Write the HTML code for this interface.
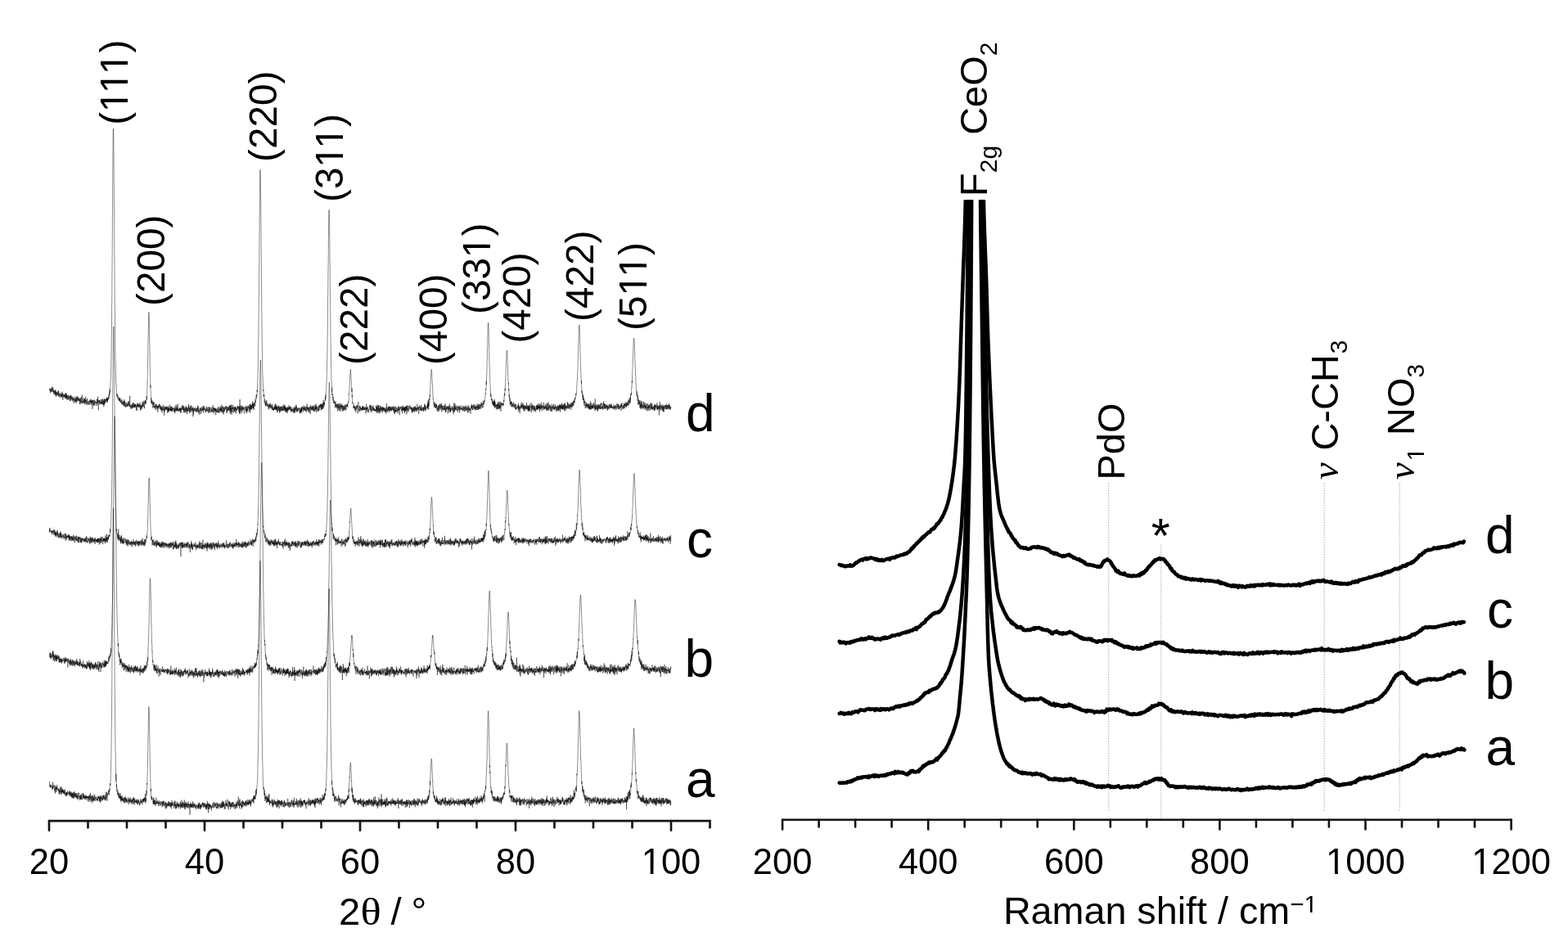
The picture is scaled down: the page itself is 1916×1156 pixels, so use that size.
<!DOCTYPE html>
<html><head><meta charset="utf-8"><title>XRD and Raman</title>
<style>html,body{margin:0;padding:0;background:#fff;overflow:hidden}svg{display:block}</style></head>
<body>
<svg width="1916" height="1156" viewBox="0 0 1916 1156">
<defs><clipPath id="rc"><rect x="1000" y="244.3" width="900" height="780"/></clipPath></defs>
<rect width="1916" height="1156" fill="#fff"/>
<g fill="none" stroke="#000" stroke-width="0.45" stroke-linejoin="round">
<path d="M60.3,476.6 L60.5,477.4 L60.6,476.1 L60.8,474.8 L60.9,475.9 L61.1,474.7 L61.3,477.2 L61.4,480.2 L61.6,476.1 L61.7,475.9 L61.9,478.5 L62.1,478.3 L62.2,477.8 L62.4,475.5 L62.5,477.6 L62.7,479.4 L62.9,474.7 L63.0,476.9 L63.2,473.6 L63.3,472.7 L63.5,473.9 L63.7,477.7 L63.8,475.4 L64.0,479.0 L64.1,479.1 L64.3,478.1 L64.5,472.8 L64.6,477.4 L64.8,478.6 L64.9,479.1 L65.1,475.4 L65.3,477.9 L65.4,476.8 L65.6,477.2 L65.7,481.6 L65.9,477.4 L66.1,479.2 L66.2,481.4 L66.4,478.1 L66.5,479.3 L66.7,479.9 L66.9,479.8 L67.0,476.9 L67.2,480.0 L67.3,483.0 L67.5,476.4 L67.7,482.0 L67.8,480.4 L68.0,478.7 L68.1,484.8 L68.3,482.1 L68.5,477.6 L68.6,480.6 L68.8,481.8 L68.9,480.1 L69.1,482.2 L69.3,480.6 L69.4,483.5 L69.6,484.1 L69.7,479.4 L69.9,481.4 L70.1,480.0 L70.2,481.4 L70.4,478.4 L70.5,479.9 L70.7,480.8 L70.9,483.4 L71.0,484.1 L71.2,478.4 L71.3,479.7 L71.5,483.1 L71.7,477.1 L71.8,480.7 L72.0,481.6 L72.1,484.8 L72.3,483.5 L72.5,481.3 L72.6,481.2 L72.8,481.6 L72.9,485.7 L73.1,481.3 L73.3,481.6 L73.4,483.2 L73.6,482.2 L73.7,482.1 L73.9,480.0 L74.1,482.6 L74.2,481.7 L74.4,485.4 L74.5,484.3 L74.7,482.8 L74.9,484.5 L75.0,482.2 L75.2,485.5 L75.3,483.1 L75.5,484.5 L75.7,480.3 L75.8,484.1 L76.0,479.5 L76.1,478.7 L76.3,482.8 L76.5,481.5 L76.6,484.0 L76.8,488.8 L76.9,481.8 L77.1,481.2 L77.3,484.3 L77.4,485.0 L77.6,483.5 L77.7,483.5 L77.9,485.7 L78.1,485.3 L78.2,481.8 L78.4,484.0 L78.5,484.4 L78.7,481.9 L78.9,485.0 L79.0,482.5 L79.2,486.7 L79.3,485.0 L79.5,484.8 L79.7,483.3 L79.8,484.4 L80.0,480.2 L80.1,482.2 L80.3,485.7 L80.5,480.0 L80.6,486.9 L80.8,481.0 L80.9,486.8 L81.1,483.2 L81.3,487.0 L81.4,485.5 L81.6,481.7 L81.7,488.2 L81.9,488.7 L82.1,485.3 L82.2,484.8 L82.4,485.1 L82.5,483.3 L82.7,488.1 L82.9,484.4 L83.0,485.6 L83.2,483.9 L83.3,484.3 L83.5,482.9 L83.7,488.8 L83.8,485.6 L84.0,488.2 L84.1,486.1 L84.3,484.5 L84.5,485.4 L84.6,484.9 L84.8,486.2 L84.9,485.4 L85.1,485.6 L85.3,483.2 L85.4,484.5 L85.6,490.2 L85.7,484.9 L85.9,484.1 L86.1,487.4 L86.2,489.9 L86.4,483.3 L86.5,486.2 L86.7,485.3 L86.9,482.8 L87.0,488.5 L87.2,486.8 L87.3,487.1 L87.5,485.3 L87.7,488.1 L87.8,485.8 L88.0,486.8 L88.1,484.6 L88.3,484.4 L88.5,490.3 L88.6,486.1 L88.8,488.0 L88.9,487.3 L89.1,486.4 L89.3,486.3 L89.4,489.0 L89.6,486.9 L89.7,487.3 L89.9,487.7 L90.1,492.6 L90.2,489.3 L90.4,488.7 L90.5,486.5 L90.7,484.7 L90.9,490.1 L91.0,490.2 L91.2,487.7 L91.3,489.3 L91.5,489.9 L91.7,490.0 L91.8,490.3 L92.0,487.1 L92.1,491.7 L92.3,485.4 L92.5,490.3 L92.6,489.5 L92.8,490.4 L92.9,492.8 L93.1,491.9 L93.3,485.9 L93.4,484.7 L93.6,490.5 L93.7,486.3 L93.9,488.6 L94.1,490.6 L94.2,485.0 L94.4,483.9 L94.5,489.4 L94.7,489.0 L94.9,488.3 L95.0,489.0 L95.2,487.0 L95.3,485.5 L95.5,488.7 L95.7,486.8 L95.8,485.3 L96.0,490.3 L96.1,489.0 L96.3,490.2 L96.5,487.0 L96.6,487.8 L96.8,487.0 L96.9,487.3 L97.1,489.8 L97.3,487.6 L97.4,490.3 L97.6,490.3 L97.7,494.2 L97.9,486.4 L98.1,493.3 L98.2,489.4 L98.4,489.6 L98.5,486.4 L98.7,488.7 L98.9,491.5 L99.0,489.6 L99.2,490.0 L99.3,489.2 L99.5,492.5 L99.7,489.9 L99.8,484.9 L100.0,488.4 L100.1,485.5 L100.3,482.5 L100.5,488.8 L100.6,493.1 L100.8,490.2 L100.9,487.4 L101.1,488.0 L101.3,492.8 L101.4,490.6 L101.6,490.3 L101.7,490.1 L101.9,490.4 L102.1,492.2 L102.2,491.6 L102.4,490.9 L102.5,486.1 L102.7,491.6 L102.9,488.9 L103.0,493.0 L103.2,487.6 L103.3,490.2 L103.5,490.5 L103.7,487.5 L103.8,494.5 L104.0,493.9 L104.1,489.5 L104.3,492.4 L104.5,492.2 L104.6,484.7 L104.8,491.3 L104.9,490.6 L105.1,490.9 L105.3,488.3 L105.4,490.1 L105.6,490.4 L105.7,493.5 L105.9,491.6 L106.1,490.8 L106.2,494.4 L106.4,489.6 L106.5,490.0 L106.7,486.7 L106.9,494.5 L107.0,493.2 L107.2,493.1 L107.3,492.5 L107.5,491.3 L107.7,491.5 L107.8,490.5 L108.0,490.6 L108.1,491.2 L108.3,494.6 L108.5,492.4 L108.6,491.0 L108.8,489.8 L108.9,489.7 L109.1,494.9 L109.3,492.4 L109.4,491.4 L109.6,490.4 L109.7,488.7 L109.9,491.1 L110.1,493.3 L110.2,490.4 L110.4,490.8 L110.5,490.8 L110.7,491.6 L110.9,487.7 L111.0,490.8 L111.2,489.4 L111.3,493.4 L111.5,488.2 L111.7,492.7 L111.8,494.9 L112.0,490.7 L112.1,490.1 L112.3,491.9 L112.5,491.5 L112.6,489.2 L112.8,492.5 L112.9,499.8 L113.1,490.9 L113.3,491.1 L113.4,489.1 L113.6,492.3 L113.7,488.7 L113.9,489.0 L114.1,494.5 L114.2,489.5 L114.4,494.1 L114.5,495.1 L114.7,492.2 L114.9,492.9 L115.0,496.1 L115.2,491.2 L115.3,490.3 L115.5,488.5 L115.7,491.8 L115.8,495.1 L116.0,493.9 L116.1,489.5 L116.3,489.7 L116.5,490.5 L116.6,492.4 L116.8,491.2 L116.9,492.2 L117.1,492.4 L117.3,491.0 L117.4,491.6 L117.6,492.2 L117.7,491.6 L117.9,492.9 L118.1,496.1 L118.2,493.1 L118.4,491.9 L118.5,487.9 L118.7,493.4 L118.9,487.3 L119.0,488.5 L119.2,493.8 L119.3,493.4 L119.5,491.4 L119.7,484.7 L119.8,490.9 L120.0,490.2 L120.1,493.3 L120.3,501.1 L120.5,492.3 L120.6,490.0 L120.8,489.1 L120.9,491.7 L121.1,491.4 L121.3,489.1 L121.4,492.1 L121.6,489.1 L121.7,494.3 L121.9,494.2 L122.1,494.3 L122.2,490.7 L122.4,493.0 L122.5,491.5 L122.7,490.9 L122.9,491.0 L123.0,488.8 L123.2,488.4 L123.3,493.5 L123.5,491.3 L123.7,492.2 L123.8,494.0 L124.0,487.7 L124.1,489.9 L124.3,492.0 L124.5,492.5 L124.6,490.7 L124.8,494.0 L124.9,492.1 L125.1,488.8 L125.3,489.4 L125.4,493.4 L125.6,492.5 L125.7,487.1 L125.9,494.5 L126.1,492.8 L126.2,494.5 L126.4,490.5 L126.5,490.6 L126.7,488.7 L126.9,497.1 L127.0,490.8 L127.2,494.8 L127.3,489.6 L127.5,491.4 L127.7,487.1 L127.8,490.1 L128.0,493.1 L128.1,487.9 L128.3,493.2 L128.5,491.5 L128.6,488.2 L128.8,489.4 L128.9,489.4 L129.1,490.2 L129.3,489.0 L129.4,488.3 L129.6,489.4 L129.7,487.6 L129.9,486.9 L130.1,489.6 L130.2,491.6 L130.4,485.9 L130.5,489.3 L130.7,487.6 L130.9,486.7 L131.0,490.7 L131.2,487.4 L131.3,491.8 L131.5,486.4 L131.7,488.8 L131.8,487.1 L132.0,485.7 L132.1,488.5 L132.3,486.4 L132.5,487.8 L132.6,486.0 L132.8,483.2 L132.9,485.0 L133.1,484.9 L133.3,486.5 L133.4,481.6 L133.6,483.0 L133.7,478.4 L133.9,483.0 L134.1,478.1 L134.2,475.4 L134.4,478.2 L134.5,479.4 L134.7,471.6 L134.9,470.4 L135.0,468.6 L135.2,464.5 L135.3,463.9 L135.5,456.2 L135.7,450.3 L135.8,445.9 L136.0,433.8 L136.1,425.8 L136.3,409.9 L136.5,394.6 L136.6,376.3 L136.8,365.6 L136.9,340.0 L137.1,318.5 L137.3,294.0 L137.4,269.5 L137.6,244.6 L137.7,222.7 L137.9,197.9 L138.1,179.2 L138.2,165.8 L138.4,157.5 L138.5,157.1 L138.7,162.1 L138.9,172.1 L139.0,188.0 L139.2,209.2 L139.3,235.5 L139.5,253.2 L139.7,282.7 L139.8,304.5 L140.0,331.8 L140.1,349.4 L140.3,371.0 L140.5,386.1 L140.6,403.1 L140.8,422.3 L140.9,432.7 L141.1,439.7 L141.3,445.3 L141.4,451.3 L141.6,460.3 L141.7,465.6 L141.9,469.2 L142.1,472.1 L142.2,472.1 L142.4,476.5 L142.5,478.2 L142.7,482.7 L142.9,485.2 L143.0,481.6 L143.2,481.0 L143.3,483.4 L143.5,482.8 L143.7,483.1 L143.8,485.3 L144.0,483.6 L144.1,487.8 L144.3,486.6 L144.5,487.9 L144.6,487.3 L144.8,485.0 L144.9,486.2 L145.1,488.1 L145.3,487.7 L145.4,489.8 L145.6,489.5 L145.7,486.6 L145.9,490.1 L146.1,487.1 L146.2,489.0 L146.4,489.9 L146.5,486.0 L146.7,491.1 L146.9,491.4 L147.0,490.9 L147.2,490.4 L147.3,490.7 L147.5,489.4 L147.7,491.2 L147.8,490.6 L148.0,492.2 L148.1,487.2 L148.3,492.8 L148.5,492.7 L148.6,492.1 L148.8,491.5 L148.9,493.9 L149.1,488.9 L149.3,493.9 L149.4,493.4 L149.6,493.6 L149.7,493.9 L149.9,491.6 L150.1,492.6 L150.2,494.7 L150.4,494.3 L150.5,493.9 L150.7,490.0 L150.9,494.7 L151.0,496.3 L151.2,495.9 L151.3,494.2 L151.5,490.1 L151.7,495.9 L151.8,493.5 L152.0,488.0 L152.1,494.8 L152.3,490.5 L152.5,491.0 L152.6,492.6 L152.8,497.0 L152.9,493.3 L153.1,494.8 L153.3,498.2 L153.4,497.9 L153.6,494.1 L153.7,493.8 L153.9,491.5 L154.1,492.8 L154.2,495.4 L154.4,495.4 L154.5,494.8 L154.7,496.8 L154.9,492.8 L155.0,494.5 L155.2,496.3 L155.3,496.0 L155.5,497.2 L155.7,495.6 L155.8,494.0 L156.0,495.6 L156.1,492.5 L156.3,491.1 L156.5,496.2 L156.6,494.7 L156.8,495.6 L156.9,491.0 L157.1,494.1 L157.3,493.6 L157.4,493.0 L157.6,489.8 L157.7,494.3 L157.9,497.1 L158.1,496.7 L158.2,493.7 L158.4,495.1 L158.5,496.9 L158.7,483.7 L158.9,494.9 L159.0,496.5 L159.2,496.8 L159.3,499.2 L159.5,497.9 L159.7,496.0 L159.8,496.0 L160.0,497.1 L160.1,494.1 L160.3,495.3 L160.5,497.5 L160.6,499.9 L160.8,495.0 L160.9,495.3 L161.1,495.9 L161.3,498.5 L161.4,495.4 L161.6,498.9 L161.7,493.3 L161.9,495.1 L162.1,494.7 L162.2,497.3 L162.4,498.0 L162.5,492.1 L162.7,493.5 L162.9,496.4 L163.0,494.1 L163.2,492.1 L163.3,498.0 L163.5,496.8 L163.7,496.8 L163.8,494.6 L164.0,498.0 L164.1,495.1 L164.3,498.2 L164.5,493.6 L164.6,493.8 L164.8,496.2 L164.9,494.1 L165.1,497.3 L165.3,496.4 L165.4,493.6 L165.6,495.9 L165.7,495.0 L165.9,497.9 L166.1,494.3 L166.2,494.8 L166.4,498.6 L166.5,501.0 L166.7,500.4 L166.9,496.1 L167.0,496.4 L167.2,502.2 L167.3,495.6 L167.5,493.6 L167.7,496.1 L167.8,496.9 L168.0,494.0 L168.1,492.1 L168.3,492.6 L168.5,497.4 L168.6,494.2 L168.8,495.6 L168.9,496.4 L169.1,497.3 L169.3,495.1 L169.4,497.1 L169.6,493.9 L169.7,495.1 L169.9,493.6 L170.1,498.5 L170.2,495.8 L170.4,494.2 L170.5,495.1 L170.7,495.4 L170.9,497.5 L171.0,492.2 L171.2,493.5 L171.3,495.0 L171.5,501.7 L171.7,498.1 L171.8,495.6 L172.0,497.5 L172.1,500.6 L172.3,495.3 L172.5,495.0 L172.6,498.6 L172.8,496.9 L172.9,497.3 L173.1,494.6 L173.3,500.2 L173.4,499.6 L173.6,497.0 L173.7,497.2 L173.9,491.0 L174.1,497.1 L174.2,495.1 L174.4,496.5 L174.5,497.1 L174.7,494.7 L174.9,491.5 L175.0,496.2 L175.2,493.6 L175.3,494.5 L175.5,493.8 L175.7,494.3 L175.8,489.7 L176.0,497.7 L176.1,495.4 L176.3,497.3 L176.5,499.2 L176.6,494.6 L176.8,490.2 L176.9,490.5 L177.1,491.3 L177.3,492.7 L177.4,493.9 L177.6,488.9 L177.7,494.0 L177.9,489.4 L178.1,493.2 L178.2,491.9 L178.4,490.9 L178.5,490.9 L178.7,489.0 L178.9,487.9 L179.0,484.2 L179.2,486.4 L179.3,488.7 L179.5,486.5 L179.7,481.8 L179.8,476.4 L180.0,467.1 L180.1,467.5 L180.3,457.3 L180.5,449.5 L180.6,440.5 L180.8,431.9 L180.9,421.3 L181.1,412.0 L181.3,401.5 L181.4,393.9 L181.6,389.1 L181.7,383.0 L181.9,381.4 L182.1,383.4 L182.2,388.0 L182.4,393.3 L182.5,402.6 L182.7,413.4 L182.9,422.6 L183.0,432.2 L183.2,444.3 L183.3,448.5 L183.5,457.9 L183.7,462.3 L183.8,473.7 L184.0,470.7 L184.1,477.6 L184.3,481.2 L184.5,486.5 L184.6,488.4 L184.8,491.9 L184.9,486.3 L185.1,492.6 L185.3,491.0 L185.4,490.8 L185.6,494.1 L185.7,491.2 L185.9,488.9 L186.1,493.2 L186.2,490.9 L186.4,491.9 L186.5,495.6 L186.7,496.3 L186.9,498.8 L187.0,494.9 L187.2,492.0 L187.3,493.9 L187.5,493.7 L187.7,490.9 L187.8,497.1 L188.0,494.7 L188.1,491.7 L188.3,498.0 L188.5,496.2 L188.6,497.4 L188.8,496.9 L188.9,498.2 L189.1,496.9 L189.3,499.7 L189.4,497.9 L189.6,497.9 L189.7,498.0 L189.9,493.8 L190.1,496.8 L190.2,496.7 L190.4,497.8 L190.5,494.2 L190.7,501.2 L190.9,497.7 L191.0,494.7 L191.2,493.6 L191.3,496.4 L191.5,497.4 L191.7,496.0 L191.8,497.9 L192.0,496.3 L192.1,499.1 L192.3,496.2 L192.5,497.8 L192.6,500.1 L192.8,503.8 L192.9,495.6 L193.1,496.9 L193.3,496.1 L193.4,499.9 L193.6,495.4 L193.7,497.0 L193.9,498.1 L194.1,495.9 L194.2,496.0 L194.4,497.1 L194.5,493.4 L194.7,495.0 L194.9,497.4 L195.0,498.7 L195.2,497.9 L195.3,494.3 L195.5,497.3 L195.7,500.3 L195.8,499.7 L196.0,498.3 L196.1,496.4 L196.3,500.0 L196.5,497.2 L196.6,495.9 L196.8,496.7 L196.9,501.9 L197.1,499.1 L197.3,501.3 L197.4,497.5 L197.6,500.8 L197.7,497.3 L197.9,498.3 L198.1,504.4 L198.2,500.5 L198.4,497.6 L198.5,498.6 L198.7,499.6 L198.9,501.6 L199.0,497.7 L199.2,494.8 L199.3,498.2 L199.5,498.9 L199.7,499.2 L199.8,501.9 L200.0,499.7 L200.1,500.8 L200.3,496.4 L200.5,501.0 L200.6,507.7 L200.8,500.8 L200.9,500.1 L201.1,499.4 L201.3,503.2 L201.4,496.9 L201.6,498.8 L201.7,500.2 L201.9,500.8 L202.1,498.1 L202.2,499.9 L202.4,498.0 L202.5,499.4 L202.7,498.9 L202.9,496.6 L203.0,499.2 L203.2,501.2 L203.3,497.0 L203.5,498.7 L203.7,500.8 L203.8,496.8 L204.0,499.7 L204.1,496.9 L204.3,501.9 L204.5,504.6 L204.6,504.0 L204.8,498.8 L204.9,501.1 L205.1,499.6 L205.3,499.6 L205.4,502.9 L205.6,496.4 L205.7,503.8 L205.9,499.3 L206.1,502.7 L206.2,499.9 L206.4,497.9 L206.5,500.1 L206.7,502.5 L206.9,499.6 L207.0,500.6 L207.2,498.3 L207.3,494.6 L207.5,501.6 L207.7,501.1 L207.8,499.9 L208.0,499.7 L208.1,501.9 L208.3,498.5 L208.5,497.9 L208.6,499.1 L208.8,502.3 L208.9,496.4 L209.1,502.3 L209.3,498.1 L209.4,497.1 L209.6,502.5 L209.7,499.4 L209.9,496.7 L210.1,498.8 L210.2,501.8 L210.4,502.4 L210.5,498.7 L210.7,500.6 L210.9,502.6 L211.0,498.2 L211.2,500.5 L211.3,499.6 L211.5,498.5 L211.7,498.6 L211.8,499.9 L212.0,499.8 L212.1,498.5 L212.3,498.8 L212.5,502.3 L212.6,500.3 L212.8,501.8 L212.9,502.6 L213.1,501.2 L213.3,505.0 L213.4,497.9 L213.6,501.7 L213.7,499.1 L213.9,504.1 L214.1,503.8 L214.2,495.4 L214.4,497.6 L214.5,501.4 L214.7,501.7 L214.9,501.6 L215.0,499.7 L215.2,501.0 L215.3,501.4 L215.5,499.7 L215.7,502.3 L215.8,494.7 L216.0,501.4 L216.1,497.6 L216.3,502.2 L216.5,499.4 L216.6,497.9 L216.8,500.8 L216.9,497.9 L217.1,497.9 L217.3,493.5 L217.4,500.0 L217.6,501.2 L217.7,502.4 L217.9,499.7 L218.1,502.5 L218.2,500.1 L218.4,499.8 L218.5,501.4 L218.7,502.5 L218.9,499.3 L219.0,499.5 L219.2,499.7 L219.3,500.3 L219.5,498.0 L219.7,502.5 L219.8,499.2 L220.0,501.2 L220.1,498.2 L220.3,501.0 L220.5,501.8 L220.6,499.2 L220.8,504.8 L220.9,501.0 L221.1,504.3 L221.3,502.4 L221.4,498.7 L221.6,499.3 L221.7,501.2 L221.9,500.4 L222.1,500.3 L222.2,499.6 L222.4,496.1 L222.5,499.7 L222.7,495.2 L222.9,501.1 L223.0,498.6 L223.2,498.6 L223.3,499.8 L223.5,500.9 L223.7,497.0 L223.8,496.3 L224.0,497.9 L224.1,495.6 L224.3,498.1 L224.5,504.0 L224.6,497.9 L224.8,501.8 L224.9,497.2 L225.1,501.0 L225.3,499.6 L225.4,500.2 L225.6,501.7 L225.7,504.4 L225.9,500.8 L226.1,500.7 L226.2,498.2 L226.4,501.7 L226.5,499.8 L226.7,502.3 L226.9,500.3 L227.0,504.4 L227.2,495.9 L227.3,499.8 L227.5,502.5 L227.7,499.6 L227.8,498.6 L228.0,499.8 L228.1,497.3 L228.3,500.7 L228.5,506.1 L228.6,503.1 L228.8,497.9 L228.9,498.5 L229.1,499.6 L229.3,502.8 L229.4,498.6 L229.6,498.9 L229.7,502.6 L229.9,502.5 L230.1,499.0 L230.2,498.0 L230.4,494.1 L230.5,498.9 L230.7,495.4 L230.9,502.3 L231.0,499.1 L231.2,501.7 L231.3,504.9 L231.5,503.3 L231.7,497.9 L231.8,502.6 L232.0,503.3 L232.1,498.9 L232.3,498.4 L232.5,500.4 L232.6,496.9 L232.8,504.0 L232.9,495.1 L233.1,498.1 L233.3,500.0 L233.4,500.1 L233.6,501.0 L233.7,501.3 L233.9,500.2 L234.1,503.3 L234.2,495.7 L234.4,500.7 L234.5,499.0 L234.7,501.2 L234.9,501.2 L235.0,498.6 L235.2,499.2 L235.3,502.5 L235.5,501.5 L235.7,499.1 L235.8,509.1 L236.0,506.0 L236.1,497.3 L236.3,501.4 L236.5,506.5 L236.6,502.5 L236.8,501.2 L236.9,500.2 L237.1,499.5 L237.3,500.2 L237.4,499.5 L237.6,502.5 L237.7,499.8 L237.9,499.7 L238.1,498.0 L238.2,500.6 L238.4,498.7 L238.5,500.3 L238.7,503.2 L238.9,501.6 L239.0,501.9 L239.2,501.6 L239.3,500.9 L239.5,500.5 L239.7,500.1 L239.8,502.5 L240.0,498.3 L240.1,503.9 L240.3,500.9 L240.5,499.1 L240.6,499.7 L240.8,499.2 L240.9,501.2 L241.1,499.2 L241.3,503.4 L241.4,499.0 L241.6,495.6 L241.7,499.1 L241.9,496.2 L242.1,500.7 L242.2,503.3 L242.4,502.3 L242.5,497.8 L242.7,499.1 L242.9,504.9 L243.0,501.6 L243.2,500.8 L243.3,503.3 L243.5,506.5 L243.7,503.8 L243.8,501.2 L244.0,501.7 L244.1,502.3 L244.3,499.4 L244.5,498.4 L244.6,501.0 L244.8,498.7 L244.9,500.7 L245.1,501.1 L245.3,506.2 L245.4,498.9 L245.6,500.6 L245.7,500.5 L245.9,501.9 L246.1,503.3 L246.2,499.7 L246.4,499.0 L246.5,497.1 L246.7,498.7 L246.9,502.1 L247.0,501.0 L247.2,498.5 L247.3,500.0 L247.5,500.9 L247.7,502.0 L247.8,499.5 L248.0,500.3 L248.1,496.7 L248.3,498.2 L248.5,504.6 L248.6,495.8 L248.8,500.1 L248.9,501.4 L249.1,500.0 L249.3,499.0 L249.4,500.7 L249.6,500.9 L249.7,500.7 L249.9,496.5 L250.1,500.5 L250.2,498.9 L250.4,499.6 L250.5,501.4 L250.7,502.3 L250.9,502.9 L251.0,499.7 L251.2,503.0 L251.3,503.6 L251.5,503.5 L251.7,504.1 L251.8,500.5 L252.0,500.5 L252.1,502.7 L252.3,497.7 L252.5,501.3 L252.6,499.6 L252.8,500.0 L252.9,496.8 L253.1,498.8 L253.3,500.8 L253.4,502.9 L253.6,503.1 L253.7,500.5 L253.9,500.4 L254.1,498.9 L254.2,501.8 L254.4,500.3 L254.5,502.2 L254.7,504.9 L254.9,500.7 L255.0,497.4 L255.2,498.8 L255.3,497.5 L255.5,498.1 L255.7,503.8 L255.8,501.3 L256.0,497.3 L256.1,502.3 L256.3,503.7 L256.5,500.0 L256.6,499.2 L256.8,500.0 L256.9,501.4 L257.1,502.3 L257.3,503.5 L257.4,503.6 L257.6,503.5 L257.7,503.9 L257.9,502.3 L258.1,497.3 L258.2,500.5 L258.4,501.5 L258.5,499.9 L258.7,502.9 L258.9,499.9 L259.0,498.6 L259.2,504.1 L259.3,502.3 L259.5,501.3 L259.7,502.9 L259.8,503.2 L260.0,501.5 L260.1,495.1 L260.3,499.2 L260.5,499.7 L260.6,498.5 L260.8,501.2 L260.9,503.5 L261.1,499.6 L261.3,498.1 L261.4,505.4 L261.6,499.7 L261.7,497.9 L261.9,501.2 L262.1,501.7 L262.2,499.1 L262.4,502.5 L262.5,499.6 L262.7,498.6 L262.9,501.4 L263.0,502.4 L263.2,499.2 L263.3,501.4 L263.5,500.4 L263.7,507.2 L263.8,499.0 L264.0,503.8 L264.1,500.5 L264.3,500.1 L264.5,502.3 L264.6,502.7 L264.8,503.5 L264.9,501.4 L265.1,499.2 L265.3,499.4 L265.4,501.8 L265.6,501.9 L265.7,503.8 L265.9,501.6 L266.1,503.0 L266.2,504.1 L266.4,501.0 L266.5,497.2 L266.7,497.9 L266.9,497.3 L267.0,504.2 L267.2,498.6 L267.3,503.4 L267.5,503.0 L267.7,504.5 L267.8,502.9 L268.0,500.3 L268.1,500.1 L268.3,500.7 L268.5,500.9 L268.6,499.3 L268.8,500.4 L268.9,504.2 L269.1,496.6 L269.3,501.1 L269.4,498.4 L269.6,500.9 L269.7,502.4 L269.9,500.4 L270.1,502.3 L270.2,496.8 L270.4,503.0 L270.5,499.1 L270.7,501.9 L270.9,500.9 L271.0,494.5 L271.2,498.7 L271.3,501.0 L271.5,504.0 L271.7,501.1 L271.8,501.0 L272.0,497.2 L272.1,503.7 L272.3,504.6 L272.5,500.5 L272.6,499.9 L272.8,496.7 L272.9,502.4 L273.1,506.6 L273.3,502.0 L273.4,503.3 L273.6,501.6 L273.7,498.1 L273.9,503.4 L274.1,497.5 L274.2,499.9 L274.4,501.0 L274.5,502.4 L274.7,501.3 L274.9,501.2 L275.0,498.6 L275.2,497.4 L275.3,500.5 L275.5,498.7 L275.7,497.3 L275.8,497.4 L276.0,499.2 L276.1,496.0 L276.3,497.2 L276.5,496.5 L276.6,500.7 L276.8,501.2 L276.9,504.9 L277.1,496.8 L277.3,498.7 L277.4,502.4 L277.6,499.8 L277.7,499.5 L277.9,504.2 L278.1,498.8 L278.2,497.6 L278.4,497.2 L278.5,501.0 L278.7,500.9 L278.9,497.1 L279.0,497.9 L279.2,501.4 L279.3,501.5 L279.5,498.7 L279.7,501.6 L279.8,501.5 L280.0,496.1 L280.1,499.4 L280.3,501.1 L280.5,498.8 L280.6,495.2 L280.8,499.5 L280.9,501.9 L281.1,503.8 L281.3,495.1 L281.4,506.1 L281.6,497.5 L281.7,502.3 L281.9,502.9 L282.1,502.4 L282.2,500.4 L282.4,495.3 L282.5,501.5 L282.7,498.4 L282.9,494.3 L283.0,506.6 L283.2,501.7 L283.3,504.2 L283.5,498.0 L283.7,503.4 L283.8,503.7 L284.0,503.6 L284.1,500.0 L284.3,497.3 L284.5,499.6 L284.6,494.9 L284.8,496.1 L284.9,500.2 L285.1,497.7 L285.3,499.6 L285.4,499.7 L285.6,504.4 L285.7,503.0 L285.9,499.9 L286.1,502.7 L286.2,498.2 L286.4,499.2 L286.5,502.0 L286.7,497.1 L286.9,499.3 L287.0,496.9 L287.2,500.2 L287.3,503.7 L287.5,498.2 L287.7,500.4 L287.8,497.8 L288.0,497.2 L288.1,497.0 L288.3,503.2 L288.5,505.3 L288.6,501.0 L288.8,498.2 L288.9,501.5 L289.1,499.1 L289.3,501.7 L289.4,500.5 L289.6,500.5 L289.7,501.2 L289.9,498.5 L290.1,498.9 L290.2,495.8 L290.4,498.8 L290.5,496.5 L290.7,499.4 L290.9,497.6 L291.0,500.0 L291.2,500.8 L291.3,496.5 L291.5,497.9 L291.7,497.6 L291.8,501.4 L292.0,503.6 L292.1,501.7 L292.3,498.9 L292.5,505.7 L292.6,496.2 L292.8,503.1 L292.9,498.1 L293.1,488.1 L293.3,505.7 L293.4,503.3 L293.6,495.4 L293.7,500.0 L293.9,499.1 L294.1,499.8 L294.2,496.2 L294.4,498.0 L294.5,500.6 L294.7,500.1 L294.9,502.3 L295.0,499.7 L295.2,504.9 L295.3,497.9 L295.5,500.1 L295.7,495.1 L295.8,496.6 L296.0,502.5 L296.1,497.3 L296.3,500.7 L296.5,499.3 L296.6,497.0 L296.8,498.6 L296.9,498.2 L297.1,498.3 L297.3,501.1 L297.4,500.8 L297.6,498.0 L297.7,497.2 L297.9,499.9 L298.1,499.1 L298.2,501.6 L298.4,505.4 L298.5,501.2 L298.7,499.1 L298.9,498.8 L299.0,497.2 L299.2,497.1 L299.3,496.8 L299.5,498.2 L299.7,498.1 L299.8,500.8 L300.0,498.1 L300.1,498.6 L300.3,496.2 L300.5,502.8 L300.6,500.1 L300.8,503.1 L300.9,500.8 L301.1,502.3 L301.3,498.3 L301.4,500.5 L301.6,505.1 L301.7,496.0 L301.9,501.5 L302.1,502.7 L302.2,499.7 L302.4,500.4 L302.5,501.6 L302.7,497.1 L302.9,499.6 L303.0,496.5 L303.2,496.9 L303.3,497.0 L303.5,498.1 L303.7,498.8 L303.8,499.4 L304.0,495.0 L304.1,503.0 L304.3,501.0 L304.5,501.3 L304.6,497.3 L304.8,497.9 L304.9,499.3 L305.1,499.0 L305.3,494.0 L305.4,499.6 L305.6,504.7 L305.7,493.4 L305.9,500.1 L306.1,498.5 L306.2,497.3 L306.4,500.8 L306.5,494.7 L306.7,497.8 L306.9,500.7 L307.0,496.7 L307.2,496.1 L307.3,497.3 L307.5,495.9 L307.7,500.5 L307.8,494.6 L308.0,498.7 L308.1,493.6 L308.3,498.0 L308.5,496.0 L308.6,490.1 L308.8,496.0 L308.9,493.4 L309.1,493.8 L309.3,499.2 L309.4,492.8 L309.6,492.7 L309.7,498.5 L309.9,495.1 L310.1,501.2 L310.2,495.2 L310.4,492.1 L310.5,493.8 L310.7,496.6 L310.9,495.7 L311.0,493.1 L311.2,492.9 L311.3,492.2 L311.5,490.8 L311.7,496.3 L311.8,491.4 L312.0,488.2 L312.1,489.3 L312.3,491.6 L312.5,490.9 L312.6,488.4 L312.8,486.5 L312.9,487.4 L313.1,482.6 L313.3,482.5 L313.4,486.5 L313.6,482.3 L313.7,483.0 L313.9,483.4 L314.1,480.2 L314.2,476.6 L314.4,479.0 L314.5,472.4 L314.7,466.3 L314.9,464.5 L315.0,458.4 L315.2,449.2 L315.3,443.9 L315.5,434.7 L315.7,420.4 L315.8,412.8 L316.0,399.8 L316.1,384.9 L316.3,366.3 L316.5,351.5 L316.6,333.4 L316.8,314.1 L316.9,292.4 L317.1,274.9 L317.3,254.0 L317.4,238.0 L317.6,224.9 L317.7,213.0 L317.9,207.4 L318.1,207.6 L318.2,211.3 L318.4,220.5 L318.5,234.5 L318.7,251.9 L318.9,266.8 L319.0,287.9 L319.2,307.4 L319.3,326.8 L319.5,346.0 L319.7,363.7 L319.8,382.6 L320.0,394.8 L320.1,410.7 L320.3,423.2 L320.5,431.0 L320.6,442.0 L320.8,453.3 L320.9,456.7 L321.1,460.0 L321.3,465.9 L321.4,467.8 L321.6,473.8 L321.7,477.9 L321.9,476.2 L322.1,479.5 L322.2,484.3 L322.4,481.9 L322.5,484.7 L322.7,482.9 L322.9,484.3 L323.0,485.9 L323.2,492.8 L323.3,487.6 L323.5,487.9 L323.7,488.4 L323.8,489.8 L324.0,492.2 L324.1,491.6 L324.3,496.3 L324.5,492.4 L324.6,495.6 L324.8,493.3 L324.9,494.4 L325.1,489.9 L325.3,493.2 L325.4,493.6 L325.6,493.5 L325.7,489.3 L325.9,496.5 L326.1,493.8 L326.2,493.9 L326.4,494.5 L326.5,494.7 L326.7,496.4 L326.9,492.7 L327.0,493.6 L327.2,496.5 L327.3,496.3 L327.5,495.3 L327.7,494.9 L327.8,494.4 L328.0,496.3 L328.1,499.3 L328.3,494.2 L328.5,500.3 L328.6,498.8 L328.8,495.9 L328.9,498.8 L329.1,493.7 L329.3,493.2 L329.4,494.3 L329.6,496.4 L329.7,496.7 L329.9,496.3 L330.1,497.8 L330.2,492.7 L330.4,498.8 L330.5,494.4 L330.7,496.2 L330.9,496.9 L331.0,495.2 L331.2,494.8 L331.3,495.6 L331.5,498.0 L331.7,499.4 L331.8,499.4 L332.0,495.8 L332.1,496.4 L332.3,496.1 L332.5,499.3 L332.6,493.6 L332.8,501.2 L332.9,497.2 L333.1,496.6 L333.3,499.2 L333.4,500.8 L333.6,499.3 L333.7,500.9 L333.9,498.8 L334.1,501.4 L334.2,501.5 L334.4,498.4 L334.5,501.9 L334.7,499.3 L334.9,498.9 L335.0,496.6 L335.2,498.1 L335.3,500.5 L335.5,495.8 L335.7,500.3 L335.8,499.6 L336.0,499.5 L336.1,493.8 L336.3,498.6 L336.5,500.4 L336.6,497.2 L336.8,499.1 L336.9,493.5 L337.1,500.5 L337.3,497.5 L337.4,501.0 L337.6,494.8 L337.7,500.6 L337.9,498.5 L338.1,500.9 L338.2,496.9 L338.4,497.7 L338.5,504.3 L338.7,497.2 L338.9,497.5 L339.0,498.5 L339.2,496.8 L339.3,501.9 L339.5,503.1 L339.7,497.6 L339.8,495.2 L340.0,501.9 L340.1,501.8 L340.3,501.1 L340.5,501.9 L340.6,497.3 L340.8,498.9 L340.9,496.1 L341.1,496.0 L341.3,501.6 L341.4,497.8 L341.6,504.6 L341.7,499.5 L341.9,497.9 L342.1,501.2 L342.2,503.5 L342.4,500.5 L342.5,496.6 L342.7,500.2 L342.9,502.6 L343.0,498.3 L343.2,497.6 L343.3,501.8 L343.5,499.8 L343.7,496.9 L343.8,498.6 L344.0,497.7 L344.1,500.2 L344.3,499.7 L344.5,502.1 L344.6,501.1 L344.8,495.9 L344.9,500.4 L345.1,501.6 L345.3,500.6 L345.4,501.9 L345.6,498.3 L345.7,497.4 L345.9,501.7 L346.1,497.1 L346.2,494.6 L346.4,501.9 L346.5,497.9 L346.7,498.9 L346.9,496.4 L347.0,496.6 L347.2,497.0 L347.3,498.8 L347.5,500.5 L347.7,494.3 L347.8,501.4 L348.0,496.9 L348.1,497.2 L348.3,502.5 L348.5,499.5 L348.6,496.1 L348.8,503.9 L348.9,497.7 L349.1,500.3 L349.3,500.2 L349.4,502.9 L349.6,498.7 L349.7,502.0 L349.9,498.0 L350.1,502.3 L350.2,498.0 L350.4,498.9 L350.5,504.1 L350.7,500.5 L350.9,500.0 L351.0,504.9 L351.2,500.6 L351.3,497.9 L351.5,501.5 L351.7,497.1 L351.8,502.4 L352.0,502.6 L352.1,498.5 L352.3,498.3 L352.5,500.2 L352.6,499.8 L352.8,497.6 L352.9,501.1 L353.1,495.1 L353.3,498.0 L353.4,498.9 L353.6,499.2 L353.7,500.5 L353.9,497.0 L354.1,501.2 L354.2,499.4 L354.4,498.4 L354.5,496.7 L354.7,497.1 L354.9,500.7 L355.0,497.7 L355.2,500.0 L355.3,502.3 L355.5,502.3 L355.7,503.5 L355.8,499.2 L356.0,497.4 L356.1,502.2 L356.3,500.6 L356.5,502.5 L356.6,499.9 L356.8,502.7 L356.9,501.9 L357.1,501.6 L357.3,501.1 L357.4,500.8 L357.6,500.5 L357.7,500.5 L357.9,502.2 L358.1,498.8 L358.2,503.9 L358.4,499.7 L358.5,502.2 L358.7,499.7 L358.9,499.4 L359.0,504.6 L359.2,499.2 L359.3,497.0 L359.5,498.3 L359.7,499.2 L359.8,504.9 L360.0,500.5 L360.1,502.1 L360.3,497.7 L360.5,500.8 L360.6,501.5 L360.8,504.1 L360.9,498.4 L361.1,501.4 L361.3,500.7 L361.4,495.8 L361.6,500.0 L361.7,499.4 L361.9,494.7 L362.1,501.4 L362.2,501.3 L362.4,499.0 L362.5,496.9 L362.7,503.4 L362.9,500.6 L363.0,502.4 L363.2,503.3 L363.3,498.8 L363.5,501.9 L363.7,499.5 L363.8,499.9 L364.0,499.8 L364.1,500.0 L364.3,502.6 L364.5,500.3 L364.6,499.7 L364.8,499.4 L364.9,500.8 L365.1,498.0 L365.3,498.9 L365.4,499.9 L365.6,498.7 L365.7,499.8 L365.9,498.6 L366.1,504.7 L366.2,503.1 L366.4,501.1 L366.5,499.9 L366.7,505.1 L366.9,500.8 L367.0,499.8 L367.2,500.7 L367.3,500.7 L367.5,503.3 L367.7,500.0 L367.8,504.9 L368.0,498.0 L368.1,501.6 L368.3,497.7 L368.5,504.2 L368.6,499.3 L368.8,499.9 L368.9,502.2 L369.1,502.9 L369.3,497.5 L369.4,499.2 L369.6,496.8 L369.7,500.4 L369.9,499.8 L370.1,499.2 L370.2,498.5 L370.4,499.1 L370.5,498.3 L370.7,501.2 L370.9,503.5 L371.0,495.6 L371.2,499.8 L371.3,499.1 L371.5,501.2 L371.7,497.8 L371.8,499.7 L372.0,497.6 L372.1,501.6 L372.3,500.2 L372.5,499.6 L372.6,500.9 L372.8,499.4 L372.9,496.4 L373.1,501.4 L373.3,500.7 L373.4,499.6 L373.6,502.3 L373.7,502.8 L373.9,497.5 L374.1,498.2 L374.2,503.5 L374.4,503.2 L374.5,498.3 L374.7,497.2 L374.9,498.5 L375.0,498.8 L375.2,493.4 L375.3,500.0 L375.5,497.0 L375.7,497.1 L375.8,502.0 L376.0,498.4 L376.1,499.8 L376.3,501.4 L376.5,501.8 L376.6,499.1 L376.8,500.0 L376.9,498.0 L377.1,503.9 L377.3,501.4 L377.4,497.3 L377.6,499.9 L377.7,501.5 L377.9,501.8 L378.1,504.0 L378.2,503.0 L378.4,498.6 L378.5,499.6 L378.7,496.8 L378.9,500.4 L379.0,500.1 L379.2,506.0 L379.3,500.0 L379.5,494.9 L379.7,498.2 L379.8,500.0 L380.0,496.8 L380.1,497.7 L380.3,498.9 L380.5,500.5 L380.6,499.3 L380.8,497.6 L380.9,501.5 L381.1,498.4 L381.3,498.5 L381.4,496.4 L381.6,497.8 L381.7,501.1 L381.9,495.8 L382.1,499.4 L382.2,501.2 L382.4,498.7 L382.5,500.1 L382.7,496.9 L382.9,502.5 L383.0,502.0 L383.2,500.0 L383.3,495.4 L383.5,497.0 L383.7,501.6 L383.8,503.3 L384.0,500.0 L384.1,502.2 L384.3,497.9 L384.5,498.8 L384.6,499.3 L384.8,500.2 L384.9,495.7 L385.1,501.4 L385.3,502.2 L385.4,494.4 L385.6,496.0 L385.7,499.9 L385.9,497.6 L386.1,493.6 L386.2,500.9 L386.4,499.3 L386.5,497.9 L386.7,503.8 L386.9,499.2 L387.0,497.1 L387.2,499.1 L387.3,496.4 L387.5,497.0 L387.7,499.6 L387.8,497.4 L388.0,497.6 L388.1,502.5 L388.3,500.6 L388.5,500.4 L388.6,499.7 L388.8,499.6 L388.9,501.8 L389.1,498.3 L389.3,502.6 L389.4,496.1 L389.6,497.6 L389.7,495.0 L389.9,497.3 L390.1,499.3 L390.2,501.3 L390.4,496.4 L390.5,497.9 L390.7,497.0 L390.9,496.0 L391.0,494.9 L391.2,497.7 L391.3,493.5 L391.5,497.9 L391.7,497.4 L391.8,495.8 L392.0,494.9 L392.1,493.9 L392.3,501.3 L392.5,493.8 L392.6,500.4 L392.8,498.1 L392.9,495.7 L393.1,493.8 L393.3,498.7 L393.4,500.1 L393.6,493.9 L393.7,495.2 L393.9,498.1 L394.1,496.3 L394.2,500.0 L394.4,493.9 L394.5,496.2 L394.7,491.9 L394.9,499.4 L395.0,492.6 L395.2,489.0 L395.3,493.5 L395.5,493.2 L395.7,497.6 L395.8,492.1 L396.0,492.5 L396.1,493.5 L396.3,495.3 L396.5,491.1 L396.6,493.2 L396.8,491.4 L396.9,489.0 L397.1,489.2 L397.3,488.4 L397.4,485.4 L397.6,489.4 L397.7,482.4 L397.9,487.1 L398.1,485.2 L398.2,481.2 L398.4,477.7 L398.5,476.6 L398.7,475.5 L398.9,472.8 L399.0,467.9 L399.2,464.8 L399.3,455.7 L399.5,451.0 L399.7,439.2 L399.8,435.7 L400.0,424.3 L400.1,411.6 L400.3,402.4 L400.5,387.4 L400.6,366.1 L400.8,355.4 L400.9,336.7 L401.1,323.6 L401.3,308.8 L401.4,290.3 L401.6,277.4 L401.7,266.3 L401.9,259.5 L402.1,256.4 L402.2,257.8 L402.4,261.8 L402.5,272.7 L402.7,282.9 L402.9,298.4 L403.0,315.4 L403.2,331.4 L403.3,345.6 L403.5,362.0 L403.7,377.7 L403.8,392.9 L404.0,408.7 L404.1,415.3 L404.3,430.0 L404.5,439.8 L404.6,447.8 L404.8,454.7 L404.9,463.1 L405.1,465.9 L405.3,471.0 L405.4,473.9 L405.6,479.7 L405.7,473.7 L405.9,483.1 L406.1,481.4 L406.2,482.8 L406.4,482.5 L406.5,481.5 L406.7,485.9 L406.9,484.7 L407.0,489.5 L407.2,485.6 L407.3,492.9 L407.5,490.7 L407.7,490.0 L407.8,489.4 L408.0,489.7 L408.1,489.3 L408.3,491.0 L408.5,492.6 L408.6,492.5 L408.8,489.9 L408.9,492.8 L409.1,491.6 L409.3,494.3 L409.4,498.4 L409.6,495.8 L409.7,493.8 L409.9,491.0 L410.1,491.6 L410.2,491.2 L410.4,496.9 L410.5,493.6 L410.7,495.6 L410.9,494.2 L411.0,495.9 L411.2,499.1 L411.3,494.4 L411.5,495.3 L411.7,494.3 L411.8,498.3 L412.0,494.0 L412.1,493.8 L412.3,493.3 L412.5,493.3 L412.6,497.7 L412.8,502.6 L412.9,494.5 L413.1,499.0 L413.3,498.0 L413.4,494.4 L413.6,496.4 L413.7,496.5 L413.9,495.5 L414.1,501.6 L414.2,492.8 L414.4,498.1 L414.5,498.1 L414.7,496.0 L414.9,498.0 L415.0,501.1 L415.2,497.8 L415.3,498.4 L415.5,499.1 L415.7,492.9 L415.8,501.0 L416.0,502.8 L416.1,499.9 L416.3,500.0 L416.5,494.4 L416.6,497.4 L416.8,495.8 L416.9,496.4 L417.1,500.0 L417.3,495.9 L417.4,497.5 L417.6,493.4 L417.7,497.4 L417.9,498.0 L418.1,496.2 L418.2,496.2 L418.4,502.2 L418.5,495.1 L418.7,495.4 L418.9,496.0 L419.0,500.6 L419.2,502.7 L419.3,498.6 L419.5,496.2 L419.7,496.8 L419.8,500.3 L420.0,495.7 L420.1,501.1 L420.3,501.1 L420.5,497.9 L420.6,499.2 L420.8,499.5 L420.9,501.3 L421.1,495.3 L421.3,500.4 L421.4,496.8 L421.6,495.8 L421.7,497.8 L421.9,497.0 L422.1,495.2 L422.2,493.8 L422.4,495.2 L422.5,500.6 L422.7,501.8 L422.9,498.7 L423.0,499.8 L423.2,495.8 L423.3,496.7 L423.5,497.4 L423.7,494.2 L423.8,494.2 L424.0,496.6 L424.1,495.4 L424.3,493.5 L424.5,496.6 L424.6,494.8 L424.8,497.5 L424.9,494.7 L425.1,493.6 L425.3,494.0 L425.4,492.6 L425.6,490.7 L425.7,490.3 L425.9,491.7 L426.1,490.1 L426.2,489.8 L426.4,481.0 L426.5,481.7 L426.7,479.1 L426.9,477.4 L427.0,473.0 L427.2,469.5 L427.3,467.8 L427.5,463.2 L427.7,458.2 L427.8,457.4 L428.0,454.4 L428.1,451.7 L428.3,451.9 L428.5,451.6 L428.6,454.5 L428.8,456.1 L428.9,458.7 L429.1,462.6 L429.3,465.7 L429.4,470.7 L429.6,474.2 L429.7,477.3 L429.9,479.0 L430.1,474.5 L430.2,485.3 L430.4,482.8 L430.5,489.4 L430.7,492.9 L430.9,492.1 L431.0,491.6 L431.2,493.0 L431.3,493.8 L431.5,493.4 L431.7,493.8 L431.8,493.4 L432.0,498.6 L432.1,496.1 L432.3,498.6 L432.5,495.6 L432.6,497.0 L432.8,496.6 L432.9,498.2 L433.1,499.2 L433.3,498.0 L433.4,496.0 L433.6,495.9 L433.7,501.6 L433.9,497.2 L434.1,497.3 L434.2,501.4 L434.4,500.6 L434.5,499.4 L434.7,497.4 L434.9,503.8 L435.0,499.3 L435.2,499.7 L435.3,498.1 L435.5,495.3 L435.7,495.5 L435.8,499.6 L436.0,499.6 L436.1,498.2 L436.3,496.1 L436.5,495.5 L436.6,498.1 L436.8,495.5 L436.9,501.0 L437.1,501.6 L437.3,505.5 L437.4,501.0 L437.6,497.7 L437.7,497.0 L437.9,491.1 L438.1,497.7 L438.2,498.7 L438.4,501.4 L438.5,500.6 L438.7,500.5 L438.9,499.7 L439.0,500.7 L439.2,502.6 L439.3,496.8 L439.5,498.2 L439.7,496.1 L439.8,503.0 L440.0,502.3 L440.1,501.1 L440.3,496.6 L440.5,499.8 L440.6,498.8 L440.8,499.6 L440.9,499.0 L441.1,500.6 L441.3,498.5 L441.4,501.4 L441.6,500.0 L441.7,498.8 L441.9,499.2 L442.1,498.5 L442.2,501.4 L442.4,498.9 L442.5,500.2 L442.7,498.6 L442.9,496.1 L443.0,501.6 L443.2,497.1 L443.3,501.1 L443.5,500.5 L443.7,495.8 L443.8,497.4 L444.0,498.4 L444.1,497.7 L444.3,496.9 L444.5,501.3 L444.6,499.1 L444.8,500.5 L444.9,498.7 L445.1,500.4 L445.3,497.9 L445.4,499.6 L445.6,501.0 L445.7,499.8 L445.9,498.6 L446.1,497.2 L446.2,500.1 L446.4,500.5 L446.5,499.1 L446.7,497.9 L446.9,501.0 L447.0,505.4 L447.2,499.0 L447.3,500.5 L447.5,500.6 L447.7,493.8 L447.8,500.0 L448.0,498.1 L448.1,502.9 L448.3,499.2 L448.5,498.0 L448.6,499.3 L448.8,500.2 L448.9,498.5 L449.1,499.7 L449.3,496.7 L449.4,499.3 L449.6,501.6 L449.7,504.3 L449.9,501.4 L450.1,500.4 L450.2,502.5 L450.4,502.2 L450.5,503.6 L450.7,502.3 L450.9,499.5 L451.0,500.4 L451.2,500.2 L451.3,500.5 L451.5,500.3 L451.7,498.0 L451.8,495.0 L452.0,498.3 L452.1,495.2 L452.3,500.0 L452.5,499.8 L452.6,496.0 L452.8,501.4 L452.9,501.8 L453.1,500.1 L453.3,503.7 L453.4,504.2 L453.6,494.9 L453.7,502.2 L453.9,500.9 L454.1,500.8 L454.2,502.0 L454.4,498.2 L454.5,498.5 L454.7,498.0 L454.9,498.1 L455.0,499.6 L455.2,496.5 L455.3,497.5 L455.5,502.3 L455.7,499.7 L455.8,500.8 L456.0,495.5 L456.1,498.1 L456.3,498.6 L456.5,500.0 L456.6,498.5 L456.8,502.0 L456.9,499.7 L457.1,499.9 L457.3,499.9 L457.4,501.5 L457.6,498.8 L457.7,502.5 L457.9,500.9 L458.1,500.2 L458.2,500.0 L458.4,501.1 L458.5,502.2 L458.7,502.1 L458.9,500.8 L459.0,501.9 L459.2,500.2 L459.3,502.8 L459.5,499.8 L459.7,495.1 L459.8,503.0 L460.0,500.1 L460.1,497.2 L460.3,499.4 L460.5,497.9 L460.6,504.7 L460.8,501.1 L460.9,496.3 L461.1,501.2 L461.3,499.0 L461.4,504.3 L461.6,497.5 L461.7,494.7 L461.9,500.1 L462.1,499.1 L462.2,499.0 L462.4,495.0 L462.5,500.9 L462.7,503.8 L462.9,495.5 L463.0,502.6 L463.2,498.6 L463.3,505.3 L463.5,500.9 L463.7,499.5 L463.8,502.5 L464.0,501.1 L464.1,498.6 L464.3,501.6 L464.5,498.7 L464.6,495.8 L464.8,504.6 L464.9,499.1 L465.1,498.5 L465.3,500.7 L465.4,496.3 L465.6,496.8 L465.7,498.8 L465.9,498.7 L466.1,500.1 L466.2,502.5 L466.4,498.8 L466.5,501.1 L466.7,502.4 L466.9,497.4 L467.0,500.5 L467.2,497.8 L467.3,504.3 L467.5,501.0 L467.7,500.0 L467.8,496.9 L468.0,500.2 L468.1,498.2 L468.3,501.6 L468.5,499.7 L468.6,498.1 L468.8,502.1 L468.9,501.6 L469.1,498.6 L469.3,502.6 L469.4,499.3 L469.6,499.2 L469.7,500.2 L469.9,498.2 L470.1,498.9 L470.2,499.6 L470.4,503.5 L470.5,503.4 L470.7,499.3 L470.9,503.6 L471.0,499.8 L471.2,500.8 L471.3,502.0 L471.5,500.6 L471.7,505.5 L471.8,500.5 L472.0,497.2 L472.1,502.9 L472.3,499.0 L472.5,499.2 L472.6,493.1 L472.8,502.2 L472.9,501.8 L473.1,501.8 L473.3,502.2 L473.4,503.8 L473.6,499.8 L473.7,502.1 L473.9,498.2 L474.1,499.1 L474.2,502.4 L474.4,500.8 L474.5,496.9 L474.7,500.8 L474.9,499.5 L475.0,498.1 L475.2,500.9 L475.3,499.0 L475.5,496.3 L475.7,497.4 L475.8,504.0 L476.0,496.5 L476.1,500.5 L476.3,501.4 L476.5,501.4 L476.6,497.1 L476.8,499.2 L476.9,500.5 L477.1,501.8 L477.3,498.5 L477.4,497.3 L477.6,502.3 L477.7,502.5 L477.9,500.8 L478.1,498.6 L478.2,500.9 L478.4,500.2 L478.5,501.9 L478.7,497.1 L478.9,500.2 L479.0,499.3 L479.2,497.4 L479.3,500.4 L479.5,500.0 L479.7,499.0 L479.8,500.9 L480.0,496.7 L480.1,499.8 L480.3,500.9 L480.5,500.6 L480.6,502.4 L480.8,497.2 L480.9,496.5 L481.1,500.5 L481.3,501.0 L481.4,504.8 L481.6,501.4 L481.7,497.9 L481.9,501.8 L482.1,498.0 L482.2,496.5 L482.4,506.0 L482.5,500.7 L482.7,501.6 L482.9,501.3 L483.0,504.1 L483.2,500.6 L483.3,502.8 L483.5,497.6 L483.7,496.8 L483.8,503.2 L484.0,503.3 L484.1,501.1 L484.3,500.5 L484.5,500.3 L484.6,498.4 L484.8,503.5 L484.9,501.5 L485.1,501.1 L485.3,500.8 L485.4,502.4 L485.6,501.1 L485.7,501.7 L485.9,497.3 L486.1,501.1 L486.2,505.0 L486.4,498.8 L486.5,499.7 L486.7,502.0 L486.9,502.2 L487.0,501.4 L487.2,496.2 L487.3,501.1 L487.5,497.2 L487.7,498.1 L487.8,501.2 L488.0,499.3 L488.1,501.8 L488.3,507.2 L488.5,501.7 L488.6,501.6 L488.8,497.9 L488.9,498.5 L489.1,497.5 L489.3,498.7 L489.4,497.4 L489.6,498.4 L489.7,499.5 L489.9,497.6 L490.1,496.7 L490.2,496.8 L490.4,501.0 L490.5,500.1 L490.7,502.3 L490.9,502.3 L491.0,499.2 L491.2,501.5 L491.3,496.6 L491.5,505.2 L491.7,502.7 L491.8,499.4 L492.0,497.3 L492.1,500.8 L492.3,495.6 L492.5,498.2 L492.6,501.7 L492.8,500.1 L492.9,498.8 L493.1,502.1 L493.3,497.6 L493.4,501.1 L493.6,498.8 L493.7,498.0 L493.9,501.0 L494.1,497.7 L494.2,504.3 L494.4,498.6 L494.5,504.5 L494.7,497.4 L494.9,501.3 L495.0,497.2 L495.2,496.8 L495.3,500.3 L495.5,501.5 L495.7,497.0 L495.8,502.7 L496.0,496.6 L496.1,500.2 L496.3,500.8 L496.5,501.3 L496.6,495.8 L496.8,506.6 L496.9,501.2 L497.1,498.9 L497.3,497.6 L497.4,496.0 L497.6,496.8 L497.7,501.2 L497.9,499.1 L498.1,495.2 L498.2,498.7 L498.4,503.5 L498.5,499.1 L498.7,498.6 L498.9,503.0 L499.0,501.0 L499.2,500.0 L499.3,498.5 L499.5,496.3 L499.7,497.2 L499.8,498.8 L500.0,499.4 L500.1,500.7 L500.3,501.1 L500.5,500.4 L500.6,500.4 L500.8,497.6 L500.9,494.9 L501.1,498.7 L501.3,497.7 L501.4,498.4 L501.6,499.2 L501.7,497.0 L501.9,497.3 L502.1,499.6 L502.2,500.1 L502.4,498.3 L502.5,501.0 L502.7,499.3 L502.9,497.5 L503.0,499.9 L503.2,504.2 L503.3,498.3 L503.5,502.5 L503.7,503.0 L503.8,503.3 L504.0,497.9 L504.1,504.4 L504.3,500.1 L504.5,499.2 L504.6,499.3 L504.8,501.2 L504.9,499.9 L505.1,499.4 L505.3,502.7 L505.4,498.1 L505.6,497.4 L505.7,501.6 L505.9,501.4 L506.1,502.3 L506.2,497.3 L506.4,502.2 L506.5,500.9 L506.7,503.8 L506.9,496.9 L507.0,500.2 L507.2,499.1 L507.3,496.1 L507.5,498.1 L507.7,502.3 L507.8,498.6 L508.0,498.0 L508.1,501.7 L508.3,502.0 L508.5,501.9 L508.6,497.9 L508.8,499.5 L508.9,502.0 L509.1,498.1 L509.3,497.9 L509.4,501.5 L509.6,503.2 L509.7,497.0 L509.9,493.6 L510.1,496.3 L510.2,497.3 L510.4,499.3 L510.5,501.0 L510.7,499.2 L510.9,498.0 L511.0,499.9 L511.2,497.4 L511.3,499.4 L511.5,498.1 L511.7,505.7 L511.8,501.4 L512.0,497.6 L512.1,497.2 L512.3,498.5 L512.5,495.7 L512.6,497.8 L512.8,497.8 L512.9,501.5 L513.1,498.5 L513.3,497.6 L513.4,496.3 L513.6,496.7 L513.7,499.3 L513.9,498.9 L514.1,502.0 L514.2,497.9 L514.4,501.8 L514.5,499.9 L514.7,499.3 L514.9,494.7 L515.0,496.3 L515.2,501.0 L515.3,502.5 L515.5,499.7 L515.7,501.0 L515.8,498.3 L516.0,498.3 L516.1,497.7 L516.3,501.4 L516.5,499.9 L516.6,498.6 L516.8,498.3 L516.9,500.3 L517.1,499.8 L517.3,497.1 L517.4,502.9 L517.6,500.0 L517.7,499.0 L517.9,502.3 L518.1,501.2 L518.2,498.6 L518.4,500.0 L518.5,496.3 L518.7,497.3 L518.9,493.5 L519.0,501.5 L519.2,494.3 L519.3,500.1 L519.5,496.6 L519.7,496.2 L519.8,498.0 L520.0,499.0 L520.1,499.7 L520.3,502.3 L520.5,499.0 L520.6,500.1 L520.8,496.6 L520.9,499.6 L521.1,498.2 L521.3,496.7 L521.4,497.4 L521.6,497.4 L521.7,497.9 L521.9,498.2 L522.1,496.0 L522.2,493.9 L522.4,498.5 L522.5,492.7 L522.7,495.0 L522.9,499.8 L523.0,489.7 L523.2,494.1 L523.3,496.9 L523.5,491.2 L523.7,500.5 L523.8,488.1 L524.0,496.7 L524.1,496.3 L524.3,494.1 L524.5,490.5 L524.6,490.7 L524.8,486.5 L524.9,488.9 L525.1,482.8 L525.3,482.7 L525.4,485.0 L525.6,476.3 L525.7,475.0 L525.9,472.9 L526.1,467.3 L526.2,467.6 L526.4,462.9 L526.5,457.7 L526.7,456.2 L526.9,453.3 L527.0,451.8 L527.2,451.6 L527.3,451.5 L527.5,454.0 L527.7,455.0 L527.8,459.3 L528.0,461.6 L528.1,466.2 L528.3,467.0 L528.5,471.0 L528.6,472.8 L528.8,478.9 L528.9,482.4 L529.1,487.5 L529.3,487.7 L529.4,487.1 L529.6,487.6 L529.7,490.4 L529.9,490.6 L530.1,495.0 L530.2,494.6 L530.4,491.2 L530.5,492.2 L530.7,497.4 L530.9,495.4 L531.0,494.5 L531.2,498.1 L531.3,494.8 L531.5,495.3 L531.7,495.1 L531.8,491.9 L532.0,498.5 L532.1,493.9 L532.3,495.6 L532.5,495.3 L532.6,498.8 L532.8,497.1 L532.9,497.4 L533.1,493.6 L533.3,497.3 L533.4,494.2 L533.6,498.4 L533.7,498.6 L533.9,497.8 L534.1,502.6 L534.2,499.2 L534.4,499.4 L534.5,498.4 L534.7,497.7 L534.9,500.4 L535.0,500.7 L535.2,495.2 L535.3,502.6 L535.5,499.5 L535.7,500.6 L535.8,499.4 L536.0,495.5 L536.1,495.7 L536.3,502.7 L536.5,499.1 L536.6,495.2 L536.8,499.3 L536.9,497.7 L537.1,494.3 L537.3,493.3 L537.4,494.9 L537.6,499.2 L537.7,498.5 L537.9,498.1 L538.1,499.3 L538.2,501.2 L538.4,493.8 L538.5,498.0 L538.7,496.8 L538.9,495.9 L539.0,497.5 L539.2,498.5 L539.3,498.1 L539.5,492.7 L539.7,497.7 L539.8,503.4 L540.0,496.4 L540.1,494.9 L540.3,499.4 L540.5,500.2 L540.6,499.9 L540.8,496.2 L540.9,501.1 L541.1,497.0 L541.3,496.2 L541.4,497.4 L541.6,498.6 L541.7,500.5 L541.9,500.3 L542.1,498.8 L542.2,501.0 L542.4,499.0 L542.5,500.9 L542.7,495.6 L542.9,495.2 L543.0,500.6 L543.2,495.7 L543.3,498.2 L543.5,498.6 L543.7,497.7 L543.8,497.8 L544.0,502.1 L544.1,493.1 L544.3,500.9 L544.5,504.2 L544.6,498.9 L544.8,498.8 L544.9,500.5 L545.1,503.1 L545.3,496.1 L545.4,499.1 L545.6,498.1 L545.7,500.2 L545.9,499.2 L546.1,500.4 L546.2,497.9 L546.4,499.0 L546.5,497.3 L546.7,497.3 L546.9,498.6 L547.0,498.6 L547.2,496.2 L547.3,505.4 L547.5,498.6 L547.7,495.7 L547.8,501.4 L548.0,497.2 L548.1,500.0 L548.3,498.8 L548.5,499.4 L548.6,499.3 L548.8,497.5 L548.9,499.0 L549.1,503.5 L549.3,493.7 L549.4,499.0 L549.6,499.9 L549.7,496.4 L549.9,495.7 L550.1,503.8 L550.2,498.0 L550.4,503.6 L550.5,500.1 L550.7,499.0 L550.9,500.0 L551.0,500.3 L551.2,501.6 L551.3,499.9 L551.5,499.2 L551.7,499.3 L551.8,502.0 L552.0,500.7 L552.1,496.5 L552.3,497.4 L552.5,500.2 L552.6,497.4 L552.8,498.0 L552.9,496.6 L553.1,498.2 L553.3,499.8 L553.4,501.1 L553.6,498.9 L553.7,503.6 L553.9,498.7 L554.1,506.2 L554.2,501.1 L554.4,500.0 L554.5,497.7 L554.7,492.3 L554.9,498.5 L555.0,499.2 L555.2,503.2 L555.3,495.6 L555.5,503.2 L555.7,498.2 L555.8,500.5 L556.0,493.0 L556.1,499.1 L556.3,498.0 L556.5,500.4 L556.6,499.0 L556.8,496.2 L556.9,501.0 L557.1,500.4 L557.3,500.2 L557.4,501.1 L557.6,501.3 L557.7,498.7 L557.9,495.7 L558.1,495.6 L558.2,501.9 L558.4,500.4 L558.5,499.0 L558.7,497.8 L558.9,498.8 L559.0,498.8 L559.2,498.0 L559.3,497.2 L559.5,503.7 L559.7,499.3 L559.8,497.4 L560.0,495.8 L560.1,497.1 L560.3,500.4 L560.5,500.5 L560.6,498.2 L560.8,498.9 L560.9,498.0 L561.1,496.2 L561.3,501.7 L561.4,499.6 L561.6,504.4 L561.7,497.0 L561.9,498.4 L562.1,500.8 L562.2,498.2 L562.4,495.5 L562.5,496.5 L562.7,499.1 L562.9,499.5 L563.0,498.5 L563.2,501.0 L563.3,501.0 L563.5,499.4 L563.7,498.8 L563.8,498.1 L564.0,500.0 L564.1,500.8 L564.3,498.8 L564.5,499.7 L564.6,497.9 L564.8,495.4 L564.9,496.4 L565.1,500.4 L565.3,499.7 L565.4,502.3 L565.6,498.8 L565.7,500.6 L565.9,501.7 L566.1,500.9 L566.2,497.2 L566.4,498.2 L566.5,498.9 L566.7,496.4 L566.9,499.7 L567.0,501.0 L567.2,497.5 L567.3,503.2 L567.5,497.9 L567.7,498.1 L567.8,498.1 L568.0,497.0 L568.1,499.6 L568.3,498.6 L568.5,502.4 L568.6,500.0 L568.8,499.8 L568.9,498.1 L569.1,495.3 L569.3,498.4 L569.4,496.6 L569.6,500.8 L569.7,498.5 L569.9,502.4 L570.1,500.2 L570.2,500.5 L570.4,499.1 L570.5,499.0 L570.7,500.0 L570.9,500.6 L571.0,496.9 L571.2,499.6 L571.3,504.5 L571.5,498.3 L571.7,497.9 L571.8,496.9 L572.0,495.2 L572.1,501.2 L572.3,498.6 L572.5,499.2 L572.6,502.7 L572.8,504.2 L572.9,496.4 L573.1,500.9 L573.3,499.9 L573.4,499.3 L573.6,499.5 L573.7,498.4 L573.9,502.1 L574.1,501.0 L574.2,499.2 L574.4,501.3 L574.5,500.4 L574.7,499.4 L574.9,499.1 L575.0,505.6 L575.2,499.5 L575.3,498.1 L575.5,496.4 L575.7,497.5 L575.8,495.9 L576.0,498.6 L576.1,498.9 L576.3,493.6 L576.5,498.3 L576.6,499.8 L576.8,498.6 L576.9,496.1 L577.1,501.2 L577.3,495.4 L577.4,495.4 L577.6,495.7 L577.7,498.2 L577.9,500.5 L578.1,500.9 L578.2,498.7 L578.4,495.4 L578.5,496.6 L578.7,496.1 L578.9,497.7 L579.0,494.0 L579.2,498.3 L579.3,499.6 L579.5,497.4 L579.7,499.1 L579.8,495.9 L580.0,494.7 L580.1,496.5 L580.3,500.6 L580.5,500.3 L580.6,496.9 L580.8,500.7 L580.9,497.2 L581.1,501.4 L581.3,499.0 L581.4,496.8 L581.6,499.7 L581.7,496.0 L581.9,495.6 L582.1,494.4 L582.2,498.3 L582.4,497.6 L582.5,497.5 L582.7,496.7 L582.9,501.0 L583.0,496.7 L583.2,495.9 L583.3,500.4 L583.5,500.8 L583.7,498.3 L583.8,493.5 L584.0,496.1 L584.1,498.8 L584.3,497.4 L584.5,500.9 L584.6,494.2 L584.8,498.8 L584.9,495.8 L585.1,500.2 L585.3,497.0 L585.4,499.5 L585.6,495.6 L585.7,493.8 L585.9,494.4 L586.1,495.5 L586.2,494.5 L586.4,499.5 L586.5,499.8 L586.7,497.3 L586.9,494.2 L587.0,496.0 L587.2,494.9 L587.3,499.7 L587.5,497.0 L587.7,497.3 L587.8,495.2 L588.0,491.4 L588.1,494.2 L588.3,493.3 L588.5,496.6 L588.6,495.8 L588.8,493.6 L588.9,494.5 L589.1,498.8 L589.3,492.9 L589.4,492.8 L589.6,494.2 L589.7,493.0 L589.9,493.4 L590.1,495.4 L590.2,498.0 L590.4,489.6 L590.5,493.5 L590.7,493.3 L590.9,492.8 L591.0,492.2 L591.2,491.5 L591.3,494.3 L591.5,490.5 L591.7,490.8 L591.8,490.6 L592.0,490.4 L592.1,489.2 L592.3,491.2 L592.5,488.2 L592.6,487.8 L592.8,486.4 L592.9,483.2 L593.1,482.4 L593.3,480.6 L593.4,481.9 L593.6,478.1 L593.7,475.3 L593.9,476.4 L594.1,474.0 L594.2,465.7 L594.4,470.2 L594.5,462.5 L594.7,457.9 L594.9,455.4 L595.0,447.9 L595.2,440.8 L595.3,439.0 L595.5,427.2 L595.7,421.7 L595.8,415.9 L596.0,407.5 L596.1,402.8 L596.3,398.7 L596.5,397.1 L596.6,394.4 L596.8,396.1 L596.9,400.2 L597.1,404.2 L597.3,408.9 L597.4,417.1 L597.6,423.7 L597.7,431.1 L597.9,438.9 L598.1,445.1 L598.2,449.9 L598.4,455.0 L598.5,456.7 L598.7,463.1 L598.9,467.6 L599.0,469.5 L599.2,473.6 L599.3,474.0 L599.5,481.6 L599.7,485.0 L599.8,480.8 L600.0,484.1 L600.1,483.9 L600.3,488.5 L600.5,487.5 L600.6,487.6 L600.8,487.6 L600.9,489.1 L601.1,487.1 L601.3,491.5 L601.4,488.8 L601.6,492.1 L601.7,491.6 L601.9,494.2 L602.1,492.0 L602.2,494.7 L602.4,490.5 L602.5,494.3 L602.7,492.6 L602.9,493.8 L603.0,493.8 L603.2,496.0 L603.3,489.3 L603.5,494.9 L603.7,490.9 L603.8,497.2 L604.0,490.1 L604.1,492.4 L604.3,487.9 L604.5,498.7 L604.6,492.1 L604.8,495.4 L604.9,494.0 L605.1,491.2 L605.3,494.6 L605.4,497.0 L605.6,495.1 L605.7,497.8 L605.9,494.8 L606.1,495.7 L606.2,494.2 L606.4,496.6 L606.5,500.2 L606.7,496.7 L606.9,496.4 L607.0,494.6 L607.2,494.3 L607.3,499.4 L607.5,493.5 L607.7,494.0 L607.8,495.9 L608.0,495.1 L608.1,500.6 L608.3,490.7 L608.5,497.0 L608.6,497.8 L608.8,493.6 L608.9,494.7 L609.1,497.1 L609.3,499.9 L609.4,494.0 L609.6,492.5 L609.7,498.3 L609.9,499.6 L610.1,495.3 L610.2,490.9 L610.4,499.3 L610.5,495.5 L610.7,498.5 L610.9,495.8 L611.0,494.9 L611.2,494.7 L611.3,499.1 L611.5,498.9 L611.7,490.7 L611.8,493.4 L612.0,502.8 L612.1,494.5 L612.3,492.1 L612.5,495.2 L612.6,494.8 L612.8,494.7 L612.9,493.7 L613.1,494.0 L613.3,493.5 L613.4,495.1 L613.6,492.3 L613.7,493.3 L613.9,493.5 L614.1,496.6 L614.2,494.2 L614.4,492.8 L614.5,494.0 L614.7,493.4 L614.9,494.6 L615.0,492.9 L615.2,495.4 L615.3,493.9 L615.5,490.1 L615.7,488.6 L615.8,490.9 L616.0,489.2 L616.1,486.7 L616.3,482.6 L616.5,480.5 L616.6,484.1 L616.8,483.4 L616.9,481.6 L617.1,474.6 L617.3,477.5 L617.4,471.2 L617.6,470.0 L617.7,466.6 L617.9,460.5 L618.1,456.8 L618.2,450.2 L618.4,447.5 L618.5,442.0 L618.7,440.0 L618.9,435.4 L619.0,433.1 L619.2,429.7 L619.3,427.9 L619.5,428.7 L619.7,429.8 L619.8,433.2 L620.0,436.7 L620.1,439.6 L620.3,445.3 L620.5,450.0 L620.6,454.1 L620.8,460.4 L620.9,466.2 L621.1,466.0 L621.3,469.4 L621.4,468.1 L621.6,475.6 L621.7,477.3 L621.9,475.4 L622.1,482.9 L622.2,485.2 L622.4,482.2 L622.5,485.6 L622.7,485.3 L622.9,490.2 L623.0,485.8 L623.2,489.2 L623.3,495.1 L623.5,491.3 L623.7,492.7 L623.8,491.7 L624.0,489.8 L624.1,492.8 L624.3,494.1 L624.5,491.1 L624.6,495.1 L624.8,496.8 L624.9,496.7 L625.1,490.8 L625.3,492.4 L625.4,491.1 L625.6,497.4 L625.7,496.5 L625.9,496.9 L626.1,493.4 L626.2,492.9 L626.4,496.0 L626.5,496.0 L626.7,493.9 L626.9,496.3 L627.0,497.6 L627.2,496.7 L627.3,493.8 L627.5,491.5 L627.7,495.8 L627.8,496.8 L628.0,495.9 L628.1,495.6 L628.3,495.1 L628.5,498.4 L628.6,496.6 L628.8,497.1 L628.9,492.8 L629.1,495.5 L629.3,497.3 L629.4,494.7 L629.6,494.1 L629.7,496.3 L629.9,499.9 L630.1,497.6 L630.2,500.5 L630.4,496.9 L630.5,496.5 L630.7,494.1 L630.9,496.0 L631.0,500.6 L631.2,498.7 L631.3,499.1 L631.5,499.0 L631.7,497.4 L631.8,497.0 L632.0,497.8 L632.1,499.0 L632.3,498.6 L632.5,498.7 L632.6,497.9 L632.8,495.8 L632.9,497.0 L633.1,495.4 L633.3,499.9 L633.4,492.8 L633.6,497.2 L633.7,503.2 L633.9,496.9 L634.1,495.1 L634.2,497.7 L634.4,500.7 L634.5,497.4 L634.7,499.2 L634.9,498.0 L635.0,496.9 L635.2,505.0 L635.3,498.0 L635.5,496.6 L635.7,496.7 L635.8,498.7 L636.0,498.8 L636.1,499.6 L636.3,498.2 L636.5,494.6 L636.6,499.1 L636.8,497.2 L636.9,497.2 L637.1,491.8 L637.3,496.6 L637.4,496.2 L637.6,497.8 L637.7,494.6 L637.9,498.0 L638.1,498.2 L638.2,495.4 L638.4,496.5 L638.5,496.0 L638.7,500.0 L638.9,492.1 L639.0,497.2 L639.2,494.2 L639.3,497.0 L639.5,499.9 L639.7,496.5 L639.8,498.3 L640.0,496.1 L640.1,502.5 L640.3,500.1 L640.5,500.6 L640.6,495.0 L640.8,495.5 L640.9,502.5 L641.1,497.6 L641.3,497.4 L641.4,498.8 L641.6,495.1 L641.7,499.8 L641.9,498.1 L642.1,499.1 L642.2,496.5 L642.4,499.2 L642.5,496.4 L642.7,500.3 L642.9,500.7 L643.0,500.2 L643.2,499.3 L643.3,499.5 L643.5,491.8 L643.7,500.0 L643.8,497.4 L644.0,498.3 L644.1,497.4 L644.3,494.9 L644.5,496.8 L644.6,499.6 L644.8,501.3 L644.9,496.7 L645.1,496.0 L645.3,501.4 L645.4,496.1 L645.6,502.9 L645.7,498.2 L645.9,496.1 L646.1,500.4 L646.2,502.0 L646.4,494.8 L646.5,501.7 L646.7,497.5 L646.9,501.5 L647.0,497.2 L647.2,494.5 L647.3,499.3 L647.5,500.2 L647.7,502.9 L647.8,502.1 L648.0,499.7 L648.1,497.6 L648.3,496.9 L648.5,497.4 L648.6,496.2 L648.8,497.5 L648.9,492.3 L649.1,498.5 L649.3,498.1 L649.4,504.0 L649.6,499.9 L649.7,497.0 L649.9,499.4 L650.1,495.3 L650.2,496.7 L650.4,493.8 L650.5,501.4 L650.7,500.6 L650.9,495.4 L651.0,498.0 L651.2,500.3 L651.3,499.3 L651.5,499.0 L651.7,496.2 L651.8,496.7 L652.0,498.4 L652.1,500.2 L652.3,496.2 L652.5,495.6 L652.6,502.9 L652.8,496.0 L652.9,500.6 L653.1,498.7 L653.3,500.2 L653.4,502.1 L653.6,499.7 L653.7,499.9 L653.9,496.0 L654.1,496.5 L654.2,499.6 L654.4,501.7 L654.5,501.3 L654.7,503.5 L654.9,498.8 L655.0,499.0 L655.2,500.4 L655.3,498.2 L655.5,497.9 L655.7,495.7 L655.8,500.4 L656.0,495.7 L656.1,499.3 L656.3,494.9 L656.5,500.7 L656.6,495.8 L656.8,500.1 L656.9,494.5 L657.1,497.1 L657.3,500.8 L657.4,496.3 L657.6,498.3 L657.7,497.0 L657.9,492.8 L658.1,498.8 L658.2,499.1 L658.4,495.6 L658.5,499.4 L658.7,496.3 L658.9,495.8 L659.0,498.1 L659.2,496.6 L659.3,503.4 L659.5,494.5 L659.7,499.8 L659.8,500.4 L660.0,493.6 L660.1,494.1 L660.3,499.4 L660.5,497.0 L660.6,499.0 L660.8,500.7 L660.9,497.3 L661.1,495.7 L661.3,491.8 L661.4,498.6 L661.6,496.0 L661.7,498.8 L661.9,498.6 L662.1,494.9 L662.2,502.1 L662.4,500.6 L662.5,500.1 L662.7,495.4 L662.9,497.2 L663.0,496.8 L663.2,497.1 L663.3,495.5 L663.5,499.1 L663.7,498.6 L663.8,498.9 L664.0,496.9 L664.1,501.1 L664.3,498.5 L664.5,491.8 L664.6,496.6 L664.8,498.0 L664.9,500.3 L665.1,497.4 L665.3,497.5 L665.4,496.6 L665.6,499.6 L665.7,497.0 L665.9,496.7 L666.1,496.4 L666.2,499.3 L666.4,496.8 L666.5,494.2 L666.7,499.5 L666.9,496.4 L667.0,498.9 L667.2,498.9 L667.3,500.8 L667.5,500.5 L667.7,496.7 L667.8,497.7 L668.0,492.7 L668.1,501.9 L668.3,499.1 L668.5,501.2 L668.6,497.3 L668.8,493.3 L668.9,501.6 L669.1,498.2 L669.3,498.3 L669.4,498.2 L669.6,499.5 L669.7,499.3 L669.9,491.4 L670.1,500.5 L670.2,496.8 L670.4,496.9 L670.5,502.0 L670.7,500.1 L670.9,496.6 L671.0,493.7 L671.2,498.4 L671.3,499.2 L671.5,497.8 L671.7,495.1 L671.8,496.2 L672.0,495.1 L672.1,498.5 L672.3,499.9 L672.5,502.2 L672.6,496.3 L672.8,498.5 L672.9,499.3 L673.1,496.8 L673.3,497.6 L673.4,502.9 L673.6,498.8 L673.7,500.0 L673.9,497.0 L674.1,498.1 L674.2,494.0 L674.4,497.9 L674.5,500.7 L674.7,502.8 L674.9,500.7 L675.0,499.5 L675.2,498.1 L675.3,496.6 L675.5,497.6 L675.7,499.3 L675.8,496.1 L676.0,500.1 L676.1,495.7 L676.3,493.8 L676.5,495.6 L676.6,494.1 L676.8,494.7 L676.9,500.5 L677.1,497.4 L677.3,498.4 L677.4,500.6 L677.6,500.8 L677.7,496.7 L677.9,500.9 L678.1,498.8 L678.2,497.9 L678.4,498.9 L678.5,494.6 L678.7,496.0 L678.9,497.6 L679.0,499.2 L679.2,496.3 L679.3,497.5 L679.5,500.1 L679.7,501.1 L679.8,499.6 L680.0,503.1 L680.1,496.9 L680.3,497.1 L680.5,498.5 L680.6,497.1 L680.8,496.6 L680.9,501.6 L681.1,497.3 L681.3,495.6 L681.4,498.9 L681.6,502.0 L681.7,497.9 L681.9,500.6 L682.1,496.7 L682.2,496.6 L682.4,496.1 L682.5,497.4 L682.7,501.9 L682.9,495.1 L683.0,501.5 L683.2,495.4 L683.3,497.2 L683.5,499.6 L683.7,499.1 L683.8,498.3 L684.0,493.9 L684.1,498.5 L684.3,495.3 L684.5,503.6 L684.6,497.1 L684.8,498.1 L684.9,495.0 L685.1,496.5 L685.3,494.6 L685.4,499.9 L685.6,497.0 L685.7,498.9 L685.9,496.0 L686.1,496.4 L686.2,500.5 L686.4,495.3 L686.5,493.4 L686.7,498.5 L686.9,492.8 L687.0,496.5 L687.2,499.6 L687.3,495.6 L687.5,499.5 L687.7,495.9 L687.8,500.9 L688.0,500.5 L688.1,496.3 L688.3,496.9 L688.5,495.5 L688.6,497.8 L688.8,500.0 L688.9,494.0 L689.1,499.4 L689.3,494.3 L689.4,495.3 L689.6,493.2 L689.7,502.1 L689.9,497.4 L690.1,497.8 L690.2,495.7 L690.4,499.7 L690.5,492.4 L690.7,497.2 L690.9,502.2 L691.0,496.3 L691.2,497.2 L691.3,498.6 L691.5,495.2 L691.7,497.1 L691.8,499.2 L692.0,497.5 L692.1,497.8 L692.3,496.2 L692.5,497.7 L692.6,497.0 L692.8,500.2 L692.9,498.5 L693.1,496.3 L693.3,491.2 L693.4,498.4 L693.6,498.5 L693.7,494.6 L693.9,492.1 L694.1,494.0 L694.2,498.7 L694.4,494.1 L694.5,495.5 L694.7,497.0 L694.9,499.3 L695.0,496.4 L695.2,496.1 L695.3,495.1 L695.5,500.0 L695.7,498.7 L695.8,496.0 L696.0,492.9 L696.1,494.3 L696.3,497.4 L696.5,494.3 L696.6,498.0 L696.8,496.7 L696.9,496.5 L697.1,497.2 L697.3,496.8 L697.4,493.6 L697.6,494.7 L697.7,500.8 L697.9,492.6 L698.1,494.1 L698.2,497.6 L698.4,494.7 L698.5,493.1 L698.7,491.8 L698.9,496.0 L699.0,497.0 L699.2,497.7 L699.3,494.5 L699.5,496.6 L699.7,491.7 L699.8,494.3 L700.0,492.2 L700.1,494.0 L700.3,495.1 L700.5,495.7 L700.6,490.7 L700.8,495.7 L700.9,491.4 L701.1,489.9 L701.3,491.6 L701.4,488.4 L701.6,491.4 L701.7,491.7 L701.9,490.3 L702.1,492.6 L702.2,489.2 L702.4,489.5 L702.5,485.7 L702.7,488.6 L702.9,486.0 L703.0,486.3 L703.2,486.4 L703.3,486.3 L703.5,481.2 L703.7,480.5 L703.8,482.4 L704.0,483.1 L704.1,481.5 L704.3,481.4 L704.5,480.7 L704.6,477.1 L704.8,474.0 L704.9,469.4 L705.1,467.2 L705.3,465.5 L705.4,464.1 L705.6,460.6 L705.7,456.3 L705.9,451.8 L706.1,448.7 L706.2,442.8 L706.4,437.6 L706.5,431.9 L706.7,424.8 L706.9,418.4 L707.0,414.3 L707.2,408.8 L707.3,403.7 L707.5,400.0 L707.7,399.5 L707.8,397.1 L708.0,398.4 L708.1,401.3 L708.3,404.0 L708.5,409.8 L708.6,417.1 L708.8,422.2 L708.9,427.9 L709.1,433.8 L709.3,438.7 L709.4,445.4 L709.6,448.4 L709.7,452.3 L709.9,457.4 L710.1,462.9 L710.2,465.0 L710.4,468.8 L710.5,465.3 L710.7,475.1 L710.9,479.9 L711.0,479.5 L711.2,477.4 L711.3,477.7 L711.5,481.6 L711.7,480.0 L711.8,485.0 L712.0,483.1 L712.1,487.4 L712.3,489.1 L712.5,482.1 L712.6,488.1 L712.8,486.4 L712.9,485.3 L713.1,487.6 L713.3,489.0 L713.4,492.3 L713.6,486.9 L713.7,493.2 L713.9,495.7 L714.1,492.8 L714.2,493.0 L714.4,492.0 L714.5,489.6 L714.7,493.7 L714.9,493.6 L715.0,494.6 L715.2,499.1 L715.3,495.0 L715.5,494.5 L715.7,497.3 L715.8,490.8 L716.0,491.4 L716.1,493.3 L716.3,492.8 L716.5,496.0 L716.6,493.8 L716.8,498.6 L716.9,498.3 L717.1,496.6 L717.3,494.1 L717.4,496.5 L717.6,497.0 L717.7,492.8 L717.9,496.1 L718.1,497.0 L718.2,496.0 L718.4,499.1 L718.5,498.4 L718.7,493.8 L718.9,496.0 L719.0,493.9 L719.2,498.2 L719.3,493.9 L719.5,499.8 L719.7,496.9 L719.8,498.3 L720.0,495.8 L720.1,492.8 L720.3,500.3 L720.5,495.8 L720.6,499.4 L720.8,497.3 L720.9,497.9 L721.1,500.6 L721.3,497.2 L721.4,499.7 L721.6,490.3 L721.7,498.5 L721.9,496.0 L722.1,496.3 L722.2,496.6 L722.4,497.4 L722.5,500.5 L722.7,492.4 L722.9,496.8 L723.0,495.1 L723.2,499.4 L723.3,495.8 L723.5,497.8 L723.7,495.9 L723.8,498.4 L724.0,499.2 L724.1,496.0 L724.3,497.0 L724.5,493.6 L724.6,497.6 L724.8,498.9 L724.9,495.7 L725.1,499.6 L725.3,492.2 L725.4,492.8 L725.6,493.8 L725.7,495.9 L725.9,497.1 L726.1,496.9 L726.2,496.9 L726.4,498.8 L726.5,496.0 L726.7,494.2 L726.9,494.3 L727.0,502.0 L727.2,487.4 L727.3,496.8 L727.5,500.5 L727.7,498.3 L727.8,495.3 L728.0,497.2 L728.1,499.2 L728.3,500.0 L728.5,495.2 L728.6,499.0 L728.8,497.8 L728.9,499.8 L729.1,500.5 L729.3,496.5 L729.4,493.9 L729.6,498.2 L729.7,501.4 L729.9,498.9 L730.1,497.8 L730.2,502.8 L730.4,494.9 L730.5,499.4 L730.7,496.0 L730.9,497.5 L731.0,497.5 L731.2,500.8 L731.3,495.2 L731.5,496.1 L731.7,493.7 L731.8,498.5 L732.0,496.3 L732.1,498.4 L732.3,494.9 L732.5,496.6 L732.6,499.8 L732.8,497.0 L732.9,498.8 L733.1,498.6 L733.3,496.6 L733.4,493.8 L733.6,499.7 L733.7,497.8 L733.9,499.7 L734.1,492.8 L734.2,493.6 L734.4,492.5 L734.5,495.4 L734.7,499.8 L734.9,498.7 L735.0,497.4 L735.2,497.8 L735.3,499.2 L735.5,496.8 L735.7,498.4 L735.8,497.8 L736.0,492.4 L736.1,496.6 L736.3,500.6 L736.5,496.6 L736.6,497.1 L736.8,496.1 L736.9,496.4 L737.1,500.1 L737.3,496.9 L737.4,495.1 L737.6,490.3 L737.7,496.2 L737.9,493.0 L738.1,493.3 L738.2,499.3 L738.4,499.1 L738.5,493.1 L738.7,499.5 L738.9,498.6 L739.0,495.7 L739.2,499.2 L739.3,493.8 L739.5,494.7 L739.7,494.2 L739.8,494.9 L740.0,499.5 L740.1,494.4 L740.3,494.9 L740.5,495.3 L740.6,498.0 L740.8,496.7 L740.9,499.5 L741.1,495.9 L741.3,494.5 L741.4,496.3 L741.6,497.6 L741.7,495.4 L741.9,498.1 L742.1,501.7 L742.2,496.2 L742.4,497.6 L742.5,500.6 L742.7,496.0 L742.9,495.5 L743.0,495.0 L743.2,498.4 L743.3,498.7 L743.5,497.1 L743.7,497.6 L743.8,500.4 L744.0,499.5 L744.1,494.2 L744.3,497.4 L744.5,497.7 L744.6,499.1 L744.8,496.9 L744.9,496.0 L745.1,496.4 L745.3,493.3 L745.4,497.4 L745.6,496.1 L745.7,498.5 L745.9,495.1 L746.1,496.4 L746.2,495.2 L746.4,495.0 L746.5,499.0 L746.7,496.3 L746.9,498.4 L747.0,494.8 L747.2,497.6 L747.3,493.5 L747.5,496.3 L747.7,496.2 L747.8,498.7 L748.0,497.8 L748.1,497.0 L748.3,499.3 L748.5,497.8 L748.6,498.6 L748.8,499.1 L748.9,497.2 L749.1,496.7 L749.3,498.1 L749.4,496.4 L749.6,498.2 L749.7,499.9 L749.9,499.3 L750.1,496.4 L750.2,494.4 L750.4,497.2 L750.5,497.0 L750.7,499.8 L750.9,496.4 L751.0,496.3 L751.2,499.0 L751.3,496.2 L751.5,496.9 L751.7,501.2 L751.8,500.7 L752.0,498.7 L752.1,498.3 L752.3,495.0 L752.5,498.5 L752.6,497.4 L752.8,497.7 L752.9,496.0 L753.1,497.2 L753.3,496.8 L753.4,497.9 L753.6,500.5 L753.7,498.0 L753.9,493.4 L754.1,495.0 L754.2,493.5 L754.4,495.4 L754.5,498.4 L754.7,498.1 L754.9,495.8 L755.0,497.8 L755.2,495.4 L755.3,493.9 L755.5,493.9 L755.7,495.1 L755.8,500.4 L756.0,494.0 L756.1,499.9 L756.3,500.1 L756.5,496.6 L756.6,496.9 L756.8,495.6 L756.9,497.0 L757.1,498.5 L757.3,497.0 L757.4,499.3 L757.6,499.7 L757.7,497.7 L757.9,497.7 L758.1,496.8 L758.2,497.7 L758.4,494.3 L758.5,497.8 L758.7,497.3 L758.9,494.8 L759.0,501.7 L759.2,494.6 L759.3,494.8 L759.5,497.4 L759.7,492.3 L759.8,494.9 L760.0,493.2 L760.1,494.4 L760.3,496.3 L760.5,497.3 L760.6,499.1 L760.8,499.8 L760.9,499.2 L761.1,497.8 L761.3,495.4 L761.4,499.0 L761.6,495.3 L761.7,495.0 L761.9,499.8 L762.1,498.1 L762.2,497.1 L762.4,497.9 L762.5,498.2 L762.7,493.0 L762.9,495.6 L763.0,493.3 L763.2,496.3 L763.3,494.4 L763.5,499.0 L763.7,497.0 L763.8,493.9 L764.0,495.7 L764.1,492.9 L764.3,495.7 L764.5,496.8 L764.6,496.1 L764.8,490.9 L764.9,494.5 L765.1,496.4 L765.3,495.8 L765.4,497.7 L765.6,492.0 L765.7,496.0 L765.9,493.2 L766.1,495.1 L766.2,495.4 L766.4,496.0 L766.5,492.9 L766.7,494.5 L766.9,491.3 L767.0,490.6 L767.2,494.9 L767.3,493.3 L767.5,489.5 L767.7,491.1 L767.8,492.9 L768.0,496.2 L768.1,494.8 L768.3,494.0 L768.5,487.7 L768.6,491.3 L768.8,492.3 L768.9,491.8 L769.1,491.4 L769.3,489.5 L769.4,493.7 L769.6,492.5 L769.7,488.4 L769.9,485.8 L770.1,492.1 L770.2,485.4 L770.4,488.7 L770.5,489.5 L770.7,482.0 L770.9,483.8 L771.0,481.1 L771.2,481.8 L771.3,479.9 L771.5,482.0 L771.7,477.0 L771.8,473.6 L772.0,474.0 L772.1,468.2 L772.3,465.3 L772.5,467.7 L772.6,457.9 L772.8,454.9 L772.9,451.9 L773.1,445.7 L773.3,439.7 L773.4,439.4 L773.6,432.2 L773.7,427.7 L773.9,423.4 L774.1,418.9 L774.2,415.6 L774.4,414.1 L774.5,414.3 L774.7,413.5 L774.9,415.0 L775.0,416.0 L775.2,420.6 L775.3,423.7 L775.5,430.3 L775.7,434.1 L775.8,439.3 L776.0,443.9 L776.1,446.8 L776.3,450.2 L776.5,458.0 L776.6,457.7 L776.8,461.3 L776.9,466.2 L777.1,468.0 L777.3,472.6 L777.4,476.6 L777.6,476.8 L777.7,478.5 L777.9,479.7 L778.1,483.0 L778.2,478.1 L778.4,484.3 L778.5,482.3 L778.7,482.6 L778.9,486.2 L779.0,486.1 L779.2,489.0 L779.3,490.8 L779.5,483.5 L779.7,489.2 L779.8,494.4 L780.0,492.3 L780.1,494.0 L780.3,491.3 L780.5,488.1 L780.6,489.2 L780.8,493.7 L780.9,494.5 L781.1,490.9 L781.3,492.2 L781.4,493.7 L781.6,489.3 L781.7,492.7 L781.9,497.4 L782.1,498.9 L782.2,493.8 L782.4,498.4 L782.5,493.1 L782.7,491.0 L782.9,489.4 L783.0,496.9 L783.2,494.0 L783.3,500.3 L783.5,495.8 L783.7,495.6 L783.8,491.1 L784.0,498.8 L784.1,494.6 L784.3,495.2 L784.5,490.5 L784.6,497.8 L784.8,498.0 L784.9,494.4 L785.1,496.1 L785.3,496.9 L785.4,498.3 L785.6,496.3 L785.7,500.1 L785.9,495.7 L786.1,494.9 L786.2,495.2 L786.4,490.5 L786.5,493.0 L786.7,498.8 L786.9,497.1 L787.0,494.7 L787.2,497.4 L787.3,492.0 L787.5,496.0 L787.7,497.9 L787.8,498.3 L788.0,495.0 L788.1,498.9 L788.3,501.1 L788.5,495.9 L788.6,498.6 L788.8,493.3 L788.9,492.4 L789.1,498.4 L789.3,497.1 L789.4,497.5 L789.6,495.7 L789.7,496.4 L789.9,499.0 L790.1,501.1 L790.2,496.7 L790.4,493.4 L790.5,500.1 L790.7,498.6 L790.9,498.8 L791.0,497.7 L791.2,502.6 L791.3,497.5 L791.5,498.5 L791.7,493.1 L791.8,496.0 L792.0,495.8 L792.1,497.3 L792.3,498.2 L792.5,495.7 L792.6,501.4 L792.8,495.0 L792.9,496.4 L793.1,498.0 L793.3,494.6 L793.4,498.8 L793.6,499.0 L793.7,496.8 L793.9,501.9 L794.1,497.7 L794.2,498.2 L794.4,495.4 L794.5,493.7 L794.7,496.1 L794.9,496.9 L795.0,496.6 L795.2,499.4 L795.3,492.1 L795.5,495.0 L795.7,493.4 L795.8,500.7 L796.0,496.4 L796.1,496.5 L796.3,495.1 L796.5,499.8 L796.6,496.8 L796.8,498.2 L796.9,493.0 L797.1,500.4 L797.3,498.6 L797.4,499.0 L797.6,500.6 L797.7,497.3 L797.9,497.4 L798.1,499.4 L798.2,498.8 L798.4,497.2 L798.5,497.9 L798.7,496.6 L798.9,499.5 L799.0,500.0 L799.2,497.8 L799.3,502.2 L799.5,494.3 L799.7,497.3 L799.8,501.8 L800.0,496.9 L800.1,494.2 L800.3,501.1 L800.5,499.1 L800.6,495.1 L800.8,499.7 L800.9,495.5 L801.1,494.8 L801.3,497.2 L801.4,496.8 L801.6,495.4 L801.7,497.1 L801.9,495.6 L802.1,498.1 L802.2,497.9 L802.4,499.6 L802.5,496.9 L802.7,494.9 L802.9,492.4 L803.0,497.4 L803.2,501.5 L803.3,499.9 L803.5,496.5 L803.7,500.1 L803.8,495.3 L804.0,500.3 L804.1,497.1 L804.3,499.7 L804.5,499.4 L804.6,497.3 L804.8,498.7 L804.9,495.5 L805.1,497.8 L805.3,500.5 L805.4,507.4 L805.6,499.6 L805.7,498.2 L805.9,495.7 L806.1,500.4 L806.2,491.0 L806.4,496.2 L806.5,498.8 L806.7,495.2 L806.9,501.6 L807.0,500.5 L807.2,496.7 L807.3,496.7 L807.5,495.0 L807.7,494.8 L807.8,499.0 L808.0,500.5 L808.1,498.8 L808.3,498.6 L808.5,496.7 L808.6,498.9 L808.8,494.6 L808.9,498.1 L809.1,501.4 L809.3,501.1 L809.4,497.0 L809.6,496.6 L809.7,501.2 L809.9,502.2 L810.1,494.6 L810.2,497.1 L810.4,498.6 L810.5,503.0 L810.7,496.1 L810.9,499.5 L811.0,497.4 L811.2,503.6 L811.3,499.1 L811.5,497.8 L811.7,497.3 L811.8,500.5 L812.0,499.6 L812.1,495.6 L812.3,498.6 L812.5,495.0 L812.6,496.3 L812.8,495.1 L812.9,495.0 L813.1,496.5 L813.3,495.8 L813.4,499.3 L813.6,499.9 L813.7,497.5 L813.9,495.5 L814.1,500.0 L814.2,493.4 L814.4,493.6 L814.5,499.8 L814.7,499.6 L814.9,500.4 L815.0,497.6 L815.2,495.2 L815.3,496.9 L815.5,499.4 L815.7,494.8 L815.8,496.5 L816.0,494.9 L816.1,495.4 L816.3,500.1 L816.5,499.2 L816.6,495.4 L816.8,495.6 L816.9,496.8 L817.1,499.4 L817.3,495.4 L817.4,497.7 L817.6,493.2 L817.7,495.2 L817.9,499.1 L818.1,500.2 L818.2,495.5 L818.4,494.8 L818.5,500.0 L818.7,497.2 L818.9,496.9 L819.0,499.3 L819.2,498.6 L819.3,500.7 L819.5,500.0 L819.7,496.8 L819.8,497.9"/>
<path d="M60.3,651.1 L60.5,646.3 L60.6,650.1 L60.8,650.0 L60.9,645.1 L61.1,644.9 L61.3,646.9 L61.4,648.7 L61.6,649.6 L61.7,648.3 L61.9,648.7 L62.1,648.7 L62.2,649.2 L62.4,650.4 L62.5,650.3 L62.7,649.2 L62.9,650.0 L63.0,648.6 L63.2,651.3 L63.3,648.7 L63.5,653.3 L63.7,649.9 L63.8,650.6 L64.0,648.6 L64.1,649.5 L64.3,650.7 L64.5,650.5 L64.6,649.2 L64.8,648.2 L64.9,650.8 L65.1,651.1 L65.3,652.0 L65.4,653.6 L65.6,650.4 L65.7,647.0 L65.9,650.9 L66.1,647.5 L66.2,648.7 L66.4,653.6 L66.5,652.8 L66.7,650.3 L66.9,650.4 L67.0,651.6 L67.2,648.2 L67.3,653.0 L67.5,651.3 L67.7,656.0 L67.8,650.0 L68.0,654.4 L68.1,650.9 L68.3,654.6 L68.5,650.4 L68.6,654.1 L68.8,651.7 L68.9,651.0 L69.1,652.4 L69.3,653.8 L69.4,653.7 L69.6,656.3 L69.7,654.7 L69.9,647.6 L70.1,652.3 L70.2,649.0 L70.4,652.4 L70.5,654.6 L70.7,650.6 L70.9,650.9 L71.0,653.8 L71.2,652.9 L71.3,656.9 L71.5,654.3 L71.7,654.8 L71.8,657.4 L72.0,652.7 L72.1,653.8 L72.3,651.8 L72.5,654.4 L72.6,656.1 L72.8,656.8 L72.9,653.9 L73.1,652.6 L73.3,652.5 L73.4,651.2 L73.6,654.4 L73.7,657.1 L73.9,649.3 L74.1,649.8 L74.2,657.3 L74.4,651.0 L74.5,655.1 L74.7,651.8 L74.9,656.1 L75.0,656.2 L75.2,654.9 L75.3,656.3 L75.5,654.8 L75.7,655.9 L75.8,658.5 L76.0,657.1 L76.1,653.4 L76.3,653.1 L76.5,654.4 L76.6,654.4 L76.8,655.1 L76.9,653.7 L77.1,656.4 L77.3,655.1 L77.4,655.8 L77.6,655.1 L77.7,656.4 L77.9,652.7 L78.1,658.5 L78.2,656.0 L78.4,656.2 L78.5,656.6 L78.7,657.6 L78.9,656.9 L79.0,655.9 L79.2,655.0 L79.3,652.0 L79.5,655.9 L79.7,654.9 L79.8,654.9 L80.0,660.6 L80.1,651.7 L80.3,655.8 L80.5,658.2 L80.6,657.7 L80.8,658.3 L80.9,653.1 L81.1,653.8 L81.3,657.1 L81.4,655.2 L81.6,659.5 L81.7,656.4 L81.9,656.4 L82.1,656.9 L82.2,655.5 L82.4,656.3 L82.5,654.7 L82.7,656.0 L82.9,655.1 L83.0,656.7 L83.2,653.3 L83.3,653.1 L83.5,657.3 L83.7,656.8 L83.8,654.3 L84.0,655.9 L84.1,654.2 L84.3,660.7 L84.5,653.2 L84.6,660.1 L84.8,654.8 L84.9,657.5 L85.1,656.1 L85.3,655.9 L85.4,658.7 L85.6,658.4 L85.7,656.2 L85.9,654.9 L86.1,661.2 L86.2,659.8 L86.4,657.2 L86.5,656.3 L86.7,657.6 L86.9,657.2 L87.0,659.5 L87.2,655.0 L87.3,657.3 L87.5,655.5 L87.7,659.9 L87.8,661.0 L88.0,657.0 L88.1,658.4 L88.3,660.2 L88.5,656.7 L88.6,655.4 L88.8,659.6 L88.9,658.5 L89.1,657.0 L89.3,660.6 L89.4,658.0 L89.6,653.8 L89.7,658.3 L89.9,657.5 L90.1,661.6 L90.2,657.6 L90.4,657.3 L90.5,658.7 L90.7,658.3 L90.9,654.8 L91.0,658.1 L91.2,657.2 L91.3,660.8 L91.5,663.0 L91.7,655.6 L91.8,656.0 L92.0,656.3 L92.1,656.7 L92.3,656.6 L92.5,658.2 L92.6,660.4 L92.8,655.4 L92.9,655.0 L93.1,654.4 L93.3,660.6 L93.4,661.1 L93.6,655.1 L93.7,654.9 L93.9,658.7 L94.1,660.7 L94.2,660.6 L94.4,658.9 L94.5,659.9 L94.7,659.2 L94.9,657.4 L95.0,662.6 L95.2,658.6 L95.3,656.3 L95.5,657.7 L95.7,655.5 L95.8,658.8 L96.0,663.1 L96.1,656.1 L96.3,661.2 L96.5,663.2 L96.6,659.6 L96.8,656.4 L96.9,657.1 L97.1,658.2 L97.3,656.3 L97.4,656.4 L97.6,658.5 L97.7,658.7 L97.9,660.3 L98.1,656.6 L98.2,663.0 L98.4,661.4 L98.5,661.0 L98.7,657.8 L98.9,662.9 L99.0,658.5 L99.2,663.1 L99.3,661.5 L99.5,657.4 L99.7,658.4 L99.8,663.3 L100.0,661.5 L100.1,659.0 L100.3,659.8 L100.5,659.8 L100.6,657.8 L100.8,659.0 L100.9,658.1 L101.1,658.6 L101.3,660.5 L101.4,657.5 L101.6,661.1 L101.7,659.8 L101.9,661.2 L102.1,661.5 L102.2,662.2 L102.4,662.2 L102.5,661.1 L102.7,659.3 L102.9,660.9 L103.0,657.8 L103.2,659.2 L103.3,661.3 L103.5,659.6 L103.7,660.7 L103.8,657.6 L104.0,662.7 L104.1,658.6 L104.3,660.7 L104.5,659.8 L104.6,661.8 L104.8,659.1 L104.9,657.8 L105.1,655.9 L105.3,659.3 L105.4,657.4 L105.6,661.1 L105.7,663.0 L105.9,655.3 L106.1,657.3 L106.2,660.6 L106.4,662.6 L106.5,660.7 L106.7,660.7 L106.9,661.1 L107.0,661.3 L107.2,663.5 L107.3,662.6 L107.5,657.5 L107.7,659.1 L107.8,660.6 L108.0,658.4 L108.1,659.3 L108.3,659.0 L108.5,658.7 L108.6,661.6 L108.8,659.4 L108.9,657.9 L109.1,658.7 L109.3,660.3 L109.4,664.7 L109.6,660.8 L109.7,663.4 L109.9,661.3 L110.1,655.7 L110.2,661.1 L110.4,658.5 L110.5,657.4 L110.7,658.0 L110.9,664.1 L111.0,657.0 L111.2,659.0 L111.3,662.8 L111.5,661.7 L111.7,656.7 L111.8,660.1 L112.0,659.3 L112.1,660.0 L112.3,662.0 L112.5,659.2 L112.6,659.7 L112.8,663.5 L112.9,656.5 L113.1,659.6 L113.3,661.4 L113.4,657.8 L113.6,659.1 L113.7,657.7 L113.9,660.8 L114.1,659.1 L114.2,662.1 L114.4,662.6 L114.5,660.6 L114.7,659.7 L114.9,661.0 L115.0,660.6 L115.2,657.9 L115.3,662.8 L115.5,661.0 L115.7,662.2 L115.8,657.6 L116.0,662.4 L116.1,665.0 L116.3,661.8 L116.5,657.5 L116.6,660.6 L116.8,660.4 L116.9,661.0 L117.1,660.0 L117.3,661.6 L117.4,659.6 L117.6,661.0 L117.7,659.1 L117.9,660.8 L118.1,662.7 L118.2,659.5 L118.4,662.0 L118.5,658.7 L118.7,659.8 L118.9,660.1 L119.0,663.2 L119.2,658.9 L119.3,663.2 L119.5,657.5 L119.7,660.2 L119.8,662.5 L120.0,662.0 L120.1,658.4 L120.3,658.0 L120.5,662.4 L120.6,657.9 L120.8,661.8 L120.9,659.5 L121.1,660.5 L121.3,665.5 L121.4,663.9 L121.6,663.9 L121.7,657.6 L121.9,661.2 L122.1,660.7 L122.2,660.3 L122.4,663.4 L122.5,656.9 L122.7,661.2 L122.9,660.8 L123.0,658.9 L123.2,664.2 L123.3,657.8 L123.5,660.6 L123.7,660.7 L123.8,655.8 L124.0,657.4 L124.1,658.4 L124.3,662.1 L124.5,662.5 L124.6,661.7 L124.8,660.9 L124.9,655.7 L125.1,660.9 L125.3,659.3 L125.4,662.8 L125.6,663.2 L125.7,665.1 L125.9,661.8 L126.1,662.0 L126.2,658.1 L126.4,660.4 L126.5,657.6 L126.7,662.1 L126.9,657.6 L127.0,659.7 L127.2,658.4 L127.3,659.1 L127.5,661.0 L127.7,658.8 L127.8,660.4 L128.0,657.8 L128.1,662.8 L128.3,658.5 L128.5,661.9 L128.6,664.3 L128.8,654.5 L128.9,657.5 L129.1,659.1 L129.3,662.0 L129.4,657.7 L129.6,660.2 L129.7,657.7 L129.9,660.4 L130.1,656.5 L130.2,660.8 L130.4,652.5 L130.5,654.8 L130.7,662.6 L130.9,659.0 L131.0,656.6 L131.2,663.0 L131.3,660.4 L131.5,660.5 L131.7,657.0 L131.8,659.0 L132.0,658.6 L132.1,653.8 L132.3,658.4 L132.5,656.5 L132.6,659.4 L132.8,659.1 L132.9,654.7 L133.1,654.5 L133.3,655.8 L133.4,656.4 L133.6,653.7 L133.7,653.9 L133.9,655.0 L134.1,654.0 L134.2,655.0 L134.4,652.3 L134.5,649.0 L134.7,646.1 L134.9,650.5 L135.0,646.6 L135.2,644.9 L135.3,642.9 L135.5,637.5 L135.7,636.8 L135.8,628.1 L136.0,627.9 L136.1,620.9 L136.3,619.5 L136.5,608.0 L136.6,596.4 L136.8,585.5 L136.9,573.3 L137.1,555.2 L137.3,539.7 L137.4,521.7 L137.6,507.1 L137.7,484.0 L137.9,462.3 L138.1,446.8 L138.2,431.4 L138.4,414.5 L138.5,406.9 L138.7,399.0 L138.9,398.9 L139.0,402.6 L139.2,412.0 L139.3,424.5 L139.5,440.8 L139.7,457.6 L139.8,480.7 L140.0,497.0 L140.1,518.4 L140.3,536.6 L140.5,551.7 L140.6,568.5 L140.8,582.1 L140.9,593.4 L141.1,605.1 L141.3,614.1 L141.4,619.3 L141.6,625.0 L141.7,631.1 L141.9,637.5 L142.1,643.6 L142.2,649.2 L142.4,646.3 L142.5,649.6 L142.7,649.3 L142.9,652.7 L143.0,651.6 L143.2,653.1 L143.3,652.4 L143.5,653.7 L143.7,658.4 L143.8,652.2 L144.0,655.3 L144.1,654.5 L144.3,658.2 L144.5,660.5 L144.6,656.2 L144.8,646.5 L144.9,658.8 L145.1,659.1 L145.3,654.4 L145.4,657.8 L145.6,658.4 L145.7,653.7 L145.9,660.4 L146.1,660.1 L146.2,659.8 L146.4,657.1 L146.5,658.1 L146.7,658.4 L146.9,660.9 L147.0,657.9 L147.2,663.3 L147.3,661.9 L147.5,655.7 L147.7,664.2 L147.8,661.0 L148.0,659.5 L148.1,661.0 L148.3,653.8 L148.5,661.4 L148.6,655.7 L148.8,658.9 L148.9,664.2 L149.1,664.1 L149.3,660.6 L149.4,659.3 L149.6,663.5 L149.7,661.5 L149.9,662.1 L150.1,663.1 L150.2,659.4 L150.4,663.5 L150.5,657.2 L150.7,665.1 L150.9,658.5 L151.0,660.6 L151.2,660.6 L151.3,663.7 L151.5,663.8 L151.7,663.0 L151.8,663.4 L152.0,663.3 L152.1,662.1 L152.3,658.2 L152.5,657.3 L152.6,657.4 L152.8,662.3 L152.9,662.0 L153.1,662.2 L153.3,663.0 L153.4,662.1 L153.6,660.4 L153.7,659.3 L153.9,658.5 L154.1,665.4 L154.2,664.7 L154.4,659.8 L154.5,662.2 L154.7,663.8 L154.9,666.3 L155.0,661.5 L155.2,663.3 L155.3,665.4 L155.5,659.1 L155.7,661.3 L155.8,662.9 L156.0,661.4 L156.1,667.6 L156.3,664.9 L156.5,663.5 L156.6,659.3 L156.8,665.0 L156.9,664.5 L157.1,662.0 L157.3,662.2 L157.4,659.9 L157.6,663.0 L157.7,665.1 L157.9,665.4 L158.1,664.5 L158.2,665.0 L158.4,662.0 L158.5,662.2 L158.7,665.9 L158.9,664.3 L159.0,661.6 L159.2,664.4 L159.3,665.2 L159.5,664.9 L159.7,663.6 L159.8,662.2 L160.0,664.3 L160.1,667.1 L160.3,663.7 L160.5,662.0 L160.6,664.2 L160.8,660.7 L160.9,664.0 L161.1,662.8 L161.3,665.6 L161.4,663.7 L161.6,667.7 L161.7,668.5 L161.9,663.0 L162.1,661.7 L162.2,664.5 L162.4,663.4 L162.5,663.9 L162.7,662.2 L162.9,664.8 L163.0,663.7 L163.2,658.9 L163.3,663.1 L163.5,664.3 L163.7,666.2 L163.8,662.4 L164.0,661.9 L164.1,666.2 L164.3,662.3 L164.5,663.9 L164.6,664.7 L164.8,665.3 L164.9,663.7 L165.1,661.2 L165.3,665.9 L165.4,662.7 L165.6,662.6 L165.7,668.1 L165.9,665.6 L166.1,661.4 L166.2,662.7 L166.4,663.2 L166.5,662.1 L166.7,659.5 L166.9,665.5 L167.0,665.4 L167.2,664.3 L167.3,662.9 L167.5,664.2 L167.7,665.2 L167.8,661.5 L168.0,663.0 L168.1,662.5 L168.3,665.3 L168.5,664.3 L168.6,660.9 L168.8,662.4 L168.9,667.6 L169.1,661.7 L169.3,664.1 L169.4,662.4 L169.6,666.5 L169.7,663.6 L169.9,662.8 L170.1,661.2 L170.2,663.2 L170.4,665.6 L170.5,665.2 L170.7,660.9 L170.9,667.2 L171.0,663.2 L171.2,661.5 L171.3,664.0 L171.5,662.4 L171.7,662.5 L171.8,662.4 L172.0,663.5 L172.1,662.6 L172.3,660.0 L172.5,664.8 L172.6,662.6 L172.8,666.3 L172.9,664.8 L173.1,665.0 L173.3,664.1 L173.4,666.5 L173.6,662.9 L173.7,659.7 L173.9,664.3 L174.1,657.7 L174.2,662.8 L174.4,664.0 L174.5,662.6 L174.7,666.2 L174.9,665.0 L175.0,663.7 L175.2,662.5 L175.3,665.7 L175.5,661.8 L175.7,662.4 L175.8,664.8 L176.0,664.5 L176.1,667.5 L176.3,662.6 L176.5,658.9 L176.6,664.3 L176.8,665.6 L176.9,662.4 L177.1,666.0 L177.3,666.4 L177.4,659.8 L177.6,661.3 L177.7,659.4 L177.9,663.2 L178.1,663.4 L178.2,662.9 L178.4,658.7 L178.5,659.4 L178.7,657.6 L178.9,656.8 L179.0,654.4 L179.2,655.6 L179.3,657.7 L179.5,657.9 L179.7,656.8 L179.8,653.6 L180.0,649.9 L180.1,648.4 L180.3,646.2 L180.5,640.2 L180.6,636.1 L180.8,629.9 L180.9,623.4 L181.1,617.8 L181.3,609.3 L181.4,605.1 L181.6,595.8 L181.7,591.8 L181.9,586.0 L182.1,584.9 L182.2,584.1 L182.4,584.1 L182.5,587.6 L182.7,591.9 L182.9,598.9 L183.0,606.2 L183.2,616.3 L183.3,617.3 L183.5,628.3 L183.7,630.9 L183.8,638.5 L184.0,644.0 L184.1,647.3 L184.3,650.4 L184.5,651.8 L184.6,654.4 L184.8,656.6 L184.9,660.2 L185.1,655.5 L185.3,658.5 L185.4,657.6 L185.6,658.7 L185.7,659.5 L185.9,664.0 L186.1,666.5 L186.2,665.1 L186.4,659.8 L186.5,662.8 L186.7,660.3 L186.9,663.9 L187.0,665.8 L187.2,664.5 L187.3,665.2 L187.5,663.1 L187.7,659.3 L187.8,659.4 L188.0,663.5 L188.1,665.1 L188.3,666.7 L188.5,663.2 L188.6,664.2 L188.8,664.7 L188.9,666.5 L189.1,664.1 L189.3,661.9 L189.4,666.7 L189.6,665.3 L189.7,665.3 L189.9,661.8 L190.1,664.5 L190.2,660.9 L190.4,660.3 L190.5,664.1 L190.7,663.8 L190.9,666.0 L191.0,667.9 L191.2,664.7 L191.3,668.7 L191.5,663.6 L191.7,666.5 L191.8,660.0 L192.0,665.2 L192.1,664.3 L192.3,664.5 L192.5,666.3 L192.6,661.0 L192.8,665.3 L192.9,663.3 L193.1,665.4 L193.3,666.0 L193.4,664.4 L193.6,664.4 L193.7,662.7 L193.9,666.4 L194.1,663.8 L194.2,666.2 L194.4,662.2 L194.5,668.2 L194.7,663.1 L194.9,667.8 L195.0,663.6 L195.2,666.5 L195.3,665.1 L195.5,666.9 L195.7,665.4 L195.8,668.2 L196.0,666.9 L196.1,666.9 L196.3,669.1 L196.5,664.0 L196.6,668.3 L196.8,665.7 L196.9,662.4 L197.1,666.6 L197.3,665.1 L197.4,669.2 L197.6,664.5 L197.7,665.7 L197.9,666.1 L198.1,661.5 L198.2,666.7 L198.4,663.5 L198.5,668.7 L198.7,669.3 L198.9,665.7 L199.0,662.3 L199.2,666.4 L199.3,666.1 L199.5,667.3 L199.7,665.1 L199.8,663.2 L200.0,665.5 L200.1,663.8 L200.3,669.6 L200.5,663.1 L200.6,664.4 L200.8,665.7 L200.9,663.2 L201.1,664.9 L201.3,665.6 L201.4,664.8 L201.6,665.3 L201.7,668.6 L201.9,666.8 L202.1,663.0 L202.2,665.0 L202.4,667.5 L202.5,664.5 L202.7,666.1 L202.9,665.9 L203.0,667.1 L203.2,665.6 L203.3,665.7 L203.5,664.1 L203.7,666.8 L203.8,664.0 L204.0,669.7 L204.1,666.0 L204.3,665.5 L204.5,667.7 L204.6,665.9 L204.8,666.2 L204.9,665.9 L205.1,664.5 L205.3,664.1 L205.4,664.6 L205.6,668.5 L205.7,664.7 L205.9,665.2 L206.1,665.1 L206.2,667.6 L206.4,670.4 L206.5,664.1 L206.7,667.3 L206.9,666.4 L207.0,665.5 L207.2,667.2 L207.3,663.4 L207.5,667.9 L207.7,666.6 L207.8,664.0 L208.0,669.6 L208.1,668.0 L208.3,668.7 L208.5,663.1 L208.6,665.6 L208.8,665.1 L208.9,667.5 L209.1,669.1 L209.3,662.1 L209.4,666.3 L209.6,665.9 L209.7,668.4 L209.9,666.1 L210.1,663.5 L210.2,665.8 L210.4,664.0 L210.5,664.6 L210.7,666.3 L210.9,665.2 L211.0,666.9 L211.2,663.0 L211.3,671.3 L211.5,669.0 L211.7,667.8 L211.8,663.5 L212.0,661.7 L212.1,664.4 L212.3,665.8 L212.5,671.1 L212.6,669.1 L212.8,665.2 L212.9,668.9 L213.1,669.0 L213.3,666.4 L213.4,668.9 L213.6,667.0 L213.7,664.9 L213.9,661.8 L214.1,666.1 L214.2,668.5 L214.4,663.5 L214.5,662.9 L214.7,667.6 L214.9,660.5 L215.0,670.3 L215.2,665.4 L215.3,668.0 L215.5,670.4 L215.7,663.3 L215.8,664.1 L216.0,671.2 L216.1,665.8 L216.3,666.1 L216.5,666.9 L216.6,668.7 L216.8,669.3 L216.9,666.7 L217.1,665.7 L217.3,666.4 L217.4,667.1 L217.6,669.3 L217.7,666.7 L217.9,670.4 L218.1,664.6 L218.2,667.6 L218.4,670.2 L218.5,669.2 L218.7,667.2 L218.9,664.6 L219.0,665.0 L219.2,666.2 L219.3,667.2 L219.5,666.0 L219.7,663.4 L219.8,664.9 L220.0,667.6 L220.1,668.3 L220.3,663.5 L220.5,665.7 L220.6,662.9 L220.8,665.3 L220.9,680.2 L221.1,666.7 L221.3,665.8 L221.4,665.3 L221.6,664.0 L221.7,662.6 L221.9,666.5 L222.1,666.0 L222.2,669.7 L222.4,663.1 L222.5,667.5 L222.7,669.5 L222.9,662.4 L223.0,668.0 L223.2,663.1 L223.3,667.7 L223.5,669.8 L223.7,666.6 L223.8,667.2 L224.0,665.1 L224.1,667.7 L224.3,669.0 L224.5,665.9 L224.6,666.3 L224.8,667.5 L224.9,668.4 L225.1,663.1 L225.3,666.8 L225.4,665.2 L225.6,667.7 L225.7,668.9 L225.9,667.3 L226.1,669.4 L226.2,664.5 L226.4,665.8 L226.5,664.5 L226.7,666.8 L226.9,666.9 L227.0,666.2 L227.2,664.1 L227.3,666.5 L227.5,665.0 L227.7,668.0 L227.8,666.1 L228.0,669.2 L228.1,667.2 L228.3,662.7 L228.5,666.3 L228.6,663.6 L228.8,668.8 L228.9,669.8 L229.1,666.7 L229.3,667.7 L229.4,663.6 L229.6,661.9 L229.7,665.5 L229.9,666.2 L230.1,663.5 L230.2,666.9 L230.4,667.4 L230.5,668.1 L230.7,670.1 L230.9,668.5 L231.0,666.0 L231.2,667.0 L231.3,668.0 L231.5,664.5 L231.7,669.6 L231.8,668.7 L232.0,666.3 L232.1,665.4 L232.3,674.9 L232.5,668.6 L232.6,668.8 L232.8,670.6 L232.9,668.9 L233.1,667.2 L233.3,668.3 L233.4,664.8 L233.6,668.3 L233.7,660.8 L233.9,667.7 L234.1,668.0 L234.2,663.5 L234.4,670.9 L234.5,664.3 L234.7,669.1 L234.9,665.7 L235.0,667.5 L235.2,665.4 L235.3,672.2 L235.5,669.0 L235.7,670.7 L235.8,668.5 L236.0,668.3 L236.1,667.2 L236.3,666.3 L236.5,668.2 L236.6,667.2 L236.8,666.5 L236.9,663.9 L237.1,666.2 L237.3,668.2 L237.4,665.9 L237.6,667.6 L237.7,666.6 L237.9,664.7 L238.1,664.9 L238.2,665.3 L238.4,666.3 L238.5,666.3 L238.7,669.3 L238.9,664.6 L239.0,662.5 L239.2,668.4 L239.3,665.9 L239.5,666.6 L239.7,672.4 L239.8,670.1 L240.0,668.2 L240.1,669.0 L240.3,667.2 L240.5,669.0 L240.6,665.6 L240.8,665.4 L240.9,665.9 L241.1,670.3 L241.3,670.3 L241.4,665.6 L241.6,669.4 L241.7,666.6 L241.9,669.3 L242.1,666.3 L242.2,669.0 L242.4,666.7 L242.5,666.3 L242.7,666.9 L242.9,667.3 L243.0,664.8 L243.2,664.0 L243.3,670.6 L243.5,666.1 L243.7,663.0 L243.8,662.1 L244.0,660.9 L244.1,665.6 L244.3,669.9 L244.5,663.4 L244.6,666.3 L244.8,663.0 L244.9,669.3 L245.1,667.8 L245.3,667.7 L245.4,669.9 L245.6,670.5 L245.7,669.2 L245.9,665.7 L246.1,664.1 L246.2,664.7 L246.4,663.2 L246.5,670.9 L246.7,666.6 L246.9,667.5 L247.0,667.4 L247.2,671.3 L247.3,665.8 L247.5,669.5 L247.7,667.6 L247.8,666.7 L248.0,659.6 L248.1,669.0 L248.3,665.4 L248.5,666.0 L248.6,667.5 L248.8,667.2 L248.9,671.4 L249.1,665.5 L249.3,667.3 L249.4,667.6 L249.6,667.0 L249.7,668.5 L249.9,666.4 L250.1,669.6 L250.2,665.4 L250.4,663.9 L250.5,666.9 L250.7,669.5 L250.9,665.9 L251.0,665.6 L251.2,666.2 L251.3,667.3 L251.5,666.6 L251.7,667.7 L251.8,663.3 L252.0,670.2 L252.1,668.2 L252.3,665.1 L252.5,669.9 L252.6,667.9 L252.8,670.2 L252.9,664.4 L253.1,673.5 L253.3,667.1 L253.4,662.5 L253.6,668.6 L253.7,666.3 L253.9,664.8 L254.1,666.5 L254.2,662.8 L254.4,668.2 L254.5,666.5 L254.7,666.4 L254.9,670.0 L255.0,667.0 L255.2,665.5 L255.3,664.9 L255.5,666.8 L255.7,669.2 L255.8,665.7 L256.0,664.7 L256.1,668.9 L256.3,667.1 L256.5,666.9 L256.6,671.4 L256.8,664.3 L256.9,667.4 L257.1,663.1 L257.3,666.3 L257.4,668.2 L257.6,669.4 L257.7,664.2 L257.9,668.7 L258.1,668.6 L258.2,666.6 L258.4,672.2 L258.5,666.9 L258.7,665.0 L258.9,667.8 L259.0,662.9 L259.2,670.3 L259.3,669.0 L259.5,666.0 L259.7,668.2 L259.8,668.1 L260.0,671.1 L260.1,665.6 L260.3,664.1 L260.5,662.5 L260.6,666.2 L260.8,663.5 L260.9,666.5 L261.1,667.8 L261.3,665.9 L261.4,664.8 L261.6,669.4 L261.7,666.4 L261.9,667.4 L262.1,668.9 L262.2,664.0 L262.4,664.9 L262.5,672.2 L262.7,666.3 L262.9,664.6 L263.0,666.3 L263.2,665.6 L263.3,664.2 L263.5,665.9 L263.7,666.8 L263.8,666.8 L264.0,668.0 L264.1,663.1 L264.3,663.6 L264.5,668.5 L264.6,665.8 L264.8,669.4 L264.9,667.5 L265.1,663.7 L265.3,668.0 L265.4,664.6 L265.6,667.3 L265.7,669.4 L265.9,671.3 L266.1,666.6 L266.2,668.3 L266.4,667.4 L266.5,668.5 L266.7,661.2 L266.9,665.9 L267.0,667.4 L267.2,667.8 L267.3,663.9 L267.5,668.5 L267.7,669.1 L267.8,666.9 L268.0,666.2 L268.1,666.0 L268.3,667.0 L268.5,669.3 L268.6,670.0 L268.8,665.7 L268.9,664.7 L269.1,665.0 L269.3,668.8 L269.4,667.2 L269.6,667.9 L269.7,667.7 L269.9,667.5 L270.1,666.3 L270.2,664.4 L270.4,665.3 L270.5,666.9 L270.7,667.5 L270.9,665.9 L271.0,665.8 L271.2,669.6 L271.3,665.6 L271.5,667.1 L271.7,666.0 L271.8,664.8 L272.0,663.4 L272.1,665.5 L272.3,664.9 L272.5,668.4 L272.6,664.1 L272.8,665.7 L272.9,668.0 L273.1,666.4 L273.3,667.7 L273.4,668.4 L273.6,663.0 L273.7,665.7 L273.9,664.5 L274.1,669.5 L274.2,666.3 L274.4,668.6 L274.5,670.2 L274.7,665.8 L274.9,666.7 L275.0,667.4 L275.2,666.0 L275.3,669.2 L275.5,668.3 L275.7,668.7 L275.8,666.6 L276.0,665.8 L276.1,665.8 L276.3,665.7 L276.5,660.2 L276.6,667.3 L276.8,668.2 L276.9,666.5 L277.1,665.4 L277.3,666.6 L277.4,667.0 L277.6,667.2 L277.7,670.3 L277.9,664.6 L278.1,667.2 L278.2,669.2 L278.4,666.6 L278.5,665.9 L278.7,664.2 L278.9,665.2 L279.0,667.9 L279.2,669.5 L279.3,665.0 L279.5,667.4 L279.7,667.5 L279.8,668.5 L280.0,666.9 L280.1,667.3 L280.3,668.3 L280.5,663.9 L280.6,666.5 L280.8,662.6 L280.9,662.2 L281.1,664.6 L281.3,663.1 L281.4,667.4 L281.6,668.4 L281.7,665.7 L281.9,666.0 L282.1,665.8 L282.2,665.8 L282.4,666.6 L282.5,667.0 L282.7,665.3 L282.9,664.6 L283.0,665.2 L283.2,668.0 L283.3,664.7 L283.5,669.3 L283.7,665.7 L283.8,669.1 L284.0,663.7 L284.1,664.8 L284.3,667.2 L284.5,667.3 L284.6,665.9 L284.8,670.5 L284.9,666.4 L285.1,666.8 L285.3,665.0 L285.4,669.7 L285.6,669.5 L285.7,667.0 L285.9,662.7 L286.1,666.9 L286.2,665.2 L286.4,667.0 L286.5,668.1 L286.7,664.6 L286.9,666.6 L287.0,668.0 L287.2,666.5 L287.3,665.4 L287.5,663.9 L287.7,664.7 L287.8,663.4 L288.0,668.2 L288.1,666.3 L288.3,663.5 L288.5,666.0 L288.6,663.3 L288.8,659.1 L288.9,668.6 L289.1,668.5 L289.3,662.9 L289.4,664.5 L289.6,666.4 L289.7,665.2 L289.9,664.2 L290.1,664.9 L290.2,665.5 L290.4,664.8 L290.5,666.4 L290.7,665.5 L290.9,664.3 L291.0,666.0 L291.2,662.4 L291.3,669.0 L291.5,662.2 L291.7,665.7 L291.8,666.6 L292.0,666.8 L292.1,666.4 L292.3,668.5 L292.5,663.5 L292.6,665.7 L292.8,666.1 L292.9,664.8 L293.1,664.6 L293.3,668.5 L293.4,664.3 L293.6,664.8 L293.7,665.2 L293.9,665.3 L294.1,666.1 L294.2,665.3 L294.4,667.2 L294.5,666.0 L294.7,667.6 L294.9,668.6 L295.0,663.9 L295.2,669.1 L295.3,664.7 L295.5,667.0 L295.7,666.0 L295.8,665.0 L296.0,661.5 L296.1,669.0 L296.3,664.0 L296.5,663.9 L296.6,667.8 L296.8,665.7 L296.9,669.5 L297.1,669.0 L297.3,668.2 L297.4,666.0 L297.6,667.1 L297.7,662.7 L297.9,666.1 L298.1,665.7 L298.2,664.4 L298.4,665.9 L298.5,662.3 L298.7,667.2 L298.9,668.0 L299.0,662.6 L299.2,665.6 L299.3,668.5 L299.5,666.1 L299.7,663.1 L299.8,661.5 L300.0,667.0 L300.1,669.0 L300.3,662.9 L300.5,665.2 L300.6,663.5 L300.8,664.5 L300.9,665.7 L301.1,665.0 L301.3,663.6 L301.4,669.4 L301.6,664.6 L301.7,664.6 L301.9,667.2 L302.1,664.9 L302.2,664.4 L302.4,666.8 L302.5,662.7 L302.7,666.3 L302.9,666.9 L303.0,667.2 L303.2,664.3 L303.3,664.7 L303.5,661.1 L303.7,664.3 L303.8,665.2 L304.0,666.3 L304.1,664.8 L304.3,663.6 L304.5,662.7 L304.6,664.3 L304.8,664.6 L304.9,666.8 L305.1,664.3 L305.3,663.2 L305.4,663.8 L305.6,663.1 L305.7,663.6 L305.9,659.4 L306.1,660.7 L306.2,661.4 L306.4,664.8 L306.5,663.6 L306.7,664.1 L306.9,666.1 L307.0,661.5 L307.2,665.9 L307.3,664.3 L307.5,661.9 L307.7,666.4 L307.8,660.3 L308.0,660.8 L308.1,662.7 L308.3,663.9 L308.5,662.5 L308.6,658.4 L308.8,662.1 L308.9,662.4 L309.1,667.8 L309.3,665.2 L309.4,662.5 L309.6,659.9 L309.7,662.7 L309.9,659.5 L310.1,662.2 L310.2,662.3 L310.4,660.6 L310.5,661.8 L310.7,660.4 L310.9,659.7 L311.0,663.8 L311.2,661.6 L311.3,659.6 L311.5,658.4 L311.7,660.1 L311.8,660.6 L312.0,660.9 L312.1,661.8 L312.3,659.4 L312.5,655.7 L312.6,661.9 L312.8,659.6 L312.9,658.5 L313.1,659.0 L313.3,652.6 L313.4,654.2 L313.6,653.2 L313.7,656.0 L313.9,650.1 L314.1,650.8 L314.2,653.4 L314.4,650.2 L314.5,646.3 L314.7,649.0 L314.9,639.9 L315.0,640.7 L315.2,635.8 L315.3,633.2 L315.5,626.6 L315.7,619.7 L315.8,615.0 L316.0,604.0 L316.1,598.8 L316.3,586.9 L316.5,577.9 L316.6,562.8 L316.8,548.9 L316.9,536.2 L317.1,522.2 L317.3,502.7 L317.4,490.1 L317.6,476.2 L317.7,461.7 L317.9,451.5 L318.1,444.8 L318.2,440.0 L318.4,440.1 L318.5,445.4 L318.7,451.4 L318.9,462.0 L319.0,473.5 L319.2,488.8 L319.3,503.6 L319.5,522.7 L319.7,537.3 L319.8,547.8 L320.0,567.0 L320.1,577.5 L320.3,587.0 L320.5,599.3 L320.6,607.4 L320.8,612.8 L320.9,617.6 L321.1,625.1 L321.3,631.9 L321.4,635.3 L321.6,638.0 L321.7,644.4 L321.9,642.6 L322.1,648.7 L322.2,647.6 L322.4,650.2 L322.5,648.9 L322.7,652.2 L322.9,651.5 L323.0,650.3 L323.2,654.6 L323.3,655.2 L323.5,657.6 L323.7,657.0 L323.8,654.7 L324.0,656.0 L324.1,652.5 L324.3,655.7 L324.5,661.0 L324.6,661.8 L324.8,660.5 L324.9,659.9 L325.1,660.7 L325.3,660.7 L325.4,656.4 L325.6,658.3 L325.7,662.8 L325.9,663.0 L326.1,661.2 L326.2,660.2 L326.4,660.2 L326.5,660.0 L326.7,659.4 L326.9,657.4 L327.0,661.9 L327.2,660.7 L327.3,661.3 L327.5,665.4 L327.7,664.2 L327.8,660.6 L328.0,663.4 L328.1,659.1 L328.3,664.5 L328.5,663.0 L328.6,662.1 L328.8,663.7 L328.9,665.7 L329.1,661.7 L329.3,660.7 L329.4,667.2 L329.6,662.9 L329.7,666.0 L329.9,661.6 L330.1,663.8 L330.2,661.8 L330.4,664.4 L330.5,662.6 L330.7,661.8 L330.9,666.5 L331.0,664.0 L331.2,659.1 L331.3,662.9 L331.5,661.5 L331.7,660.9 L331.8,662.3 L332.0,662.5 L332.1,663.6 L332.3,661.9 L332.5,659.7 L332.6,662.5 L332.8,665.5 L332.9,660.8 L333.1,665.0 L333.3,664.7 L333.4,662.8 L333.6,664.4 L333.7,662.2 L333.9,663.0 L334.1,661.7 L334.2,664.8 L334.4,666.7 L334.5,662.5 L334.7,666.4 L334.9,659.5 L335.0,662.1 L335.2,661.9 L335.3,667.6 L335.5,662.8 L335.7,665.6 L335.8,659.8 L336.0,664.3 L336.1,665.2 L336.3,664.0 L336.5,658.4 L336.6,664.5 L336.8,665.8 L336.9,666.9 L337.1,665.0 L337.3,660.6 L337.4,663.7 L337.6,666.1 L337.7,662.5 L337.9,665.4 L338.1,663.2 L338.2,664.4 L338.4,665.8 L338.5,662.8 L338.7,670.2 L338.9,664.6 L339.0,665.0 L339.2,661.5 L339.3,664.4 L339.5,663.7 L339.7,661.2 L339.8,661.1 L340.0,664.9 L340.1,664.1 L340.3,658.8 L340.5,659.8 L340.6,663.7 L340.8,664.2 L340.9,665.6 L341.1,661.8 L341.3,665.6 L341.4,663.7 L341.6,663.3 L341.7,664.1 L341.9,666.5 L342.1,665.6 L342.2,666.3 L342.4,663.0 L342.5,663.8 L342.7,662.0 L342.9,663.3 L343.0,663.6 L343.2,663.5 L343.3,665.9 L343.5,665.3 L343.7,666.0 L343.8,664.9 L344.0,666.7 L344.1,664.7 L344.3,666.5 L344.5,665.5 L344.6,666.0 L344.8,664.3 L344.9,661.9 L345.1,661.5 L345.3,668.6 L345.4,665.3 L345.6,665.4 L345.7,664.2 L345.9,663.5 L346.1,670.5 L346.2,662.2 L346.4,664.4 L346.5,664.4 L346.7,662.1 L346.9,661.9 L347.0,663.1 L347.2,663.8 L347.3,663.5 L347.5,666.2 L347.7,660.1 L347.8,665.4 L348.0,667.6 L348.1,666.4 L348.3,662.2 L348.5,658.4 L348.6,666.3 L348.8,665.6 L348.9,663.3 L349.1,667.3 L349.3,663.7 L349.4,664.8 L349.6,662.4 L349.7,665.2 L349.9,663.7 L350.1,663.5 L350.2,666.8 L350.4,665.0 L350.5,661.4 L350.7,666.0 L350.9,666.3 L351.0,662.8 L351.2,663.8 L351.3,664.7 L351.5,664.1 L351.7,664.9 L351.8,666.0 L352.0,663.6 L352.1,669.0 L352.3,663.1 L352.5,663.5 L352.6,668.7 L352.8,669.6 L352.9,664.7 L353.1,664.2 L353.3,662.4 L353.4,667.0 L353.6,665.0 L353.7,662.8 L353.9,665.5 L354.1,669.8 L354.2,666.0 L354.4,673.0 L354.5,667.0 L354.7,665.5 L354.9,664.5 L355.0,665.8 L355.2,667.2 L355.3,666.4 L355.5,666.8 L355.7,665.5 L355.8,666.2 L356.0,667.2 L356.1,664.3 L356.3,661.9 L356.5,668.2 L356.6,665.8 L356.8,663.7 L356.9,665.1 L357.1,664.1 L357.3,661.0 L357.4,664.2 L357.6,661.6 L357.7,665.0 L357.9,664.4 L358.1,667.0 L358.2,664.4 L358.4,665.4 L358.5,664.0 L358.7,663.8 L358.9,661.7 L359.0,666.7 L359.2,665.3 L359.3,663.4 L359.5,665.1 L359.7,663.8 L359.8,663.1 L360.0,665.1 L360.1,667.2 L360.3,664.1 L360.5,661.6 L360.6,663.3 L360.8,668.4 L360.9,662.9 L361.1,667.1 L361.3,664.1 L361.4,666.2 L361.6,664.4 L361.7,661.3 L361.9,663.8 L362.1,669.1 L362.2,664.3 L362.4,665.8 L362.5,663.9 L362.7,664.3 L362.9,665.3 L363.0,665.6 L363.2,669.3 L363.3,664.6 L363.5,664.2 L363.7,663.2 L363.8,661.9 L364.0,661.2 L364.1,666.0 L364.3,660.7 L364.5,667.6 L364.6,666.4 L364.8,664.0 L364.9,662.2 L365.1,664.7 L365.3,664.7 L365.4,667.0 L365.6,663.0 L365.7,663.8 L365.9,664.5 L366.1,664.0 L366.2,663.3 L366.4,661.0 L366.5,661.2 L366.7,663.2 L366.9,664.1 L367.0,666.7 L367.2,669.4 L367.3,668.2 L367.5,665.4 L367.7,668.5 L367.8,664.3 L368.0,663.5 L368.1,669.4 L368.3,662.3 L368.5,663.7 L368.6,664.0 L368.8,667.6 L368.9,663.3 L369.1,666.2 L369.3,663.7 L369.4,662.0 L369.6,665.1 L369.7,664.9 L369.9,662.1 L370.1,662.7 L370.2,662.9 L370.4,666.6 L370.5,665.5 L370.7,665.1 L370.9,665.6 L371.0,663.6 L371.2,665.6 L371.3,663.3 L371.5,661.7 L371.7,663.1 L371.8,665.0 L372.0,664.7 L372.1,666.8 L372.3,661.0 L372.5,664.1 L372.6,665.4 L372.8,662.5 L372.9,665.0 L373.1,663.7 L373.3,662.1 L373.4,666.9 L373.6,661.6 L373.7,666.6 L373.9,663.6 L374.1,662.5 L374.2,662.6 L374.4,662.9 L374.5,662.7 L374.7,665.0 L374.9,660.6 L375.0,667.1 L375.2,666.2 L375.3,667.4 L375.5,662.4 L375.7,659.6 L375.8,663.1 L376.0,664.1 L376.1,665.1 L376.3,663.4 L376.5,664.3 L376.6,664.7 L376.8,661.2 L376.9,668.2 L377.1,662.1 L377.3,665.0 L377.4,666.7 L377.6,662.8 L377.7,664.4 L377.9,667.8 L378.1,663.8 L378.2,666.6 L378.4,665.0 L378.5,664.8 L378.7,665.9 L378.9,663.9 L379.0,663.9 L379.2,666.4 L379.3,664.9 L379.5,665.4 L379.7,661.8 L379.8,664.3 L380.0,666.8 L380.1,666.2 L380.3,665.0 L380.5,663.2 L380.6,663.0 L380.8,665.2 L380.9,667.2 L381.1,664.3 L381.3,669.2 L381.4,663.6 L381.6,666.7 L381.7,662.1 L381.9,664.6 L382.1,661.9 L382.2,665.6 L382.4,665.4 L382.5,662.2 L382.7,662.6 L382.9,663.2 L383.0,661.0 L383.2,662.1 L383.3,660.8 L383.5,665.7 L383.7,667.0 L383.8,663.1 L384.0,663.4 L384.1,664.5 L384.3,662.9 L384.5,663.4 L384.6,665.7 L384.8,664.4 L384.9,663.8 L385.1,662.7 L385.3,667.0 L385.4,662.6 L385.6,664.1 L385.7,661.7 L385.9,662.6 L386.1,664.0 L386.2,663.0 L386.4,664.9 L386.5,663.9 L386.7,660.8 L386.9,658.9 L387.0,665.8 L387.2,662.4 L387.3,666.7 L387.5,663.6 L387.7,662.0 L387.8,664.7 L388.0,663.0 L388.1,663.5 L388.3,661.5 L388.5,664.8 L388.6,665.7 L388.8,662.3 L388.9,667.1 L389.1,662.1 L389.3,663.8 L389.4,659.8 L389.6,659.2 L389.7,667.6 L389.9,666.1 L390.1,665.5 L390.2,659.5 L390.4,663.5 L390.5,663.8 L390.7,663.1 L390.9,663.5 L391.0,660.9 L391.2,662.4 L391.3,660.3 L391.5,661.9 L391.7,663.3 L391.8,660.9 L392.0,661.8 L392.1,661.5 L392.3,662.3 L392.5,665.7 L392.6,662.6 L392.8,662.9 L392.9,658.9 L393.1,661.1 L393.3,663.5 L393.4,659.9 L393.6,660.7 L393.7,659.4 L393.9,664.1 L394.1,660.3 L394.2,659.6 L394.4,662.2 L394.5,663.1 L394.7,661.7 L394.9,662.6 L395.0,660.8 L395.2,659.9 L395.3,659.0 L395.5,658.7 L395.7,658.3 L395.8,660.1 L396.0,658.8 L396.1,658.9 L396.3,659.7 L396.5,658.0 L396.6,655.0 L396.8,655.8 L396.9,654.7 L397.1,652.6 L397.3,656.4 L397.4,653.1 L397.6,652.4 L397.7,652.1 L397.9,655.5 L398.1,652.2 L398.2,653.9 L398.4,650.5 L398.5,648.4 L398.7,649.0 L398.9,647.1 L399.0,643.8 L399.2,638.7 L399.3,636.6 L399.5,631.3 L399.7,628.6 L399.8,623.9 L400.0,620.5 L400.1,613.1 L400.3,603.3 L400.5,594.5 L400.6,582.6 L400.8,575.8 L400.9,561.1 L401.1,549.7 L401.3,532.9 L401.4,519.5 L401.6,506.9 L401.7,493.9 L401.9,483.3 L402.1,474.0 L402.2,469.6 L402.4,467.0 L402.5,468.7 L402.7,472.8 L402.9,479.5 L403.0,491.2 L403.2,503.8 L403.3,514.2 L403.5,527.8 L403.7,542.0 L403.8,555.0 L404.0,564.9 L404.1,582.7 L404.3,592.0 L404.5,598.3 L404.6,604.3 L404.8,616.4 L404.9,626.3 L405.1,629.5 L405.3,634.9 L405.4,634.6 L405.6,640.4 L405.7,639.6 L405.9,649.3 L406.1,648.3 L406.2,644.4 L406.4,646.3 L406.5,652.4 L406.7,652.7 L406.9,652.6 L407.0,655.3 L407.2,658.9 L407.3,656.0 L407.5,652.0 L407.7,655.9 L407.8,654.0 L408.0,655.4 L408.1,658.2 L408.3,657.4 L408.5,655.9 L408.6,658.3 L408.8,656.9 L408.9,660.0 L409.1,658.6 L409.3,660.2 L409.4,659.0 L409.6,661.3 L409.7,659.6 L409.9,660.1 L410.1,659.1 L410.2,660.7 L410.4,656.8 L410.5,666.3 L410.7,659.4 L410.9,661.1 L411.0,660.0 L411.2,660.1 L411.3,662.1 L411.5,660.2 L411.7,660.5 L411.8,658.6 L412.0,659.6 L412.1,659.2 L412.3,665.5 L412.5,659.0 L412.6,659.6 L412.8,662.3 L412.9,665.0 L413.1,658.5 L413.3,656.2 L413.4,662.4 L413.6,662.9 L413.7,659.2 L413.9,658.5 L414.1,660.3 L414.2,663.9 L414.4,662.3 L414.5,664.0 L414.7,662.2 L414.9,662.4 L415.0,663.8 L415.2,662.3 L415.3,663.1 L415.5,660.7 L415.7,661.3 L415.8,663.6 L416.0,662.2 L416.1,661.1 L416.3,664.1 L416.5,663.9 L416.6,662.7 L416.8,661.2 L416.9,664.6 L417.1,668.0 L417.3,661.1 L417.4,659.6 L417.6,661.2 L417.7,660.9 L417.9,658.0 L418.1,660.4 L418.2,664.6 L418.4,664.7 L418.5,666.0 L418.7,664.4 L418.9,661.9 L419.0,665.1 L419.2,661.6 L419.3,662.1 L419.5,660.4 L419.7,665.4 L419.8,665.0 L420.0,661.9 L420.1,662.2 L420.3,662.9 L420.5,663.2 L420.6,664.6 L420.8,662.9 L420.9,663.6 L421.1,659.6 L421.3,662.1 L421.4,658.9 L421.6,666.4 L421.7,667.9 L421.9,664.1 L422.1,664.9 L422.2,666.7 L422.4,664.4 L422.5,659.1 L422.7,661.9 L422.9,657.4 L423.0,660.5 L423.2,659.6 L423.3,662.1 L423.5,663.4 L423.7,660.0 L423.8,661.2 L424.0,662.3 L424.1,661.2 L424.3,661.0 L424.5,656.2 L424.6,660.1 L424.8,662.5 L424.9,661.1 L425.1,657.2 L425.3,659.4 L425.4,660.1 L425.6,657.0 L425.7,659.8 L425.9,656.0 L426.1,656.1 L426.2,655.5 L426.4,659.1 L426.5,652.2 L426.7,649.9 L426.9,650.5 L427.0,645.8 L427.2,644.4 L427.3,637.5 L427.5,638.5 L427.7,634.8 L427.8,630.2 L428.0,629.8 L428.1,625.6 L428.3,623.5 L428.5,621.6 L428.6,621.1 L428.8,622.2 L428.9,623.1 L429.1,626.9 L429.3,630.1 L429.4,631.8 L429.6,633.6 L429.7,638.3 L429.9,640.2 L430.1,645.1 L430.2,647.7 L430.4,648.7 L430.5,651.8 L430.7,655.6 L430.9,658.4 L431.0,655.0 L431.2,658.7 L431.3,657.5 L431.5,656.5 L431.7,662.0 L431.8,660.6 L432.0,660.5 L432.1,661.3 L432.3,660.5 L432.5,658.9 L432.6,665.0 L432.8,663.4 L432.9,662.2 L433.1,663.9 L433.3,664.7 L433.4,661.7 L433.6,663.4 L433.7,661.6 L433.9,663.7 L434.1,661.9 L434.2,667.7 L434.4,661.9 L434.5,663.8 L434.7,663.7 L434.9,662.1 L435.0,664.8 L435.2,662.8 L435.3,662.1 L435.5,663.0 L435.7,661.5 L435.8,665.6 L436.0,664.5 L436.1,665.2 L436.3,660.4 L436.5,663.8 L436.6,661.7 L436.8,663.5 L436.9,666.0 L437.1,663.9 L437.3,663.0 L437.4,665.7 L437.6,665.5 L437.7,667.3 L437.9,656.4 L438.1,664.2 L438.2,662.6 L438.4,661.7 L438.5,663.8 L438.7,661.1 L438.9,658.9 L439.0,661.7 L439.2,663.0 L439.3,667.5 L439.5,662.1 L439.7,661.2 L439.8,659.5 L440.0,662.9 L440.1,663.2 L440.3,664.0 L440.5,660.6 L440.6,662.1 L440.8,655.1 L440.9,664.1 L441.1,660.4 L441.3,658.0 L441.4,666.2 L441.6,664.8 L441.7,664.5 L441.9,664.5 L442.1,661.6 L442.2,666.0 L442.4,661.6 L442.5,667.8 L442.7,664.3 L442.9,659.9 L443.0,665.6 L443.2,668.0 L443.3,663.3 L443.5,666.1 L443.7,663.4 L443.8,662.5 L444.0,658.4 L444.1,666.4 L444.3,662.9 L444.5,664.7 L444.6,659.5 L444.8,662.0 L444.9,666.2 L445.1,662.3 L445.3,663.0 L445.4,661.2 L445.6,664.3 L445.7,665.5 L445.9,662.9 L446.1,663.5 L446.2,661.3 L446.4,666.9 L446.5,662.6 L446.7,663.6 L446.9,667.5 L447.0,663.4 L447.2,660.7 L447.3,662.0 L447.5,663.2 L447.7,667.7 L447.8,664.4 L448.0,663.5 L448.1,665.7 L448.3,666.7 L448.5,662.4 L448.6,667.0 L448.8,665.8 L448.9,664.9 L449.1,659.0 L449.3,664.4 L449.4,666.9 L449.6,663.4 L449.7,668.8 L449.9,664.1 L450.1,661.8 L450.2,665.2 L450.4,664.6 L450.5,665.8 L450.7,663.5 L450.9,666.7 L451.0,662.8 L451.2,664.3 L451.3,661.4 L451.5,662.3 L451.7,664.4 L451.8,662.6 L452.0,663.1 L452.1,663.6 L452.3,664.6 L452.5,665.6 L452.6,665.6 L452.8,666.2 L452.9,664.5 L453.1,662.9 L453.3,660.7 L453.4,663.3 L453.6,662.3 L453.7,660.2 L453.9,667.5 L454.1,660.1 L454.2,664.8 L454.4,665.2 L454.5,663.5 L454.7,669.5 L454.9,664.1 L455.0,662.4 L455.2,667.8 L455.3,662.3 L455.5,661.0 L455.7,661.9 L455.8,662.7 L456.0,664.1 L456.1,664.8 L456.3,660.8 L456.5,664.8 L456.6,668.8 L456.8,662.5 L456.9,663.8 L457.1,665.5 L457.3,666.6 L457.4,662.6 L457.6,662.0 L457.7,661.9 L457.9,666.4 L458.1,667.5 L458.2,659.4 L458.4,659.5 L458.5,661.4 L458.7,660.9 L458.9,664.9 L459.0,664.5 L459.2,668.2 L459.3,665.7 L459.5,664.3 L459.7,666.6 L459.8,662.1 L460.0,661.1 L460.1,664.1 L460.3,666.0 L460.5,660.6 L460.6,665.9 L460.8,665.9 L460.9,663.0 L461.1,664.4 L461.3,663.5 L461.4,664.2 L461.6,665.8 L461.7,662.3 L461.9,666.3 L462.1,665.9 L462.2,666.0 L462.4,659.8 L462.5,660.1 L462.7,665.5 L462.9,662.8 L463.0,662.6 L463.2,662.4 L463.3,661.2 L463.5,663.4 L463.7,662.5 L463.8,662.6 L464.0,665.0 L464.1,661.5 L464.3,666.4 L464.5,659.3 L464.6,669.4 L464.8,661.1 L464.9,665.3 L465.1,666.0 L465.3,664.0 L465.4,665.6 L465.6,663.8 L465.7,660.2 L465.9,664.7 L466.1,666.4 L466.2,661.8 L466.4,660.4 L466.5,662.7 L466.7,664.7 L466.9,664.6 L467.0,666.4 L467.2,665.2 L467.3,665.1 L467.5,659.7 L467.7,668.8 L467.8,664.1 L468.0,665.8 L468.1,663.2 L468.3,663.7 L468.5,664.1 L468.6,667.3 L468.8,667.2 L468.9,665.3 L469.1,668.2 L469.3,663.1 L469.4,665.1 L469.6,663.0 L469.7,668.9 L469.9,664.0 L470.1,666.1 L470.2,667.7 L470.4,659.5 L470.5,668.6 L470.7,664.6 L470.9,663.3 L471.0,659.9 L471.2,663.3 L471.3,659.0 L471.5,664.1 L471.7,663.3 L471.8,667.9 L472.0,663.3 L472.1,666.3 L472.3,666.5 L472.5,668.4 L472.6,663.4 L472.8,665.6 L472.9,660.7 L473.1,661.6 L473.3,663.4 L473.4,663.9 L473.6,661.3 L473.7,663.1 L473.9,665.4 L474.1,663.0 L474.2,663.6 L474.4,662.0 L474.5,666.9 L474.7,667.8 L474.9,664.4 L475.0,663.7 L475.2,667.5 L475.3,665.0 L475.5,662.5 L475.7,661.0 L475.8,662.6 L476.0,668.6 L476.1,662.6 L476.3,670.1 L476.5,663.9 L476.6,663.4 L476.8,666.8 L476.9,663.4 L477.1,664.7 L477.3,661.7 L477.4,661.2 L477.6,662.3 L477.7,664.4 L477.9,662.5 L478.1,659.7 L478.2,664.9 L478.4,663.5 L478.5,663.3 L478.7,662.6 L478.9,659.0 L479.0,667.3 L479.2,662.8 L479.3,665.0 L479.5,666.9 L479.7,666.3 L479.8,664.3 L480.0,663.9 L480.1,664.5 L480.3,665.8 L480.5,665.1 L480.6,662.9 L480.8,664.8 L480.9,664.7 L481.1,665.3 L481.3,664.3 L481.4,666.8 L481.6,664.3 L481.7,665.8 L481.9,663.9 L482.1,662.6 L482.2,661.8 L482.4,663.5 L482.5,665.0 L482.7,666.6 L482.9,663.6 L483.0,662.7 L483.2,662.7 L483.3,666.6 L483.5,664.0 L483.7,662.7 L483.8,665.4 L484.0,661.0 L484.1,664.2 L484.3,663.7 L484.5,663.3 L484.6,661.3 L484.8,665.9 L484.9,667.4 L485.1,660.9 L485.3,664.0 L485.4,665.2 L485.6,668.6 L485.7,662.9 L485.9,661.7 L486.1,663.8 L486.2,668.1 L486.4,663.9 L486.5,664.3 L486.7,667.6 L486.9,659.2 L487.0,659.1 L487.2,665.7 L487.3,665.4 L487.5,660.8 L487.7,664.9 L487.8,663.8 L488.0,664.2 L488.1,662.0 L488.3,662.8 L488.5,661.8 L488.6,663.8 L488.8,663.2 L488.9,667.3 L489.1,666.1 L489.3,660.3 L489.4,664.6 L489.6,666.8 L489.7,664.3 L489.9,666.0 L490.1,663.6 L490.2,665.2 L490.4,661.7 L490.5,665.4 L490.7,660.7 L490.9,666.5 L491.0,660.4 L491.2,659.1 L491.3,664.8 L491.5,663.3 L491.7,663.9 L491.8,664.6 L492.0,663.6 L492.1,661.8 L492.3,664.1 L492.5,664.4 L492.6,664.7 L492.8,667.9 L492.9,662.1 L493.1,663.8 L493.3,664.9 L493.4,662.7 L493.6,661.1 L493.7,662.4 L493.9,665.9 L494.1,663.1 L494.2,664.9 L494.4,662.0 L494.5,664.6 L494.7,661.0 L494.9,661.8 L495.0,663.9 L495.2,663.7 L495.3,666.8 L495.5,660.1 L495.7,664.7 L495.8,667.1 L496.0,666.5 L496.1,662.8 L496.3,662.1 L496.5,662.5 L496.6,664.2 L496.8,664.0 L496.9,664.3 L497.1,664.9 L497.3,661.3 L497.4,661.1 L497.6,660.9 L497.7,660.7 L497.9,663.3 L498.1,664.2 L498.2,669.0 L498.4,664.7 L498.5,663.6 L498.7,666.6 L498.9,662.0 L499.0,664.3 L499.2,665.6 L499.3,665.2 L499.5,664.4 L499.7,662.8 L499.8,660.8 L500.0,663.2 L500.1,662.2 L500.3,665.0 L500.5,663.2 L500.6,664.7 L500.8,660.0 L500.9,665.6 L501.1,661.7 L501.3,660.1 L501.4,660.5 L501.6,662.1 L501.7,667.8 L501.9,665.0 L502.1,660.9 L502.2,663.6 L502.4,663.2 L502.5,660.1 L502.7,661.3 L502.9,659.1 L503.0,661.6 L503.2,657.7 L503.3,661.7 L503.5,661.4 L503.7,661.7 L503.8,661.6 L504.0,665.9 L504.1,662.7 L504.3,663.9 L504.5,665.0 L504.6,665.3 L504.8,664.9 L504.9,662.2 L505.1,661.0 L505.3,661.7 L505.4,662.4 L505.6,663.4 L505.7,663.2 L505.9,665.7 L506.1,663.1 L506.2,667.2 L506.4,667.3 L506.5,662.3 L506.7,665.2 L506.9,657.1 L507.0,666.3 L507.2,664.2 L507.3,664.2 L507.5,659.7 L507.7,668.7 L507.8,662.7 L508.0,663.0 L508.1,665.7 L508.3,662.9 L508.5,661.4 L508.6,665.8 L508.8,661.1 L508.9,664.8 L509.1,663.5 L509.3,665.7 L509.4,660.6 L509.6,665.9 L509.7,664.4 L509.9,667.4 L510.1,661.8 L510.2,667.2 L510.4,664.7 L510.5,664.9 L510.7,661.6 L510.9,664.4 L511.0,664.6 L511.2,661.4 L511.3,660.7 L511.5,661.5 L511.7,666.3 L511.8,663.4 L512.0,665.1 L512.1,663.7 L512.3,663.5 L512.5,663.5 L512.6,662.2 L512.8,665.7 L512.9,663.4 L513.1,663.5 L513.3,660.0 L513.4,663.7 L513.6,661.5 L513.7,661.9 L513.9,665.2 L514.1,658.7 L514.2,662.5 L514.4,664.3 L514.5,665.4 L514.7,661.8 L514.9,663.6 L515.0,663.5 L515.2,660.4 L515.3,658.2 L515.5,658.7 L515.7,664.1 L515.8,663.0 L516.0,659.9 L516.1,661.4 L516.3,661.9 L516.5,661.9 L516.6,662.6 L516.8,667.4 L516.9,661.0 L517.1,662.9 L517.3,660.9 L517.4,661.2 L517.6,660.6 L517.7,662.0 L517.9,661.3 L518.1,663.2 L518.2,662.9 L518.4,660.5 L518.5,669.7 L518.7,659.8 L518.9,663.0 L519.0,666.9 L519.2,660.6 L519.3,665.0 L519.5,665.1 L519.7,662.8 L519.8,658.0 L520.0,665.0 L520.1,662.1 L520.3,660.6 L520.5,664.5 L520.6,660.1 L520.8,663.9 L520.9,660.3 L521.1,662.5 L521.3,659.0 L521.4,660.3 L521.6,659.1 L521.7,659.4 L521.9,661.2 L522.1,660.3 L522.2,661.0 L522.4,663.1 L522.5,660.0 L522.7,656.0 L522.9,659.2 L523.0,659.7 L523.2,661.5 L523.3,661.2 L523.5,662.3 L523.7,657.8 L523.8,659.2 L524.0,654.3 L524.1,659.5 L524.3,657.0 L524.5,656.4 L524.6,653.5 L524.8,653.3 L524.9,650.5 L525.1,651.6 L525.3,645.8 L525.4,648.7 L525.6,645.4 L525.7,645.7 L525.9,638.6 L526.1,635.3 L526.2,632.2 L526.4,628.1 L526.5,624.0 L526.7,619.0 L526.9,615.4 L527.0,612.6 L527.2,610.2 L527.3,608.0 L527.5,607.4 L527.7,608.5 L527.8,611.2 L528.0,612.9 L528.1,617.0 L528.3,621.2 L528.5,625.1 L528.6,627.4 L528.8,631.2 L528.9,632.1 L529.1,637.3 L529.3,642.5 L529.4,641.9 L529.6,649.4 L529.7,651.6 L529.9,649.5 L530.1,653.8 L530.2,650.1 L530.4,652.0 L530.5,654.4 L530.7,656.0 L530.9,656.2 L531.0,655.4 L531.2,661.9 L531.3,658.8 L531.5,659.1 L531.7,660.3 L531.8,659.5 L532.0,658.5 L532.1,658.4 L532.3,656.3 L532.5,663.2 L532.6,658.2 L532.8,656.8 L532.9,658.8 L533.1,657.2 L533.3,665.0 L533.4,661.7 L533.6,664.0 L533.7,664.2 L533.9,662.4 L534.1,662.5 L534.2,659.8 L534.4,661.2 L534.5,660.2 L534.7,661.6 L534.9,660.1 L535.0,664.4 L535.2,663.3 L535.3,661.5 L535.5,658.2 L535.7,663.3 L535.8,663.8 L536.0,661.8 L536.1,659.2 L536.3,662.9 L536.5,664.3 L536.6,657.9 L536.8,663.3 L536.9,658.2 L537.1,662.3 L537.3,665.9 L537.4,662.4 L537.6,663.2 L537.7,661.5 L537.9,662.2 L538.1,667.3 L538.2,665.1 L538.4,661.6 L538.5,661.5 L538.7,662.4 L538.9,667.0 L539.0,662.8 L539.2,664.7 L539.3,661.6 L539.5,659.7 L539.7,665.2 L539.8,662.2 L540.0,660.7 L540.1,660.9 L540.3,661.0 L540.5,661.2 L540.6,656.5 L540.8,665.0 L540.9,663.3 L541.1,664.6 L541.3,661.8 L541.4,663.2 L541.6,662.9 L541.7,665.0 L541.9,664.3 L542.1,663.3 L542.2,661.1 L542.4,660.0 L542.5,660.8 L542.7,661.2 L542.9,661.4 L543.0,659.9 L543.2,666.1 L543.3,663.1 L543.5,654.8 L543.7,660.2 L543.8,659.7 L544.0,663.1 L544.1,664.8 L544.3,660.5 L544.5,663.9 L544.6,662.0 L544.8,665.0 L544.9,665.5 L545.1,663.2 L545.3,664.1 L545.4,662.6 L545.6,661.8 L545.7,660.1 L545.9,663.3 L546.1,662.4 L546.2,661.8 L546.4,662.4 L546.5,662.2 L546.7,660.4 L546.9,661.5 L547.0,665.0 L547.2,662.1 L547.3,665.6 L547.5,660.1 L547.7,659.7 L547.8,662.9 L548.0,664.2 L548.1,661.2 L548.3,663.9 L548.5,664.6 L548.6,664.9 L548.8,662.4 L548.9,662.4 L549.1,659.1 L549.3,662.6 L549.4,663.2 L549.6,665.6 L549.7,659.9 L549.9,660.8 L550.1,660.5 L550.2,664.5 L550.4,657.2 L550.5,660.3 L550.7,667.0 L550.9,664.0 L551.0,659.8 L551.2,662.4 L551.3,664.4 L551.5,663.7 L551.7,662.1 L551.8,660.9 L552.0,664.3 L552.1,662.6 L552.3,664.3 L552.5,663.4 L552.6,661.6 L552.8,665.6 L552.9,661.5 L553.1,663.5 L553.3,661.2 L553.4,662.1 L553.6,661.6 L553.7,661.1 L553.9,663.1 L554.1,665.3 L554.2,666.5 L554.4,665.6 L554.5,662.2 L554.7,665.6 L554.9,663.4 L555.0,666.3 L555.2,659.9 L555.3,665.7 L555.5,661.3 L555.7,665.0 L555.8,661.5 L556.0,664.5 L556.1,661.9 L556.3,658.5 L556.5,660.5 L556.6,662.0 L556.8,662.6 L556.9,657.8 L557.1,660.0 L557.3,661.0 L557.4,662.1 L557.6,663.0 L557.7,660.8 L557.9,659.3 L558.1,663.1 L558.2,661.8 L558.4,664.4 L558.5,661.4 L558.7,663.8 L558.9,660.6 L559.0,663.0 L559.2,662.7 L559.3,663.4 L559.5,660.5 L559.7,662.2 L559.8,660.7 L560.0,662.1 L560.1,663.8 L560.3,668.8 L560.5,662.5 L560.6,664.0 L560.8,662.7 L560.9,664.8 L561.1,663.4 L561.3,664.6 L561.4,663.2 L561.6,667.5 L561.7,665.3 L561.9,658.8 L562.1,663.1 L562.2,662.6 L562.4,657.8 L562.5,660.6 L562.7,661.4 L562.9,660.9 L563.0,662.7 L563.2,658.6 L563.3,664.0 L563.5,664.0 L563.7,663.1 L563.8,661.7 L564.0,662.4 L564.1,661.4 L564.3,664.8 L564.5,663.4 L564.6,666.6 L564.8,661.6 L564.9,665.4 L565.1,661.1 L565.3,662.0 L565.4,660.2 L565.6,663.5 L565.7,662.2 L565.9,663.7 L566.1,665.5 L566.2,662.2 L566.4,663.1 L566.5,664.2 L566.7,662.2 L566.9,661.2 L567.0,663.1 L567.2,663.4 L567.3,664.0 L567.5,664.1 L567.7,660.9 L567.8,663.2 L568.0,664.9 L568.1,661.3 L568.3,663.0 L568.5,661.0 L568.6,662.6 L568.8,665.9 L568.9,662.6 L569.1,660.2 L569.3,663.0 L569.4,662.7 L569.6,664.6 L569.7,659.3 L569.9,660.3 L570.1,662.1 L570.2,659.0 L570.4,664.6 L570.5,658.0 L570.7,660.5 L570.9,659.1 L571.0,660.8 L571.2,663.9 L571.3,663.5 L571.5,664.1 L571.7,663.4 L571.8,657.9 L572.0,662.8 L572.1,658.3 L572.3,661.1 L572.5,661.3 L572.6,661.0 L572.8,663.2 L572.9,660.4 L573.1,665.8 L573.3,663.4 L573.4,664.6 L573.6,663.7 L573.7,665.5 L573.9,662.0 L574.1,666.2 L574.2,659.9 L574.4,663.0 L574.5,662.1 L574.7,661.6 L574.9,662.7 L575.0,660.5 L575.2,663.9 L575.3,663.7 L575.5,662.2 L575.7,663.6 L575.8,659.8 L576.0,658.2 L576.1,660.8 L576.3,661.5 L576.5,671.4 L576.6,661.5 L576.8,664.1 L576.9,663.7 L577.1,666.4 L577.3,662.2 L577.4,663.3 L577.6,661.5 L577.7,660.1 L577.9,658.1 L578.1,660.2 L578.2,664.9 L578.4,662.5 L578.5,661.5 L578.7,661.9 L578.9,660.6 L579.0,661.7 L579.2,661.7 L579.3,663.2 L579.5,663.7 L579.7,655.6 L579.8,662.2 L580.0,664.6 L580.1,659.6 L580.3,661.2 L580.5,662.3 L580.6,664.0 L580.8,662.9 L580.9,661.2 L581.1,662.7 L581.3,663.8 L581.4,662.4 L581.6,665.5 L581.7,662.4 L581.9,659.3 L582.1,659.9 L582.2,661.2 L582.4,661.0 L582.5,662.8 L582.7,662.2 L582.9,665.0 L583.0,663.1 L583.2,664.5 L583.3,659.8 L583.5,660.4 L583.7,662.7 L583.8,661.5 L584.0,662.6 L584.1,661.8 L584.3,659.9 L584.5,664.8 L584.6,663.5 L584.8,657.8 L584.9,659.8 L585.1,661.1 L585.3,662.4 L585.4,660.8 L585.6,658.1 L585.7,662.6 L585.9,660.4 L586.1,663.3 L586.2,661.4 L586.4,662.8 L586.5,662.4 L586.7,662.5 L586.9,659.5 L587.0,662.7 L587.2,660.9 L587.3,657.8 L587.5,659.5 L587.7,659.6 L587.8,661.2 L588.0,661.6 L588.1,657.7 L588.3,661.5 L588.5,659.8 L588.6,657.6 L588.8,661.5 L588.9,658.0 L589.1,657.0 L589.3,661.0 L589.4,661.2 L589.6,657.8 L589.7,661.3 L589.9,661.0 L590.1,657.7 L590.2,662.8 L590.4,658.3 L590.5,658.7 L590.7,653.1 L590.9,659.2 L591.0,656.3 L591.2,658.3 L591.3,653.5 L591.5,659.3 L591.7,659.6 L591.8,660.2 L592.0,649.7 L592.1,656.7 L592.3,655.7 L592.5,648.2 L592.6,652.5 L592.8,653.1 L592.9,655.7 L593.1,650.2 L593.3,651.6 L593.4,650.0 L593.6,649.8 L593.7,646.9 L593.9,648.1 L594.1,646.6 L594.2,639.8 L594.4,642.7 L594.5,636.3 L594.7,634.4 L594.9,634.0 L595.0,628.1 L595.2,624.9 L595.3,620.6 L595.5,615.2 L595.7,608.2 L595.8,602.1 L596.0,598.3 L596.1,592.6 L596.3,586.8 L596.5,581.8 L596.6,578.9 L596.8,576.3 L596.9,575.2 L597.1,577.3 L597.3,580.3 L597.4,584.7 L597.6,588.3 L597.7,593.9 L597.9,600.8 L598.1,605.5 L598.2,611.5 L598.4,618.3 L598.5,622.2 L598.7,629.3 L598.9,630.3 L599.0,636.8 L599.2,638.5 L599.3,644.4 L599.5,641.4 L599.7,643.3 L599.8,648.0 L600.0,645.8 L600.1,647.3 L600.3,650.0 L600.5,651.3 L600.6,648.5 L600.8,652.7 L600.9,652.2 L601.1,653.5 L601.3,654.4 L601.4,654.2 L601.6,657.3 L601.7,656.4 L601.9,655.4 L602.1,656.3 L602.2,658.6 L602.4,658.4 L602.5,659.6 L602.7,656.9 L602.9,657.7 L603.0,661.8 L603.2,657.8 L603.3,661.5 L603.5,659.9 L603.7,657.4 L603.8,655.5 L604.0,659.9 L604.1,657.2 L604.3,657.3 L604.5,655.3 L604.6,661.5 L604.8,659.3 L604.9,659.3 L605.1,660.1 L605.3,659.9 L605.4,659.6 L605.6,660.6 L605.7,659.0 L605.9,654.2 L606.1,661.2 L606.2,660.6 L606.4,659.8 L606.5,663.1 L606.7,656.9 L606.9,653.8 L607.0,663.0 L607.2,660.8 L607.3,656.5 L607.5,659.1 L607.7,661.3 L607.8,657.5 L608.0,661.2 L608.1,664.4 L608.3,662.9 L608.5,660.0 L608.6,660.7 L608.8,658.0 L608.9,660.3 L609.1,659.3 L609.3,657.9 L609.4,657.2 L609.6,664.0 L609.7,660.2 L609.9,657.8 L610.1,659.1 L610.2,663.0 L610.4,663.3 L610.5,658.6 L610.7,660.2 L610.9,661.7 L611.0,659.0 L611.2,657.3 L611.3,657.6 L611.5,659.7 L611.7,658.0 L611.8,656.8 L612.0,659.0 L612.1,661.3 L612.3,660.7 L612.5,658.8 L612.6,663.1 L612.8,657.4 L612.9,658.8 L613.1,656.0 L613.3,660.4 L613.4,658.4 L613.6,655.0 L613.7,656.6 L613.9,661.9 L614.1,659.5 L614.2,658.1 L614.4,659.4 L614.5,654.1 L614.7,655.4 L614.9,654.1 L615.0,654.9 L615.2,655.5 L615.3,657.0 L615.5,657.6 L615.7,657.1 L615.8,660.1 L616.0,652.9 L616.1,653.3 L616.3,653.6 L616.5,650.0 L616.6,650.1 L616.8,650.4 L616.9,646.4 L617.1,647.7 L617.3,647.6 L617.4,640.7 L617.6,636.0 L617.7,638.4 L617.9,632.0 L618.1,632.6 L618.2,628.1 L618.4,625.5 L618.5,622.6 L618.7,617.9 L618.9,612.4 L619.0,607.7 L619.2,603.2 L619.3,600.7 L619.5,599.6 L619.7,599.1 L619.8,599.0 L620.0,600.6 L620.1,602.4 L620.3,605.5 L620.5,609.0 L620.6,615.5 L620.8,616.5 L620.9,624.0 L621.1,625.5 L621.3,631.5 L621.4,634.3 L621.6,638.3 L621.7,642.0 L621.9,640.3 L622.1,642.0 L622.2,644.9 L622.4,645.8 L622.5,650.2 L622.7,649.9 L622.9,651.2 L623.0,652.9 L623.2,651.9 L623.3,655.9 L623.5,650.4 L623.7,655.2 L623.8,656.3 L624.0,654.1 L624.1,654.6 L624.3,658.3 L624.5,656.0 L624.6,649.8 L624.8,654.4 L624.9,659.6 L625.1,655.9 L625.3,660.6 L625.4,660.9 L625.6,657.8 L625.7,659.6 L625.9,656.8 L626.1,657.9 L626.2,657.4 L626.4,660.2 L626.5,656.4 L626.7,658.9 L626.9,659.4 L627.0,660.4 L627.2,655.0 L627.3,655.8 L627.5,657.8 L627.7,659.2 L627.8,660.0 L628.0,660.2 L628.1,664.1 L628.3,661.3 L628.5,661.2 L628.6,658.2 L628.8,661.7 L628.9,661.5 L629.1,661.5 L629.3,660.0 L629.4,661.5 L629.6,663.4 L629.7,658.6 L629.9,655.8 L630.1,662.1 L630.2,661.9 L630.4,659.9 L630.5,659.5 L630.7,666.2 L630.9,659.5 L631.0,658.0 L631.2,659.6 L631.3,661.6 L631.5,659.3 L631.7,659.8 L631.8,661.3 L632.0,659.8 L632.1,660.9 L632.3,660.6 L632.5,658.5 L632.6,660.9 L632.8,658.3 L632.9,662.7 L633.1,658.8 L633.3,660.3 L633.4,657.0 L633.6,659.9 L633.7,658.2 L633.9,663.9 L634.1,660.4 L634.2,661.9 L634.4,657.2 L634.5,658.3 L634.7,660.5 L634.9,658.1 L635.0,663.3 L635.2,660.1 L635.3,661.2 L635.5,661.6 L635.7,660.6 L635.8,662.5 L636.0,659.5 L636.1,661.7 L636.3,663.4 L636.5,661.4 L636.6,661.2 L636.8,660.3 L636.9,661.1 L637.1,662.4 L637.3,660.5 L637.4,657.5 L637.6,661.3 L637.7,660.7 L637.9,662.0 L638.1,661.1 L638.2,664.3 L638.4,658.5 L638.5,659.0 L638.7,662.4 L638.9,658.9 L639.0,661.7 L639.2,661.0 L639.3,657.0 L639.5,662.4 L639.7,663.9 L639.8,661.5 L640.0,658.2 L640.1,662.7 L640.3,658.9 L640.5,660.8 L640.6,661.9 L640.8,659.5 L640.9,657.6 L641.1,660.8 L641.3,661.0 L641.4,659.3 L641.6,659.5 L641.7,662.6 L641.9,660.9 L642.1,660.1 L642.2,659.8 L642.4,661.4 L642.5,661.3 L642.7,660.7 L642.9,658.2 L643.0,660.3 L643.2,659.8 L643.3,661.2 L643.5,663.5 L643.7,663.0 L643.8,662.4 L644.0,661.3 L644.1,660.4 L644.3,661.8 L644.5,659.3 L644.6,660.4 L644.8,659.4 L644.9,661.0 L645.1,660.9 L645.3,664.9 L645.4,662.2 L645.6,660.3 L645.7,662.7 L645.9,660.1 L646.1,663.1 L646.2,662.7 L646.4,667.0 L646.5,658.9 L646.7,660.9 L646.9,660.8 L647.0,661.7 L647.2,662.5 L647.3,659.1 L647.5,659.6 L647.7,661.7 L647.8,663.1 L648.0,658.8 L648.1,657.9 L648.3,663.4 L648.5,662.8 L648.6,663.3 L648.8,659.1 L648.9,660.7 L649.1,661.5 L649.3,662.0 L649.4,660.8 L649.6,661.0 L649.7,663.1 L649.9,660.2 L650.1,660.0 L650.2,660.2 L650.4,660.0 L650.5,661.3 L650.7,660.6 L650.9,660.2 L651.0,663.9 L651.2,661.7 L651.3,660.4 L651.5,663.6 L651.7,659.9 L651.8,661.1 L652.0,660.7 L652.1,659.9 L652.3,660.3 L652.5,661.3 L652.6,658.2 L652.8,660.3 L652.9,661.6 L653.1,661.6 L653.3,661.6 L653.4,665.8 L653.6,662.4 L653.7,660.8 L653.9,660.8 L654.1,661.0 L654.2,661.9 L654.4,660.4 L654.5,664.1 L654.7,658.8 L654.9,662.3 L655.0,662.0 L655.2,658.7 L655.3,662.3 L655.5,663.0 L655.7,659.7 L655.8,665.7 L656.0,662.4 L656.1,660.4 L656.3,660.1 L656.5,659.5 L656.6,661.5 L656.8,661.1 L656.9,658.2 L657.1,658.9 L657.3,659.6 L657.4,660.2 L657.6,660.3 L657.7,659.7 L657.9,662.3 L658.1,662.9 L658.2,661.1 L658.4,656.6 L658.5,660.7 L658.7,662.9 L658.9,660.8 L659.0,661.5 L659.2,661.2 L659.3,658.0 L659.5,655.9 L659.7,662.2 L659.8,659.9 L660.0,661.8 L660.1,660.4 L660.3,660.6 L660.5,663.7 L660.6,658.6 L660.8,660.9 L660.9,658.8 L661.1,661.1 L661.3,661.9 L661.4,662.3 L661.6,661.2 L661.7,658.2 L661.9,661.4 L662.1,662.7 L662.2,662.9 L662.4,665.2 L662.5,662.1 L662.7,658.9 L662.9,659.9 L663.0,661.1 L663.2,663.0 L663.3,658.6 L663.5,662.7 L663.7,662.2 L663.8,659.2 L664.0,663.0 L664.1,659.4 L664.3,660.9 L664.5,660.3 L664.6,661.4 L664.8,658.6 L664.9,661.9 L665.1,656.6 L665.3,660.1 L665.4,659.8 L665.6,664.0 L665.7,662.0 L665.9,659.9 L666.1,659.1 L666.2,660.9 L666.4,659.6 L666.5,665.3 L666.7,655.3 L666.9,661.0 L667.0,656.0 L667.2,662.9 L667.3,659.3 L667.5,664.1 L667.7,659.8 L667.8,663.0 L668.0,661.3 L668.1,663.2 L668.3,660.9 L668.5,654.9 L668.6,659.4 L668.8,657.7 L668.9,662.7 L669.1,661.9 L669.3,660.8 L669.4,661.7 L669.6,661.2 L669.7,659.7 L669.9,664.7 L670.1,661.3 L670.2,660.4 L670.4,657.9 L670.5,659.6 L670.7,660.8 L670.9,660.4 L671.0,659.8 L671.2,660.7 L671.3,658.5 L671.5,660.8 L671.7,657.7 L671.8,659.1 L672.0,659.3 L672.1,662.5 L672.3,661.7 L672.5,660.9 L672.6,658.5 L672.8,660.0 L672.9,662.4 L673.1,663.3 L673.3,657.8 L673.4,659.9 L673.6,661.0 L673.7,661.4 L673.9,660.8 L674.1,662.1 L674.2,657.8 L674.4,663.8 L674.5,658.4 L674.7,660.8 L674.9,661.8 L675.0,663.0 L675.2,662.5 L675.3,662.4 L675.5,663.3 L675.7,660.4 L675.8,663.3 L676.0,663.8 L676.1,659.2 L676.3,657.9 L676.5,658.7 L676.6,663.5 L676.8,663.2 L676.9,660.0 L677.1,661.2 L677.3,661.6 L677.4,662.8 L677.6,656.9 L677.7,659.5 L677.9,660.1 L678.1,661.3 L678.2,660.8 L678.4,660.0 L678.5,661.2 L678.7,655.5 L678.9,666.8 L679.0,662.3 L679.2,662.4 L679.3,659.3 L679.5,661.4 L679.7,664.7 L679.8,664.3 L680.0,660.8 L680.1,658.1 L680.3,660.9 L680.5,660.0 L680.6,662.3 L680.8,658.0 L680.9,660.2 L681.1,661.1 L681.3,659.6 L681.4,662.7 L681.6,658.3 L681.7,658.1 L681.9,659.8 L682.1,663.5 L682.2,659.9 L682.4,659.3 L682.5,662.1 L682.7,661.0 L682.9,659.4 L683.0,660.7 L683.2,660.0 L683.3,661.7 L683.5,660.8 L683.7,657.6 L683.8,659.5 L684.0,659.6 L684.1,661.2 L684.3,661.2 L684.5,658.8 L684.6,660.0 L684.8,661.0 L684.9,662.6 L685.1,660.9 L685.3,664.3 L685.4,660.4 L685.6,661.9 L685.7,659.7 L685.9,658.4 L686.1,660.6 L686.2,661.3 L686.4,661.5 L686.5,660.6 L686.7,659.6 L686.9,658.7 L687.0,659.7 L687.2,661.2 L687.3,662.2 L687.5,653.6 L687.7,661.5 L687.8,662.4 L688.0,662.8 L688.1,661.0 L688.3,661.5 L688.5,659.3 L688.6,660.0 L688.8,661.2 L688.9,657.9 L689.1,658.6 L689.3,660.5 L689.4,657.4 L689.6,660.2 L689.7,657.1 L689.9,660.5 L690.1,660.1 L690.2,658.9 L690.4,658.1 L690.5,659.0 L690.7,655.5 L690.9,659.2 L691.0,660.2 L691.2,662.4 L691.3,658.9 L691.5,659.6 L691.7,662.7 L691.8,663.4 L692.0,658.9 L692.1,661.9 L692.3,662.2 L692.5,660.8 L692.6,657.8 L692.8,657.8 L692.9,660.9 L693.1,664.4 L693.3,659.3 L693.4,662.8 L693.6,663.4 L693.7,657.1 L693.9,658.4 L694.1,662.6 L694.2,661.5 L694.4,660.6 L694.5,659.4 L694.7,660.7 L694.9,658.1 L695.0,664.4 L695.2,657.0 L695.3,655.7 L695.5,659.5 L695.7,662.1 L695.8,658.2 L696.0,659.0 L696.1,657.0 L696.3,658.9 L696.5,656.9 L696.6,656.9 L696.8,655.9 L696.9,657.7 L697.1,662.5 L697.3,658.6 L697.4,659.0 L697.6,663.1 L697.7,657.2 L697.9,656.4 L698.1,659.4 L698.2,655.8 L698.4,658.9 L698.5,660.5 L698.7,655.9 L698.9,656.9 L699.0,661.3 L699.2,655.6 L699.3,656.3 L699.5,658.0 L699.7,656.2 L699.8,655.6 L700.0,660.4 L700.1,655.9 L700.3,657.6 L700.5,655.9 L700.6,656.1 L700.8,653.6 L700.9,658.1 L701.1,655.2 L701.3,658.4 L701.4,653.2 L701.6,653.6 L701.7,656.1 L701.9,655.1 L702.1,653.2 L702.2,654.0 L702.4,649.1 L702.5,653.6 L702.7,647.8 L702.9,653.1 L703.0,655.0 L703.2,653.6 L703.3,652.9 L703.5,649.8 L703.7,650.9 L703.8,647.7 L704.0,648.2 L704.1,647.3 L704.3,639.7 L704.5,647.3 L704.6,645.1 L704.8,644.5 L704.9,639.3 L705.1,640.9 L705.3,638.5 L705.4,630.9 L705.6,629.4 L705.7,630.3 L705.9,625.9 L706.1,623.8 L706.2,619.0 L706.4,618.5 L706.5,608.9 L706.7,605.1 L706.9,600.8 L707.0,595.4 L707.2,591.2 L707.3,586.7 L707.5,581.2 L707.7,578.5 L707.8,576.1 L708.0,574.2 L708.1,574.3 L708.3,574.9 L708.5,576.6 L708.6,581.3 L708.8,584.9 L708.9,590.9 L709.1,594.1 L709.3,597.0 L709.4,603.0 L709.6,609.6 L709.7,614.8 L709.9,617.8 L710.1,623.8 L710.2,623.4 L710.4,627.3 L710.5,633.6 L710.7,634.2 L710.9,636.6 L711.0,641.3 L711.2,642.5 L711.3,639.1 L711.5,643.8 L711.7,641.3 L711.8,645.9 L712.0,647.7 L712.1,644.4 L712.3,651.9 L712.5,653.5 L712.6,651.2 L712.8,652.7 L712.9,654.4 L713.1,651.6 L713.3,654.5 L713.4,654.2 L713.6,650.1 L713.7,651.8 L713.9,652.8 L714.1,656.4 L714.2,654.8 L714.4,656.8 L714.5,654.2 L714.7,652.8 L714.9,659.8 L715.0,661.3 L715.2,657.4 L715.3,655.8 L715.5,658.7 L715.7,654.3 L715.8,656.2 L716.0,653.9 L716.1,657.9 L716.3,657.6 L716.5,656.4 L716.6,656.0 L716.8,654.4 L716.9,655.9 L717.1,660.1 L717.3,657.0 L717.4,660.4 L717.6,656.1 L717.7,657.8 L717.9,657.1 L718.1,657.6 L718.2,659.7 L718.4,654.1 L718.5,659.8 L718.7,659.8 L718.9,658.4 L719.0,658.6 L719.2,658.1 L719.3,660.0 L719.5,658.8 L719.7,657.0 L719.8,659.0 L720.0,660.7 L720.1,659.6 L720.3,658.9 L720.5,659.3 L720.6,657.9 L720.8,658.0 L720.9,655.2 L721.1,658.7 L721.3,661.1 L721.4,658.3 L721.6,657.3 L721.7,661.0 L721.9,659.5 L722.1,659.5 L722.2,660.2 L722.4,660.7 L722.5,659.2 L722.7,657.6 L722.9,662.8 L723.0,659.5 L723.2,657.8 L723.3,659.8 L723.5,661.8 L723.7,656.6 L723.8,662.1 L724.0,659.2 L724.1,663.5 L724.3,660.8 L724.5,659.3 L724.6,662.0 L724.8,662.1 L724.9,658.8 L725.1,660.0 L725.3,658.5 L725.4,661.4 L725.6,656.8 L725.7,659.2 L725.9,655.3 L726.1,660.8 L726.2,655.2 L726.4,657.5 L726.5,660.6 L726.7,659.0 L726.9,658.8 L727.0,657.7 L727.2,658.8 L727.3,656.2 L727.5,660.4 L727.7,661.3 L727.8,661.3 L728.0,659.7 L728.1,662.2 L728.3,660.7 L728.5,661.7 L728.6,660.5 L728.8,659.8 L728.9,658.3 L729.1,654.5 L729.3,661.1 L729.4,659.4 L729.6,663.8 L729.7,655.8 L729.9,662.8 L730.1,657.9 L730.2,659.8 L730.4,658.0 L730.5,660.5 L730.7,659.8 L730.9,661.6 L731.0,660.1 L731.2,660.8 L731.3,662.4 L731.5,660.9 L731.7,659.6 L731.8,662.3 L732.0,659.6 L732.1,660.7 L732.3,659.2 L732.5,658.5 L732.6,653.9 L732.8,661.3 L732.9,657.6 L733.1,661.3 L733.3,663.5 L733.4,657.2 L733.6,661.6 L733.7,659.7 L733.9,660.8 L734.1,657.5 L734.2,659.9 L734.4,660.2 L734.5,662.8 L734.7,664.2 L734.9,660.5 L735.0,659.2 L735.2,664.3 L735.3,659.7 L735.5,659.8 L735.7,660.1 L735.8,660.8 L736.0,661.3 L736.1,658.8 L736.3,659.7 L736.5,663.7 L736.6,663.1 L736.8,660.8 L736.9,660.5 L737.1,659.5 L737.3,662.0 L737.4,658.9 L737.6,660.2 L737.7,659.0 L737.9,658.7 L738.1,660.0 L738.2,659.9 L738.4,658.8 L738.5,659.7 L738.7,660.1 L738.9,659.0 L739.0,658.6 L739.2,659.4 L739.3,661.3 L739.5,662.1 L739.7,660.3 L739.8,659.4 L740.0,659.9 L740.1,663.7 L740.3,661.7 L740.5,658.0 L740.6,659.8 L740.8,658.8 L740.9,659.2 L741.1,656.5 L741.3,660.0 L741.4,657.2 L741.6,658.7 L741.7,662.9 L741.9,661.9 L742.1,658.2 L742.2,656.2 L742.4,658.1 L742.5,656.1 L742.7,657.9 L742.9,659.3 L743.0,657.8 L743.2,661.4 L743.3,659.8 L743.5,658.8 L743.7,663.4 L743.8,661.3 L744.0,660.0 L744.1,663.6 L744.3,662.5 L744.5,658.5 L744.6,660.5 L744.8,659.0 L744.9,657.0 L745.1,663.6 L745.3,662.8 L745.4,657.3 L745.6,660.8 L745.7,656.6 L745.9,662.0 L746.1,659.7 L746.2,659.2 L746.4,662.3 L746.5,659.8 L746.7,659.3 L746.9,661.6 L747.0,659.2 L747.2,661.6 L747.3,659.8 L747.5,661.5 L747.7,661.1 L747.8,661.4 L748.0,657.8 L748.1,663.6 L748.3,659.5 L748.5,663.3 L748.6,658.6 L748.8,659.2 L748.9,659.2 L749.1,662.1 L749.3,658.9 L749.4,660.6 L749.6,656.6 L749.7,658.8 L749.9,660.2 L750.1,659.5 L750.2,655.9 L750.4,660.7 L750.5,657.8 L750.7,666.8 L750.9,659.3 L751.0,664.2 L751.2,661.0 L751.3,660.6 L751.5,658.7 L751.7,659.4 L751.8,660.6 L752.0,655.7 L752.1,661.6 L752.3,657.3 L752.5,659.1 L752.6,654.1 L752.8,660.5 L752.9,661.1 L753.1,660.2 L753.3,660.2 L753.4,658.8 L753.6,659.9 L753.7,662.0 L753.9,658.7 L754.1,660.5 L754.2,661.0 L754.4,659.0 L754.5,660.0 L754.7,659.9 L754.9,658.5 L755.0,664.4 L755.2,658.6 L755.3,662.9 L755.5,661.6 L755.7,655.3 L755.8,659.9 L756.0,663.2 L756.1,661.0 L756.3,657.5 L756.5,659.9 L756.6,656.9 L756.8,657.2 L756.9,658.8 L757.1,659.7 L757.3,662.6 L757.4,660.0 L757.6,661.4 L757.7,656.8 L757.9,656.9 L758.1,658.2 L758.2,662.8 L758.4,656.5 L758.5,655.9 L758.7,659.0 L758.9,661.5 L759.0,655.8 L759.2,658.6 L759.3,656.3 L759.5,662.0 L759.7,660.4 L759.8,659.5 L760.0,658.9 L760.1,658.5 L760.3,659.2 L760.5,657.6 L760.6,657.1 L760.8,656.6 L760.9,658.8 L761.1,657.2 L761.3,660.5 L761.4,654.4 L761.6,659.8 L761.7,659.7 L761.9,661.1 L762.1,658.1 L762.2,655.5 L762.4,656.6 L762.5,660.8 L762.7,657.3 L762.9,657.5 L763.0,657.1 L763.2,658.2 L763.3,657.8 L763.5,655.0 L763.7,656.9 L763.8,660.1 L764.0,661.0 L764.1,657.7 L764.3,656.9 L764.5,660.6 L764.6,657.4 L764.8,655.3 L764.9,657.4 L765.1,659.0 L765.3,660.7 L765.4,656.4 L765.6,658.4 L765.7,656.5 L765.9,659.5 L766.1,657.5 L766.2,657.5 L766.4,654.8 L766.5,656.0 L766.7,655.9 L766.9,649.1 L767.0,659.5 L767.2,656.1 L767.3,655.6 L767.5,655.1 L767.7,655.7 L767.8,656.0 L768.0,652.6 L768.1,655.3 L768.3,655.1 L768.5,654.6 L768.6,651.3 L768.8,653.8 L768.9,651.1 L769.1,654.2 L769.3,655.8 L769.4,654.5 L769.6,651.6 L769.7,650.8 L769.9,650.3 L770.1,651.6 L770.2,649.0 L770.4,648.6 L770.5,643.9 L770.7,646.6 L770.9,645.9 L771.0,645.4 L771.2,648.0 L771.3,641.6 L771.5,640.4 L771.7,642.9 L771.8,638.1 L772.0,638.0 L772.1,636.7 L772.3,634.1 L772.5,630.1 L772.6,630.7 L772.8,628.7 L772.9,620.8 L773.1,618.5 L773.3,616.5 L773.4,610.5 L773.6,605.1 L773.7,601.2 L773.9,597.9 L774.1,591.5 L774.2,588.2 L774.4,584.5 L774.5,580.7 L774.7,579.3 L774.9,578.5 L775.0,578.9 L775.2,580.5 L775.3,580.8 L775.5,586.7 L775.7,590.6 L775.8,595.6 L776.0,598.4 L776.1,605.2 L776.3,609.1 L776.5,611.2 L776.6,619.1 L776.8,619.5 L776.9,622.4 L777.1,628.2 L777.3,629.1 L777.4,633.6 L777.6,634.7 L777.7,637.9 L777.9,640.8 L778.1,640.8 L778.2,644.1 L778.4,645.4 L778.5,643.2 L778.7,647.7 L778.9,648.2 L779.0,648.1 L779.2,650.9 L779.3,652.7 L779.5,651.5 L779.7,647.6 L779.8,652.0 L780.0,651.3 L780.1,651.5 L780.3,653.1 L780.5,652.2 L780.6,656.5 L780.8,654.1 L780.9,653.8 L781.1,655.7 L781.3,656.0 L781.4,657.0 L781.6,656.1 L781.7,655.0 L781.9,655.5 L782.1,651.0 L782.2,650.3 L782.4,657.9 L782.5,655.3 L782.7,659.8 L782.9,659.9 L783.0,653.8 L783.2,657.1 L783.3,662.5 L783.5,655.1 L783.7,657.6 L783.8,656.4 L784.0,656.5 L784.1,656.5 L784.3,657.2 L784.5,658.8 L784.6,655.7 L784.8,658.4 L784.9,656.1 L785.1,658.6 L785.3,658.3 L785.4,656.1 L785.6,658.0 L785.7,656.3 L785.9,656.1 L786.1,660.3 L786.2,654.3 L786.4,659.1 L786.5,659.5 L786.7,656.9 L786.9,660.4 L787.0,660.0 L787.2,655.6 L787.3,659.3 L787.5,659.2 L787.7,656.8 L787.8,659.5 L788.0,659.9 L788.1,657.0 L788.3,654.4 L788.5,659.3 L788.6,657.0 L788.8,655.0 L788.9,657.8 L789.1,653.7 L789.3,657.9 L789.4,661.7 L789.6,652.9 L789.7,659.6 L789.9,656.8 L790.1,657.9 L790.2,656.9 L790.4,660.1 L790.5,658.8 L790.7,657.2 L790.9,654.0 L791.0,658.0 L791.2,661.2 L791.3,656.4 L791.5,659.7 L791.7,659.6 L791.8,654.8 L792.0,661.2 L792.1,658.9 L792.3,663.5 L792.5,662.5 L792.6,658.5 L792.8,658.7 L792.9,657.0 L793.1,656.2 L793.3,660.7 L793.4,658.5 L793.6,658.2 L793.7,658.7 L793.9,660.5 L794.1,661.0 L794.2,659.1 L794.4,658.7 L794.5,659.3 L794.7,663.4 L794.9,651.5 L795.0,656.8 L795.2,660.1 L795.3,659.5 L795.5,661.7 L795.7,661.9 L795.8,663.2 L796.0,657.6 L796.1,660.5 L796.3,658.7 L796.5,661.2 L796.6,659.6 L796.8,661.0 L796.9,657.7 L797.1,659.6 L797.3,658.2 L797.4,658.7 L797.6,658.3 L797.7,657.2 L797.9,661.6 L798.1,659.9 L798.2,661.5 L798.4,657.2 L798.5,655.3 L798.7,658.0 L798.9,659.0 L799.0,660.9 L799.2,661.5 L799.3,661.8 L799.5,662.5 L799.7,660.8 L799.8,659.6 L800.0,657.8 L800.1,660.8 L800.3,658.3 L800.5,657.7 L800.6,660.6 L800.8,659.8 L800.9,661.1 L801.1,657.9 L801.3,661.8 L801.4,660.1 L801.6,659.0 L801.7,657.8 L801.9,657.2 L802.1,656.6 L802.2,662.3 L802.4,656.5 L802.5,660.7 L802.7,658.9 L802.9,658.2 L803.0,658.4 L803.2,659.2 L803.3,661.3 L803.5,660.6 L803.7,659.4 L803.8,656.6 L804.0,655.8 L804.1,663.3 L804.3,657.4 L804.5,653.7 L804.6,661.8 L804.8,656.4 L804.9,661.0 L805.1,661.4 L805.3,660.0 L805.4,661.4 L805.6,656.6 L805.7,656.9 L805.9,659.1 L806.1,659.5 L806.2,659.3 L806.4,660.4 L806.5,658.0 L806.7,655.1 L806.9,660.3 L807.0,659.0 L807.2,661.2 L807.3,663.8 L807.5,659.7 L807.7,660.7 L807.8,657.6 L808.0,661.4 L808.1,660.2 L808.3,660.0 L808.5,661.4 L808.6,657.2 L808.8,660.7 L808.9,660.4 L809.1,662.8 L809.3,655.8 L809.4,659.3 L809.6,664.0 L809.7,658.7 L809.9,658.6 L810.1,663.2 L810.2,664.7 L810.4,659.8 L810.5,658.1 L810.7,658.3 L810.9,658.7 L811.0,657.8 L811.2,657.9 L811.3,659.9 L811.5,659.6 L811.7,660.5 L811.8,659.6 L812.0,657.0 L812.1,661.1 L812.3,660.0 L812.5,658.3 L812.6,659.0 L812.8,660.2 L812.9,659.7 L813.1,659.3 L813.3,661.1 L813.4,661.7 L813.6,658.9 L813.7,659.5 L813.9,657.3 L814.1,659.2 L814.2,660.5 L814.4,661.3 L814.5,659.9 L814.7,659.4 L814.9,658.1 L815.0,660.0 L815.2,657.3 L815.3,659.8 L815.5,659.6 L815.7,656.2 L815.8,660.2 L816.0,659.1 L816.1,660.8 L816.3,658.6 L816.5,660.6 L816.6,662.8 L816.8,659.9 L816.9,661.2 L817.1,658.3 L817.3,658.8 L817.4,655.7 L817.6,659.3 L817.7,657.3 L817.9,659.8 L818.1,655.3 L818.2,657.8 L818.4,659.7 L818.5,660.4 L818.7,656.2 L818.9,658.7 L819.0,664.9 L819.2,661.2 L819.3,659.9 L819.5,653.9 L819.7,657.7 L819.8,661.5"/>
<path d="M60.3,798.0 L60.5,798.7 L60.6,799.4 L60.8,802.3 L60.9,803.2 L61.1,800.5 L61.3,797.9 L61.4,804.1 L61.6,797.3 L61.7,799.4 L61.9,800.2 L62.1,799.1 L62.2,804.0 L62.4,801.9 L62.5,805.6 L62.7,800.4 L62.9,803.2 L63.0,800.8 L63.2,800.9 L63.3,802.1 L63.5,802.3 L63.7,802.8 L63.8,801.0 L64.0,798.0 L64.1,800.9 L64.3,795.4 L64.5,801.1 L64.6,799.9 L64.8,803.9 L64.9,795.5 L65.1,806.8 L65.3,801.3 L65.4,798.4 L65.6,803.3 L65.7,803.5 L65.9,803.4 L66.1,807.6 L66.2,800.5 L66.4,803.3 L66.5,803.0 L66.7,801.1 L66.9,803.4 L67.0,808.2 L67.2,800.9 L67.3,804.0 L67.5,805.4 L67.7,804.6 L67.8,799.3 L68.0,803.9 L68.1,802.3 L68.3,806.2 L68.5,803.1 L68.6,808.1 L68.8,800.6 L68.9,804.8 L69.1,801.5 L69.3,807.9 L69.4,807.5 L69.6,801.6 L69.7,805.7 L69.9,803.8 L70.1,800.1 L70.2,801.6 L70.4,804.4 L70.5,805.4 L70.7,803.3 L70.9,805.0 L71.0,805.1 L71.2,805.1 L71.3,801.7 L71.5,804.9 L71.7,805.9 L71.8,801.1 L72.0,808.4 L72.1,808.2 L72.3,805.2 L72.5,809.9 L72.6,803.0 L72.8,802.8 L72.9,803.6 L73.1,803.4 L73.3,809.6 L73.4,805.3 L73.6,805.1 L73.7,806.2 L73.9,809.2 L74.1,805.9 L74.2,804.6 L74.4,806.2 L74.5,808.6 L74.7,804.8 L74.9,809.1 L75.0,806.5 L75.2,805.4 L75.3,807.1 L75.5,810.7 L75.7,805.4 L75.8,809.3 L76.0,807.5 L76.1,806.6 L76.3,806.4 L76.5,808.2 L76.6,807.8 L76.8,807.3 L76.9,808.0 L77.1,804.5 L77.3,805.0 L77.4,804.2 L77.6,805.8 L77.7,805.8 L77.9,805.9 L78.1,808.1 L78.2,804.6 L78.4,806.3 L78.5,809.0 L78.7,811.0 L78.9,807.2 L79.0,810.0 L79.2,810.4 L79.3,802.9 L79.5,807.8 L79.7,804.8 L79.8,806.5 L80.0,808.4 L80.1,804.5 L80.3,808.8 L80.5,807.2 L80.6,807.0 L80.8,808.9 L80.9,805.8 L81.1,803.8 L81.3,807.9 L81.4,806.1 L81.6,807.4 L81.7,805.3 L81.9,805.8 L82.1,805.6 L82.2,805.1 L82.4,806.2 L82.5,806.3 L82.7,808.3 L82.9,815.7 L83.0,806.8 L83.2,804.6 L83.3,809.8 L83.5,805.5 L83.7,806.4 L83.8,807.7 L84.0,808.7 L84.1,808.8 L84.3,809.2 L84.5,808.4 L84.6,811.4 L84.8,810.8 L84.9,807.6 L85.1,808.4 L85.3,805.7 L85.4,810.5 L85.6,808.5 L85.7,813.6 L85.9,807.5 L86.1,812.7 L86.2,807.0 L86.4,805.3 L86.5,807.3 L86.7,810.1 L86.9,811.8 L87.0,807.4 L87.2,811.8 L87.3,808.3 L87.5,808.4 L87.7,808.9 L87.8,813.5 L88.0,810.1 L88.1,810.5 L88.3,806.2 L88.5,810.2 L88.6,810.5 L88.8,813.8 L88.9,806.2 L89.1,808.3 L89.3,807.9 L89.4,808.6 L89.6,811.7 L89.7,808.3 L89.9,813.2 L90.1,810.3 L90.2,808.2 L90.4,808.8 L90.5,807.2 L90.7,807.0 L90.9,813.2 L91.0,812.6 L91.2,808.2 L91.3,809.5 L91.5,814.4 L91.7,809.0 L91.8,811.2 L92.0,811.9 L92.1,810.3 L92.3,810.4 L92.5,810.1 L92.6,811.2 L92.8,807.3 L92.9,811.1 L93.1,811.4 L93.3,807.9 L93.4,812.2 L93.6,808.9 L93.7,805.0 L93.9,806.6 L94.1,811.5 L94.2,812.6 L94.4,810.3 L94.5,807.9 L94.7,811.0 L94.9,813.6 L95.0,811.3 L95.2,808.0 L95.3,812.6 L95.5,811.1 L95.7,811.2 L95.8,811.8 L96.0,813.0 L96.1,811.4 L96.3,809.5 L96.5,811.5 L96.6,812.1 L96.8,814.6 L96.9,809.0 L97.1,811.6 L97.3,809.9 L97.4,812.6 L97.6,810.7 L97.7,804.8 L97.9,814.3 L98.1,810.5 L98.2,807.4 L98.4,808.6 L98.5,809.7 L98.7,809.2 L98.9,811.9 L99.0,812.6 L99.2,812.1 L99.3,813.2 L99.5,810.4 L99.7,813.8 L99.8,812.2 L100.0,813.5 L100.1,813.9 L100.3,811.6 L100.5,815.4 L100.6,815.8 L100.8,811.6 L100.9,816.7 L101.1,816.5 L101.3,809.0 L101.4,807.4 L101.6,810.0 L101.7,813.8 L101.9,814.9 L102.1,814.3 L102.2,812.8 L102.4,815.1 L102.5,814.5 L102.7,811.8 L102.9,813.3 L103.0,815.4 L103.2,811.4 L103.3,811.5 L103.5,811.0 L103.7,816.4 L103.8,814.6 L104.0,815.0 L104.1,812.2 L104.3,813.0 L104.5,815.9 L104.6,812.4 L104.8,815.9 L104.9,813.1 L105.1,813.0 L105.3,814.5 L105.4,815.2 L105.6,817.3 L105.7,812.4 L105.9,817.2 L106.1,811.5 L106.2,811.3 L106.4,808.1 L106.5,815.3 L106.7,816.8 L106.9,810.5 L107.0,812.6 L107.2,812.8 L107.3,809.7 L107.5,813.6 L107.7,814.1 L107.8,812.3 L108.0,811.1 L108.1,813.8 L108.3,814.9 L108.5,810.2 L108.6,813.3 L108.8,814.8 L108.9,807.0 L109.1,814.3 L109.3,817.6 L109.4,810.5 L109.6,816.6 L109.7,812.9 L109.9,815.0 L110.1,813.2 L110.2,810.9 L110.4,809.6 L110.5,819.2 L110.7,810.5 L110.9,813.0 L111.0,817.0 L111.2,814.4 L111.3,814.1 L111.5,809.0 L111.7,812.3 L111.8,810.6 L112.0,809.5 L112.1,814.6 L112.3,817.2 L112.5,811.9 L112.6,812.2 L112.8,814.8 L112.9,815.8 L113.1,811.3 L113.3,816.5 L113.4,816.0 L113.6,813.8 L113.7,811.2 L113.9,815.1 L114.1,815.4 L114.2,817.9 L114.4,812.4 L114.5,817.5 L114.7,813.0 L114.9,815.1 L115.0,813.6 L115.2,814.0 L115.3,817.3 L115.5,812.2 L115.7,815.8 L115.8,813.2 L116.0,813.8 L116.1,810.8 L116.3,814.3 L116.5,809.2 L116.6,813.3 L116.8,816.2 L116.9,815.8 L117.1,810.1 L117.3,811.2 L117.4,812.9 L117.6,818.3 L117.7,812.9 L117.9,813.8 L118.1,813.3 L118.2,814.6 L118.4,811.7 L118.5,814.5 L118.7,815.0 L118.9,816.3 L119.0,811.8 L119.2,816.0 L119.3,818.4 L119.5,815.7 L119.7,815.5 L119.8,808.1 L120.0,817.0 L120.1,818.4 L120.3,816.7 L120.5,815.0 L120.6,815.8 L120.8,820.9 L120.9,812.1 L121.1,812.8 L121.3,816.4 L121.4,814.4 L121.6,808.6 L121.7,814.3 L121.9,814.6 L122.1,811.5 L122.2,814.6 L122.4,814.3 L122.5,809.4 L122.7,814.9 L122.9,818.8 L123.0,821.1 L123.2,810.9 L123.3,810.5 L123.5,813.7 L123.7,814.2 L123.8,810.4 L124.0,811.8 L124.1,816.7 L124.3,814.0 L124.5,815.9 L124.6,813.3 L124.8,815.8 L124.9,812.1 L125.1,812.1 L125.3,811.0 L125.4,808.7 L125.6,812.3 L125.7,810.0 L125.9,812.0 L126.1,813.4 L126.2,813.5 L126.4,813.9 L126.5,811.2 L126.7,812.8 L126.9,815.6 L127.0,812.4 L127.2,812.8 L127.3,806.8 L127.5,810.0 L127.7,815.2 L127.8,810.4 L128.0,809.8 L128.1,814.6 L128.3,809.3 L128.5,814.5 L128.6,811.8 L128.8,810.5 L128.9,807.0 L129.1,814.9 L129.3,807.3 L129.4,808.6 L129.6,813.3 L129.7,808.4 L129.9,812.4 L130.1,811.0 L130.2,810.3 L130.4,808.2 L130.5,809.0 L130.7,811.1 L130.9,807.9 L131.0,811.6 L131.2,810.5 L131.3,811.0 L131.5,810.0 L131.7,810.6 L131.8,809.9 L132.0,810.7 L132.1,809.3 L132.3,808.9 L132.5,805.7 L132.6,803.4 L132.8,807.3 L132.9,809.1 L133.1,804.2 L133.3,802.2 L133.4,804.2 L133.6,805.9 L133.7,806.5 L133.9,803.2 L134.1,800.5 L134.2,802.5 L134.4,803.6 L134.5,801.0 L134.7,802.7 L134.9,798.1 L135.0,800.3 L135.2,801.0 L135.3,793.3 L135.5,792.1 L135.7,794.0 L135.8,797.8 L136.0,789.2 L136.1,785.2 L136.3,785.2 L136.5,778.1 L136.6,770.2 L136.8,766.7 L136.9,766.3 L137.1,752.3 L137.3,745.1 L137.4,741.6 L137.6,729.9 L137.7,721.2 L137.9,703.3 L138.1,690.3 L138.2,676.1 L138.4,658.3 L138.5,643.0 L138.7,625.2 L138.9,608.2 L139.0,588.3 L139.2,569.8 L139.3,553.6 L139.5,538.7 L139.7,525.8 L139.8,515.9 L140.0,509.9 L140.1,508.7 L140.3,511.5 L140.5,520.0 L140.6,531.1 L140.8,546.8 L140.9,561.9 L141.1,580.3 L141.3,599.6 L141.4,613.6 L141.6,633.7 L141.7,652.0 L141.9,669.4 L142.1,682.4 L142.2,701.3 L142.4,714.7 L142.5,725.7 L142.7,736.8 L142.9,739.9 L143.0,755.8 L143.2,758.9 L143.3,762.2 L143.5,772.5 L143.7,777.9 L143.8,779.3 L144.0,780.4 L144.1,784.6 L144.3,789.6 L144.5,786.1 L144.6,796.5 L144.8,798.1 L144.9,796.8 L145.1,801.1 L145.3,799.3 L145.4,798.0 L145.6,803.2 L145.7,803.9 L145.9,801.1 L146.1,800.6 L146.2,802.3 L146.4,808.1 L146.5,805.1 L146.7,813.1 L146.9,805.3 L147.0,808.8 L147.2,808.6 L147.3,807.7 L147.5,810.6 L147.7,806.9 L147.8,809.2 L148.0,804.5 L148.1,804.7 L148.3,810.4 L148.5,807.8 L148.6,807.7 L148.8,812.4 L148.9,810.9 L149.1,812.4 L149.3,815.9 L149.4,812.4 L149.6,813.2 L149.7,809.5 L149.9,814.5 L150.1,814.7 L150.2,810.3 L150.4,814.6 L150.5,813.9 L150.7,812.8 L150.9,813.6 L151.0,819.4 L151.2,812.1 L151.3,813.0 L151.5,814.2 L151.7,813.6 L151.8,809.8 L152.0,815.8 L152.1,816.6 L152.3,818.6 L152.5,813.2 L152.6,811.7 L152.8,816.3 L152.9,812.4 L153.1,814.9 L153.3,814.1 L153.4,815.6 L153.6,814.1 L153.7,816.9 L153.9,813.1 L154.1,821.1 L154.2,817.3 L154.4,814.0 L154.5,813.3 L154.7,815.2 L154.9,814.6 L155.0,813.8 L155.2,819.2 L155.3,818.3 L155.5,813.4 L155.7,817.4 L155.8,816.1 L156.0,818.0 L156.1,814.6 L156.3,821.4 L156.5,816.5 L156.6,821.1 L156.8,815.3 L156.9,819.7 L157.1,816.2 L157.3,820.5 L157.4,816.1 L157.6,812.0 L157.7,814.1 L157.9,815.2 L158.1,818.2 L158.2,817.7 L158.4,817.3 L158.5,819.4 L158.7,820.8 L158.9,814.5 L159.0,819.4 L159.2,822.6 L159.3,815.6 L159.5,815.7 L159.7,818.1 L159.8,817.7 L160.0,815.9 L160.1,817.0 L160.3,821.1 L160.5,819.5 L160.6,815.4 L160.8,813.2 L160.9,814.7 L161.1,817.8 L161.3,815.5 L161.4,815.4 L161.6,819.2 L161.7,816.8 L161.9,816.6 L162.1,818.1 L162.2,821.1 L162.4,818.4 L162.5,819.3 L162.7,817.9 L162.9,821.4 L163.0,814.8 L163.2,815.0 L163.3,816.5 L163.5,822.6 L163.7,821.5 L163.8,815.2 L164.0,816.8 L164.1,819.2 L164.3,818.1 L164.5,820.0 L164.6,816.8 L164.8,814.0 L164.9,819.5 L165.1,821.0 L165.3,814.3 L165.4,813.5 L165.6,817.0 L165.7,813.6 L165.9,819.1 L166.1,815.3 L166.2,819.9 L166.4,817.3 L166.5,818.5 L166.7,819.8 L166.9,817.7 L167.0,815.8 L167.2,820.4 L167.3,814.7 L167.5,821.6 L167.7,816.8 L167.8,817.0 L168.0,819.2 L168.1,819.3 L168.3,819.5 L168.5,814.8 L168.6,816.2 L168.8,819.1 L168.9,819.2 L169.1,818.1 L169.3,821.4 L169.4,817.9 L169.6,820.6 L169.7,820.9 L169.9,819.2 L170.1,817.5 L170.2,820.1 L170.4,819.4 L170.5,819.8 L170.7,816.3 L170.9,819.5 L171.0,825.2 L171.2,817.7 L171.3,818.7 L171.5,817.8 L171.7,820.4 L171.8,813.4 L172.0,822.1 L172.1,819.5 L172.3,817.7 L172.5,818.9 L172.6,820.9 L172.8,819.1 L172.9,819.8 L173.1,821.1 L173.3,818.6 L173.4,819.9 L173.6,821.6 L173.7,819.4 L173.9,816.6 L174.1,819.9 L174.2,822.9 L174.4,817.2 L174.5,819.0 L174.7,818.9 L174.9,819.9 L175.0,816.8 L175.2,817.7 L175.3,822.3 L175.5,819.2 L175.7,816.0 L175.8,819.3 L176.0,817.5 L176.1,820.9 L176.3,813.3 L176.5,817.3 L176.6,819.3 L176.8,813.8 L176.9,814.9 L177.1,817.7 L177.3,816.5 L177.4,815.6 L177.6,816.8 L177.7,812.6 L177.9,813.7 L178.1,819.6 L178.2,813.7 L178.4,816.0 L178.5,814.6 L178.7,816.4 L178.9,814.8 L179.0,814.6 L179.2,815.9 L179.3,813.4 L179.5,807.9 L179.7,809.7 L179.8,813.8 L180.0,811.9 L180.1,807.6 L180.3,803.0 L180.5,803.3 L180.6,807.9 L180.8,803.3 L180.9,800.5 L181.1,790.3 L181.3,787.0 L181.4,784.2 L181.6,777.3 L181.7,774.9 L181.9,766.0 L182.1,762.2 L182.2,753.5 L182.4,745.3 L182.5,739.1 L182.7,731.0 L182.9,723.4 L183.0,716.7 L183.2,712.0 L183.3,707.7 L183.5,706.7 L183.7,708.5 L183.8,712.2 L184.0,718.5 L184.1,723.8 L184.3,729.5 L184.5,737.7 L184.6,744.3 L184.8,753.9 L184.9,761.3 L185.1,768.3 L185.3,775.4 L185.4,783.1 L185.6,787.5 L185.7,787.7 L185.9,796.4 L186.1,795.5 L186.2,801.7 L186.4,803.5 L186.5,809.3 L186.7,806.9 L186.9,808.2 L187.0,809.2 L187.2,812.9 L187.3,812.5 L187.5,811.8 L187.7,815.1 L187.8,818.6 L188.0,818.0 L188.1,818.1 L188.3,813.7 L188.5,815.1 L188.6,816.0 L188.8,811.9 L188.9,820.2 L189.1,813.0 L189.3,817.6 L189.4,813.9 L189.6,817.3 L189.7,819.2 L189.9,818.6 L190.1,815.5 L190.2,816.1 L190.4,820.0 L190.5,817.8 L190.7,818.3 L190.9,820.4 L191.0,812.3 L191.2,819.0 L191.3,821.5 L191.5,822.8 L191.7,820.3 L191.8,817.0 L192.0,821.1 L192.1,823.3 L192.3,817.5 L192.5,817.3 L192.6,818.7 L192.8,818.2 L192.9,814.4 L193.1,813.7 L193.3,816.2 L193.4,816.7 L193.6,820.5 L193.7,818.2 L193.9,819.9 L194.1,822.8 L194.2,826.7 L194.4,821.7 L194.5,817.4 L194.7,822.1 L194.9,819.8 L195.0,820.6 L195.2,822.1 L195.3,821.7 L195.5,816.8 L195.7,817.2 L195.8,820.6 L196.0,821.7 L196.1,825.0 L196.3,821.5 L196.5,819.2 L196.6,819.0 L196.8,818.5 L196.9,817.1 L197.1,817.1 L197.3,818.9 L197.4,820.4 L197.6,818.4 L197.7,820.3 L197.9,819.6 L198.1,819.8 L198.2,819.3 L198.4,821.0 L198.5,820.4 L198.7,814.1 L198.9,821.0 L199.0,820.7 L199.2,819.0 L199.3,820.9 L199.5,818.8 L199.7,820.8 L199.8,818.5 L200.0,822.1 L200.1,821.4 L200.3,817.1 L200.5,818.9 L200.6,822.2 L200.8,821.6 L200.9,820.9 L201.1,818.0 L201.3,819.1 L201.4,821.0 L201.6,821.4 L201.7,820.7 L201.9,818.8 L202.1,820.2 L202.2,819.6 L202.4,818.0 L202.5,818.2 L202.7,818.9 L202.9,817.3 L203.0,821.9 L203.2,822.6 L203.3,822.9 L203.5,819.0 L203.7,819.1 L203.8,821.4 L204.0,819.8 L204.1,820.1 L204.3,820.2 L204.5,817.1 L204.6,823.9 L204.8,817.6 L204.9,817.2 L205.1,822.8 L205.3,818.4 L205.4,823.5 L205.6,821.8 L205.7,821.8 L205.9,820.1 L206.1,817.7 L206.2,818.2 L206.4,821.3 L206.5,820.8 L206.7,818.2 L206.9,818.4 L207.0,819.0 L207.2,820.9 L207.3,822.1 L207.5,823.2 L207.7,820.2 L207.8,824.5 L208.0,822.8 L208.1,824.6 L208.3,819.1 L208.5,822.5 L208.6,823.7 L208.8,813.7 L208.9,823.4 L209.1,822.2 L209.3,823.4 L209.4,821.6 L209.6,823.9 L209.7,820.3 L209.9,820.1 L210.1,823.0 L210.2,823.0 L210.4,818.2 L210.5,824.1 L210.7,824.1 L210.9,823.7 L211.0,819.6 L211.2,824.3 L211.3,822.6 L211.5,823.5 L211.7,821.3 L211.8,820.4 L212.0,819.8 L212.1,820.0 L212.3,823.5 L212.5,819.6 L212.6,820.0 L212.8,822.2 L212.9,820.9 L213.1,816.7 L213.3,820.0 L213.4,820.0 L213.6,825.3 L213.7,823.1 L213.9,819.2 L214.1,819.0 L214.2,820.5 L214.4,822.1 L214.5,819.8 L214.7,822.6 L214.9,818.3 L215.0,822.4 L215.2,824.4 L215.3,815.5 L215.5,821.6 L215.7,822.7 L215.8,822.7 L216.0,821.9 L216.1,821.5 L216.3,822.4 L216.5,822.0 L216.6,821.9 L216.8,825.4 L216.9,824.1 L217.1,823.9 L217.3,820.3 L217.4,820.6 L217.6,824.2 L217.7,819.4 L217.9,824.2 L218.1,818.7 L218.2,826.8 L218.4,824.7 L218.5,820.6 L218.7,820.8 L218.9,817.1 L219.0,821.8 L219.2,824.7 L219.3,823.3 L219.5,821.3 L219.7,826.7 L219.8,823.2 L220.0,822.9 L220.1,821.3 L220.3,823.3 L220.5,828.1 L220.6,823.0 L220.8,818.1 L220.9,822.5 L221.1,826.5 L221.3,824.8 L221.4,820.8 L221.6,822.9 L221.7,818.6 L221.9,823.6 L222.1,820.0 L222.2,820.9 L222.4,820.8 L222.5,820.5 L222.7,826.1 L222.9,825.6 L223.0,821.5 L223.2,822.4 L223.3,826.1 L223.5,821.5 L223.7,821.2 L223.8,820.2 L224.0,825.8 L224.1,822.6 L224.3,822.2 L224.5,821.3 L224.6,820.1 L224.8,824.5 L224.9,820.5 L225.1,821.1 L225.3,818.4 L225.4,819.7 L225.6,821.1 L225.7,821.2 L225.9,818.8 L226.1,820.9 L226.2,822.0 L226.4,816.3 L226.5,823.7 L226.7,821.7 L226.9,819.2 L227.0,821.7 L227.2,823.4 L227.3,822.4 L227.5,822.5 L227.7,822.4 L227.8,823.9 L228.0,819.3 L228.1,821.1 L228.3,823.3 L228.5,822.5 L228.6,820.0 L228.8,821.8 L228.9,820.9 L229.1,822.5 L229.3,818.6 L229.4,818.7 L229.6,819.2 L229.7,822.2 L229.9,828.3 L230.1,826.6 L230.2,825.4 L230.4,822.6 L230.5,826.3 L230.7,823.4 L230.9,822.7 L231.0,825.1 L231.2,819.8 L231.3,817.5 L231.5,819.8 L231.7,825.9 L231.8,824.7 L232.0,823.1 L232.1,822.1 L232.3,822.3 L232.5,823.6 L232.6,820.7 L232.8,824.5 L232.9,820.4 L233.1,825.8 L233.3,821.9 L233.4,820.6 L233.6,822.0 L233.7,820.6 L233.9,822.4 L234.1,818.5 L234.2,821.6 L234.4,822.9 L234.5,823.6 L234.7,821.9 L234.9,825.6 L235.0,818.8 L235.2,822.3 L235.3,821.7 L235.5,822.8 L235.7,822.2 L235.8,826.0 L236.0,822.8 L236.1,820.7 L236.3,828.6 L236.5,822.9 L236.6,822.5 L236.8,824.9 L236.9,821.5 L237.1,822.3 L237.3,824.9 L237.4,820.1 L237.6,821.8 L237.7,825.1 L237.9,827.1 L238.1,822.7 L238.2,822.7 L238.4,825.4 L238.5,816.7 L238.7,821.3 L238.9,821.1 L239.0,818.1 L239.2,816.2 L239.3,822.0 L239.5,825.1 L239.7,824.5 L239.8,825.9 L240.0,816.6 L240.1,822.6 L240.3,826.1 L240.5,821.0 L240.6,819.9 L240.8,823.8 L240.9,823.0 L241.1,824.5 L241.3,823.0 L241.4,828.2 L241.6,825.9 L241.7,823.6 L241.9,822.1 L242.1,824.7 L242.2,821.5 L242.4,825.3 L242.5,825.7 L242.7,825.3 L242.9,820.1 L243.0,824.1 L243.2,823.9 L243.3,825.1 L243.5,819.4 L243.7,821.7 L243.8,822.9 L244.0,826.3 L244.1,820.5 L244.3,825.2 L244.5,823.4 L244.6,827.6 L244.8,823.9 L244.9,819.3 L245.1,822.5 L245.3,823.7 L245.4,826.1 L245.6,824.7 L245.7,822.5 L245.9,820.2 L246.1,823.2 L246.2,822.8 L246.4,826.2 L246.5,825.3 L246.7,819.8 L246.9,817.7 L247.0,822.2 L247.2,823.8 L247.3,820.9 L247.5,821.9 L247.7,825.9 L247.8,824.9 L248.0,819.1 L248.1,824.0 L248.3,823.5 L248.5,822.7 L248.6,824.5 L248.8,824.5 L248.9,833.6 L249.1,823.7 L249.3,821.4 L249.4,822.0 L249.6,824.8 L249.7,827.7 L249.9,824.6 L250.1,824.4 L250.2,823.8 L250.4,822.1 L250.5,823.3 L250.7,818.0 L250.9,824.9 L251.0,824.3 L251.2,823.6 L251.3,821.1 L251.5,822.5 L251.7,821.8 L251.8,823.9 L252.0,822.5 L252.1,824.0 L252.3,825.3 L252.5,826.1 L252.6,820.7 L252.8,822.4 L252.9,820.6 L253.1,826.1 L253.3,821.1 L253.4,826.3 L253.6,822.0 L253.7,825.6 L253.9,821.9 L254.1,822.6 L254.2,823.4 L254.4,823.3 L254.5,822.8 L254.7,824.7 L254.9,825.9 L255.0,825.2 L255.2,822.0 L255.3,818.8 L255.5,823.4 L255.7,816.5 L255.8,824.7 L256.0,824.6 L256.1,820.3 L256.3,824.5 L256.5,821.6 L256.6,826.1 L256.8,821.3 L256.9,821.1 L257.1,821.6 L257.3,823.7 L257.4,820.7 L257.6,828.4 L257.7,822.2 L257.9,827.2 L258.1,822.4 L258.2,822.3 L258.4,821.4 L258.5,821.3 L258.7,824.1 L258.9,825.9 L259.0,823.3 L259.2,821.0 L259.3,823.6 L259.5,821.2 L259.7,816.8 L259.8,823.4 L260.0,819.0 L260.1,821.6 L260.3,823.2 L260.5,822.1 L260.6,822.4 L260.8,826.7 L260.9,825.3 L261.1,826.6 L261.3,823.9 L261.4,823.6 L261.6,827.2 L261.7,821.6 L261.9,823.8 L262.1,823.3 L262.2,823.7 L262.4,824.4 L262.5,823.3 L262.7,824.9 L262.9,821.0 L263.0,824.2 L263.2,820.6 L263.3,825.5 L263.5,825.3 L263.7,822.5 L263.8,821.8 L264.0,822.9 L264.1,824.3 L264.3,819.4 L264.5,820.6 L264.6,825.2 L264.8,822.5 L264.9,819.9 L265.1,817.7 L265.3,821.9 L265.4,818.8 L265.6,823.2 L265.7,822.7 L265.9,827.2 L266.1,820.0 L266.2,824.4 L266.4,820.1 L266.5,818.5 L266.7,822.4 L266.9,820.9 L267.0,827.1 L267.2,822.7 L267.3,821.1 L267.5,828.3 L267.7,821.0 L267.8,822.0 L268.0,822.3 L268.1,821.0 L268.3,824.2 L268.5,825.6 L268.6,819.8 L268.8,821.7 L268.9,821.1 L269.1,819.5 L269.3,819.7 L269.4,821.9 L269.6,820.7 L269.7,823.5 L269.9,824.7 L270.1,823.4 L270.2,823.4 L270.4,820.6 L270.5,821.3 L270.7,823.6 L270.9,824.0 L271.0,822.5 L271.2,824.0 L271.3,822.1 L271.5,820.0 L271.7,823.4 L271.8,821.7 L272.0,818.7 L272.1,824.6 L272.3,823.6 L272.5,824.3 L272.6,821.6 L272.8,826.1 L272.9,823.8 L273.1,824.9 L273.3,821.1 L273.4,821.9 L273.6,825.6 L273.7,822.6 L273.9,822.7 L274.1,826.1 L274.2,825.3 L274.4,823.1 L274.5,827.0 L274.7,819.1 L274.9,822.4 L275.0,821.3 L275.2,826.0 L275.3,826.2 L275.5,821.5 L275.7,822.9 L275.8,824.7 L276.0,823.8 L276.1,823.2 L276.3,826.6 L276.5,827.0 L276.6,822.8 L276.8,820.0 L276.9,822.3 L277.1,822.4 L277.3,821.7 L277.4,824.1 L277.6,824.2 L277.7,824.6 L277.9,823.6 L278.1,823.1 L278.2,820.1 L278.4,821.0 L278.5,820.5 L278.7,823.2 L278.9,822.2 L279.0,822.4 L279.2,823.7 L279.3,821.8 L279.5,824.9 L279.7,824.9 L279.8,820.3 L280.0,825.4 L280.1,821.7 L280.3,820.8 L280.5,821.7 L280.6,819.5 L280.8,823.2 L280.9,825.2 L281.1,818.9 L281.3,823.4 L281.4,823.7 L281.6,823.9 L281.7,823.8 L281.9,823.4 L282.1,821.3 L282.2,824.4 L282.4,823.1 L282.5,825.6 L282.7,823.0 L282.9,821.7 L283.0,822.2 L283.2,823.7 L283.3,824.7 L283.5,817.9 L283.7,819.4 L283.8,818.6 L284.0,821.1 L284.1,820.7 L284.3,822.7 L284.5,821.6 L284.6,825.3 L284.8,820.8 L284.9,820.6 L285.1,820.3 L285.3,821.5 L285.4,822.6 L285.6,821.1 L285.7,820.1 L285.9,819.1 L286.1,822.6 L286.2,820.9 L286.4,819.9 L286.5,821.5 L286.7,822.9 L286.9,826.8 L287.0,825.8 L287.2,820.1 L287.3,821.1 L287.5,817.6 L287.7,817.6 L287.8,817.9 L288.0,824.1 L288.1,821.7 L288.3,818.7 L288.5,820.5 L288.6,820.9 L288.8,820.5 L288.9,825.3 L289.1,817.6 L289.3,820.9 L289.4,822.5 L289.6,823.1 L289.7,817.0 L289.9,822.4 L290.1,819.1 L290.2,820.6 L290.4,818.3 L290.5,823.7 L290.7,829.0 L290.9,824.2 L291.0,821.2 L291.2,817.8 L291.3,823.8 L291.5,824.6 L291.7,819.3 L291.8,824.0 L292.0,817.7 L292.1,818.9 L292.3,822.1 L292.5,818.6 L292.6,823.5 L292.8,825.0 L292.9,821.9 L293.1,822.9 L293.3,825.4 L293.4,822.9 L293.6,824.7 L293.7,825.0 L293.9,819.3 L294.1,826.7 L294.2,824.4 L294.4,822.0 L294.5,823.5 L294.7,822.4 L294.9,822.2 L295.0,819.3 L295.2,820.7 L295.3,820.8 L295.5,824.1 L295.7,822.7 L295.8,822.5 L296.0,821.3 L296.1,824.4 L296.3,815.9 L296.5,819.4 L296.6,823.6 L296.8,820.5 L296.9,822.9 L297.1,825.0 L297.3,824.7 L297.4,818.0 L297.6,820.8 L297.7,818.7 L297.9,822.4 L298.1,823.7 L298.2,820.3 L298.4,822.4 L298.5,820.8 L298.7,825.6 L298.9,821.5 L299.0,821.7 L299.2,822.4 L299.3,823.5 L299.5,822.7 L299.7,821.0 L299.8,821.1 L300.0,822.2 L300.1,822.3 L300.3,820.1 L300.5,819.6 L300.6,820.3 L300.8,821.9 L300.9,819.8 L301.1,818.3 L301.3,820.0 L301.4,819.6 L301.6,822.1 L301.7,819.5 L301.9,819.7 L302.1,824.9 L302.2,821.6 L302.4,818.4 L302.5,823.2 L302.7,819.6 L302.9,818.5 L303.0,821.8 L303.2,817.1 L303.3,820.1 L303.5,821.5 L303.7,821.9 L303.8,818.9 L304.0,818.9 L304.1,819.8 L304.3,822.7 L304.5,815.8 L304.6,821.7 L304.8,820.5 L304.9,825.3 L305.1,817.1 L305.3,822.2 L305.4,817.6 L305.6,820.1 L305.7,818.5 L305.9,813.7 L306.1,819.1 L306.2,820.1 L306.4,821.1 L306.5,817.6 L306.7,816.3 L306.9,820.4 L307.0,817.9 L307.2,821.0 L307.3,821.8 L307.5,817.9 L307.7,818.0 L307.8,816.6 L308.0,813.5 L308.1,818.0 L308.3,819.5 L308.5,820.2 L308.6,817.6 L308.8,821.7 L308.9,816.1 L309.1,817.1 L309.3,815.8 L309.4,815.9 L309.6,816.1 L309.7,814.9 L309.9,815.4 L310.1,816.8 L310.2,816.2 L310.4,813.3 L310.5,816.6 L310.7,813.4 L310.9,816.0 L311.0,814.9 L311.2,810.1 L311.3,811.8 L311.5,816.0 L311.7,812.0 L311.8,811.7 L312.0,811.8 L312.1,812.7 L312.3,814.4 L312.5,810.9 L312.6,815.0 L312.8,809.3 L312.9,809.0 L313.1,809.1 L313.3,809.3 L313.4,811.6 L313.6,812.9 L313.7,806.0 L313.9,805.5 L314.1,806.5 L314.2,803.7 L314.4,804.9 L314.5,799.3 L314.7,802.3 L314.9,793.8 L315.0,798.3 L315.2,796.7 L315.3,798.6 L315.5,788.4 L315.7,789.2 L315.8,785.8 L316.0,778.5 L316.1,777.0 L316.3,769.6 L316.5,763.4 L316.6,756.5 L316.8,752.5 L316.9,742.8 L317.1,731.9 L317.3,727.8 L317.4,713.1 L317.6,706.8 L317.7,693.7 L317.9,678.9 L318.1,664.1 L318.2,651.2 L318.4,636.3 L318.5,623.2 L318.7,609.3 L318.9,598.9 L319.0,583.5 L319.2,575.2 L319.3,569.2 L319.5,565.7 L319.7,565.4 L319.8,567.0 L320.0,574.2 L320.1,580.3 L320.3,593.4 L320.5,607.1 L320.6,620.9 L320.8,632.6 L320.9,647.6 L321.1,659.7 L321.3,675.6 L321.4,687.4 L321.6,702.9 L321.7,712.3 L321.9,725.8 L322.1,734.0 L322.2,742.3 L322.4,755.1 L322.5,760.8 L322.7,761.4 L322.9,773.3 L323.0,776.8 L323.2,782.5 L323.3,784.3 L323.5,782.4 L323.7,788.7 L323.8,786.5 L324.0,791.1 L324.1,794.8 L324.3,801.1 L324.5,799.8 L324.6,801.6 L324.8,804.1 L324.9,801.4 L325.1,807.1 L325.3,806.0 L325.4,804.0 L325.6,805.7 L325.7,807.2 L325.9,809.9 L326.1,812.4 L326.2,808.9 L326.4,809.6 L326.5,814.9 L326.7,818.6 L326.9,815.8 L327.0,812.4 L327.2,811.5 L327.3,814.3 L327.5,813.8 L327.7,811.6 L327.8,816.9 L328.0,820.0 L328.1,812.3 L328.3,812.7 L328.5,813.6 L328.6,812.1 L328.8,817.2 L328.9,812.1 L329.1,817.2 L329.3,816.8 L329.4,817.8 L329.6,812.8 L329.7,816.8 L329.9,817.2 L330.1,818.8 L330.2,817.8 L330.4,815.6 L330.5,819.8 L330.7,820.5 L330.9,820.6 L331.0,815.8 L331.2,818.9 L331.3,815.6 L331.5,817.5 L331.7,819.7 L331.8,814.7 L332.0,824.7 L332.1,821.1 L332.3,816.5 L332.5,817.1 L332.6,818.3 L332.8,818.2 L332.9,815.8 L333.1,818.4 L333.3,815.2 L333.4,817.4 L333.6,823.2 L333.7,818.9 L333.9,817.4 L334.1,822.8 L334.2,819.9 L334.4,820.7 L334.5,817.9 L334.7,821.9 L334.9,818.6 L335.0,821.5 L335.2,821.0 L335.3,823.6 L335.5,822.0 L335.7,819.6 L335.8,817.2 L336.0,819.0 L336.1,818.1 L336.3,823.4 L336.5,818.8 L336.6,814.5 L336.8,820.8 L336.9,821.9 L337.1,817.8 L337.3,821.7 L337.4,816.9 L337.6,820.7 L337.7,819.8 L337.9,820.9 L338.1,821.2 L338.2,818.6 L338.4,822.2 L338.5,819.1 L338.7,820.6 L338.9,823.7 L339.0,818.2 L339.2,820.6 L339.3,824.2 L339.5,823.4 L339.7,818.9 L339.8,819.0 L340.0,821.8 L340.1,819.0 L340.3,820.7 L340.5,817.3 L340.6,822.1 L340.8,816.8 L340.9,821.0 L341.1,822.3 L341.3,819.1 L341.4,817.0 L341.6,817.7 L341.7,816.2 L341.9,825.0 L342.1,816.2 L342.2,817.7 L342.4,821.6 L342.5,821.0 L342.7,823.3 L342.9,824.0 L343.0,822.0 L343.2,820.8 L343.3,819.6 L343.5,820.5 L343.7,823.2 L343.8,822.4 L344.0,822.5 L344.1,817.0 L344.3,819.2 L344.5,819.4 L344.6,819.8 L344.8,818.5 L344.9,822.7 L345.1,823.6 L345.3,825.5 L345.4,819.9 L345.6,820.9 L345.7,821.4 L345.9,821.2 L346.1,819.2 L346.2,823.1 L346.4,816.4 L346.5,820.1 L346.7,816.7 L346.9,822.8 L347.0,817.9 L347.2,818.5 L347.3,821.3 L347.5,818.8 L347.7,821.9 L347.8,820.4 L348.0,826.0 L348.1,818.4 L348.3,819.4 L348.5,822.7 L348.6,821.7 L348.8,822.5 L348.9,820.7 L349.1,823.7 L349.3,822.3 L349.4,824.6 L349.6,818.2 L349.7,822.1 L349.9,820.9 L350.1,822.4 L350.2,819.2 L350.4,823.4 L350.5,818.3 L350.7,823.6 L350.9,822.8 L351.0,817.2 L351.2,822.5 L351.3,816.9 L351.5,822.9 L351.7,817.7 L351.8,821.4 L352.0,820.9 L352.1,817.7 L352.3,817.2 L352.5,822.8 L352.6,820.5 L352.8,824.2 L352.9,821.5 L353.1,828.3 L353.3,822.1 L353.4,825.9 L353.6,822.5 L353.7,821.9 L353.9,823.0 L354.1,819.9 L354.2,820.2 L354.4,825.7 L354.5,821.3 L354.7,819.0 L354.9,823.0 L355.0,819.8 L355.2,822.0 L355.3,824.5 L355.5,824.9 L355.7,826.2 L355.8,824.6 L356.0,823.4 L356.1,823.2 L356.3,822.6 L356.5,821.8 L356.6,827.3 L356.8,821.7 L356.9,825.9 L357.1,821.6 L357.3,824.8 L357.4,815.1 L357.6,822.3 L357.7,820.4 L357.9,825.7 L358.1,825.6 L358.2,820.5 L358.4,821.8 L358.5,824.2 L358.7,822.7 L358.9,822.3 L359.0,824.4 L359.2,818.9 L359.3,825.9 L359.5,823.2 L359.7,815.1 L359.8,819.9 L360.0,821.9 L360.1,832.1 L360.3,822.1 L360.5,818.5 L360.6,825.4 L360.8,823.1 L360.9,822.2 L361.1,824.7 L361.3,821.3 L361.4,821.9 L361.6,824.6 L361.7,823.3 L361.9,824.6 L362.1,821.4 L362.2,826.3 L362.4,818.8 L362.5,819.0 L362.7,823.5 L362.9,821.5 L363.0,822.8 L363.2,822.4 L363.3,821.9 L363.5,819.7 L363.7,823.0 L363.8,825.5 L364.0,820.3 L364.1,826.9 L364.3,826.1 L364.5,820.3 L364.6,824.3 L364.8,819.7 L364.9,822.1 L365.1,819.7 L365.3,821.1 L365.4,817.9 L365.6,822.0 L365.7,819.8 L365.9,820.2 L366.1,817.6 L366.2,822.5 L366.4,826.9 L366.5,821.5 L366.7,822.0 L366.9,819.6 L367.0,821.2 L367.2,820.3 L367.3,818.6 L367.5,820.2 L367.7,821.1 L367.8,823.1 L368.0,821.6 L368.1,823.0 L368.3,825.5 L368.5,824.6 L368.6,821.3 L368.8,818.1 L368.9,821.9 L369.1,822.5 L369.3,824.7 L369.4,822.7 L369.6,829.0 L369.7,821.6 L369.9,823.9 L370.1,820.1 L370.2,819.9 L370.4,821.6 L370.5,822.8 L370.7,824.0 L370.9,814.7 L371.0,825.0 L371.2,825.9 L371.3,825.5 L371.5,824.3 L371.7,822.0 L371.8,823.6 L372.0,825.4 L372.1,819.9 L372.3,823.9 L372.5,823.5 L372.6,821.9 L372.8,826.6 L372.9,820.6 L373.1,819.9 L373.3,822.1 L373.4,820.7 L373.6,825.4 L373.7,818.2 L373.9,819.1 L374.1,822.9 L374.2,824.0 L374.4,819.3 L374.5,825.3 L374.7,817.6 L374.9,824.6 L375.0,820.0 L375.2,821.0 L375.3,826.5 L375.5,822.0 L375.7,820.6 L375.8,822.7 L376.0,826.6 L376.1,822.3 L376.3,820.2 L376.5,822.6 L376.6,819.1 L376.8,820.4 L376.9,820.7 L377.1,823.6 L377.3,820.9 L377.4,823.2 L377.6,824.8 L377.7,825.8 L377.9,817.9 L378.1,821.8 L378.2,819.2 L378.4,823.5 L378.5,822.5 L378.7,821.9 L378.9,820.6 L379.0,819.6 L379.2,817.8 L379.3,824.2 L379.5,821.4 L379.7,821.9 L379.8,822.6 L380.0,823.7 L380.1,826.3 L380.3,821.4 L380.5,823.4 L380.6,817.9 L380.8,820.8 L380.9,820.1 L381.1,820.2 L381.3,824.5 L381.4,822.0 L381.6,821.9 L381.7,821.9 L381.9,821.1 L382.1,821.1 L382.2,820.1 L382.4,820.3 L382.5,820.6 L382.7,821.2 L382.9,813.6 L383.0,821.7 L383.2,821.5 L383.3,822.5 L383.5,818.8 L383.7,819.3 L383.8,823.4 L384.0,819.7 L384.1,822.6 L384.3,819.8 L384.5,818.5 L384.6,817.9 L384.8,819.9 L384.9,820.2 L385.1,818.4 L385.3,824.6 L385.4,821.3 L385.6,819.1 L385.7,824.7 L385.9,823.1 L386.1,819.3 L386.2,818.7 L386.4,820.6 L386.5,822.8 L386.7,817.7 L386.9,823.7 L387.0,820.0 L387.2,824.6 L387.3,820.5 L387.5,822.0 L387.7,822.3 L387.8,823.8 L388.0,819.0 L388.1,825.2 L388.3,817.6 L388.5,821.4 L388.6,822.2 L388.8,820.6 L388.9,822.6 L389.1,816.6 L389.3,820.3 L389.4,822.7 L389.6,820.3 L389.7,815.6 L389.9,820.6 L390.1,820.6 L390.2,817.7 L390.4,823.1 L390.5,818.7 L390.7,817.4 L390.9,820.4 L391.0,818.2 L391.2,819.2 L391.3,820.1 L391.5,818.5 L391.7,820.8 L391.8,820.0 L392.0,822.1 L392.1,816.8 L392.3,819.2 L392.5,819.6 L392.6,819.5 L392.8,813.8 L392.9,816.1 L393.1,819.3 L393.3,819.7 L393.4,818.3 L393.6,818.5 L393.7,820.9 L393.9,817.0 L394.1,815.9 L394.2,821.0 L394.4,818.8 L394.5,816.8 L394.7,815.3 L394.9,820.6 L395.0,815.9 L395.2,814.4 L395.3,819.1 L395.5,812.4 L395.7,815.2 L395.8,816.8 L396.0,814.4 L396.1,813.5 L396.3,815.4 L396.5,811.2 L396.6,813.2 L396.8,815.0 L396.9,810.3 L397.1,815.7 L397.3,811.5 L397.4,811.3 L397.6,809.0 L397.7,811.7 L397.9,808.5 L398.1,809.5 L398.2,813.7 L398.4,810.3 L398.5,802.8 L398.7,808.5 L398.9,803.0 L399.0,803.6 L399.2,801.7 L399.3,800.4 L399.5,796.4 L399.7,797.1 L399.8,795.6 L400.0,789.1 L400.1,787.2 L400.3,785.5 L400.5,782.0 L400.6,775.6 L400.8,770.1 L400.9,765.8 L401.1,756.2 L401.3,750.4 L401.4,741.0 L401.6,731.6 L401.7,718.5 L401.9,709.6 L402.1,702.8 L402.2,692.0 L402.4,679.7 L402.5,667.3 L402.7,655.2 L402.9,644.9 L403.0,633.7 L403.2,625.1 L403.3,619.2 L403.5,612.6 L403.7,611.0 L403.8,611.9 L404.0,614.2 L404.1,620.5 L404.3,630.2 L404.5,639.5 L404.6,649.6 L404.8,662.9 L404.9,671.7 L405.1,687.8 L405.3,696.3 L405.4,706.5 L405.6,720.2 L405.7,729.0 L405.9,737.6 L406.1,745.3 L406.2,749.0 L406.4,755.3 L406.5,766.4 L406.7,774.3 L406.9,775.1 L407.0,781.6 L407.2,781.6 L407.3,785.1 L407.5,791.5 L407.7,795.9 L407.8,798.3 L408.0,801.4 L408.1,798.4 L408.3,801.5 L408.5,805.1 L408.6,800.2 L408.8,804.8 L408.9,806.5 L409.1,807.4 L409.3,810.3 L409.4,809.9 L409.6,808.6 L409.7,804.7 L409.9,812.7 L410.1,813.7 L410.2,813.0 L410.4,813.1 L410.5,813.7 L410.7,815.9 L410.9,812.2 L411.0,813.6 L411.2,811.7 L411.3,813.9 L411.5,812.7 L411.7,813.0 L411.8,810.5 L412.0,815.2 L412.1,818.1 L412.3,808.8 L412.5,819.1 L412.6,816.2 L412.8,814.9 L412.9,817.4 L413.1,816.2 L413.3,816.8 L413.4,820.5 L413.6,817.6 L413.7,818.2 L413.9,816.9 L414.1,817.2 L414.2,815.6 L414.4,817.6 L414.5,814.7 L414.7,820.7 L414.9,817.6 L415.0,820.0 L415.2,821.4 L415.3,820.8 L415.5,816.9 L415.7,822.5 L415.8,814.1 L416.0,822.1 L416.1,812.8 L416.3,816.7 L416.5,818.7 L416.6,815.9 L416.8,814.0 L416.9,815.5 L417.1,819.7 L417.3,815.1 L417.4,820.6 L417.6,821.9 L417.7,822.4 L417.9,819.9 L418.1,819.2 L418.2,818.4 L418.4,831.0 L418.5,822.2 L418.7,820.9 L418.9,820.2 L419.0,822.0 L419.2,811.3 L419.3,821.5 L419.5,818.1 L419.7,814.0 L419.8,822.1 L420.0,817.7 L420.1,820.5 L420.3,817.8 L420.5,818.6 L420.6,823.3 L420.8,820.9 L420.9,820.4 L421.1,815.8 L421.3,821.6 L421.4,817.9 L421.6,820.5 L421.7,817.0 L421.9,820.2 L422.1,820.6 L422.2,815.9 L422.4,820.0 L422.5,817.1 L422.7,822.1 L422.9,820.0 L423.0,819.2 L423.2,826.2 L423.3,820.9 L423.5,818.0 L423.7,820.9 L423.8,819.4 L424.0,821.8 L424.1,816.1 L424.3,823.0 L424.5,817.0 L424.6,817.2 L424.8,816.2 L424.9,817.0 L425.1,822.1 L425.3,817.8 L425.4,814.6 L425.6,816.5 L425.7,817.1 L425.9,818.4 L426.1,815.0 L426.2,815.8 L426.4,821.8 L426.5,813.9 L426.7,813.8 L426.9,809.8 L427.0,814.0 L427.2,809.6 L427.3,813.9 L427.5,811.0 L427.7,808.4 L427.8,803.6 L428.0,802.1 L428.1,799.9 L428.3,798.4 L428.5,794.6 L428.6,792.1 L428.8,790.2 L428.9,787.1 L429.1,783.9 L429.3,782.5 L429.4,780.1 L429.6,777.1 L429.7,777.6 L429.9,776.1 L430.1,777.1 L430.2,778.8 L430.4,778.2 L430.5,782.2 L430.7,785.4 L430.9,788.8 L431.0,791.3 L431.2,794.7 L431.3,793.2 L431.5,796.6 L431.7,802.9 L431.8,798.5 L432.0,802.7 L432.1,806.3 L432.3,809.2 L432.5,811.8 L432.6,811.5 L432.8,810.0 L432.9,810.7 L433.1,814.7 L433.3,815.8 L433.4,816.0 L433.6,816.0 L433.7,816.4 L433.9,813.2 L434.1,816.8 L434.2,819.0 L434.4,814.8 L434.5,818.8 L434.7,819.6 L434.9,823.7 L435.0,818.1 L435.2,818.0 L435.3,815.9 L435.5,814.2 L435.7,815.2 L435.8,814.9 L436.0,820.9 L436.1,819.3 L436.3,820.2 L436.5,815.8 L436.6,814.8 L436.8,815.5 L436.9,823.7 L437.1,822.6 L437.3,816.8 L437.4,820.3 L437.6,820.5 L437.7,817.8 L437.9,818.7 L438.1,822.5 L438.2,822.0 L438.4,822.5 L438.5,821.2 L438.7,820.7 L438.9,821.7 L439.0,820.1 L439.2,824.6 L439.3,821.1 L439.5,821.9 L439.7,820.5 L439.8,819.1 L440.0,820.6 L440.1,820.0 L440.3,818.9 L440.5,822.7 L440.6,825.6 L440.8,822.1 L440.9,820.6 L441.1,819.2 L441.3,817.4 L441.4,822.4 L441.6,822.3 L441.7,819.1 L441.9,821.2 L442.1,819.0 L442.2,824.4 L442.4,821.3 L442.5,822.1 L442.7,825.1 L442.9,815.8 L443.0,822.1 L443.2,821.8 L443.3,820.4 L443.5,821.2 L443.7,824.1 L443.8,819.6 L444.0,819.7 L444.1,825.3 L444.3,823.6 L444.5,822.4 L444.6,823.2 L444.8,821.5 L444.9,820.6 L445.1,820.9 L445.3,822.0 L445.4,820.2 L445.6,817.5 L445.7,820.9 L445.9,822.0 L446.1,821.0 L446.2,822.9 L446.4,822.0 L446.5,823.6 L446.7,821.7 L446.9,821.0 L447.0,822.7 L447.2,823.5 L447.3,820.3 L447.5,819.4 L447.7,824.6 L447.8,820.2 L448.0,822.3 L448.1,820.3 L448.3,821.9 L448.5,824.7 L448.6,825.4 L448.8,818.3 L448.9,818.0 L449.1,813.5 L449.3,822.8 L449.4,825.1 L449.6,822.1 L449.7,820.8 L449.9,823.4 L450.1,819.2 L450.2,823.0 L450.4,824.6 L450.5,824.4 L450.7,823.1 L450.9,820.3 L451.0,820.7 L451.2,819.3 L451.3,829.5 L451.5,824.4 L451.7,821.3 L451.8,821.3 L452.0,822.0 L452.1,819.9 L452.3,822.7 L452.5,822.6 L452.6,822.5 L452.8,821.6 L452.9,815.6 L453.1,821.0 L453.3,818.2 L453.4,817.5 L453.6,826.8 L453.7,820.3 L453.9,821.0 L454.1,820.8 L454.2,819.5 L454.4,825.3 L454.5,817.1 L454.7,822.6 L454.9,820.1 L455.0,824.4 L455.2,823.4 L455.3,821.6 L455.5,817.9 L455.7,823.3 L455.8,823.8 L456.0,823.0 L456.1,820.8 L456.3,822.9 L456.5,819.6 L456.6,822.0 L456.8,822.3 L456.9,820.9 L457.1,819.1 L457.3,820.9 L457.4,819.4 L457.6,818.6 L457.7,823.9 L457.9,821.1 L458.1,820.2 L458.2,820.2 L458.4,822.5 L458.5,820.7 L458.7,818.5 L458.9,822.1 L459.0,822.1 L459.2,819.3 L459.3,818.9 L459.5,824.5 L459.7,820.8 L459.8,824.3 L460.0,822.8 L460.1,821.3 L460.3,820.9 L460.5,825.3 L460.6,819.9 L460.8,820.5 L460.9,819.5 L461.1,821.1 L461.3,819.2 L461.4,821.7 L461.6,818.4 L461.7,822.6 L461.9,822.9 L462.1,821.9 L462.2,820.0 L462.4,824.4 L462.5,826.2 L462.7,821.1 L462.9,819.6 L463.0,822.9 L463.2,820.9 L463.3,821.7 L463.5,822.9 L463.7,818.2 L463.8,823.1 L464.0,818.9 L464.1,818.4 L464.3,820.5 L464.5,824.8 L464.6,819.9 L464.8,822.5 L464.9,819.2 L465.1,822.9 L465.3,822.1 L465.4,824.1 L465.6,821.8 L465.7,821.4 L465.9,817.0 L466.1,822.1 L466.2,824.8 L466.4,821.8 L466.5,822.2 L466.7,822.7 L466.9,823.4 L467.0,819.3 L467.2,821.2 L467.3,822.4 L467.5,822.0 L467.7,819.1 L467.8,816.7 L468.0,822.1 L468.1,823.1 L468.3,825.3 L468.5,823.2 L468.6,819.3 L468.8,822.4 L468.9,821.1 L469.1,819.7 L469.3,818.0 L469.4,817.0 L469.6,819.7 L469.7,820.4 L469.9,821.5 L470.1,821.4 L470.2,821.9 L470.4,825.9 L470.5,821.2 L470.7,824.6 L470.9,818.1 L471.0,819.6 L471.2,820.1 L471.3,817.1 L471.5,825.2 L471.7,821.9 L471.8,823.0 L472.0,825.4 L472.1,822.4 L472.3,825.2 L472.5,815.7 L472.6,824.3 L472.8,822.0 L472.9,820.0 L473.1,823.9 L473.3,821.4 L473.4,819.6 L473.6,816.7 L473.7,825.5 L473.9,815.1 L474.1,821.5 L474.2,825.1 L474.4,822.8 L474.5,819.8 L474.7,820.7 L474.9,819.8 L475.0,821.9 L475.2,821.1 L475.3,818.2 L475.5,817.8 L475.7,824.0 L475.8,818.2 L476.0,818.6 L476.1,826.8 L476.3,819.3 L476.5,818.1 L476.6,818.9 L476.8,823.1 L476.9,819.5 L477.1,820.9 L477.3,815.7 L477.4,819.8 L477.6,821.3 L477.7,821.3 L477.9,824.7 L478.1,822.4 L478.2,814.3 L478.4,817.3 L478.5,819.1 L478.7,820.5 L478.9,821.3 L479.0,822.7 L479.2,817.1 L479.3,815.8 L479.5,823.1 L479.7,818.8 L479.8,815.5 L480.0,818.9 L480.1,820.1 L480.3,818.2 L480.5,818.3 L480.6,823.6 L480.8,818.5 L480.9,821.9 L481.1,821.6 L481.3,820.3 L481.4,826.8 L481.6,817.9 L481.7,827.3 L481.9,818.8 L482.1,820.5 L482.2,821.8 L482.4,823.8 L482.5,822.8 L482.7,820.3 L482.9,820.3 L483.0,823.9 L483.2,824.8 L483.3,819.8 L483.5,824.0 L483.7,822.5 L483.8,821.7 L484.0,818.5 L484.1,818.1 L484.3,822.1 L484.5,814.4 L484.6,818.9 L484.8,822.1 L484.9,817.1 L485.1,825.0 L485.3,825.1 L485.4,818.6 L485.6,820.8 L485.7,820.8 L485.9,819.8 L486.1,819.9 L486.2,822.3 L486.4,825.1 L486.5,821.3 L486.7,821.4 L486.9,821.4 L487.0,819.4 L487.2,822.6 L487.3,819.9 L487.5,818.7 L487.7,822.7 L487.8,816.6 L488.0,819.9 L488.1,820.1 L488.3,820.8 L488.5,817.4 L488.6,818.8 L488.8,820.7 L488.9,822.5 L489.1,820.8 L489.3,820.6 L489.4,819.1 L489.6,821.1 L489.7,814.4 L489.9,822.6 L490.1,823.4 L490.2,821.0 L490.4,818.7 L490.5,824.3 L490.7,819.4 L490.9,824.3 L491.0,820.4 L491.2,819.2 L491.3,820.5 L491.5,819.4 L491.7,820.7 L491.8,822.2 L492.0,820.4 L492.1,819.1 L492.3,821.0 L492.5,822.0 L492.6,821.1 L492.8,822.3 L492.9,822.4 L493.1,821.7 L493.3,822.7 L493.4,821.1 L493.6,823.8 L493.7,822.0 L493.9,823.0 L494.1,820.6 L494.2,817.7 L494.4,820.0 L494.5,821.1 L494.7,821.9 L494.9,820.9 L495.0,824.5 L495.2,817.9 L495.3,816.8 L495.5,820.6 L495.7,819.4 L495.8,821.1 L496.0,822.6 L496.1,827.4 L496.3,817.9 L496.5,818.5 L496.6,820.9 L496.8,817.5 L496.9,817.8 L497.1,824.0 L497.3,820.8 L497.4,820.9 L497.6,823.6 L497.7,816.9 L497.9,821.3 L498.1,820.9 L498.2,821.6 L498.4,818.6 L498.5,819.9 L498.7,820.7 L498.9,822.7 L499.0,819.2 L499.2,822.4 L499.3,815.9 L499.5,821.9 L499.7,822.8 L499.8,818.8 L500.0,820.2 L500.1,820.9 L500.3,821.6 L500.5,823.7 L500.6,821.4 L500.8,820.4 L500.9,820.5 L501.1,821.5 L501.3,822.7 L501.4,821.5 L501.6,818.6 L501.7,820.1 L501.9,819.0 L502.1,818.9 L502.2,819.7 L502.4,819.5 L502.5,822.7 L502.7,818.1 L502.9,821.0 L503.0,818.1 L503.2,822.7 L503.3,821.6 L503.5,823.8 L503.7,822.1 L503.8,818.5 L504.0,820.9 L504.1,819.4 L504.3,819.6 L504.5,818.4 L504.6,820.1 L504.8,821.0 L504.9,821.3 L505.1,826.6 L505.3,820.4 L505.4,821.0 L505.6,820.6 L505.7,820.2 L505.9,820.1 L506.1,820.9 L506.2,820.3 L506.4,822.5 L506.5,821.8 L506.7,818.7 L506.9,820.8 L507.0,821.5 L507.2,820.1 L507.3,820.2 L507.5,820.5 L507.7,822.2 L507.8,821.1 L508.0,819.5 L508.1,820.6 L508.3,823.6 L508.5,818.5 L508.6,822.2 L508.8,820.1 L508.9,829.3 L509.1,822.1 L509.3,820.8 L509.4,820.4 L509.6,817.2 L509.7,819.5 L509.9,825.3 L510.1,821.5 L510.2,820.0 L510.4,820.6 L510.5,820.7 L510.7,818.4 L510.9,820.9 L511.0,821.8 L511.2,817.2 L511.3,820.0 L511.5,814.3 L511.7,816.7 L511.8,822.5 L512.0,823.4 L512.1,828.2 L512.3,817.6 L512.5,820.3 L512.6,819.8 L512.8,823.0 L512.9,821.2 L513.1,820.7 L513.3,821.9 L513.4,819.4 L513.6,822.7 L513.7,819.7 L513.9,823.0 L514.1,820.8 L514.2,820.9 L514.4,817.8 L514.5,816.9 L514.7,816.8 L514.9,821.5 L515.0,815.4 L515.2,823.5 L515.3,819.6 L515.5,817.2 L515.7,821.1 L515.8,817.4 L516.0,820.3 L516.1,819.6 L516.3,822.9 L516.5,822.2 L516.6,822.3 L516.8,819.1 L516.9,823.0 L517.1,819.9 L517.3,820.3 L517.4,821.1 L517.6,820.6 L517.7,816.9 L517.9,821.4 L518.1,813.4 L518.2,821.0 L518.4,819.7 L518.5,820.0 L518.7,817.3 L518.9,822.0 L519.0,819.4 L519.2,821.6 L519.3,818.0 L519.5,818.0 L519.7,819.7 L519.8,821.9 L520.0,816.4 L520.1,818.1 L520.3,818.2 L520.5,818.7 L520.6,818.2 L520.8,821.6 L520.9,820.7 L521.1,819.1 L521.3,820.9 L521.4,821.2 L521.6,817.4 L521.7,817.0 L521.9,820.2 L522.1,823.3 L522.2,813.0 L522.4,816.8 L522.5,819.9 L522.7,816.1 L522.9,819.8 L523.0,818.2 L523.2,814.7 L523.3,816.3 L523.5,818.0 L523.7,814.9 L523.8,818.0 L524.0,817.1 L524.1,815.4 L524.3,816.7 L524.5,814.7 L524.6,815.6 L524.8,812.4 L524.9,817.4 L525.1,813.0 L525.3,815.7 L525.4,817.3 L525.6,815.2 L525.7,810.7 L525.9,810.1 L526.1,808.6 L526.2,808.2 L526.4,804.2 L526.5,800.6 L526.7,803.6 L526.9,801.1 L527.0,801.9 L527.2,799.9 L527.3,792.1 L527.5,790.4 L527.7,790.2 L527.8,787.9 L528.0,784.0 L528.1,781.5 L528.3,777.9 L528.5,779.1 L528.6,776.0 L528.8,776.3 L528.9,776.5 L529.1,776.7 L529.3,779.4 L529.4,782.1 L529.6,783.2 L529.7,786.0 L529.9,789.3 L530.1,792.6 L530.2,795.1 L530.4,794.6 L530.5,796.6 L530.7,799.4 L530.9,796.7 L531.0,801.2 L531.2,805.2 L531.3,805.5 L531.5,806.4 L531.7,811.5 L531.8,811.2 L532.0,813.2 L532.1,811.7 L532.3,811.8 L532.5,811.4 L532.6,814.5 L532.8,810.3 L532.9,812.9 L533.1,816.6 L533.3,817.6 L533.4,815.8 L533.6,813.6 L533.7,817.8 L533.9,815.1 L534.1,816.7 L534.2,814.9 L534.4,824.9 L534.5,820.9 L534.7,815.7 L534.9,815.1 L535.0,817.8 L535.2,819.5 L535.3,821.1 L535.5,818.2 L535.7,815.6 L535.8,819.2 L536.0,819.2 L536.1,815.0 L536.3,818.2 L536.5,818.1 L536.6,816.6 L536.8,819.5 L536.9,821.4 L537.1,821.4 L537.3,817.1 L537.4,817.8 L537.6,822.1 L537.7,818.5 L537.9,818.5 L538.1,824.4 L538.2,813.5 L538.4,818.0 L538.5,817.6 L538.7,819.4 L538.9,823.5 L539.0,819.3 L539.2,819.0 L539.3,820.0 L539.5,819.0 L539.7,820.6 L539.8,825.5 L540.0,818.2 L540.1,819.3 L540.3,819.6 L540.5,815.0 L540.6,821.2 L540.8,819.7 L540.9,811.8 L541.1,819.3 L541.3,820.3 L541.4,817.9 L541.6,822.4 L541.7,818.6 L541.9,816.5 L542.1,821.8 L542.2,819.7 L542.4,820.3 L542.5,816.3 L542.7,816.9 L542.9,817.7 L543.0,819.7 L543.2,819.7 L543.3,823.2 L543.5,823.6 L543.7,820.4 L543.8,819.7 L544.0,824.4 L544.1,820.2 L544.3,822.4 L544.5,819.0 L544.6,819.9 L544.8,819.5 L544.9,818.5 L545.1,821.0 L545.3,818.3 L545.4,819.9 L545.6,821.1 L545.7,825.0 L545.9,815.8 L546.1,820.3 L546.2,821.7 L546.4,819.4 L546.5,822.2 L546.7,821.4 L546.9,821.3 L547.0,819.2 L547.2,819.7 L547.3,819.7 L547.5,817.9 L547.7,820.6 L547.8,817.8 L548.0,818.1 L548.1,817.0 L548.3,822.7 L548.5,818.9 L548.6,818.2 L548.8,822.0 L548.9,819.3 L549.1,821.0 L549.3,819.8 L549.4,821.1 L549.6,820.7 L549.7,815.3 L549.9,823.6 L550.1,822.5 L550.2,816.9 L550.4,822.3 L550.5,819.7 L550.7,820.5 L550.9,823.2 L551.0,822.5 L551.2,822.5 L551.3,824.8 L551.5,822.7 L551.7,818.9 L551.8,815.0 L552.0,822.2 L552.1,816.3 L552.3,819.4 L552.5,819.4 L552.6,818.6 L552.8,823.3 L552.9,821.0 L553.1,819.7 L553.3,822.3 L553.4,819.3 L553.6,823.0 L553.7,824.9 L553.9,819.9 L554.1,819.9 L554.2,822.9 L554.4,815.8 L554.5,817.4 L554.7,817.9 L554.9,816.5 L555.0,820.2 L555.2,820.9 L555.3,820.2 L555.5,820.2 L555.7,822.3 L555.8,822.7 L556.0,823.1 L556.1,819.9 L556.3,820.3 L556.5,823.6 L556.6,821.2 L556.8,823.2 L556.9,819.1 L557.1,820.1 L557.3,818.8 L557.4,820.2 L557.6,821.2 L557.7,819.2 L557.9,824.7 L558.1,816.8 L558.2,822.2 L558.4,817.7 L558.5,820.9 L558.7,818.4 L558.9,820.4 L559.0,820.4 L559.2,818.4 L559.3,817.4 L559.5,818.6 L559.7,820.2 L559.8,822.0 L560.0,823.8 L560.1,816.2 L560.3,821.2 L560.5,819.1 L560.6,820.2 L560.8,820.9 L560.9,822.0 L561.1,821.1 L561.3,820.1 L561.4,823.7 L561.6,820.8 L561.7,820.1 L561.9,822.7 L562.1,817.5 L562.2,818.0 L562.4,823.4 L562.5,819.7 L562.7,816.1 L562.9,821.9 L563.0,822.9 L563.2,818.3 L563.3,817.1 L563.5,820.0 L563.7,820.9 L563.8,818.7 L564.0,818.0 L564.1,821.3 L564.3,821.3 L564.5,816.5 L564.6,817.5 L564.8,819.3 L564.9,818.6 L565.1,820.5 L565.3,821.2 L565.4,824.3 L565.6,820.9 L565.7,822.1 L565.9,816.5 L566.1,818.4 L566.2,822.4 L566.4,816.7 L566.5,823.0 L566.7,822.2 L566.9,820.3 L567.0,819.7 L567.2,817.3 L567.3,817.5 L567.5,818.8 L567.7,819.0 L567.8,822.8 L568.0,817.6 L568.1,818.5 L568.3,812.8 L568.5,820.3 L568.6,819.9 L568.8,822.4 L568.9,824.3 L569.1,821.1 L569.3,818.0 L569.4,820.4 L569.6,820.5 L569.7,819.8 L569.9,817.4 L570.1,820.7 L570.2,817.1 L570.4,819.7 L570.5,819.2 L570.7,814.0 L570.9,821.2 L571.0,824.7 L571.2,819.0 L571.3,818.4 L571.5,821.9 L571.7,816.8 L571.8,819.8 L572.0,820.3 L572.1,818.5 L572.3,819.6 L572.5,817.8 L572.6,818.4 L572.8,821.3 L572.9,817.8 L573.1,818.4 L573.3,818.1 L573.4,820.9 L573.6,818.9 L573.7,817.8 L573.9,820.4 L574.1,815.1 L574.2,815.4 L574.4,820.3 L574.5,823.9 L574.7,818.5 L574.9,820.4 L575.0,816.5 L575.2,819.9 L575.3,820.0 L575.5,820.9 L575.7,817.9 L575.8,824.0 L576.0,817.4 L576.1,823.0 L576.3,817.1 L576.5,822.7 L576.6,822.6 L576.8,824.4 L576.9,819.2 L577.1,815.7 L577.3,821.4 L577.4,817.8 L577.6,817.0 L577.7,818.1 L577.9,817.4 L578.1,821.1 L578.2,819.8 L578.4,820.9 L578.5,821.3 L578.7,818.5 L578.9,820.9 L579.0,822.1 L579.2,823.5 L579.3,819.7 L579.5,818.7 L579.7,817.1 L579.8,818.3 L580.0,819.2 L580.1,819.8 L580.3,816.1 L580.5,818.2 L580.6,818.7 L580.8,817.8 L580.9,817.7 L581.1,819.9 L581.3,816.8 L581.4,820.1 L581.6,816.6 L581.7,819.5 L581.9,816.4 L582.1,821.6 L582.2,820.6 L582.4,821.9 L582.5,816.9 L582.7,815.8 L582.9,815.8 L583.0,818.2 L583.2,821.1 L583.3,820.3 L583.5,820.2 L583.7,815.8 L583.8,821.0 L584.0,820.2 L584.1,817.3 L584.3,812.7 L584.5,815.2 L584.6,818.1 L584.8,821.9 L584.9,818.8 L585.1,818.1 L585.3,821.8 L585.4,821.7 L585.6,819.0 L585.7,819.5 L585.9,820.9 L586.1,816.3 L586.2,818.8 L586.4,816.9 L586.5,815.6 L586.7,818.8 L586.9,820.1 L587.0,821.8 L587.2,819.2 L587.3,820.0 L587.5,816.9 L587.7,813.8 L587.8,815.7 L588.0,818.0 L588.1,815.6 L588.3,821.2 L588.5,819.5 L588.6,816.2 L588.8,820.5 L588.9,817.9 L589.1,820.1 L589.3,815.8 L589.4,817.8 L589.6,815.4 L589.7,815.8 L589.9,818.2 L590.1,819.8 L590.2,815.5 L590.4,815.7 L590.5,812.8 L590.7,814.1 L590.9,815.5 L591.0,811.3 L591.2,812.1 L591.3,811.1 L591.5,813.8 L591.7,815.1 L591.8,813.5 L592.0,811.7 L592.1,809.6 L592.3,807.9 L592.5,811.2 L592.6,814.1 L592.8,809.5 L592.9,809.4 L593.1,808.0 L593.3,805.8 L593.4,810.1 L593.6,809.8 L593.7,802.7 L593.9,802.3 L594.1,807.2 L594.2,801.0 L594.4,801.7 L594.5,798.1 L594.7,799.7 L594.9,795.6 L595.0,794.2 L595.2,791.0 L595.3,795.6 L595.5,794.8 L595.7,786.6 L595.8,784.5 L596.0,780.9 L596.1,776.0 L596.3,771.8 L596.5,767.0 L596.6,764.2 L596.8,756.0 L596.9,751.4 L597.1,748.0 L597.3,740.1 L597.4,738.0 L597.6,731.4 L597.7,727.6 L597.9,725.2 L598.1,722.4 L598.2,722.0 L598.4,722.2 L598.5,725.4 L598.7,728.9 L598.9,731.9 L599.0,738.3 L599.2,744.0 L599.3,749.0 L599.5,752.7 L599.7,760.4 L599.8,766.2 L600.0,767.7 L600.1,769.3 L600.3,775.3 L600.5,780.4 L600.6,788.8 L600.8,789.3 L600.9,790.8 L601.1,790.1 L601.3,795.5 L601.4,795.7 L601.6,795.1 L601.7,794.9 L601.9,802.8 L602.1,798.0 L602.2,805.8 L602.4,809.2 L602.5,805.0 L602.7,803.9 L602.9,805.1 L603.0,805.8 L603.2,808.9 L603.3,810.9 L603.5,807.4 L603.7,808.9 L603.8,808.7 L604.0,813.2 L604.1,813.3 L604.3,809.4 L604.5,811.0 L604.6,812.4 L604.8,808.2 L604.9,811.4 L605.1,813.2 L605.3,809.9 L605.4,814.3 L605.6,813.7 L605.7,812.5 L605.9,816.4 L606.1,810.3 L606.2,815.3 L606.4,813.9 L606.5,817.1 L606.7,812.9 L606.9,816.2 L607.0,816.4 L607.2,817.7 L607.3,818.9 L607.5,811.7 L607.7,815.2 L607.8,812.9 L608.0,817.7 L608.1,818.7 L608.3,814.9 L608.5,816.2 L608.6,818.7 L608.8,816.2 L608.9,815.5 L609.1,812.0 L609.3,814.2 L609.4,818.2 L609.6,812.5 L609.7,816.6 L609.9,816.4 L610.1,815.9 L610.2,817.8 L610.4,814.2 L610.5,819.1 L610.7,814.9 L610.9,818.2 L611.0,814.5 L611.2,816.9 L611.3,815.0 L611.5,819.6 L611.7,813.3 L611.8,814.2 L612.0,819.0 L612.1,817.4 L612.3,815.4 L612.5,814.8 L612.6,812.3 L612.8,814.6 L612.9,815.9 L613.1,817.8 L613.3,817.1 L613.4,818.1 L613.6,815.5 L613.7,812.9 L613.9,813.5 L614.1,817.7 L614.2,814.3 L614.4,817.1 L614.5,809.9 L614.7,812.2 L614.9,811.3 L615.0,813.5 L615.2,810.8 L615.3,809.2 L615.5,811.6 L615.7,806.3 L615.8,809.8 L616.0,811.7 L616.1,807.6 L616.3,809.6 L616.5,807.1 L616.6,807.7 L616.8,808.4 L616.9,808.2 L617.1,807.3 L617.3,803.6 L617.4,807.9 L617.6,804.0 L617.7,800.5 L617.9,803.7 L618.1,798.1 L618.2,801.9 L618.4,797.4 L618.5,792.9 L618.7,789.1 L618.9,786.7 L619.0,784.1 L619.2,782.0 L619.3,781.5 L619.5,775.9 L619.7,771.7 L619.8,768.5 L620.0,763.5 L620.1,758.6 L620.3,754.9 L620.5,754.1 L620.6,750.1 L620.8,749.4 L620.9,748.6 L621.1,747.8 L621.3,749.3 L621.4,750.7 L621.6,753.7 L621.7,757.3 L621.9,761.0 L622.1,766.8 L622.2,768.9 L622.4,774.3 L622.5,776.9 L622.7,782.3 L622.9,787.0 L623.0,783.4 L623.2,791.8 L623.3,790.4 L623.5,794.6 L623.7,795.4 L623.8,796.9 L624.0,796.5 L624.1,795.0 L624.3,807.7 L624.5,805.9 L624.6,804.4 L624.8,801.6 L624.9,808.5 L625.1,811.5 L625.3,809.5 L625.4,805.1 L625.6,808.6 L625.7,811.0 L625.9,810.7 L626.1,814.0 L626.2,809.5 L626.4,810.7 L626.5,806.7 L626.7,815.7 L626.9,814.8 L627.0,812.6 L627.2,809.6 L627.3,817.9 L627.5,811.0 L627.7,811.6 L627.8,810.2 L628.0,811.6 L628.1,812.9 L628.3,812.8 L628.5,818.2 L628.6,817.4 L628.8,816.0 L628.9,814.6 L629.1,816.0 L629.3,813.1 L629.4,818.1 L629.6,812.4 L629.7,815.4 L629.9,817.5 L630.1,814.7 L630.2,813.5 L630.4,819.4 L630.5,812.9 L630.7,814.0 L630.9,814.4 L631.0,815.5 L631.2,817.0 L631.3,803.5 L631.5,816.3 L631.7,820.9 L631.8,820.4 L632.0,819.8 L632.1,817.5 L632.3,818.3 L632.5,816.4 L632.6,813.8 L632.8,818.7 L632.9,820.5 L633.1,818.7 L633.3,817.9 L633.4,820.1 L633.6,818.8 L633.7,820.8 L633.9,817.1 L634.1,813.8 L634.2,819.4 L634.4,820.4 L634.5,816.4 L634.7,818.9 L634.9,820.1 L635.0,811.8 L635.2,824.3 L635.3,820.3 L635.5,818.0 L635.7,813.4 L635.8,814.7 L636.0,826.6 L636.1,817.7 L636.3,820.2 L636.5,817.0 L636.6,817.8 L636.8,820.2 L636.9,816.3 L637.1,818.5 L637.3,818.2 L637.4,819.8 L637.6,820.8 L637.7,818.3 L637.9,822.1 L638.1,817.6 L638.2,817.8 L638.4,819.0 L638.5,818.2 L638.7,820.7 L638.9,811.9 L639.0,814.5 L639.2,813.5 L639.3,822.3 L639.5,820.9 L639.7,817.2 L639.8,819.8 L640.0,814.6 L640.1,818.2 L640.3,822.5 L640.5,820.5 L640.6,824.1 L640.8,817.7 L640.9,821.8 L641.1,819.2 L641.3,819.8 L641.4,819.6 L641.6,820.9 L641.7,822.2 L641.9,819.2 L642.1,819.9 L642.2,818.8 L642.4,819.7 L642.5,817.1 L642.7,821.5 L642.9,820.8 L643.0,819.9 L643.2,819.1 L643.3,817.5 L643.5,816.8 L643.7,816.4 L643.8,817.2 L644.0,821.4 L644.1,820.2 L644.3,815.6 L644.5,816.8 L644.6,822.4 L644.8,823.2 L644.9,821.2 L645.1,824.3 L645.3,817.5 L645.4,820.3 L645.6,817.6 L645.7,824.6 L645.9,820.3 L646.1,820.3 L646.2,820.2 L646.4,817.6 L646.5,819.1 L646.7,813.7 L646.9,818.2 L647.0,816.8 L647.2,821.2 L647.3,822.6 L647.5,820.0 L647.7,816.8 L647.8,816.6 L648.0,821.1 L648.1,818.7 L648.3,818.7 L648.5,816.7 L648.6,819.9 L648.8,819.8 L648.9,821.3 L649.1,817.1 L649.3,819.3 L649.4,815.9 L649.6,819.9 L649.7,819.4 L649.9,818.5 L650.1,821.6 L650.2,816.3 L650.4,823.2 L650.5,820.4 L650.7,820.8 L650.9,820.1 L651.0,817.7 L651.2,818.0 L651.3,821.7 L651.5,819.4 L651.7,820.2 L651.8,818.6 L652.0,821.5 L652.1,821.0 L652.3,816.3 L652.5,824.2 L652.6,822.0 L652.8,821.5 L652.9,820.2 L653.1,819.3 L653.3,821.5 L653.4,825.7 L653.6,819.2 L653.7,816.8 L653.9,819.4 L654.1,819.6 L654.2,821.8 L654.4,816.5 L654.5,818.4 L654.7,818.7 L654.9,821.8 L655.0,822.1 L655.2,819.9 L655.3,822.0 L655.5,819.7 L655.7,819.7 L655.8,813.9 L656.0,817.2 L656.1,816.7 L656.3,820.5 L656.5,819.6 L656.6,816.8 L656.8,819.7 L656.9,819.1 L657.1,820.3 L657.3,818.0 L657.4,817.6 L657.6,822.3 L657.7,818.7 L657.9,821.8 L658.1,817.2 L658.2,818.8 L658.4,818.0 L658.5,817.0 L658.7,821.1 L658.9,816.1 L659.0,819.9 L659.2,814.2 L659.3,821.0 L659.5,819.4 L659.7,822.1 L659.8,824.2 L660.0,817.7 L660.1,819.4 L660.3,816.2 L660.5,818.2 L660.6,819.5 L660.8,819.4 L660.9,821.2 L661.1,820.5 L661.3,821.7 L661.4,817.7 L661.6,819.7 L661.7,816.8 L661.9,818.9 L662.1,812.7 L662.2,819.0 L662.4,819.4 L662.5,818.2 L662.7,818.3 L662.9,815.2 L663.0,817.7 L663.2,817.8 L663.3,819.8 L663.5,820.4 L663.7,818.2 L663.8,818.9 L664.0,820.1 L664.1,815.4 L664.3,821.7 L664.5,828.1 L664.6,820.2 L664.8,818.1 L664.9,819.8 L665.1,822.1 L665.3,822.3 L665.4,816.0 L665.6,820.0 L665.7,817.5 L665.9,817.4 L666.1,819.9 L666.2,820.5 L666.4,818.6 L666.5,817.2 L666.7,818.8 L666.9,816.8 L667.0,823.4 L667.2,815.5 L667.3,820.7 L667.5,819.5 L667.7,819.2 L667.8,816.7 L668.0,818.0 L668.1,818.4 L668.3,817.9 L668.5,818.6 L668.6,819.5 L668.8,818.1 L668.9,820.2 L669.1,820.9 L669.3,817.9 L669.4,820.9 L669.6,819.3 L669.7,817.8 L669.9,820.3 L670.1,821.8 L670.2,818.4 L670.4,814.8 L670.5,821.0 L670.7,821.5 L670.9,816.5 L671.0,818.6 L671.2,820.2 L671.3,813.5 L671.5,821.0 L671.7,820.8 L671.8,821.0 L672.0,822.7 L672.1,816.6 L672.3,821.4 L672.5,824.5 L672.6,813.7 L672.8,817.5 L672.9,820.7 L673.1,817.3 L673.3,814.7 L673.4,819.8 L673.6,819.4 L673.7,817.3 L673.9,819.6 L674.1,821.2 L674.2,821.4 L674.4,820.0 L674.5,816.0 L674.7,818.3 L674.9,813.5 L675.0,816.4 L675.2,819.4 L675.3,820.3 L675.5,818.8 L675.7,818.9 L675.8,814.3 L676.0,815.9 L676.1,816.2 L676.3,817.5 L676.5,817.5 L676.6,824.2 L676.8,821.3 L676.9,816.4 L677.1,817.3 L677.3,817.6 L677.4,817.5 L677.6,817.6 L677.7,814.0 L677.9,821.7 L678.1,820.5 L678.2,820.4 L678.4,819.1 L678.5,820.0 L678.7,818.0 L678.9,814.1 L679.0,819.1 L679.2,818.9 L679.3,815.6 L679.5,813.4 L679.7,821.5 L679.8,816.3 L680.0,818.3 L680.1,817.1 L680.3,822.8 L680.5,815.2 L680.6,821.3 L680.8,812.7 L680.9,821.0 L681.1,817.5 L681.3,813.3 L681.4,818.9 L681.6,818.5 L681.7,814.8 L681.9,819.5 L682.1,818.6 L682.2,819.8 L682.4,815.3 L682.5,816.8 L682.7,816.3 L682.9,818.9 L683.0,817.4 L683.2,816.2 L683.3,821.9 L683.5,817.3 L683.7,821.2 L683.8,820.6 L684.0,816.8 L684.1,814.1 L684.3,819.0 L684.5,820.2 L684.6,821.4 L684.8,819.5 L684.9,819.6 L685.1,817.0 L685.3,816.8 L685.4,826.3 L685.6,821.2 L685.7,815.3 L685.9,819.2 L686.1,819.6 L686.2,814.1 L686.4,817.7 L686.5,819.8 L686.7,822.4 L686.9,822.3 L687.0,817.5 L687.2,817.6 L687.3,817.3 L687.5,818.9 L687.7,820.4 L687.8,815.8 L688.0,817.9 L688.1,816.9 L688.3,816.4 L688.5,817.0 L688.6,822.7 L688.8,822.5 L688.9,821.8 L689.1,814.2 L689.3,819.0 L689.4,824.0 L689.6,819.2 L689.7,816.4 L689.9,819.6 L690.1,816.9 L690.2,817.1 L690.4,818.7 L690.5,819.2 L690.7,817.6 L690.9,818.0 L691.0,815.5 L691.2,817.9 L691.3,819.7 L691.5,818.2 L691.7,817.5 L691.8,814.4 L692.0,820.6 L692.1,815.0 L692.3,819.5 L692.5,816.9 L692.6,819.7 L692.8,820.3 L692.9,816.9 L693.1,810.3 L693.3,812.7 L693.4,815.3 L693.6,815.4 L693.7,818.3 L693.9,822.3 L694.1,819.1 L694.2,817.1 L694.4,820.7 L694.5,816.9 L694.7,819.4 L694.9,818.2 L695.0,812.6 L695.2,819.6 L695.3,821.4 L695.5,816.3 L695.7,818.9 L695.8,818.3 L696.0,816.3 L696.1,816.0 L696.3,819.3 L696.5,815.3 L696.6,815.5 L696.8,818.8 L696.9,818.9 L697.1,820.4 L697.3,815.1 L697.4,813.2 L697.6,819.0 L697.7,812.6 L697.9,815.2 L698.1,815.6 L698.2,820.2 L698.4,816.0 L698.5,812.9 L698.7,815.7 L698.9,818.9 L699.0,811.2 L699.2,812.3 L699.3,817.8 L699.5,815.5 L699.7,812.6 L699.8,814.5 L700.0,815.0 L700.1,811.9 L700.3,813.1 L700.5,817.9 L700.6,815.0 L700.8,816.7 L700.9,813.7 L701.1,812.3 L701.3,814.2 L701.4,811.0 L701.6,813.9 L701.7,812.0 L701.9,811.8 L702.1,811.5 L702.2,809.6 L702.4,814.9 L702.5,807.6 L702.7,811.5 L702.9,807.5 L703.0,812.3 L703.2,809.2 L703.3,809.7 L703.5,809.9 L703.7,809.1 L703.8,808.2 L704.0,808.0 L704.1,807.3 L704.3,804.7 L704.5,804.3 L704.6,803.7 L704.8,801.7 L704.9,801.1 L705.1,804.6 L705.3,796.8 L705.4,803.2 L705.6,796.5 L705.7,797.8 L705.9,794.8 L706.1,792.6 L706.2,792.5 L706.4,793.2 L706.5,786.6 L706.7,784.4 L706.9,780.6 L707.0,783.2 L707.2,778.1 L707.3,774.4 L707.5,768.6 L707.7,761.4 L707.8,761.1 L708.0,753.4 L708.1,750.7 L708.3,748.1 L708.5,741.9 L708.6,737.6 L708.8,732.8 L708.9,732.3 L709.1,729.2 L709.3,727.2 L709.4,727.4 L709.6,726.8 L709.7,728.9 L709.9,732.2 L710.1,736.1 L710.2,739.3 L710.4,742.2 L710.5,747.5 L710.7,754.1 L710.9,756.2 L711.0,761.8 L711.2,766.3 L711.3,768.4 L711.5,773.1 L711.7,772.8 L711.8,778.3 L712.0,782.5 L712.1,786.5 L712.3,790.5 L712.5,788.5 L712.6,792.7 L712.8,793.1 L712.9,793.2 L713.1,794.8 L713.3,797.9 L713.4,799.4 L713.6,798.7 L713.7,808.2 L713.9,802.5 L714.1,805.1 L714.2,803.7 L714.4,811.9 L714.5,800.5 L714.7,805.7 L714.9,807.6 L715.0,810.6 L715.2,808.2 L715.3,806.4 L715.5,813.0 L715.7,811.3 L715.8,809.0 L716.0,809.9 L716.1,810.3 L716.3,811.6 L716.5,807.4 L716.6,812.2 L716.8,809.4 L716.9,813.6 L717.1,813.4 L717.3,810.4 L717.4,816.3 L717.6,815.1 L717.7,811.4 L717.9,811.2 L718.1,812.2 L718.2,814.9 L718.4,817.2 L718.5,812.2 L718.7,812.7 L718.9,815.9 L719.0,814.7 L719.2,814.8 L719.3,814.8 L719.5,814.4 L719.7,819.5 L719.8,817.7 L720.0,814.7 L720.1,818.6 L720.3,820.2 L720.5,816.9 L720.6,816.6 L720.8,814.8 L720.9,816.3 L721.1,816.6 L721.3,819.3 L721.4,814.0 L721.6,812.4 L721.7,815.2 L721.9,817.3 L722.1,811.7 L722.2,816.1 L722.4,814.7 L722.5,814.0 L722.7,817.0 L722.9,819.5 L723.0,813.6 L723.2,817.4 L723.3,816.5 L723.5,818.5 L723.7,817.0 L723.8,815.5 L724.0,819.2 L724.1,818.1 L724.3,814.7 L724.5,812.4 L724.6,815.5 L724.8,817.7 L724.9,819.1 L725.1,815.9 L725.3,816.4 L725.4,813.0 L725.6,816.3 L725.7,817.7 L725.9,816.0 L726.1,817.2 L726.2,815.1 L726.4,815.3 L726.5,818.2 L726.7,813.8 L726.9,817.6 L727.0,820.4 L727.2,816.2 L727.3,816.4 L727.5,815.6 L727.7,814.6 L727.8,816.3 L728.0,814.6 L728.1,817.2 L728.3,816.4 L728.5,815.0 L728.6,817.8 L728.8,820.1 L728.9,819.6 L729.1,817.1 L729.3,817.7 L729.4,815.3 L729.6,817.2 L729.7,819.4 L729.9,819.6 L730.1,821.0 L730.2,814.2 L730.4,821.6 L730.5,818.8 L730.7,821.6 L730.9,817.9 L731.0,820.8 L731.2,817.8 L731.3,815.4 L731.5,818.7 L731.7,816.7 L731.8,817.8 L732.0,819.2 L732.1,821.1 L732.3,819.5 L732.5,820.3 L732.6,814.3 L732.8,820.7 L732.9,816.0 L733.1,818.2 L733.3,817.0 L733.4,815.3 L733.6,820.1 L733.7,815.6 L733.9,816.7 L734.1,821.5 L734.2,812.7 L734.4,814.0 L734.5,820.3 L734.7,817.1 L734.9,819.9 L735.0,818.0 L735.2,816.9 L735.3,819.7 L735.5,816.4 L735.7,816.8 L735.8,818.7 L736.0,815.5 L736.1,814.7 L736.3,814.2 L736.5,820.3 L736.6,822.7 L736.8,820.9 L736.9,816.6 L737.1,816.9 L737.3,815.8 L737.4,818.1 L737.6,820.6 L737.7,818.0 L737.9,818.1 L738.1,810.5 L738.2,818.9 L738.4,815.3 L738.5,817.6 L738.7,819.0 L738.9,818.5 L739.0,820.0 L739.2,821.9 L739.3,812.8 L739.5,814.5 L739.7,822.2 L739.8,819.4 L740.0,816.5 L740.1,816.9 L740.3,818.3 L740.5,820.8 L740.6,817.5 L740.8,818.2 L740.9,815.1 L741.1,821.8 L741.3,819.3 L741.4,817.1 L741.6,815.1 L741.7,818.2 L741.9,820.4 L742.1,823.8 L742.2,822.9 L742.4,816.6 L742.5,817.3 L742.7,816.0 L742.9,819.4 L743.0,816.5 L743.2,819.7 L743.3,819.1 L743.5,819.3 L743.7,816.0 L743.8,821.1 L744.0,817.8 L744.1,815.4 L744.3,818.2 L744.5,818.7 L744.6,818.5 L744.8,822.3 L744.9,821.2 L745.1,823.8 L745.3,818.1 L745.4,821.2 L745.6,812.1 L745.7,822.8 L745.9,818.3 L746.1,821.4 L746.2,817.8 L746.4,819.6 L746.5,819.8 L746.7,816.9 L746.9,816.9 L747.0,811.4 L747.2,819.7 L747.3,817.9 L747.5,817.8 L747.7,821.3 L747.8,819.2 L748.0,818.9 L748.1,813.8 L748.3,818.7 L748.5,817.6 L748.6,820.7 L748.8,817.1 L748.9,815.3 L749.1,817.7 L749.3,822.7 L749.4,816.2 L749.6,821.4 L749.7,817.9 L749.9,813.4 L750.1,819.8 L750.2,823.9 L750.4,819.3 L750.5,815.7 L750.7,817.7 L750.9,816.1 L751.0,825.1 L751.2,819.6 L751.3,812.5 L751.5,820.2 L751.7,819.3 L751.8,815.7 L752.0,816.7 L752.1,818.0 L752.3,822.3 L752.5,816.9 L752.6,816.3 L752.8,820.5 L752.9,816.6 L753.1,815.6 L753.3,817.8 L753.4,820.1 L753.6,818.5 L753.7,817.2 L753.9,821.6 L754.1,824.1 L754.2,814.2 L754.4,815.3 L754.5,815.8 L754.7,817.5 L754.9,818.4 L755.0,817.8 L755.2,818.2 L755.3,819.1 L755.5,814.9 L755.7,812.7 L755.8,818.7 L756.0,820.9 L756.1,818.4 L756.3,816.9 L756.5,819.2 L756.6,817.1 L756.8,814.7 L756.9,816.9 L757.1,819.7 L757.3,818.6 L757.4,819.4 L757.6,815.6 L757.7,819.1 L757.9,821.2 L758.1,816.9 L758.2,816.5 L758.4,820.7 L758.5,817.9 L758.7,814.8 L758.9,816.6 L759.0,820.8 L759.2,818.5 L759.3,822.0 L759.5,819.1 L759.7,818.1 L759.8,820.0 L760.0,816.0 L760.1,820.0 L760.3,817.2 L760.5,816.8 L760.6,818.3 L760.8,816.2 L760.9,814.6 L761.1,815.1 L761.3,818.5 L761.4,817.9 L761.6,817.3 L761.7,818.8 L761.9,814.9 L762.1,816.0 L762.2,820.9 L762.4,814.7 L762.5,820.0 L762.7,816.2 L762.9,818.1 L763.0,817.3 L763.2,816.1 L763.3,816.9 L763.5,818.9 L763.7,814.8 L763.8,814.2 L764.0,818.5 L764.1,815.4 L764.3,815.8 L764.5,815.7 L764.6,815.1 L764.8,811.7 L764.9,815.7 L765.1,814.8 L765.3,812.5 L765.4,814.3 L765.6,816.1 L765.7,819.6 L765.9,814.1 L766.1,818.5 L766.2,814.1 L766.4,816.1 L766.5,814.3 L766.7,816.6 L766.9,815.0 L767.0,813.6 L767.2,810.6 L767.3,816.5 L767.5,810.4 L767.7,812.4 L767.8,817.9 L768.0,814.0 L768.1,813.4 L768.3,813.3 L768.5,813.4 L768.6,811.7 L768.8,813.1 L768.9,811.6 L769.1,810.9 L769.3,812.5 L769.4,812.6 L769.6,811.5 L769.7,812.6 L769.9,814.4 L770.1,813.6 L770.2,809.3 L770.4,805.9 L770.5,810.8 L770.7,807.7 L770.9,808.7 L771.0,805.4 L771.2,807.5 L771.3,802.1 L771.5,804.3 L771.7,799.8 L771.8,806.9 L772.0,800.4 L772.1,794.9 L772.3,801.7 L772.5,799.7 L772.6,799.2 L772.8,791.6 L772.9,793.5 L773.1,793.8 L773.3,788.2 L773.4,787.3 L773.6,783.5 L773.7,780.6 L773.9,781.1 L774.1,773.7 L774.2,771.9 L774.4,769.2 L774.5,764.5 L774.7,761.6 L774.9,753.6 L775.0,753.5 L775.2,746.7 L775.3,743.8 L775.5,740.0 L775.7,737.5 L775.8,734.5 L776.0,732.7 L776.1,732.9 L776.3,733.5 L776.5,732.9 L776.6,734.8 L776.8,737.5 L776.9,740.1 L777.1,743.7 L777.3,748.4 L777.4,754.0 L777.6,756.6 L777.7,760.2 L777.9,765.2 L778.1,767.8 L778.2,777.7 L778.4,779.0 L778.5,779.2 L778.7,778.4 L778.9,783.3 L779.0,784.9 L779.2,787.1 L779.3,782.0 L779.5,791.8 L779.7,793.3 L779.8,794.7 L780.0,794.7 L780.1,799.9 L780.3,798.2 L780.5,796.0 L780.6,799.9 L780.8,805.2 L780.9,807.0 L781.1,802.3 L781.3,805.3 L781.4,807.7 L781.6,809.2 L781.7,806.5 L781.9,808.9 L782.1,807.7 L782.2,804.9 L782.4,811.8 L782.5,809.9 L782.7,811.4 L782.9,810.3 L783.0,807.5 L783.2,810.4 L783.3,812.6 L783.5,809.1 L783.7,816.0 L783.8,818.0 L784.0,807.5 L784.1,815.3 L784.3,811.5 L784.5,815.0 L784.6,814.5 L784.8,813.5 L784.9,816.2 L785.1,814.5 L785.3,817.9 L785.4,815.4 L785.6,811.4 L785.7,814.5 L785.9,815.0 L786.1,813.8 L786.2,812.4 L786.4,820.0 L786.5,815.3 L786.7,815.5 L786.9,811.9 L787.0,817.1 L787.2,815.6 L787.3,818.6 L787.5,820.1 L787.7,814.7 L787.8,814.5 L788.0,819.1 L788.1,818.9 L788.3,817.2 L788.5,818.3 L788.6,815.9 L788.8,816.6 L788.9,816.7 L789.1,811.8 L789.3,818.6 L789.4,818.7 L789.6,814.8 L789.7,815.7 L789.9,817.8 L790.1,820.2 L790.2,817.2 L790.4,816.1 L790.5,818.2 L790.7,817.6 L790.9,815.0 L791.0,816.6 L791.2,816.5 L791.3,819.0 L791.5,814.4 L791.7,815.6 L791.8,816.6 L792.0,817.6 L792.1,823.2 L792.3,817.2 L792.5,820.1 L792.6,819.5 L792.8,820.7 L792.9,821.8 L793.1,819.1 L793.3,815.5 L793.4,817.0 L793.6,821.4 L793.7,822.9 L793.9,820.9 L794.1,823.5 L794.2,819.6 L794.4,816.0 L794.5,818.2 L794.7,818.7 L794.9,820.2 L795.0,820.1 L795.2,816.0 L795.3,820.9 L795.5,816.8 L795.7,818.8 L795.8,819.7 L796.0,819.8 L796.1,819.4 L796.3,816.9 L796.5,817.9 L796.6,820.4 L796.8,817.2 L796.9,815.5 L797.1,812.3 L797.3,818.3 L797.4,816.2 L797.6,818.3 L797.7,815.8 L797.9,817.3 L798.1,817.5 L798.2,820.6 L798.4,816.3 L798.5,815.6 L798.7,818.6 L798.9,820.3 L799.0,816.2 L799.2,819.6 L799.3,818.4 L799.5,820.6 L799.7,814.0 L799.8,818.7 L800.0,817.8 L800.1,818.9 L800.3,816.9 L800.5,818.2 L800.6,813.3 L800.8,818.4 L800.9,821.7 L801.1,819.0 L801.3,818.7 L801.4,819.3 L801.6,821.9 L801.7,816.9 L801.9,815.1 L802.1,815.9 L802.2,817.0 L802.4,818.8 L802.5,820.5 L802.7,816.8 L802.9,816.2 L803.0,820.7 L803.2,821.1 L803.3,816.8 L803.5,820.4 L803.7,818.2 L803.8,817.5 L804.0,818.3 L804.1,816.6 L804.3,814.6 L804.5,815.3 L804.6,816.8 L804.8,819.3 L804.9,819.6 L805.1,820.7 L805.3,816.8 L805.4,818.6 L805.6,815.2 L805.7,816.3 L805.9,821.1 L806.1,818.3 L806.2,823.1 L806.4,820.3 L806.5,817.6 L806.7,817.0 L806.9,813.8 L807.0,821.8 L807.2,821.0 L807.3,827.2 L807.5,823.6 L807.7,819.5 L807.8,816.2 L808.0,814.5 L808.1,817.8 L808.3,818.7 L808.5,815.2 L808.6,820.4 L808.8,821.0 L808.9,816.4 L809.1,818.1 L809.3,815.4 L809.4,821.2 L809.6,816.6 L809.7,816.0 L809.9,814.1 L810.1,816.3 L810.2,814.6 L810.4,821.3 L810.5,821.5 L810.7,815.8 L810.9,816.6 L811.0,818.6 L811.2,819.0 L811.3,816.2 L811.5,822.0 L811.7,820.3 L811.8,823.6 L812.0,812.1 L812.1,815.0 L812.3,820.5 L812.5,819.3 L812.6,818.1 L812.8,816.0 L812.9,820.0 L813.1,817.6 L813.3,822.1 L813.4,821.5 L813.6,822.8 L813.7,814.4 L813.9,819.6 L814.1,823.1 L814.2,823.3 L814.4,821.8 L814.5,821.6 L814.7,817.0 L814.9,822.4 L815.0,823.4 L815.2,819.9 L815.3,820.1 L815.5,818.5 L815.7,819.3 L815.8,818.1 L816.0,820.0 L816.1,818.5 L816.3,815.2 L816.5,817.4 L816.6,819.9 L816.8,819.4 L816.9,822.4 L817.1,821.2 L817.3,822.0 L817.4,818.8 L817.6,821.5 L817.7,817.2 L817.9,817.3 L818.1,821.1 L818.2,819.5 L818.4,817.0 L818.5,823.0 L818.7,822.4 L818.9,820.8 L819.0,822.1 L819.2,821.2 L819.3,821.1 L819.5,817.0 L819.7,814.4 L819.8,818.1"/>
<path d="M60.3,957.2 L60.5,955.4 L60.6,958.8 L60.8,960.0 L60.9,961.5 L61.1,958.5 L61.3,960.7 L61.4,960.3 L61.6,962.1 L61.7,959.5 L61.9,962.1 L62.1,962.4 L62.2,960.2 L62.4,960.6 L62.5,960.0 L62.7,959.5 L62.9,959.8 L63.0,958.8 L63.2,963.0 L63.3,962.4 L63.5,961.2 L63.7,962.2 L63.8,962.0 L64.0,965.2 L64.1,963.9 L64.3,961.2 L64.5,963.6 L64.6,955.6 L64.8,961.1 L64.9,960.6 L65.1,963.1 L65.3,961.2 L65.4,960.8 L65.6,961.0 L65.7,959.5 L65.9,959.8 L66.1,960.7 L66.2,963.8 L66.4,963.6 L66.5,964.8 L66.7,967.0 L66.9,965.3 L67.0,959.3 L67.2,962.0 L67.3,969.7 L67.5,963.9 L67.7,964.5 L67.8,964.2 L68.0,960.7 L68.1,964.8 L68.3,963.6 L68.5,961.8 L68.6,965.0 L68.8,968.1 L68.9,963.9 L69.1,961.5 L69.3,964.2 L69.4,962.5 L69.6,959.2 L69.7,963.6 L69.9,965.6 L70.1,962.7 L70.2,964.7 L70.4,964.7 L70.5,964.0 L70.7,964.2 L70.9,964.5 L71.0,964.6 L71.2,965.0 L71.3,966.5 L71.5,964.4 L71.7,963.7 L71.8,966.7 L72.0,964.2 L72.1,970.5 L72.3,965.3 L72.5,970.4 L72.6,966.5 L72.8,966.7 L72.9,968.1 L73.1,967.1 L73.3,966.0 L73.4,965.6 L73.6,962.7 L73.7,964.3 L73.9,968.4 L74.1,961.2 L74.2,970.5 L74.4,968.8 L74.5,966.1 L74.7,970.8 L74.9,971.1 L75.0,969.5 L75.2,961.7 L75.3,962.6 L75.5,968.7 L75.7,964.6 L75.8,968.2 L76.0,966.4 L76.1,968.3 L76.3,966.8 L76.5,967.6 L76.6,963.8 L76.8,967.6 L76.9,965.7 L77.1,970.1 L77.3,965.0 L77.4,968.9 L77.6,969.3 L77.7,967.7 L77.9,966.2 L78.1,968.4 L78.2,967.9 L78.4,970.0 L78.5,966.2 L78.7,965.7 L78.9,970.0 L79.0,969.0 L79.2,971.2 L79.3,971.6 L79.5,964.4 L79.7,969.2 L79.8,969.1 L80.0,968.9 L80.1,970.9 L80.3,973.2 L80.5,968.5 L80.6,968.7 L80.8,970.5 L80.9,970.8 L81.1,968.9 L81.3,971.1 L81.4,972.3 L81.6,968.1 L81.7,972.2 L81.9,967.6 L82.1,972.3 L82.2,967.5 L82.4,967.6 L82.5,966.5 L82.7,968.9 L82.9,969.6 L83.0,969.4 L83.2,968.9 L83.3,969.2 L83.5,968.7 L83.7,969.0 L83.8,970.2 L84.0,968.7 L84.1,970.4 L84.3,967.6 L84.5,967.1 L84.6,971.9 L84.8,968.4 L84.9,970.5 L85.1,966.0 L85.3,967.0 L85.4,967.3 L85.6,968.4 L85.7,973.4 L85.9,968.9 L86.1,971.1 L86.2,969.7 L86.4,970.9 L86.5,968.0 L86.7,973.2 L86.9,971.3 L87.0,969.8 L87.2,972.7 L87.3,967.5 L87.5,969.4 L87.7,971.8 L87.8,974.6 L88.0,970.0 L88.1,975.3 L88.3,973.9 L88.5,969.3 L88.6,972.5 L88.8,973.9 L88.9,969.2 L89.1,974.8 L89.3,968.0 L89.4,974.7 L89.6,974.2 L89.7,975.4 L89.9,973.6 L90.1,972.4 L90.2,968.2 L90.4,975.8 L90.5,973.4 L90.7,973.9 L90.9,970.7 L91.0,967.0 L91.2,973.2 L91.3,970.1 L91.5,972.1 L91.7,973.5 L91.8,969.3 L92.0,973.3 L92.1,970.6 L92.3,971.1 L92.5,974.1 L92.6,969.1 L92.8,971.2 L92.9,972.0 L93.1,974.9 L93.3,972.4 L93.4,974.1 L93.6,970.2 L93.7,969.3 L93.9,972.4 L94.1,976.3 L94.2,974.0 L94.4,971.9 L94.5,971.5 L94.7,976.0 L94.9,974.4 L95.0,969.8 L95.2,968.6 L95.3,977.4 L95.5,973.5 L95.7,973.2 L95.8,974.0 L96.0,973.0 L96.1,972.9 L96.3,973.1 L96.5,968.8 L96.6,971.8 L96.8,972.3 L96.9,975.8 L97.1,975.7 L97.3,972.6 L97.4,973.2 L97.6,973.7 L97.7,978.0 L97.9,976.0 L98.1,972.1 L98.2,976.9 L98.4,971.6 L98.5,976.3 L98.7,974.0 L98.9,971.1 L99.0,972.8 L99.2,973.4 L99.3,976.3 L99.5,976.9 L99.7,970.0 L99.8,972.8 L100.0,976.4 L100.1,975.1 L100.3,975.2 L100.5,975.5 L100.6,975.8 L100.8,977.1 L100.9,973.2 L101.1,969.1 L101.3,975.3 L101.4,972.8 L101.6,970.5 L101.7,974.4 L101.9,972.6 L102.1,974.1 L102.2,969.6 L102.4,975.5 L102.5,974.2 L102.7,974.8 L102.9,972.7 L103.0,972.6 L103.2,976.6 L103.3,975.9 L103.5,973.9 L103.7,971.7 L103.8,975.6 L104.0,973.4 L104.1,976.4 L104.3,972.9 L104.5,974.9 L104.6,975.4 L104.8,973.3 L104.9,975.8 L105.1,971.5 L105.3,977.6 L105.4,972.7 L105.6,973.7 L105.7,974.3 L105.9,973.9 L106.1,973.1 L106.2,975.1 L106.4,973.3 L106.5,974.1 L106.7,975.1 L106.9,974.3 L107.0,973.0 L107.2,976.6 L107.3,979.2 L107.5,973.5 L107.7,976.8 L107.8,973.3 L108.0,974.3 L108.1,972.4 L108.3,973.6 L108.5,973.2 L108.6,974.7 L108.8,974.2 L108.9,979.8 L109.1,973.0 L109.3,976.4 L109.4,976.8 L109.6,971.1 L109.7,971.2 L109.9,977.0 L110.1,972.4 L110.2,974.4 L110.4,969.1 L110.5,972.7 L110.7,974.5 L110.9,977.6 L111.0,979.7 L111.2,973.8 L111.3,978.4 L111.5,975.2 L111.7,974.7 L111.8,974.7 L112.0,974.7 L112.1,971.8 L112.3,975.1 L112.5,972.7 L112.6,976.0 L112.8,981.4 L112.9,972.4 L113.1,979.0 L113.3,972.8 L113.4,974.6 L113.6,977.6 L113.7,976.5 L113.9,978.0 L114.1,978.4 L114.2,974.7 L114.4,974.2 L114.5,976.8 L114.7,976.5 L114.9,979.2 L115.0,970.6 L115.2,977.7 L115.3,976.5 L115.5,974.7 L115.7,973.6 L115.8,973.6 L116.0,972.1 L116.1,979.0 L116.3,975.5 L116.5,974.8 L116.6,975.6 L116.8,976.7 L116.9,977.1 L117.1,975.4 L117.3,975.0 L117.4,973.7 L117.6,975.4 L117.7,975.2 L117.9,974.1 L118.1,974.8 L118.2,978.3 L118.4,977.3 L118.5,976.1 L118.7,978.2 L118.9,975.8 L119.0,978.1 L119.2,975.5 L119.3,978.7 L119.5,977.6 L119.7,974.8 L119.8,972.8 L120.0,975.8 L120.1,975.8 L120.3,973.0 L120.5,975.0 L120.6,974.1 L120.8,976.1 L120.9,972.6 L121.1,975.4 L121.3,979.7 L121.4,977.6 L121.6,975.4 L121.7,978.9 L121.9,973.8 L122.1,977.3 L122.2,976.1 L122.4,973.6 L122.5,976.5 L122.7,980.7 L122.9,973.5 L123.0,971.7 L123.2,979.2 L123.3,973.9 L123.5,975.1 L123.7,974.3 L123.8,973.6 L124.0,976.4 L124.1,973.0 L124.3,972.9 L124.5,974.7 L124.6,976.4 L124.8,978.4 L124.9,975.1 L125.1,977.2 L125.3,978.2 L125.4,976.1 L125.6,977.0 L125.7,974.6 L125.9,971.4 L126.1,976.7 L126.2,972.4 L126.4,976.2 L126.5,973.0 L126.7,972.2 L126.9,974.5 L127.0,971.9 L127.2,974.8 L127.3,974.2 L127.5,974.1 L127.7,977.9 L127.8,976.3 L128.0,973.8 L128.1,976.1 L128.3,975.1 L128.5,973.4 L128.6,971.0 L128.8,972.4 L128.9,978.3 L129.1,973.9 L129.3,975.0 L129.4,977.5 L129.6,971.9 L129.7,975.8 L129.9,967.5 L130.1,970.8 L130.2,968.1 L130.4,972.8 L130.5,972.7 L130.7,970.8 L130.9,970.8 L131.0,978.7 L131.2,972.8 L131.3,972.9 L131.5,969.4 L131.7,969.4 L131.8,971.4 L132.0,969.9 L132.1,969.9 L132.3,969.3 L132.5,965.7 L132.6,970.1 L132.8,969.3 L132.9,969.6 L133.1,969.4 L133.3,971.4 L133.4,965.8 L133.6,966.5 L133.7,968.3 L133.9,963.6 L134.1,966.0 L134.2,961.2 L134.4,960.0 L134.5,957.0 L134.7,957.3 L134.9,960.0 L135.0,956.7 L135.2,949.3 L135.3,946.0 L135.5,942.1 L135.7,930.6 L135.8,924.2 L136.0,915.2 L136.1,900.0 L136.3,889.0 L136.5,873.8 L136.6,856.6 L136.8,836.8 L136.9,810.6 L137.1,791.9 L137.3,764.9 L137.4,740.1 L137.6,714.0 L137.7,687.8 L137.9,666.4 L138.1,643.9 L138.2,630.5 L138.4,621.9 L138.5,620.9 L138.7,625.3 L138.9,637.6 L139.0,654.7 L139.2,678.1 L139.3,700.1 L139.5,725.3 L139.7,752.1 L139.8,779.4 L140.0,806.2 L140.1,821.8 L140.3,845.0 L140.5,870.0 L140.6,882.6 L140.8,896.4 L140.9,909.5 L141.1,918.9 L141.3,927.2 L141.4,937.0 L141.6,941.0 L141.7,954.4 L141.9,945.7 L142.1,955.7 L142.2,955.4 L142.4,963.0 L142.5,958.6 L142.7,963.5 L142.9,967.3 L143.0,965.9 L143.2,964.1 L143.3,965.9 L143.5,967.5 L143.7,971.1 L143.8,968.7 L144.0,970.3 L144.1,966.9 L144.3,970.0 L144.5,973.2 L144.6,970.1 L144.8,970.0 L144.9,970.6 L145.1,974.4 L145.3,973.3 L145.4,973.3 L145.6,971.0 L145.7,968.9 L145.9,975.6 L146.1,972.4 L146.2,975.5 L146.4,975.0 L146.5,972.6 L146.7,971.7 L146.9,976.5 L147.0,969.7 L147.2,969.3 L147.3,978.4 L147.5,973.0 L147.7,975.7 L147.8,977.6 L148.0,980.1 L148.1,973.1 L148.3,975.1 L148.5,977.7 L148.6,975.7 L148.8,974.0 L148.9,978.1 L149.1,972.1 L149.3,978.4 L149.4,976.1 L149.6,976.3 L149.7,974.8 L149.9,975.9 L150.1,978.9 L150.2,977.1 L150.4,979.2 L150.5,978.0 L150.7,975.9 L150.9,976.2 L151.0,977.0 L151.2,975.9 L151.3,980.2 L151.5,974.4 L151.7,981.0 L151.8,975.6 L152.0,975.2 L152.1,977.2 L152.3,974.3 L152.5,981.1 L152.6,981.1 L152.8,980.7 L152.9,981.5 L153.1,980.4 L153.3,973.4 L153.4,979.1 L153.6,976.0 L153.7,979.6 L153.9,977.1 L154.1,976.7 L154.2,975.7 L154.4,979.1 L154.5,980.4 L154.7,975.4 L154.9,978.8 L155.0,979.0 L155.2,977.7 L155.3,977.6 L155.5,980.7 L155.7,981.1 L155.8,979.8 L156.0,979.7 L156.1,979.9 L156.3,976.9 L156.5,978.1 L156.6,978.3 L156.8,974.3 L156.9,980.1 L157.1,982.6 L157.3,983.0 L157.4,977.8 L157.6,977.3 L157.7,976.6 L157.9,980.0 L158.1,978.0 L158.2,981.1 L158.4,976.0 L158.5,978.9 L158.7,977.2 L158.9,979.1 L159.0,978.1 L159.2,974.4 L159.3,980.5 L159.5,978.7 L159.7,979.0 L159.8,978.5 L160.0,976.5 L160.1,978.8 L160.3,980.5 L160.5,982.5 L160.6,979.2 L160.8,977.5 L160.9,981.5 L161.1,978.3 L161.3,978.3 L161.4,978.8 L161.6,980.2 L161.7,976.1 L161.9,979.1 L162.1,978.8 L162.2,977.9 L162.4,982.7 L162.5,975.3 L162.7,978.9 L162.9,979.4 L163.0,979.4 L163.2,982.3 L163.3,974.2 L163.5,978.2 L163.7,975.3 L163.8,975.8 L164.0,977.7 L164.1,980.0 L164.3,978.4 L164.5,983.4 L164.6,975.6 L164.8,979.8 L164.9,979.8 L165.1,979.4 L165.3,980.6 L165.4,978.6 L165.6,980.3 L165.7,978.6 L165.9,978.1 L166.1,977.1 L166.2,978.3 L166.4,980.8 L166.5,978.1 L166.7,980.9 L166.9,978.8 L167.0,979.3 L167.2,982.2 L167.3,976.6 L167.5,979.1 L167.7,981.3 L167.8,980.6 L168.0,980.2 L168.1,982.5 L168.3,978.3 L168.5,979.6 L168.6,983.3 L168.8,976.8 L168.9,980.6 L169.1,980.7 L169.3,980.1 L169.4,980.4 L169.6,977.5 L169.7,979.8 L169.9,979.2 L170.1,980.3 L170.2,979.8 L170.4,983.6 L170.5,981.7 L170.7,984.2 L170.9,981.7 L171.0,980.4 L171.2,981.1 L171.3,982.4 L171.5,977.6 L171.7,976.1 L171.8,976.2 L172.0,981.1 L172.1,978.6 L172.3,978.7 L172.5,979.6 L172.6,981.1 L172.8,978.5 L172.9,977.5 L173.1,978.2 L173.3,981.0 L173.4,978.8 L173.6,980.6 L173.7,983.4 L173.9,978.6 L174.1,977.3 L174.2,976.4 L174.4,977.9 L174.5,976.7 L174.7,979.4 L174.9,976.0 L175.0,979.2 L175.2,977.9 L175.3,980.5 L175.5,976.2 L175.7,978.8 L175.8,980.1 L176.0,974.8 L176.1,979.1 L176.3,976.9 L176.5,976.0 L176.6,974.6 L176.8,977.9 L176.9,976.3 L177.1,976.6 L177.3,978.9 L177.4,970.3 L177.6,978.8 L177.7,981.6 L177.9,976.1 L178.1,975.0 L178.2,975.2 L178.4,977.0 L178.5,979.9 L178.7,971.7 L178.9,965.8 L179.0,972.0 L179.2,969.6 L179.3,967.3 L179.5,964.6 L179.7,957.0 L179.8,958.5 L180.0,951.3 L180.1,947.7 L180.3,939.1 L180.5,930.6 L180.6,920.3 L180.8,916.6 L180.9,904.2 L181.1,894.8 L181.3,886.4 L181.4,876.6 L181.6,869.5 L181.7,863.5 L181.9,864.0 L182.1,865.5 L182.2,868.7 L182.4,875.0 L182.5,885.3 L182.7,894.3 L182.9,906.6 L183.0,912.3 L183.2,923.8 L183.3,934.0 L183.5,941.5 L183.7,944.6 L183.8,950.1 L184.0,957.2 L184.1,967.1 L184.3,963.7 L184.5,966.2 L184.6,972.2 L184.8,972.9 L184.9,976.2 L185.1,972.6 L185.3,973.5 L185.4,977.5 L185.6,975.6 L185.7,976.6 L185.9,974.7 L186.1,975.6 L186.2,975.8 L186.4,976.4 L186.5,976.5 L186.7,977.6 L186.9,977.7 L187.0,981.1 L187.2,982.8 L187.3,978.2 L187.5,982.6 L187.7,980.4 L187.8,974.4 L188.0,980.1 L188.1,976.4 L188.3,982.2 L188.5,978.6 L188.6,983.4 L188.8,983.2 L188.9,979.0 L189.1,978.0 L189.3,982.6 L189.4,978.3 L189.6,980.2 L189.7,982.6 L189.9,980.2 L190.1,982.2 L190.2,984.9 L190.4,981.4 L190.5,982.3 L190.7,979.5 L190.9,974.8 L191.0,981.4 L191.2,981.0 L191.3,982.2 L191.5,981.1 L191.7,979.7 L191.8,979.7 L192.0,981.3 L192.1,979.2 L192.3,978.1 L192.5,981.8 L192.6,981.2 L192.8,982.6 L192.9,980.1 L193.1,981.1 L193.3,979.3 L193.4,980.5 L193.6,983.3 L193.7,985.3 L193.9,980.9 L194.1,982.5 L194.2,979.9 L194.4,978.3 L194.5,980.4 L194.7,981.1 L194.9,981.0 L195.0,979.9 L195.2,982.1 L195.3,984.3 L195.5,980.6 L195.7,982.7 L195.8,983.1 L196.0,984.1 L196.1,983.3 L196.3,984.1 L196.5,982.1 L196.6,979.1 L196.8,979.6 L196.9,981.0 L197.1,979.8 L197.3,980.3 L197.4,981.6 L197.6,982.0 L197.7,981.2 L197.9,982.9 L198.1,986.4 L198.2,980.0 L198.4,980.9 L198.5,979.6 L198.7,984.7 L198.9,984.2 L199.0,979.3 L199.2,984.1 L199.3,979.2 L199.5,983.2 L199.7,982.4 L199.8,982.5 L200.0,978.4 L200.1,982.8 L200.3,983.1 L200.5,985.3 L200.6,982.7 L200.8,982.4 L200.9,980.9 L201.1,983.7 L201.3,984.3 L201.4,984.2 L201.6,984.6 L201.7,982.2 L201.9,979.5 L202.1,982.8 L202.2,988.4 L202.4,985.4 L202.5,981.1 L202.7,987.2 L202.9,985.7 L203.0,984.6 L203.2,980.5 L203.3,984.2 L203.5,984.9 L203.7,987.7 L203.8,981.8 L204.0,982.2 L204.1,985.5 L204.3,985.4 L204.5,984.8 L204.6,981.7 L204.8,981.5 L204.9,983.5 L205.1,983.9 L205.3,984.9 L205.4,981.3 L205.6,979.4 L205.7,985.4 L205.9,982.7 L206.1,982.7 L206.2,985.1 L206.4,979.8 L206.5,983.0 L206.7,982.2 L206.9,984.0 L207.0,982.9 L207.2,984.5 L207.3,980.2 L207.5,982.1 L207.7,981.1 L207.8,985.5 L208.0,985.9 L208.1,983.3 L208.3,984.7 L208.5,982.6 L208.6,980.6 L208.8,986.2 L208.9,982.9 L209.1,986.2 L209.3,988.5 L209.4,980.6 L209.6,984.5 L209.7,982.5 L209.9,984.1 L210.1,978.1 L210.2,984.6 L210.4,981.3 L210.5,983.9 L210.7,984.3 L210.9,985.2 L211.0,983.3 L211.2,984.0 L211.3,982.7 L211.5,980.0 L211.7,982.0 L211.8,982.2 L212.0,982.6 L212.1,983.7 L212.3,983.9 L212.5,985.8 L212.6,987.8 L212.8,981.1 L212.9,983.8 L213.1,984.4 L213.3,982.9 L213.4,985.0 L213.6,978.4 L213.7,985.0 L213.9,983.0 L214.1,979.3 L214.2,982.9 L214.4,987.8 L214.5,983.3 L214.7,988.1 L214.9,988.5 L215.0,984.2 L215.2,982.9 L215.3,985.1 L215.5,986.8 L215.7,987.6 L215.8,984.4 L216.0,981.7 L216.1,987.1 L216.3,979.6 L216.5,983.2 L216.6,983.8 L216.8,984.8 L216.9,982.3 L217.1,984.0 L217.3,985.7 L217.4,983.8 L217.6,981.8 L217.7,985.5 L217.9,984.1 L218.1,981.6 L218.2,982.2 L218.4,988.0 L218.5,983.4 L218.7,985.0 L218.9,982.7 L219.0,983.5 L219.2,983.7 L219.3,982.7 L219.5,985.5 L219.7,986.2 L219.8,985.7 L220.0,983.0 L220.1,982.4 L220.3,979.4 L220.5,988.4 L220.6,983.2 L220.8,981.2 L220.9,981.3 L221.1,985.7 L221.3,983.3 L221.4,985.6 L221.6,984.4 L221.7,986.1 L221.9,984.5 L222.1,977.5 L222.2,987.0 L222.4,981.1 L222.5,987.4 L222.7,984.3 L222.9,982.2 L223.0,982.8 L223.2,982.2 L223.3,984.9 L223.5,985.2 L223.7,981.0 L223.8,979.9 L224.0,986.9 L224.1,984.9 L224.3,981.1 L224.5,986.3 L224.6,986.8 L224.8,985.2 L224.9,985.3 L225.1,982.9 L225.3,977.5 L225.4,985.7 L225.6,982.3 L225.7,988.6 L225.9,983.2 L226.1,985.4 L226.2,982.4 L226.4,980.9 L226.5,983.0 L226.7,988.9 L226.9,984.2 L227.0,979.7 L227.2,986.5 L227.3,986.9 L227.5,982.3 L227.7,984.4 L227.8,984.2 L228.0,982.4 L228.1,984.4 L228.3,980.6 L228.5,985.0 L228.6,986.5 L228.8,982.3 L228.9,985.8 L229.1,986.0 L229.3,985.5 L229.4,987.6 L229.6,984.3 L229.7,982.5 L229.9,986.1 L230.1,985.5 L230.2,979.3 L230.4,984.4 L230.5,982.5 L230.7,983.4 L230.9,984.5 L231.0,987.8 L231.2,985.2 L231.3,982.8 L231.5,983.0 L231.7,984.8 L231.8,985.2 L232.0,995.6 L232.1,982.2 L232.3,983.0 L232.5,986.6 L232.6,983.5 L232.8,984.8 L232.9,980.6 L233.1,980.6 L233.3,985.9 L233.4,982.0 L233.6,986.1 L233.7,983.3 L233.9,985.1 L234.1,987.1 L234.2,982.6 L234.4,982.6 L234.5,987.0 L234.7,984.4 L234.9,984.1 L235.0,986.5 L235.2,982.2 L235.3,984.3 L235.5,979.3 L235.7,981.4 L235.8,985.9 L236.0,987.2 L236.1,984.9 L236.3,981.1 L236.5,984.2 L236.6,985.2 L236.8,984.4 L236.9,987.1 L237.1,982.6 L237.3,985.2 L237.4,983.7 L237.6,984.3 L237.7,983.7 L237.9,985.6 L238.1,981.7 L238.2,983.8 L238.4,985.3 L238.5,986.5 L238.7,987.0 L238.9,984.9 L239.0,987.1 L239.2,987.4 L239.3,984.2 L239.5,989.0 L239.7,988.0 L239.8,983.9 L240.0,984.1 L240.1,983.5 L240.3,984.3 L240.5,985.3 L240.6,985.2 L240.8,983.6 L240.9,985.7 L241.1,987.3 L241.3,986.6 L241.4,986.1 L241.6,983.8 L241.7,983.9 L241.9,988.4 L242.1,984.7 L242.2,982.8 L242.4,986.6 L242.5,988.3 L242.7,981.2 L242.9,988.3 L243.0,982.4 L243.2,986.5 L243.3,984.8 L243.5,983.2 L243.7,980.7 L243.8,982.3 L244.0,981.8 L244.1,983.7 L244.3,986.9 L244.5,984.0 L244.6,989.0 L244.8,984.0 L244.9,983.0 L245.1,984.6 L245.3,988.4 L245.4,982.9 L245.6,984.6 L245.7,986.9 L245.9,983.5 L246.1,985.8 L246.2,984.2 L246.4,984.1 L246.5,984.3 L246.7,984.0 L246.9,986.3 L247.0,981.0 L247.2,981.7 L247.3,983.5 L247.5,981.1 L247.7,982.4 L247.8,981.8 L248.0,984.3 L248.1,980.7 L248.3,983.9 L248.5,983.1 L248.6,986.9 L248.8,980.9 L248.9,980.8 L249.1,980.9 L249.3,981.9 L249.4,982.4 L249.6,985.8 L249.7,982.6 L249.9,984.0 L250.1,984.1 L250.2,985.7 L250.4,981.3 L250.5,982.6 L250.7,984.4 L250.9,987.5 L251.0,982.9 L251.2,982.7 L251.3,986.0 L251.5,984.6 L251.7,984.4 L251.8,988.5 L252.0,982.7 L252.1,986.1 L252.3,988.7 L252.5,982.5 L252.6,989.6 L252.8,986.1 L252.9,985.2 L253.1,987.7 L253.3,985.0 L253.4,978.8 L253.6,985.1 L253.7,984.1 L253.9,981.2 L254.1,986.1 L254.2,983.2 L254.4,982.5 L254.5,993.3 L254.7,987.1 L254.9,987.9 L255.0,988.5 L255.2,981.6 L255.3,988.7 L255.5,982.1 L255.7,982.1 L255.8,985.2 L256.0,983.7 L256.1,988.3 L256.3,983.7 L256.5,985.9 L256.6,984.4 L256.8,982.8 L256.9,983.8 L257.1,983.5 L257.3,984.8 L257.4,984.1 L257.6,986.4 L257.7,983.8 L257.9,985.1 L258.1,988.1 L258.2,985.5 L258.4,990.7 L258.5,984.7 L258.7,985.2 L258.9,985.8 L259.0,987.1 L259.2,986.2 L259.3,984.4 L259.5,984.0 L259.7,983.5 L259.8,984.4 L260.0,981.0 L260.1,981.6 L260.3,981.8 L260.5,987.6 L260.6,985.0 L260.8,986.7 L260.9,983.8 L261.1,985.1 L261.3,982.5 L261.4,980.0 L261.6,983.8 L261.7,983.2 L261.9,982.9 L262.1,981.2 L262.2,985.6 L262.4,986.1 L262.5,985.5 L262.7,986.7 L262.9,982.4 L263.0,985.6 L263.2,984.1 L263.3,983.2 L263.5,984.3 L263.7,982.1 L263.8,983.5 L264.0,984.2 L264.1,980.2 L264.3,987.6 L264.5,986.4 L264.6,986.0 L264.8,988.1 L264.9,985.7 L265.1,985.6 L265.3,987.9 L265.4,983.1 L265.6,981.2 L265.7,986.3 L265.9,983.6 L266.1,986.5 L266.2,985.6 L266.4,982.6 L266.5,984.0 L266.7,981.7 L266.9,984.2 L267.0,983.8 L267.2,985.9 L267.3,988.4 L267.5,984.7 L267.7,983.5 L267.8,984.4 L268.0,983.9 L268.1,983.1 L268.3,985.1 L268.5,981.6 L268.6,982.2 L268.8,984.6 L268.9,986.2 L269.1,985.2 L269.3,983.4 L269.4,986.6 L269.6,984.8 L269.7,987.9 L269.9,985.2 L270.1,984.0 L270.2,981.3 L270.4,986.9 L270.5,986.2 L270.7,987.1 L270.9,982.7 L271.0,981.5 L271.2,987.0 L271.3,984.0 L271.5,978.5 L271.7,985.4 L271.8,981.1 L272.0,987.1 L272.1,986.4 L272.3,979.5 L272.5,985.3 L272.6,983.9 L272.8,985.3 L272.9,981.1 L273.1,980.6 L273.3,985.9 L273.4,979.4 L273.6,983.6 L273.7,984.8 L273.9,985.5 L274.1,984.6 L274.2,989.0 L274.4,986.5 L274.5,983.4 L274.7,983.5 L274.9,982.1 L275.0,984.2 L275.2,988.5 L275.3,985.3 L275.5,983.5 L275.7,981.0 L275.8,978.1 L276.0,983.5 L276.1,982.0 L276.3,984.5 L276.5,981.2 L276.6,985.4 L276.8,983.1 L276.9,982.3 L277.1,984.3 L277.3,982.6 L277.4,983.5 L277.6,981.9 L277.7,984.7 L277.9,976.7 L278.1,983.4 L278.2,984.9 L278.4,985.5 L278.5,984.8 L278.7,986.5 L278.9,984.1 L279.0,989.4 L279.2,982.4 L279.3,978.9 L279.5,978.6 L279.7,979.2 L279.8,983.4 L280.0,979.6 L280.1,980.1 L280.3,985.0 L280.5,979.4 L280.6,983.6 L280.8,985.4 L280.9,986.1 L281.1,983.9 L281.3,980.2 L281.4,981.1 L281.6,989.2 L281.7,986.9 L281.9,982.4 L282.1,985.3 L282.2,985.0 L282.4,982.5 L282.5,985.7 L282.7,981.3 L282.9,985.7 L283.0,984.7 L283.2,982.9 L283.3,982.0 L283.5,986.8 L283.7,980.0 L283.8,981.2 L284.0,980.1 L284.1,982.7 L284.3,982.8 L284.5,981.4 L284.6,985.7 L284.8,983.5 L284.9,984.5 L285.1,980.0 L285.3,982.4 L285.4,986.7 L285.6,985.6 L285.7,984.2 L285.9,985.8 L286.1,984.8 L286.2,983.9 L286.4,984.1 L286.5,984.3 L286.7,982.2 L286.9,987.2 L287.0,988.7 L287.2,983.5 L287.3,983.1 L287.5,988.5 L287.7,984.2 L287.8,984.5 L288.0,984.2 L288.1,983.4 L288.3,982.4 L288.5,984.9 L288.6,979.8 L288.8,985.5 L288.9,986.6 L289.1,982.6 L289.3,982.2 L289.4,987.6 L289.6,982.7 L289.7,981.8 L289.9,985.2 L290.1,980.6 L290.2,978.3 L290.4,983.1 L290.5,981.9 L290.7,980.0 L290.9,981.3 L291.0,981.6 L291.2,982.3 L291.3,973.7 L291.5,984.7 L291.7,982.2 L291.8,982.1 L292.0,982.2 L292.1,984.8 L292.3,983.6 L292.5,987.9 L292.6,977.9 L292.8,984.7 L292.9,985.1 L293.1,976.2 L293.3,984.1 L293.4,982.5 L293.6,982.4 L293.7,982.7 L293.9,983.6 L294.1,981.8 L294.2,981.0 L294.4,984.9 L294.5,982.6 L294.7,984.6 L294.9,988.7 L295.0,979.5 L295.2,980.5 L295.3,979.7 L295.5,982.3 L295.7,986.4 L295.8,983.5 L296.0,985.0 L296.1,986.8 L296.3,977.9 L296.5,981.6 L296.6,979.7 L296.8,983.4 L296.9,980.0 L297.1,986.1 L297.3,981.2 L297.4,980.5 L297.6,979.9 L297.7,979.2 L297.9,982.1 L298.1,980.9 L298.2,982.9 L298.4,981.1 L298.5,983.2 L298.7,982.6 L298.9,984.6 L299.0,983.7 L299.2,980.8 L299.3,984.9 L299.5,980.7 L299.7,979.9 L299.8,984.0 L300.0,979.0 L300.1,980.3 L300.3,978.4 L300.5,978.4 L300.6,982.5 L300.8,979.6 L300.9,985.6 L301.1,985.0 L301.3,982.5 L301.4,980.1 L301.6,981.5 L301.7,981.0 L301.9,984.1 L302.1,977.1 L302.2,981.1 L302.4,981.6 L302.5,982.3 L302.7,982.9 L302.9,980.4 L303.0,982.7 L303.2,978.5 L303.3,983.7 L303.5,982.0 L303.7,980.8 L303.8,983.6 L304.0,979.3 L304.1,977.0 L304.3,982.0 L304.5,981.0 L304.6,980.0 L304.8,979.2 L304.9,981.7 L305.1,982.6 L305.3,978.4 L305.4,977.3 L305.6,982.0 L305.7,977.9 L305.9,983.2 L306.1,983.5 L306.2,978.8 L306.4,985.4 L306.5,979.4 L306.7,979.7 L306.9,979.6 L307.0,980.8 L307.2,981.6 L307.3,980.3 L307.5,977.8 L307.7,978.6 L307.8,975.7 L308.0,976.8 L308.1,979.4 L308.3,978.9 L308.5,977.4 L308.6,979.1 L308.8,976.8 L308.9,978.2 L309.1,978.4 L309.3,980.3 L309.4,980.2 L309.6,975.3 L309.7,976.6 L309.9,973.2 L310.1,981.6 L310.2,971.9 L310.4,976.4 L310.5,972.7 L310.7,976.1 L310.9,976.2 L311.0,976.8 L311.2,973.7 L311.3,976.4 L311.5,972.8 L311.7,971.8 L311.8,971.7 L312.0,971.3 L312.1,976.5 L312.3,974.1 L312.5,973.0 L312.6,966.3 L312.8,970.0 L312.9,972.1 L313.1,964.6 L313.3,969.9 L313.4,964.2 L313.6,965.4 L313.7,964.7 L313.9,962.2 L314.1,960.6 L314.2,959.5 L314.4,958.5 L314.5,956.1 L314.7,952.0 L314.9,944.7 L315.0,934.4 L315.2,930.1 L315.3,924.0 L315.5,917.7 L315.7,908.8 L315.8,893.4 L316.0,879.5 L316.1,866.4 L316.3,850.2 L316.5,833.2 L316.6,814.2 L316.8,792.8 L316.9,769.4 L317.1,752.1 L317.3,730.4 L317.4,715.8 L317.6,703.5 L317.7,691.7 L317.9,685.2 L318.1,685.6 L318.2,688.3 L318.4,698.7 L318.5,712.5 L318.7,728.2 L318.9,747.0 L319.0,768.5 L319.2,788.3 L319.3,807.0 L319.5,827.0 L319.7,846.6 L319.8,861.7 L320.0,875.7 L320.1,891.9 L320.3,902.8 L320.5,914.2 L320.6,920.2 L320.8,930.6 L320.9,935.8 L321.1,939.6 L321.3,951.2 L321.4,951.9 L321.6,955.4 L321.7,959.6 L321.9,963.1 L322.1,964.2 L322.2,961.9 L322.4,965.4 L322.5,964.7 L322.7,966.7 L322.9,969.0 L323.0,971.7 L323.2,965.3 L323.3,972.2 L323.5,971.9 L323.7,969.3 L323.8,978.8 L324.0,972.4 L324.1,975.9 L324.3,973.4 L324.5,974.8 L324.6,976.3 L324.8,974.8 L324.9,975.0 L325.1,978.1 L325.3,978.1 L325.4,981.5 L325.6,976.7 L325.7,972.2 L325.9,973.2 L326.1,977.9 L326.2,974.6 L326.4,973.8 L326.5,979.9 L326.7,973.7 L326.9,973.8 L327.0,978.1 L327.2,980.6 L327.3,979.9 L327.5,975.5 L327.7,980.0 L327.8,976.0 L328.0,979.2 L328.1,971.5 L328.3,975.7 L328.5,979.6 L328.6,978.5 L328.8,979.9 L328.9,970.0 L329.1,982.3 L329.3,981.2 L329.4,984.1 L329.6,978.0 L329.7,981.6 L329.9,980.9 L330.1,979.1 L330.2,980.8 L330.4,979.9 L330.5,981.3 L330.7,979.4 L330.9,980.0 L331.0,978.1 L331.2,979.0 L331.3,980.5 L331.5,980.7 L331.7,981.0 L331.8,982.2 L332.0,978.4 L332.1,978.4 L332.3,976.4 L332.5,983.3 L332.6,984.8 L332.8,981.2 L332.9,983.1 L333.1,978.6 L333.3,980.7 L333.4,986.5 L333.6,981.2 L333.7,977.3 L333.9,981.3 L334.1,980.6 L334.2,982.7 L334.4,984.5 L334.5,980.8 L334.7,981.9 L334.9,983.0 L335.0,978.8 L335.2,980.3 L335.3,977.0 L335.5,981.4 L335.7,982.5 L335.8,981.7 L336.0,982.0 L336.1,979.2 L336.3,979.0 L336.5,984.0 L336.6,982.5 L336.8,979.6 L336.9,982.4 L337.1,979.3 L337.3,978.8 L337.4,981.9 L337.6,980.9 L337.7,981.8 L337.9,986.6 L338.1,982.1 L338.2,981.6 L338.4,985.9 L338.5,979.4 L338.7,980.9 L338.9,980.1 L339.0,981.0 L339.2,986.5 L339.3,976.8 L339.5,984.2 L339.7,978.2 L339.8,977.6 L340.0,980.9 L340.1,981.1 L340.3,980.6 L340.5,978.7 L340.6,982.9 L340.8,978.3 L340.9,982.8 L341.1,987.9 L341.3,978.3 L341.4,982.0 L341.6,981.7 L341.7,977.8 L341.9,981.5 L342.1,983.7 L342.2,983.6 L342.4,983.1 L342.5,980.1 L342.7,981.2 L342.9,979.4 L343.0,984.2 L343.2,979.8 L343.3,979.0 L343.5,980.2 L343.7,985.5 L343.8,977.8 L344.0,983.6 L344.1,983.3 L344.3,980.3 L344.5,982.1 L344.6,978.1 L344.8,982.5 L344.9,982.7 L345.1,979.8 L345.3,982.0 L345.4,981.7 L345.6,983.0 L345.7,983.3 L345.9,986.3 L346.1,981.4 L346.2,983.0 L346.4,983.8 L346.5,985.6 L346.7,981.9 L346.9,980.6 L347.0,979.1 L347.2,981.5 L347.3,977.7 L347.5,979.2 L347.7,983.3 L347.8,986.5 L348.0,984.9 L348.1,980.3 L348.3,984.6 L348.5,982.6 L348.6,980.6 L348.8,984.9 L348.9,983.9 L349.1,983.9 L349.3,983.2 L349.4,984.1 L349.6,981.1 L349.7,981.1 L349.9,980.5 L350.1,983.9 L350.2,984.1 L350.4,984.1 L350.5,981.1 L350.7,981.2 L350.9,981.8 L351.0,981.9 L351.2,981.3 L351.3,985.2 L351.5,982.3 L351.7,975.8 L351.8,980.5 L352.0,982.5 L352.1,982.3 L352.3,982.0 L352.5,981.4 L352.6,985.5 L352.8,980.1 L352.9,983.7 L353.1,984.1 L353.3,984.2 L353.4,987.1 L353.6,979.9 L353.7,980.5 L353.9,982.9 L354.1,983.2 L354.2,983.3 L354.4,980.4 L354.5,981.1 L354.7,985.7 L354.9,983.6 L355.0,983.6 L355.2,984.0 L355.3,986.2 L355.5,981.7 L355.7,982.8 L355.8,978.4 L356.0,981.2 L356.1,982.8 L356.3,983.5 L356.5,980.4 L356.6,978.9 L356.8,980.1 L356.9,977.2 L357.1,979.5 L357.3,981.7 L357.4,983.1 L357.6,985.4 L357.7,982.4 L357.9,980.2 L358.1,983.1 L358.2,981.1 L358.4,984.4 L358.5,984.5 L358.7,978.2 L358.9,981.4 L359.0,986.8 L359.2,984.8 L359.3,981.5 L359.5,974.8 L359.7,983.6 L359.8,982.9 L360.0,981.6 L360.1,983.9 L360.3,982.6 L360.5,983.3 L360.6,981.4 L360.8,981.6 L360.9,982.9 L361.1,981.2 L361.3,979.2 L361.4,979.1 L361.6,982.6 L361.7,980.0 L361.9,979.9 L362.1,979.2 L362.2,983.5 L362.4,977.0 L362.5,976.1 L362.7,982.3 L362.9,981.4 L363.0,985.3 L363.2,981.2 L363.3,978.5 L363.5,983.1 L363.7,982.6 L363.8,982.7 L364.0,982.7 L364.1,986.9 L364.3,981.0 L364.5,982.8 L364.6,981.7 L364.8,977.8 L364.9,979.0 L365.1,979.7 L365.3,981.1 L365.4,979.0 L365.6,985.1 L365.7,981.6 L365.9,977.7 L366.1,980.1 L366.2,981.9 L366.4,980.3 L366.5,979.3 L366.7,978.9 L366.9,981.7 L367.0,985.8 L367.2,975.3 L367.3,980.8 L367.5,981.8 L367.7,979.8 L367.8,986.8 L368.0,982.1 L368.1,977.7 L368.3,982.3 L368.5,978.9 L368.6,983.5 L368.8,981.7 L368.9,984.4 L369.1,979.4 L369.3,982.5 L369.4,985.4 L369.6,981.1 L369.7,979.3 L369.9,980.8 L370.1,982.2 L370.2,980.8 L370.4,982.7 L370.5,984.3 L370.7,979.7 L370.9,978.0 L371.0,979.5 L371.2,977.9 L371.3,979.8 L371.5,981.0 L371.7,977.6 L371.8,981.6 L372.0,981.4 L372.1,977.8 L372.3,980.5 L372.5,977.7 L372.6,982.8 L372.8,980.7 L372.9,982.5 L373.1,984.6 L373.3,982.9 L373.4,981.3 L373.6,982.3 L373.7,980.2 L373.9,981.2 L374.1,988.2 L374.2,980.0 L374.4,981.0 L374.5,981.8 L374.7,982.1 L374.9,982.9 L375.0,978.6 L375.2,980.1 L375.3,981.0 L375.5,981.9 L375.7,982.6 L375.8,982.1 L376.0,981.4 L376.1,979.1 L376.3,978.6 L376.5,978.5 L376.6,983.0 L376.8,984.7 L376.9,979.2 L377.1,975.1 L377.3,980.3 L377.4,981.6 L377.6,979.9 L377.7,980.6 L377.9,982.6 L378.1,981.9 L378.2,980.0 L378.4,978.1 L378.5,980.7 L378.7,983.5 L378.9,977.2 L379.0,984.5 L379.2,981.4 L379.3,984.4 L379.5,979.5 L379.7,979.2 L379.8,977.9 L380.0,981.5 L380.1,981.2 L380.3,980.4 L380.5,981.1 L380.6,981.9 L380.8,979.1 L380.9,983.0 L381.1,977.3 L381.3,979.8 L381.4,981.6 L381.6,980.2 L381.7,981.2 L381.9,977.2 L382.1,980.0 L382.2,980.6 L382.4,977.5 L382.5,982.0 L382.7,977.8 L382.9,978.8 L383.0,977.7 L383.2,981.0 L383.3,978.8 L383.5,982.6 L383.7,982.4 L383.8,979.7 L384.0,981.7 L384.1,984.5 L384.3,976.7 L384.5,976.5 L384.6,984.4 L384.8,978.4 L384.9,986.9 L385.1,982.3 L385.3,975.1 L385.4,982.3 L385.6,980.0 L385.7,980.5 L385.9,982.1 L386.1,978.8 L386.2,979.5 L386.4,980.5 L386.5,976.2 L386.7,979.4 L386.9,980.7 L387.0,980.1 L387.2,980.3 L387.3,980.0 L387.5,975.5 L387.7,977.9 L387.8,975.4 L388.0,980.5 L388.1,982.0 L388.3,980.1 L388.5,975.1 L388.6,978.8 L388.8,981.4 L388.9,980.7 L389.1,981.3 L389.3,981.4 L389.4,977.0 L389.6,979.9 L389.7,980.0 L389.9,977.0 L390.1,977.9 L390.2,978.9 L390.4,983.5 L390.5,981.4 L390.7,979.0 L390.9,979.1 L391.0,975.2 L391.2,978.9 L391.3,981.0 L391.5,977.7 L391.7,979.7 L391.8,981.6 L392.0,977.6 L392.1,974.7 L392.3,977.9 L392.5,977.7 L392.6,984.0 L392.8,977.6 L392.9,977.4 L393.1,979.8 L393.3,975.7 L393.4,976.5 L393.6,976.7 L393.7,976.5 L393.9,977.6 L394.1,976.9 L394.2,971.0 L394.4,978.7 L394.5,974.9 L394.7,977.3 L394.9,975.7 L395.0,976.6 L395.2,978.0 L395.3,974.2 L395.5,973.3 L395.7,974.9 L395.8,973.4 L396.0,977.3 L396.1,972.4 L396.3,971.1 L396.5,976.5 L396.6,969.9 L396.8,972.7 L396.9,968.9 L397.1,971.1 L397.3,972.4 L397.4,971.1 L397.6,966.1 L397.7,967.2 L397.9,967.4 L398.1,963.5 L398.2,965.7 L398.4,962.9 L398.5,960.8 L398.7,954.0 L398.9,951.3 L399.0,943.4 L399.2,939.1 L399.3,936.5 L399.5,926.5 L399.7,920.0 L399.8,908.0 L400.0,898.0 L400.1,884.7 L400.3,874.4 L400.5,857.5 L400.6,843.1 L400.8,826.8 L400.9,807.6 L401.1,790.3 L401.3,775.3 L401.4,756.9 L401.6,743.2 L401.7,731.4 L401.9,723.0 L402.1,719.3 L402.2,719.2 L402.4,726.2 L402.5,735.0 L402.7,747.7 L402.9,764.3 L403.0,782.7 L403.2,800.5 L403.3,818.0 L403.5,835.6 L403.7,852.4 L403.8,864.3 L404.0,878.3 L404.1,893.7 L404.3,907.4 L404.5,915.1 L404.6,922.3 L404.8,930.4 L404.9,937.0 L405.1,942.1 L405.3,945.7 L405.4,958.6 L405.6,955.7 L405.7,954.2 L405.9,960.6 L406.1,963.3 L406.2,965.6 L406.4,962.7 L406.5,962.0 L406.7,972.5 L406.9,965.2 L407.0,965.7 L407.2,970.0 L407.3,972.8 L407.5,973.1 L407.7,969.5 L407.8,971.9 L408.0,970.6 L408.1,972.7 L408.3,971.6 L408.5,979.2 L408.6,976.5 L408.8,973.7 L408.9,974.1 L409.1,977.9 L409.3,973.3 L409.4,974.6 L409.6,974.3 L409.7,975.6 L409.9,979.7 L410.1,974.5 L410.2,973.3 L410.4,973.7 L410.5,975.0 L410.7,973.4 L410.9,973.9 L411.0,974.9 L411.2,979.0 L411.3,977.7 L411.5,976.4 L411.7,978.2 L411.8,977.5 L412.0,977.3 L412.1,975.6 L412.3,979.5 L412.5,977.7 L412.6,977.4 L412.8,977.1 L412.9,978.3 L413.1,977.9 L413.3,975.3 L413.4,976.8 L413.6,975.5 L413.7,971.6 L413.9,975.4 L414.1,984.3 L414.2,974.4 L414.4,978.3 L414.5,980.3 L414.7,977.8 L414.9,978.4 L415.0,976.3 L415.2,977.0 L415.3,977.1 L415.5,976.1 L415.7,978.5 L415.8,980.3 L416.0,981.0 L416.1,982.9 L416.3,980.3 L416.5,986.5 L416.6,979.4 L416.8,976.5 L416.9,975.7 L417.1,979.7 L417.3,981.1 L417.4,981.3 L417.6,979.2 L417.7,982.3 L417.9,979.3 L418.1,978.3 L418.2,978.9 L418.4,979.4 L418.5,980.7 L418.7,976.4 L418.9,976.8 L419.0,982.0 L419.2,978.4 L419.3,982.0 L419.5,980.8 L419.7,980.0 L419.8,982.0 L420.0,978.9 L420.1,980.8 L420.3,981.1 L420.5,983.6 L420.6,977.0 L420.8,979.1 L420.9,982.7 L421.1,982.2 L421.3,982.3 L421.4,982.7 L421.6,977.7 L421.7,979.0 L421.9,982.3 L422.1,980.2 L422.2,976.8 L422.4,979.9 L422.5,979.7 L422.7,977.5 L422.9,977.7 L423.0,980.6 L423.2,980.1 L423.3,975.8 L423.5,976.1 L423.7,977.3 L423.8,977.9 L424.0,977.6 L424.1,975.6 L424.3,978.1 L424.5,972.4 L424.6,974.8 L424.8,976.5 L424.9,976.1 L425.1,975.3 L425.3,975.9 L425.4,975.1 L425.6,972.8 L425.7,976.2 L425.9,971.0 L426.1,975.9 L426.2,964.2 L426.4,968.1 L426.5,960.8 L426.7,957.4 L426.9,956.1 L427.0,949.5 L427.2,950.4 L427.3,947.4 L427.5,942.6 L427.7,939.7 L427.8,937.3 L428.0,933.9 L428.1,933.3 L428.3,931.7 L428.5,933.8 L428.6,934.4 L428.8,935.9 L428.9,941.0 L429.1,944.2 L429.3,945.5 L429.4,954.5 L429.6,954.1 L429.7,959.3 L429.9,967.0 L430.1,962.3 L430.2,964.5 L430.4,969.3 L430.5,964.4 L430.7,974.0 L430.9,970.7 L431.0,977.0 L431.2,977.4 L431.3,972.7 L431.5,972.8 L431.7,979.3 L431.8,971.6 L432.0,977.2 L432.1,978.5 L432.3,979.7 L432.5,978.0 L432.6,976.2 L432.8,980.2 L432.9,979.5 L433.1,981.1 L433.3,976.3 L433.4,982.5 L433.6,980.2 L433.7,978.3 L433.9,980.6 L434.1,979.0 L434.2,975.0 L434.4,977.8 L434.5,980.2 L434.7,980.2 L434.9,980.1 L435.0,977.8 L435.2,977.2 L435.3,978.7 L435.5,980.2 L435.7,979.5 L435.8,980.6 L436.0,978.3 L436.1,978.5 L436.3,978.5 L436.5,979.3 L436.6,978.6 L436.8,979.9 L436.9,979.0 L437.1,983.2 L437.3,978.4 L437.4,977.9 L437.6,981.1 L437.7,984.0 L437.9,979.8 L438.1,977.4 L438.2,982.0 L438.4,977.8 L438.5,980.1 L438.7,979.6 L438.9,977.5 L439.0,982.2 L439.2,981.1 L439.3,980.0 L439.5,981.0 L439.7,977.6 L439.8,979.7 L440.0,981.1 L440.1,982.0 L440.3,976.1 L440.5,981.5 L440.6,978.0 L440.8,975.5 L440.9,982.3 L441.1,983.0 L441.3,978.1 L441.4,982.4 L441.6,980.6 L441.7,982.4 L441.9,984.9 L442.1,983.4 L442.2,980.9 L442.4,977.9 L442.5,978.9 L442.7,979.8 L442.9,979.1 L443.0,981.4 L443.2,982.0 L443.3,984.9 L443.5,983.3 L443.7,977.6 L443.8,986.4 L444.0,980.6 L444.1,979.7 L444.3,976.5 L444.5,981.0 L444.6,986.1 L444.8,980.7 L444.9,982.0 L445.1,981.7 L445.3,983.2 L445.4,979.0 L445.6,978.8 L445.7,982.3 L445.9,983.0 L446.1,979.2 L446.2,981.7 L446.4,983.1 L446.5,981.6 L446.7,979.8 L446.9,985.7 L447.0,984.2 L447.2,982.3 L447.3,980.5 L447.5,977.8 L447.7,979.8 L447.8,980.9 L448.0,978.5 L448.1,983.2 L448.3,977.9 L448.5,984.7 L448.6,979.9 L448.8,979.0 L448.9,980.2 L449.1,982.0 L449.3,983.3 L449.4,978.2 L449.6,982.4 L449.7,978.9 L449.9,977.7 L450.1,978.1 L450.2,983.7 L450.4,977.6 L450.5,979.3 L450.7,980.9 L450.9,984.4 L451.0,975.8 L451.2,981.2 L451.3,981.2 L451.5,976.9 L451.7,979.7 L451.8,980.0 L452.0,982.1 L452.1,979.4 L452.3,979.5 L452.5,981.3 L452.6,983.4 L452.8,977.7 L452.9,980.9 L453.1,980.3 L453.3,980.7 L453.4,983.0 L453.6,979.4 L453.7,977.3 L453.9,980.3 L454.1,977.8 L454.2,984.7 L454.4,984.1 L454.5,978.3 L454.7,980.8 L454.9,976.9 L455.0,980.4 L455.2,979.7 L455.3,985.3 L455.5,982.0 L455.7,981.4 L455.8,983.5 L456.0,979.9 L456.1,982.4 L456.3,979.2 L456.5,979.4 L456.6,985.4 L456.8,974.2 L456.9,982.3 L457.1,979.1 L457.3,983.1 L457.4,979.0 L457.6,981.2 L457.7,977.6 L457.9,983.4 L458.1,979.1 L458.2,977.4 L458.4,973.2 L458.5,976.5 L458.7,982.5 L458.9,977.8 L459.0,977.7 L459.2,980.9 L459.3,980.4 L459.5,981.1 L459.7,980.1 L459.8,985.2 L460.0,978.0 L460.1,979.2 L460.3,980.2 L460.5,982.1 L460.6,984.4 L460.8,980.9 L460.9,982.8 L461.1,981.8 L461.3,987.9 L461.4,979.3 L461.6,984.2 L461.7,980.8 L461.9,981.4 L462.1,982.5 L462.2,983.9 L462.4,979.3 L462.5,980.5 L462.7,978.6 L462.9,974.4 L463.0,985.9 L463.2,981.2 L463.3,980.7 L463.5,977.3 L463.7,980.3 L463.8,981.7 L464.0,983.8 L464.1,981.6 L464.3,981.2 L464.5,978.3 L464.6,979.4 L464.8,980.9 L464.9,976.4 L465.1,979.6 L465.3,980.9 L465.4,984.7 L465.6,976.7 L465.7,977.6 L465.9,982.7 L466.1,970.3 L466.2,986.2 L466.4,981.4 L466.5,983.0 L466.7,982.3 L466.9,976.8 L467.0,982.3 L467.2,976.7 L467.3,980.3 L467.5,980.9 L467.7,981.4 L467.8,984.2 L468.0,981.0 L468.1,983.6 L468.3,981.6 L468.5,979.6 L468.6,982.7 L468.8,979.8 L468.9,982.8 L469.1,980.0 L469.3,980.1 L469.4,983.2 L469.6,976.5 L469.7,982.0 L469.9,979.7 L470.1,982.5 L470.2,982.4 L470.4,978.6 L470.5,982.0 L470.7,984.7 L470.9,979.9 L471.0,982.7 L471.2,986.6 L471.3,976.3 L471.5,980.4 L471.7,985.3 L471.8,980.5 L472.0,980.5 L472.1,978.4 L472.3,974.4 L472.5,982.7 L472.6,982.4 L472.8,983.9 L472.9,982.2 L473.1,978.5 L473.3,976.3 L473.4,981.5 L473.6,984.3 L473.7,981.8 L473.9,982.1 L474.1,985.0 L474.2,979.7 L474.4,980.5 L474.5,983.1 L474.7,979.9 L474.9,979.1 L475.0,979.9 L475.2,982.4 L475.3,979.0 L475.5,980.0 L475.7,981.6 L475.8,978.8 L476.0,979.5 L476.1,981.3 L476.3,981.4 L476.5,979.0 L476.6,979.5 L476.8,983.0 L476.9,979.7 L477.1,980.8 L477.3,980.5 L477.4,979.3 L477.6,982.5 L477.7,980.2 L477.9,976.7 L478.1,984.7 L478.2,980.3 L478.4,981.2 L478.5,981.6 L478.7,979.8 L478.9,978.3 L479.0,978.6 L479.2,979.4 L479.3,982.4 L479.5,980.1 L479.7,981.9 L479.8,975.3 L480.0,978.5 L480.1,981.2 L480.3,978.2 L480.5,982.5 L480.6,980.3 L480.8,980.1 L480.9,978.4 L481.1,980.4 L481.3,977.3 L481.4,983.0 L481.6,981.5 L481.7,980.1 L481.9,978.2 L482.1,981.8 L482.2,978.8 L482.4,983.2 L482.5,982.4 L482.7,979.1 L482.9,980.3 L483.0,985.0 L483.2,982.3 L483.3,983.1 L483.5,979.6 L483.7,982.6 L483.8,977.7 L484.0,982.3 L484.1,983.0 L484.3,980.3 L484.5,981.8 L484.6,979.9 L484.8,980.1 L484.9,981.4 L485.1,981.8 L485.3,981.2 L485.4,981.9 L485.6,978.4 L485.7,977.4 L485.9,981.8 L486.1,975.2 L486.2,976.9 L486.4,977.6 L486.5,982.5 L486.7,982.3 L486.9,988.0 L487.0,980.1 L487.2,980.0 L487.3,980.5 L487.5,977.5 L487.7,983.1 L487.8,978.6 L488.0,978.9 L488.1,981.2 L488.3,979.6 L488.5,981.9 L488.6,982.5 L488.8,982.6 L488.9,980.7 L489.1,978.8 L489.3,980.7 L489.4,978.2 L489.6,977.2 L489.7,977.1 L489.9,983.1 L490.1,977.5 L490.2,983.5 L490.4,980.6 L490.5,979.1 L490.7,980.9 L490.9,984.5 L491.0,977.4 L491.2,981.8 L491.3,979.6 L491.5,978.3 L491.7,975.9 L491.8,978.5 L492.0,978.5 L492.1,980.8 L492.3,982.8 L492.5,981.7 L492.6,980.1 L492.8,984.8 L492.9,979.3 L493.1,980.9 L493.3,980.0 L493.4,982.3 L493.6,981.9 L493.7,980.7 L493.9,982.2 L494.1,981.5 L494.2,979.3 L494.4,983.0 L494.5,979.6 L494.7,979.3 L494.9,982.5 L495.0,979.7 L495.2,980.9 L495.3,986.8 L495.5,982.9 L495.7,979.6 L495.8,979.6 L496.0,983.1 L496.1,981.7 L496.3,978.7 L496.5,982.4 L496.6,977.1 L496.8,986.2 L496.9,986.1 L497.1,984.7 L497.3,977.8 L497.4,982.3 L497.6,985.5 L497.7,981.9 L497.9,980.5 L498.1,984.0 L498.2,977.6 L498.4,980.7 L498.5,982.7 L498.7,979.8 L498.9,981.0 L499.0,983.0 L499.2,982.8 L499.3,980.7 L499.5,978.1 L499.7,977.3 L499.8,978.7 L500.0,979.6 L500.1,979.1 L500.3,987.4 L500.5,980.4 L500.6,980.5 L500.8,982.3 L500.9,977.8 L501.1,979.5 L501.3,982.2 L501.4,979.2 L501.6,983.2 L501.7,979.3 L501.9,981.4 L502.1,984.2 L502.2,983.4 L502.4,981.2 L502.5,981.2 L502.7,982.5 L502.9,979.9 L503.0,978.3 L503.2,985.0 L503.3,983.5 L503.5,981.5 L503.7,980.3 L503.8,978.2 L504.0,979.4 L504.1,980.0 L504.3,981.4 L504.5,982.8 L504.6,980.9 L504.8,981.7 L504.9,977.8 L505.1,981.1 L505.3,983.5 L505.4,979.2 L505.6,976.4 L505.7,982.4 L505.9,984.2 L506.1,982.5 L506.2,979.6 L506.4,982.2 L506.5,976.0 L506.7,980.9 L506.9,979.0 L507.0,983.4 L507.2,978.5 L507.3,985.5 L507.5,986.3 L507.7,985.2 L507.8,983.0 L508.0,977.7 L508.1,980.1 L508.3,983.0 L508.5,981.6 L508.6,979.3 L508.8,980.2 L508.9,978.8 L509.1,981.6 L509.3,980.5 L509.4,983.6 L509.6,982.3 L509.7,979.9 L509.9,983.9 L510.1,975.4 L510.2,977.3 L510.4,979.3 L510.5,981.9 L510.7,985.0 L510.9,982.5 L511.0,981.3 L511.2,980.6 L511.3,976.5 L511.5,979.2 L511.7,983.1 L511.8,981.3 L512.0,979.2 L512.1,980.5 L512.3,979.0 L512.5,976.1 L512.6,980.0 L512.8,979.1 L512.9,977.7 L513.1,980.0 L513.3,979.8 L513.4,980.8 L513.6,980.5 L513.7,980.9 L513.9,979.4 L514.1,978.7 L514.2,980.2 L514.4,980.4 L514.5,982.6 L514.7,980.5 L514.9,978.8 L515.0,982.2 L515.2,980.2 L515.3,982.2 L515.5,985.2 L515.7,982.1 L515.8,977.3 L516.0,978.1 L516.1,982.3 L516.3,976.4 L516.5,979.1 L516.6,980.6 L516.8,978.0 L516.9,978.1 L517.1,979.9 L517.3,979.2 L517.4,978.8 L517.6,981.2 L517.7,978.4 L517.9,979.4 L518.1,982.8 L518.2,981.9 L518.4,979.9 L518.5,979.3 L518.7,980.4 L518.9,980.2 L519.0,976.7 L519.2,977.8 L519.3,982.1 L519.5,977.3 L519.7,983.3 L519.8,981.0 L520.0,979.3 L520.1,978.2 L520.3,979.5 L520.5,981.0 L520.6,980.2 L520.8,982.1 L520.9,980.0 L521.1,977.4 L521.3,980.0 L521.4,980.4 L521.6,978.3 L521.7,976.3 L521.9,976.5 L522.1,979.4 L522.2,975.9 L522.4,981.8 L522.5,979.3 L522.7,973.2 L522.9,974.6 L523.0,976.9 L523.2,973.6 L523.3,975.7 L523.5,977.7 L523.7,976.7 L523.8,972.1 L524.0,975.7 L524.1,975.5 L524.3,970.7 L524.5,972.7 L524.6,968.6 L524.8,965.5 L524.9,969.6 L525.1,967.6 L525.3,960.6 L525.4,954.5 L525.6,959.4 L525.7,953.0 L525.9,951.4 L526.1,945.1 L526.2,944.0 L526.4,940.7 L526.5,935.9 L526.7,933.1 L526.9,929.9 L527.0,928.5 L527.2,926.9 L527.3,927.3 L527.5,927.9 L527.7,931.3 L527.8,934.6 L528.0,937.2 L528.1,943.6 L528.3,945.7 L528.5,954.8 L528.6,954.4 L528.8,954.9 L528.9,959.4 L529.1,963.7 L529.3,966.8 L529.4,969.8 L529.6,967.1 L529.7,971.9 L529.9,970.8 L530.1,974.2 L530.2,972.6 L530.4,973.6 L530.5,975.2 L530.7,973.5 L530.9,975.5 L531.0,976.8 L531.2,972.1 L531.3,975.4 L531.5,975.8 L531.7,979.5 L531.8,977.9 L532.0,977.5 L532.1,976.1 L532.3,978.9 L532.5,977.4 L532.6,980.5 L532.8,977.7 L532.9,978.4 L533.1,980.0 L533.3,979.8 L533.4,972.3 L533.6,979.3 L533.7,978.8 L533.9,974.8 L534.1,976.3 L534.2,981.4 L534.4,980.0 L534.5,978.2 L534.7,981.5 L534.9,975.4 L535.0,982.6 L535.2,978.2 L535.3,983.0 L535.5,978.7 L535.7,978.5 L535.8,980.3 L536.0,979.1 L536.1,982.1 L536.3,981.6 L536.5,979.0 L536.6,979.4 L536.8,979.9 L536.9,983.9 L537.1,979.8 L537.3,982.3 L537.4,979.9 L537.6,978.1 L537.7,976.2 L537.9,980.5 L538.1,981.1 L538.2,980.6 L538.4,983.0 L538.5,981.8 L538.7,984.3 L538.9,981.6 L539.0,978.0 L539.2,982.7 L539.3,977.7 L539.5,979.8 L539.7,977.2 L539.8,982.3 L540.0,983.5 L540.1,977.0 L540.3,978.1 L540.5,978.6 L540.6,975.8 L540.8,979.9 L540.9,979.5 L541.1,977.0 L541.3,974.9 L541.4,976.7 L541.6,980.7 L541.7,976.6 L541.9,980.1 L542.1,980.7 L542.2,981.7 L542.4,980.0 L542.5,980.6 L542.7,983.5 L542.9,978.8 L543.0,980.2 L543.2,983.1 L543.3,977.5 L543.5,981.6 L543.7,974.2 L543.8,976.5 L544.0,976.5 L544.1,979.7 L544.3,980.2 L544.5,974.9 L544.6,984.5 L544.8,985.1 L544.9,983.2 L545.1,979.8 L545.3,981.4 L545.4,978.6 L545.6,979.0 L545.7,978.5 L545.9,981.0 L546.1,979.1 L546.2,979.2 L546.4,984.4 L546.5,979.5 L546.7,981.7 L546.9,981.2 L547.0,979.3 L547.2,978.5 L547.3,983.0 L547.5,979.1 L547.7,981.9 L547.8,979.4 L548.0,978.7 L548.1,983.8 L548.3,976.3 L548.5,978.7 L548.6,979.0 L548.8,981.3 L548.9,978.8 L549.1,980.6 L549.3,981.9 L549.4,984.9 L549.6,982.6 L549.7,977.1 L549.9,984.3 L550.1,980.3 L550.2,978.1 L550.4,980.9 L550.5,978.1 L550.7,979.4 L550.9,978.2 L551.0,979.2 L551.2,974.6 L551.3,983.2 L551.5,980.4 L551.7,982.2 L551.8,981.2 L552.0,980.1 L552.1,983.4 L552.3,983.3 L552.5,979.5 L552.6,982.2 L552.8,979.5 L552.9,979.2 L553.1,981.3 L553.3,980.5 L553.4,980.0 L553.6,975.6 L553.7,978.3 L553.9,980.5 L554.1,981.9 L554.2,981.8 L554.4,979.0 L554.5,981.4 L554.7,977.4 L554.9,981.3 L555.0,984.6 L555.2,979.7 L555.3,977.9 L555.5,982.7 L555.7,980.0 L555.8,980.3 L556.0,981.5 L556.1,979.5 L556.3,981.9 L556.5,978.6 L556.6,978.5 L556.8,980.9 L556.9,981.3 L557.1,980.8 L557.3,981.8 L557.4,980.1 L557.6,978.8 L557.7,981.3 L557.9,976.6 L558.1,980.2 L558.2,982.5 L558.4,981.5 L558.5,982.9 L558.7,979.7 L558.9,979.7 L559.0,979.1 L559.2,979.1 L559.3,980.7 L559.5,982.5 L559.7,980.2 L559.8,983.9 L560.0,981.3 L560.1,975.6 L560.3,981.8 L560.5,978.2 L560.6,980.5 L560.8,978.6 L560.9,979.0 L561.1,985.0 L561.3,982.7 L561.4,979.5 L561.6,978.5 L561.7,979.4 L561.9,978.8 L562.1,981.7 L562.2,982.9 L562.4,976.7 L562.5,981.3 L562.7,980.1 L562.9,979.7 L563.0,982.1 L563.2,978.5 L563.3,978.3 L563.5,980.1 L563.7,978.6 L563.8,979.1 L564.0,982.1 L564.1,977.3 L564.3,983.1 L564.5,983.4 L564.6,978.9 L564.8,981.8 L564.9,977.9 L565.1,979.7 L565.3,979.3 L565.4,978.4 L565.6,982.5 L565.7,981.9 L565.9,982.5 L566.1,976.8 L566.2,980.1 L566.4,979.3 L566.5,976.8 L566.7,982.8 L566.9,980.5 L567.0,981.2 L567.2,983.8 L567.3,979.1 L567.5,984.0 L567.7,976.1 L567.8,983.6 L568.0,982.2 L568.1,977.7 L568.3,977.4 L568.5,986.3 L568.6,979.0 L568.8,983.1 L568.9,981.3 L569.1,980.7 L569.3,980.0 L569.4,977.5 L569.6,977.7 L569.7,978.5 L569.9,982.5 L570.1,975.9 L570.2,977.8 L570.4,981.3 L570.5,980.0 L570.7,979.1 L570.9,978.0 L571.0,976.2 L571.2,978.4 L571.3,977.5 L571.5,979.0 L571.7,978.0 L571.8,976.6 L572.0,983.2 L572.1,975.3 L572.3,981.9 L572.5,979.1 L572.6,978.7 L572.8,977.2 L572.9,977.8 L573.1,979.0 L573.3,975.2 L573.4,982.3 L573.6,980.3 L573.7,979.9 L573.9,979.8 L574.1,982.5 L574.2,979.9 L574.4,981.7 L574.5,978.4 L574.7,983.9 L574.9,978.4 L575.0,977.4 L575.2,978.3 L575.3,982.0 L575.5,983.5 L575.7,980.7 L575.8,984.8 L576.0,977.5 L576.1,978.1 L576.3,978.7 L576.5,982.9 L576.6,977.6 L576.8,979.8 L576.9,977.1 L577.1,980.2 L577.3,977.8 L577.4,986.7 L577.6,981.6 L577.7,978.5 L577.9,981.7 L578.1,979.6 L578.2,978.2 L578.4,980.9 L578.5,976.2 L578.7,983.1 L578.9,982.5 L579.0,977.0 L579.2,979.3 L579.3,975.2 L579.5,980.9 L579.7,980.8 L579.8,980.1 L580.0,978.3 L580.1,979.4 L580.3,977.9 L580.5,978.9 L580.6,977.9 L580.8,977.9 L580.9,977.8 L581.1,973.5 L581.3,977.5 L581.4,981.4 L581.6,982.7 L581.7,978.0 L581.9,979.4 L582.1,982.2 L582.2,975.5 L582.4,980.1 L582.5,975.2 L582.7,980.1 L582.9,978.6 L583.0,978.8 L583.2,978.5 L583.3,983.5 L583.5,972.8 L583.7,975.6 L583.8,979.5 L584.0,979.5 L584.1,977.1 L584.3,979.6 L584.5,978.8 L584.6,979.0 L584.8,981.4 L584.9,976.6 L585.1,979.1 L585.3,980.7 L585.4,977.3 L585.6,981.4 L585.7,976.4 L585.9,974.5 L586.1,975.8 L586.2,978.5 L586.4,980.6 L586.5,977.2 L586.7,977.9 L586.9,977.9 L587.0,979.4 L587.2,975.5 L587.3,977.4 L587.5,975.5 L587.7,978.6 L587.8,979.4 L588.0,972.1 L588.1,977.8 L588.3,976.7 L588.5,978.7 L588.6,975.2 L588.8,976.8 L588.9,973.8 L589.1,978.3 L589.3,981.7 L589.4,976.8 L589.6,979.6 L589.7,979.5 L589.9,975.0 L590.1,975.6 L590.2,975.6 L590.4,977.4 L590.5,973.1 L590.7,976.1 L590.9,972.1 L591.0,975.3 L591.2,973.3 L591.3,969.0 L591.5,971.7 L591.7,973.3 L591.8,971.3 L592.0,971.7 L592.1,979.8 L592.3,966.8 L592.5,967.3 L592.6,966.4 L592.8,967.2 L592.9,965.0 L593.1,964.4 L593.3,961.5 L593.4,960.1 L593.6,964.5 L593.7,963.7 L593.9,955.0 L594.1,952.8 L594.2,945.4 L594.4,944.7 L594.5,943.2 L594.7,937.7 L594.9,931.1 L595.0,929.3 L595.2,924.7 L595.3,912.3 L595.5,903.9 L595.7,898.8 L595.8,891.7 L596.0,883.0 L596.1,877.6 L596.3,873.7 L596.5,870.3 L596.6,868.7 L596.8,871.1 L596.9,873.4 L597.1,880.3 L597.3,885.4 L597.4,890.3 L597.6,898.7 L597.7,908.4 L597.9,917.3 L598.1,921.7 L598.2,926.6 L598.4,937.7 L598.5,935.0 L598.7,944.9 L598.9,942.9 L599.0,945.9 L599.2,950.6 L599.3,957.8 L599.5,958.9 L599.7,959.9 L599.8,963.1 L600.0,962.0 L600.1,968.6 L600.3,966.5 L600.5,968.5 L600.6,965.1 L600.8,968.7 L600.9,966.9 L601.1,972.0 L601.3,967.2 L601.4,973.2 L601.6,974.5 L601.7,973.8 L601.9,975.8 L602.1,976.8 L602.2,972.8 L602.4,972.7 L602.5,973.0 L602.7,974.4 L602.9,974.1 L603.0,974.3 L603.2,979.1 L603.3,975.4 L603.5,974.4 L603.7,979.1 L603.8,973.1 L604.0,975.8 L604.1,977.4 L604.3,977.7 L604.5,973.4 L604.6,973.2 L604.8,973.7 L604.9,974.7 L605.1,979.5 L605.3,976.6 L605.4,977.7 L605.6,975.0 L605.7,975.8 L605.9,978.6 L606.1,978.0 L606.2,976.5 L606.4,979.5 L606.5,975.9 L606.7,976.0 L606.9,976.3 L607.0,976.0 L607.2,979.3 L607.3,974.0 L607.5,978.5 L607.7,973.2 L607.8,973.5 L608.0,977.5 L608.1,978.2 L608.3,977.2 L608.5,972.8 L608.6,980.3 L608.8,980.1 L608.9,975.6 L609.1,980.6 L609.3,976.1 L609.4,977.6 L609.6,975.7 L609.7,975.1 L609.9,973.9 L610.1,976.8 L610.2,979.0 L610.4,976.6 L610.5,979.9 L610.7,979.3 L610.9,980.8 L611.0,979.7 L611.2,977.3 L611.3,977.8 L611.5,976.8 L611.7,975.1 L611.8,974.2 L612.0,980.9 L612.1,974.7 L612.3,978.0 L612.5,982.7 L612.6,977.0 L612.8,975.1 L612.9,977.2 L613.1,979.8 L613.3,973.8 L613.4,973.8 L613.6,974.5 L613.7,977.3 L613.9,977.1 L614.1,973.7 L614.2,975.0 L614.4,976.6 L614.5,971.5 L614.7,973.6 L614.9,974.5 L615.0,974.7 L615.2,974.3 L615.3,968.9 L615.5,971.4 L615.7,969.6 L615.8,970.7 L616.0,970.3 L616.1,968.1 L616.3,967.8 L616.5,971.0 L616.6,968.8 L616.8,965.0 L616.9,961.0 L617.1,963.3 L617.3,954.6 L617.4,949.3 L617.6,949.6 L617.7,944.6 L617.9,934.8 L618.1,936.4 L618.2,933.1 L618.4,928.4 L618.5,924.6 L618.7,920.2 L618.9,915.8 L619.0,910.9 L619.2,909.7 L619.3,909.0 L619.5,908.1 L619.7,909.7 L619.8,912.9 L620.0,916.9 L620.1,920.7 L620.3,925.9 L620.5,928.9 L620.6,932.2 L620.8,938.4 L620.9,942.8 L621.1,947.3 L621.3,949.8 L621.4,951.9 L621.6,957.3 L621.7,960.4 L621.9,960.8 L622.1,962.4 L622.2,965.1 L622.4,965.1 L622.5,968.8 L622.7,967.5 L622.9,965.2 L623.0,974.7 L623.2,972.2 L623.3,974.0 L623.5,972.1 L623.7,972.3 L623.8,973.7 L624.0,974.2 L624.1,973.9 L624.3,972.6 L624.5,976.3 L624.6,975.3 L624.8,979.9 L624.9,972.3 L625.1,975.0 L625.3,976.0 L625.4,971.9 L625.6,974.5 L625.7,972.0 L625.9,975.3 L626.1,977.2 L626.2,977.3 L626.4,979.6 L626.5,977.8 L626.7,979.7 L626.9,978.7 L627.0,972.5 L627.2,978.0 L627.3,974.2 L627.5,979.4 L627.7,980.9 L627.8,981.2 L628.0,978.9 L628.1,978.2 L628.3,975.1 L628.5,980.0 L628.6,978.9 L628.8,977.8 L628.9,975.4 L629.1,975.3 L629.3,977.4 L629.4,980.5 L629.6,978.5 L629.7,976.6 L629.9,980.5 L630.1,981.2 L630.2,979.3 L630.4,978.2 L630.5,979.4 L630.7,978.5 L630.9,980.2 L631.0,976.4 L631.2,981.8 L631.3,979.1 L631.5,984.3 L631.7,974.2 L631.8,977.0 L632.0,975.6 L632.1,979.2 L632.3,980.0 L632.5,977.8 L632.6,979.6 L632.8,979.6 L632.9,977.4 L633.1,979.1 L633.3,976.5 L633.4,978.2 L633.6,977.9 L633.7,977.6 L633.9,976.8 L634.1,980.0 L634.2,979.2 L634.4,983.4 L634.5,974.4 L634.7,979.0 L634.9,979.5 L635.0,980.6 L635.2,979.9 L635.3,984.7 L635.5,977.6 L635.7,975.6 L635.8,980.7 L636.0,977.5 L636.1,979.7 L636.3,978.7 L636.5,984.2 L636.6,977.1 L636.8,983.1 L636.9,980.5 L637.1,979.9 L637.3,979.7 L637.4,977.1 L637.6,979.6 L637.7,979.8 L637.9,978.7 L638.1,976.6 L638.2,978.3 L638.4,979.0 L638.5,979.1 L638.7,976.2 L638.9,979.9 L639.0,982.2 L639.2,979.2 L639.3,982.9 L639.5,980.2 L639.7,978.5 L639.8,977.2 L640.0,976.8 L640.1,977.9 L640.3,979.1 L640.5,977.1 L640.6,979.0 L640.8,983.6 L640.9,975.1 L641.1,980.2 L641.3,979.9 L641.4,980.5 L641.6,980.9 L641.7,979.6 L641.9,978.8 L642.1,979.1 L642.2,977.6 L642.4,978.0 L642.5,979.8 L642.7,979.8 L642.9,980.0 L643.0,978.0 L643.2,976.9 L643.3,984.5 L643.5,980.8 L643.7,981.7 L643.8,980.2 L644.0,981.4 L644.1,982.0 L644.3,982.9 L644.5,979.6 L644.6,980.9 L644.8,981.7 L644.9,976.2 L645.1,979.7 L645.3,980.6 L645.4,977.7 L645.6,978.4 L645.7,982.3 L645.9,980.7 L646.1,979.6 L646.2,978.5 L646.4,980.2 L646.5,987.5 L646.7,980.1 L646.9,977.5 L647.0,976.0 L647.2,982.2 L647.3,980.9 L647.5,977.6 L647.7,983.0 L647.8,982.7 L648.0,978.0 L648.1,978.1 L648.3,980.7 L648.5,979.7 L648.6,980.9 L648.8,984.3 L648.9,978.4 L649.1,980.4 L649.3,976.8 L649.4,981.3 L649.6,982.3 L649.7,973.4 L649.9,977.0 L650.1,980.6 L650.2,976.1 L650.4,979.9 L650.5,981.1 L650.7,980.1 L650.9,981.4 L651.0,979.6 L651.2,982.3 L651.3,979.1 L651.5,978.7 L651.7,977.6 L651.8,975.7 L652.0,979.5 L652.1,979.8 L652.3,979.3 L652.5,977.5 L652.6,978.8 L652.8,983.8 L652.9,980.2 L653.1,982.6 L653.3,980.8 L653.4,978.8 L653.6,984.9 L653.7,977.7 L653.9,975.9 L654.1,978.3 L654.2,980.3 L654.4,981.6 L654.5,980.4 L654.7,978.5 L654.9,983.0 L655.0,980.6 L655.2,980.2 L655.3,978.7 L655.5,983.7 L655.7,982.7 L655.8,977.9 L656.0,982.6 L656.1,980.4 L656.3,979.2 L656.5,982.5 L656.6,978.4 L656.8,980.1 L656.9,982.7 L657.1,980.3 L657.3,976.7 L657.4,978.3 L657.6,980.4 L657.7,978.2 L657.9,980.0 L658.1,981.5 L658.2,978.6 L658.4,977.0 L658.5,980.6 L658.7,983.7 L658.9,979.6 L659.0,980.9 L659.2,981.1 L659.3,980.7 L659.5,977.0 L659.7,981.0 L659.8,981.2 L660.0,976.7 L660.1,980.9 L660.3,978.1 L660.5,977.4 L660.6,977.9 L660.8,982.4 L660.9,982.0 L661.1,980.3 L661.3,983.7 L661.4,978.2 L661.6,981.9 L661.7,978.8 L661.9,975.1 L662.1,983.3 L662.2,980.5 L662.4,976.6 L662.5,979.0 L662.7,981.0 L662.9,979.0 L663.0,981.6 L663.2,976.3 L663.3,984.8 L663.5,979.5 L663.7,978.1 L663.8,978.6 L664.0,978.3 L664.1,976.1 L664.3,977.2 L664.5,980.2 L664.6,981.6 L664.8,977.0 L664.9,980.7 L665.1,978.8 L665.3,984.9 L665.4,981.2 L665.6,981.5 L665.7,980.6 L665.9,980.9 L666.1,979.3 L666.2,978.0 L666.4,983.6 L666.5,983.0 L666.7,982.3 L666.9,977.4 L667.0,979.8 L667.2,981.4 L667.3,980.0 L667.5,975.7 L667.7,979.7 L667.8,976.7 L668.0,977.2 L668.1,981.0 L668.3,972.5 L668.5,982.4 L668.6,977.3 L668.8,978.6 L668.9,979.3 L669.1,978.8 L669.3,979.1 L669.4,977.9 L669.6,980.0 L669.7,977.2 L669.9,979.5 L670.1,979.7 L670.2,979.1 L670.4,982.5 L670.5,979.3 L670.7,978.4 L670.9,984.6 L671.0,983.0 L671.2,981.0 L671.3,979.1 L671.5,983.2 L671.7,980.5 L671.8,979.4 L672.0,979.4 L672.1,981.8 L672.3,980.4 L672.5,978.3 L672.6,974.7 L672.8,981.4 L672.9,979.8 L673.1,981.6 L673.3,980.2 L673.4,981.9 L673.6,980.9 L673.7,979.6 L673.9,979.3 L674.1,975.3 L674.2,976.1 L674.4,984.4 L674.5,977.6 L674.7,978.1 L674.9,984.4 L675.0,980.3 L675.2,975.0 L675.3,973.7 L675.5,975.6 L675.7,978.6 L675.8,981.5 L676.0,980.6 L676.1,978.3 L676.3,981.5 L676.5,976.3 L676.6,978.7 L676.8,982.1 L676.9,985.9 L677.1,978.0 L677.3,977.1 L677.4,980.0 L677.6,980.1 L677.7,981.3 L677.9,980.9 L678.1,983.3 L678.2,984.0 L678.4,981.1 L678.5,977.3 L678.7,979.0 L678.9,980.0 L679.0,979.1 L679.2,982.4 L679.3,981.1 L679.5,980.2 L679.7,979.6 L679.8,981.8 L680.0,977.8 L680.1,976.8 L680.3,978.5 L680.5,977.2 L680.6,978.3 L680.8,973.8 L680.9,979.3 L681.1,977.9 L681.3,981.2 L681.4,981.7 L681.6,980.8 L681.7,975.8 L681.9,979.9 L682.1,980.1 L682.2,976.9 L682.4,980.5 L682.5,977.5 L682.7,975.9 L682.9,980.4 L683.0,978.2 L683.2,984.3 L683.3,979.9 L683.5,978.2 L683.7,979.7 L683.8,979.4 L684.0,979.0 L684.1,977.2 L684.3,977.5 L684.5,982.9 L684.6,977.5 L684.8,983.1 L684.9,977.5 L685.1,981.2 L685.3,979.3 L685.4,982.5 L685.6,979.5 L685.7,979.4 L685.9,978.1 L686.1,979.8 L686.2,980.7 L686.4,981.3 L686.5,978.8 L686.7,979.1 L686.9,978.9 L687.0,974.4 L687.2,979.7 L687.3,974.1 L687.5,979.2 L687.7,977.8 L687.8,978.0 L688.0,978.9 L688.1,976.2 L688.3,979.1 L688.5,982.7 L688.6,982.7 L688.8,983.2 L688.9,981.7 L689.1,980.1 L689.3,983.5 L689.4,979.0 L689.6,982.9 L689.7,980.3 L689.9,979.4 L690.1,977.0 L690.2,979.7 L690.4,983.3 L690.5,979.7 L690.7,978.2 L690.9,979.4 L691.0,978.0 L691.2,978.7 L691.3,977.0 L691.5,980.5 L691.7,978.0 L691.8,978.4 L692.0,978.6 L692.1,975.0 L692.3,982.0 L692.5,982.6 L692.6,977.1 L692.8,984.5 L692.9,978.7 L693.1,977.5 L693.3,979.2 L693.4,979.5 L693.6,977.2 L693.7,979.4 L693.9,975.4 L694.1,981.6 L694.2,976.8 L694.4,974.8 L694.5,978.1 L694.7,975.2 L694.9,980.2 L695.0,981.6 L695.2,975.4 L695.3,975.9 L695.5,975.2 L695.7,975.1 L695.8,975.7 L696.0,977.5 L696.1,974.3 L696.3,979.4 L696.5,982.7 L696.6,975.1 L696.8,977.4 L696.9,976.0 L697.1,971.3 L697.3,972.6 L697.4,981.2 L697.6,976.8 L697.7,980.6 L697.9,977.0 L698.1,978.7 L698.2,979.2 L698.4,975.4 L698.5,979.6 L698.7,979.4 L698.9,975.6 L699.0,976.2 L699.2,973.2 L699.3,979.5 L699.5,973.5 L699.7,975.6 L699.8,974.0 L700.0,974.1 L700.1,977.1 L700.3,975.2 L700.5,977.2 L700.6,974.3 L700.8,976.7 L700.9,971.3 L701.1,971.8 L701.3,965.3 L701.4,975.7 L701.6,974.9 L701.7,969.1 L701.9,969.6 L702.1,971.1 L702.2,968.5 L702.4,973.5 L702.5,974.0 L702.7,969.9 L702.9,969.4 L703.0,967.5 L703.2,964.2 L703.3,962.9 L703.5,963.8 L703.7,964.1 L703.8,966.1 L704.0,960.5 L704.1,961.7 L704.3,967.4 L704.5,961.9 L704.6,958.0 L704.8,955.7 L704.9,945.5 L705.1,947.3 L705.3,945.9 L705.4,941.9 L705.6,939.9 L705.7,936.1 L705.9,930.5 L706.1,922.4 L706.2,918.0 L706.4,911.4 L706.5,908.3 L706.7,900.8 L706.9,895.2 L707.0,887.5 L707.2,879.8 L707.3,876.3 L707.5,871.9 L707.7,869.3 L707.8,868.5 L708.0,871.2 L708.1,873.1 L708.3,876.7 L708.5,882.3 L708.6,888.8 L708.8,895.1 L708.9,901.4 L709.1,907.4 L709.3,915.7 L709.4,919.5 L709.6,929.0 L709.7,928.7 L709.9,929.1 L710.1,937.1 L710.2,944.0 L710.4,946.7 L710.5,950.5 L710.7,953.4 L710.9,958.0 L711.0,954.8 L711.2,960.5 L711.3,960.1 L711.5,960.3 L711.7,966.1 L711.8,967.1 L712.0,961.1 L712.1,967.9 L712.3,968.6 L712.5,964.5 L712.6,966.4 L712.8,968.3 L712.9,969.0 L713.1,972.3 L713.3,973.3 L713.4,967.9 L713.6,965.2 L713.7,969.9 L713.9,973.1 L714.1,973.3 L714.2,976.1 L714.4,976.2 L714.5,976.2 L714.7,971.2 L714.9,977.2 L715.0,972.2 L715.2,981.6 L715.3,977.0 L715.5,976.3 L715.7,976.9 L715.8,976.7 L716.0,975.1 L716.1,972.5 L716.3,977.9 L716.5,977.3 L716.6,977.5 L716.8,975.6 L716.9,978.6 L717.1,975.0 L717.3,973.5 L717.4,979.2 L717.6,976.1 L717.7,975.3 L717.9,975.9 L718.1,980.6 L718.2,977.9 L718.4,976.1 L718.5,974.9 L718.7,975.3 L718.9,977.0 L719.0,974.0 L719.2,976.7 L719.3,976.8 L719.5,974.8 L719.7,976.0 L719.8,975.6 L720.0,977.9 L720.1,981.4 L720.3,985.4 L720.5,975.5 L720.6,977.6 L720.8,979.2 L720.9,977.2 L721.1,974.5 L721.3,975.1 L721.4,975.9 L721.6,975.5 L721.7,978.5 L721.9,978.0 L722.1,976.2 L722.2,981.8 L722.4,977.7 L722.5,982.2 L722.7,977.5 L722.9,978.8 L723.0,977.5 L723.2,977.8 L723.3,976.0 L723.5,975.4 L723.7,976.2 L723.8,980.1 L724.0,980.3 L724.1,980.4 L724.3,975.5 L724.5,981.9 L724.6,979.5 L724.8,976.3 L724.9,977.9 L725.1,978.1 L725.3,979.1 L725.4,973.9 L725.6,975.1 L725.7,980.0 L725.9,979.8 L726.1,976.5 L726.2,978.5 L726.4,980.8 L726.5,978.8 L726.7,978.0 L726.9,974.7 L727.0,976.1 L727.2,979.8 L727.3,978.8 L727.5,979.7 L727.7,976.3 L727.8,973.2 L728.0,977.3 L728.1,977.7 L728.3,978.1 L728.5,982.0 L728.6,981.9 L728.8,979.6 L728.9,979.0 L729.1,979.6 L729.3,978.4 L729.4,981.4 L729.6,975.2 L729.7,980.7 L729.9,979.7 L730.1,978.2 L730.2,975.3 L730.4,979.6 L730.5,974.3 L730.7,976.1 L730.9,978.6 L731.0,978.4 L731.2,978.8 L731.3,975.7 L731.5,978.8 L731.7,982.8 L731.8,978.9 L732.0,976.8 L732.1,977.0 L732.3,977.5 L732.5,982.3 L732.6,980.1 L732.8,982.3 L732.9,979.9 L733.1,982.8 L733.3,974.8 L733.4,975.3 L733.6,979.5 L733.7,980.2 L733.9,976.3 L734.1,977.3 L734.2,976.9 L734.4,980.5 L734.5,977.0 L734.7,976.5 L734.9,977.6 L735.0,977.1 L735.2,979.3 L735.3,978.8 L735.5,980.9 L735.7,977.7 L735.8,978.1 L736.0,977.0 L736.1,983.9 L736.3,977.2 L736.5,980.4 L736.6,980.3 L736.8,974.8 L736.9,980.8 L737.1,980.0 L737.3,977.3 L737.4,975.5 L737.6,978.1 L737.7,977.9 L737.9,976.7 L738.1,977.0 L738.2,980.1 L738.4,977.2 L738.5,976.6 L738.7,979.3 L738.9,982.1 L739.0,976.6 L739.2,976.4 L739.3,982.1 L739.5,974.2 L739.7,978.3 L739.8,982.0 L740.0,978.8 L740.1,977.6 L740.3,979.1 L740.5,980.6 L740.6,977.4 L740.8,979.0 L740.9,977.9 L741.1,980.1 L741.3,979.7 L741.4,977.5 L741.6,978.8 L741.7,979.5 L741.9,981.9 L742.1,979.0 L742.2,977.2 L742.4,979.3 L742.5,983.7 L742.7,982.1 L742.9,982.3 L743.0,976.0 L743.2,983.7 L743.3,980.3 L743.5,979.8 L743.7,979.3 L743.8,980.4 L744.0,974.6 L744.1,981.4 L744.3,976.0 L744.5,983.0 L744.6,979.8 L744.8,977.6 L744.9,976.8 L745.1,978.5 L745.3,982.6 L745.4,979.1 L745.6,979.4 L745.7,977.2 L745.9,982.7 L746.1,978.5 L746.2,977.6 L746.4,980.5 L746.5,977.7 L746.7,978.5 L746.9,975.2 L747.0,975.3 L747.2,980.3 L747.3,977.2 L747.5,980.3 L747.7,980.1 L747.8,980.6 L748.0,980.6 L748.1,981.5 L748.3,978.7 L748.5,978.2 L748.6,981.5 L748.8,976.4 L748.9,976.9 L749.1,976.1 L749.3,977.2 L749.4,981.9 L749.6,982.1 L749.7,978.0 L749.9,975.7 L750.1,977.2 L750.2,979.4 L750.4,982.6 L750.5,978.5 L750.7,981.2 L750.9,980.8 L751.0,975.7 L751.2,981.6 L751.3,982.0 L751.5,980.3 L751.7,978.8 L751.8,981.8 L752.0,980.3 L752.1,979.4 L752.3,980.0 L752.5,982.4 L752.6,976.8 L752.8,978.5 L752.9,977.9 L753.1,979.6 L753.3,979.3 L753.4,978.1 L753.6,979.5 L753.7,978.4 L753.9,981.9 L754.1,981.5 L754.2,978.8 L754.4,979.1 L754.5,977.6 L754.7,976.9 L754.9,979.9 L755.0,981.1 L755.2,974.5 L755.3,976.6 L755.5,981.3 L755.7,982.0 L755.8,976.7 L756.0,976.2 L756.1,975.5 L756.3,981.2 L756.5,979.1 L756.6,978.5 L756.8,976.8 L756.9,980.4 L757.1,977.6 L757.3,981.8 L757.4,978.2 L757.6,982.0 L757.7,979.8 L757.9,978.9 L758.1,977.9 L758.2,982.5 L758.4,981.5 L758.5,976.3 L758.7,982.4 L758.9,975.5 L759.0,979.8 L759.2,980.1 L759.3,978.5 L759.5,976.1 L759.7,976.3 L759.8,980.4 L760.0,976.6 L760.1,978.4 L760.3,978.8 L760.5,976.8 L760.6,975.8 L760.8,975.3 L760.9,977.3 L761.1,980.5 L761.3,977.9 L761.4,977.5 L761.6,982.0 L761.7,981.2 L761.9,980.0 L762.1,979.7 L762.2,979.2 L762.4,980.2 L762.5,978.5 L762.7,980.0 L762.9,978.3 L763.0,980.0 L763.2,974.5 L763.3,975.2 L763.5,981.0 L763.7,980.5 L763.8,975.5 L764.0,974.9 L764.1,979.7 L764.3,976.7 L764.5,977.3 L764.6,980.2 L764.8,978.3 L764.9,977.1 L765.1,979.8 L765.3,972.9 L765.4,975.2 L765.6,989.1 L765.7,978.2 L765.9,980.0 L766.1,974.3 L766.2,980.7 L766.4,973.0 L766.5,977.2 L766.7,976.5 L766.9,973.4 L767.0,976.7 L767.2,968.1 L767.3,978.3 L767.5,974.8 L767.7,973.1 L767.8,971.0 L768.0,971.1 L768.1,971.2 L768.3,971.2 L768.5,973.2 L768.6,966.7 L768.8,970.9 L768.9,968.1 L769.1,976.5 L769.3,972.5 L769.4,964.9 L769.6,972.0 L769.7,976.1 L769.9,970.0 L770.1,969.8 L770.2,969.2 L770.4,971.5 L770.5,971.3 L770.7,966.0 L770.9,959.6 L771.0,962.8 L771.2,957.8 L771.3,956.8 L771.5,960.8 L771.7,956.1 L771.8,953.6 L772.0,953.3 L772.1,951.4 L772.3,944.8 L772.5,946.6 L772.6,938.2 L772.8,937.3 L772.9,931.4 L773.1,927.1 L773.3,922.1 L773.4,919.0 L773.6,913.6 L773.7,907.6 L773.9,903.9 L774.1,897.5 L774.2,895.5 L774.4,892.0 L774.5,890.0 L774.7,890.8 L774.9,893.8 L775.0,895.9 L775.2,899.7 L775.3,903.1 L775.5,908.0 L775.7,912.3 L775.8,918.7 L776.0,924.1 L776.1,928.5 L776.3,932.8 L776.5,936.6 L776.6,941.0 L776.8,945.7 L776.9,944.0 L777.1,951.4 L777.3,955.3 L777.4,951.9 L777.6,955.3 L777.7,958.1 L777.9,958.1 L778.1,960.9 L778.2,961.9 L778.4,968.3 L778.5,966.3 L778.7,970.1 L778.9,967.0 L779.0,968.2 L779.2,968.6 L779.3,969.0 L779.5,976.3 L779.7,973.5 L779.8,971.5 L780.0,966.8 L780.1,971.0 L780.3,974.6 L780.5,973.5 L780.6,972.4 L780.8,975.3 L780.9,974.4 L781.1,972.2 L781.3,974.7 L781.4,976.2 L781.6,976.4 L781.7,974.5 L781.9,973.7 L782.1,975.1 L782.2,976.8 L782.4,976.3 L782.5,978.4 L782.7,975.1 L782.9,975.9 L783.0,975.7 L783.2,977.2 L783.3,973.9 L783.5,979.5 L783.7,976.0 L783.8,980.0 L784.0,980.2 L784.1,973.8 L784.3,977.6 L784.5,978.4 L784.6,977.1 L784.8,978.6 L784.9,975.3 L785.1,979.6 L785.3,978.1 L785.4,977.0 L785.6,971.8 L785.7,979.5 L785.9,971.7 L786.1,981.0 L786.2,980.2 L786.4,974.8 L786.5,974.4 L786.7,978.9 L786.9,980.9 L787.0,978.6 L787.2,979.2 L787.3,978.5 L787.5,982.0 L787.7,979.4 L787.8,975.4 L788.0,981.4 L788.1,980.7 L788.3,978.3 L788.5,978.0 L788.6,981.8 L788.8,979.8 L788.9,977.9 L789.1,981.3 L789.3,977.7 L789.4,978.1 L789.6,974.5 L789.7,977.7 L789.9,984.8 L790.1,974.9 L790.2,975.6 L790.4,980.9 L790.5,976.9 L790.7,980.8 L790.9,982.6 L791.0,977.9 L791.2,977.4 L791.3,981.3 L791.5,980.1 L791.7,982.3 L791.8,978.4 L792.0,979.9 L792.1,977.4 L792.3,976.3 L792.5,976.5 L792.6,976.6 L792.8,982.6 L792.9,981.0 L793.1,979.2 L793.3,978.7 L793.4,978.6 L793.6,981.9 L793.7,978.9 L793.9,975.0 L794.1,978.7 L794.2,974.7 L794.4,977.9 L794.5,977.1 L794.7,974.9 L794.9,975.0 L795.0,979.0 L795.2,980.2 L795.3,980.1 L795.5,977.0 L795.7,975.1 L795.8,979.4 L796.0,981.3 L796.1,981.3 L796.3,979.2 L796.5,976.9 L796.6,980.6 L796.8,979.8 L796.9,976.8 L797.1,976.6 L797.3,977.9 L797.4,981.8 L797.6,982.2 L797.7,978.4 L797.9,979.6 L798.1,982.8 L798.2,976.0 L798.4,978.0 L798.5,978.6 L798.7,980.0 L798.9,975.3 L799.0,980.2 L799.2,975.7 L799.3,981.3 L799.5,979.0 L799.7,978.0 L799.8,981.2 L800.0,979.3 L800.1,977.0 L800.3,983.0 L800.5,978.6 L800.6,979.9 L800.8,982.3 L800.9,975.9 L801.1,980.9 L801.3,981.3 L801.4,984.4 L801.6,974.9 L801.7,981.1 L801.9,984.4 L802.1,980.1 L802.2,979.4 L802.4,978.5 L802.5,975.3 L802.7,982.4 L802.9,976.3 L803.0,975.0 L803.2,981.1 L803.3,981.7 L803.5,981.3 L803.7,981.2 L803.8,977.1 L804.0,979.1 L804.1,978.5 L804.3,977.3 L804.5,980.1 L804.6,976.8 L804.8,978.9 L804.9,982.7 L805.1,979.1 L805.3,978.9 L805.4,981.1 L805.6,974.0 L805.7,980.1 L805.9,982.0 L806.1,980.7 L806.2,977.6 L806.4,981.3 L806.5,978.3 L806.7,981.2 L806.9,977.0 L807.0,976.7 L807.2,982.9 L807.3,978.9 L807.5,978.9 L807.7,976.3 L807.8,978.1 L808.0,985.4 L808.1,980.5 L808.3,979.3 L808.5,975.0 L808.6,981.2 L808.8,980.3 L808.9,982.0 L809.1,978.3 L809.3,980.6 L809.4,978.0 L809.6,975.9 L809.7,974.9 L809.9,981.0 L810.1,978.5 L810.2,979.1 L810.4,975.5 L810.5,983.2 L810.7,978.0 L810.9,975.1 L811.0,976.2 L811.2,977.9 L811.3,981.5 L811.5,980.3 L811.7,980.4 L811.8,977.7 L812.0,981.2 L812.1,979.2 L812.3,981.7 L812.5,977.4 L812.6,977.8 L812.8,977.3 L812.9,977.8 L813.1,977.3 L813.3,980.5 L813.4,978.3 L813.6,975.7 L813.7,978.2 L813.9,977.7 L814.1,975.3 L814.2,979.7 L814.4,979.6 L814.5,979.2 L814.7,982.7 L814.9,975.7 L815.0,980.8 L815.2,979.9 L815.3,977.0 L815.5,982.3 L815.7,976.5 L815.8,979.7 L816.0,980.7 L816.1,978.5 L816.3,977.7 L816.5,981.4 L816.6,982.0 L816.8,978.1 L816.9,982.4 L817.1,980.1 L817.3,976.6 L817.4,981.2 L817.6,979.1 L817.7,978.3 L817.9,980.3 L818.1,980.2 L818.2,977.6 L818.4,978.1 L818.5,980.9 L818.7,981.1 L818.9,983.5 L819.0,979.3 L819.2,979.8 L819.3,977.6 L819.5,984.0 L819.7,980.0 L819.8,980.5"/>
</g>
<g stroke="#151515" stroke-width="2.65" fill="none" stroke-linecap="round" stroke-linejoin="round">
<path d="M60,1003.05 H867.5"/>
<path d="M60.0,1003.05 V1014.65"/>
<path d="M107.5,1003.05 V1011.3499999999999"/>
<path d="M155.0,1003.05 V1011.3499999999999"/>
<path d="M202.5,1003.05 V1011.3499999999999"/>
<path d="M250.0,1003.05 V1014.65"/>
<path d="M297.5,1003.05 V1011.3499999999999"/>
<path d="M345.0,1003.05 V1011.3499999999999"/>
<path d="M392.5,1003.05 V1011.3499999999999"/>
<path d="M440.0,1003.05 V1014.65"/>
<path d="M487.5,1003.05 V1011.3499999999999"/>
<path d="M535.0,1003.05 V1011.3499999999999"/>
<path d="M582.5,1003.05 V1011.3499999999999"/>
<path d="M630.0,1003.05 V1014.65"/>
<path d="M677.5,1003.05 V1011.3499999999999"/>
<path d="M725.0,1003.05 V1011.3499999999999"/>
<path d="M772.5,1003.05 V1011.3499999999999"/>
<path d="M820.0,1003.05 V1014.65"/>
<path d="M867.5,1003.05 V1011.3499999999999"/>
</g>
<g font-family='"Liberation Sans", sans-serif' font-size="43.5" text-anchor="middle" fill="#000">
<text x="60.0" y="1067.7">20</text>
<text x="250.0" y="1067.7">40</text>
<text x="440.0" y="1067.7">60</text>
<text x="630.0" y="1067.7">80</text>
<text x="820.0" y="1067.7">100</text>
</g>
<text y="1130" font-family='"Liberation Sans", sans-serif' font-size="47" fill="#000"><tspan x="414">2</tspan><tspan x="477.5">/ </tspan><tspan x="502.4">°</tspan></text>
<text transform="translate(440.6,1130) scale(1.12,1)" font-family='"Liberation Serif", serif' font-size="47" fill="#000">θ</text>
<g font-family='"Liberation Sans", sans-serif' font-size="47.7" fill="#000">
<text transform="translate(156,152.8) rotate(-90)">(111)</text>
<text transform="translate(201.2,374.0) rotate(-90)">(200)</text>
<text transform="translate(338,198.0) rotate(-90)">(220)</text>
<text transform="translate(419,246.9) rotate(-90)">(311)</text>
<text transform="translate(449,446.0) rotate(-90)">(222)</text>
<text transform="translate(546,446.0) rotate(-90)">(400)</text>
<text transform="translate(599,384.0) rotate(-90)">(331)</text>
<text transform="translate(647.6,419.6) rotate(-90)">(420)</text>
<text transform="translate(724.7,393.0) rotate(-90)">(422)</text>
<text transform="translate(790,404.0) rotate(-90)">(511)</text>
</g>
<g font-family='"Liberation Sans", sans-serif' font-size="64" fill="#000">
<text x="838" y="527">d</text>
<text x="839" y="681.2">c</text>
<text x="836.5" y="827">b</text>
<text x="838" y="973.6">a</text>
<text x="1815" y="676.2">d</text>
<text x="1817" y="766.5">c</text>
<text x="1814.5" y="853.9">b</text>
<text x="1815.5" y="934.5">a</text>
</g>
<g stroke="#c0c0c0" stroke-width="1.4" stroke-dasharray="1.5,1.5" fill="none">
<path d="M1354.6,590 V990.5"/>
<path d="M1418.8,665.3 V1001"/>
<path d="M1618.2,590 V990.5"/>
<path d="M1710.3,590 V990.5"/>
</g>
<g fill="none" stroke="#000" stroke-width="4.5" stroke-linejoin="round" stroke-linecap="round" clip-path="url(#rc)">
<path d="M1025.7,690.1 L1026.6,690.2 L1027.4,690.9 L1028.3,690.5 L1029.2,691.3 L1030.0,691.1 L1030.9,691.5 L1031.8,691.4 L1032.7,692.3 L1033.6,692.1 L1034.5,691.5 L1035.4,691.8 L1036.3,691.3 L1037.2,691.6 L1038.1,691.7 L1039.0,690.3 L1039.9,691.3 L1040.8,691.8 L1041.7,691.4 L1042.5,690.9 L1043.2,690.8 L1043.9,689.4 L1044.6,689.1 L1045.2,688.5 L1045.9,687.5 L1046.7,687.7 L1047.4,687.1 L1048.2,686.5 L1048.9,686.3 L1049.7,685.2 L1050.5,685.1 L1051.3,684.2 L1052.2,684.1 L1053.0,683.6 L1053.9,684.6 L1054.7,684.0 L1055.6,683.0 L1056.5,683.0 L1057.4,682.5 L1058.3,682.0 L1059.1,683.3 L1060.0,682.8 L1060.9,683.1 L1061.8,682.2 L1062.6,681.9 L1063.5,681.5 L1064.4,681.5 L1065.3,681.9 L1066.2,681.9 L1067.1,682.4 L1068.0,682.9 L1068.8,682.7 L1069.7,683.8 L1070.5,682.9 L1071.4,684.0 L1072.3,684.5 L1073.1,683.7 L1074.0,685.1 L1074.9,685.0 L1075.7,684.5 L1076.6,685.0 L1077.5,683.9 L1078.4,684.9 L1079.3,685.2 L1080.2,684.4 L1081.0,684.4 L1081.9,683.8 L1082.7,683.4 L1083.6,683.3 L1084.4,683.0 L1085.3,682.8 L1086.2,683.2 L1087.0,683.8 L1087.9,682.1 L1088.7,682.2 L1089.6,681.7 L1090.5,681.2 L1091.3,681.4 L1092.2,681.2 L1093.1,681.6 L1093.9,681.3 L1094.8,680.2 L1095.6,679.5 L1096.5,680.0 L1097.4,679.8 L1098.2,679.4 L1099.1,678.9 L1099.9,678.6 L1100.8,678.4 L1101.7,678.1 L1102.5,678.1 L1103.4,678.0 L1104.3,677.2 L1105.1,676.6 L1106.0,677.2 L1106.8,676.4 L1107.7,676.6 L1108.5,676.0 L1109.3,674.7 L1110.0,674.9 L1110.7,674.3 L1111.3,674.1 L1111.9,673.3 L1112.4,672.5 L1112.9,671.7 L1113.5,671.5 L1114.1,669.7 L1114.7,670.4 L1115.3,669.9 L1115.9,668.7 L1116.5,667.5 L1117.1,667.9 L1117.8,666.4 L1118.4,665.9 L1119.0,665.1 L1119.7,664.7 L1120.3,663.7 L1121.0,663.6 L1121.6,662.8 L1122.2,661.8 L1122.9,661.7 L1123.5,661.0 L1124.2,659.8 L1124.8,659.3 L1125.5,659.3 L1126.1,657.6 L1126.8,657.8 L1127.5,657.1 L1128.1,655.7 L1128.8,655.4 L1129.5,655.8 L1130.1,654.9 L1130.8,653.7 L1131.5,653.5 L1132.1,652.9 L1132.8,652.1 L1133.5,651.5 L1134.2,651.1 L1134.9,650.2 L1135.6,650.6 L1136.3,650.2 L1137.0,648.8 L1137.7,647.9 L1138.4,646.9 L1139.1,646.7 L1139.8,646.1 L1140.5,646.0 L1141.1,646.2 L1141.8,644.4 L1142.4,644.7 L1143.0,643.2 L1143.6,642.7 L1144.2,641.9 L1144.8,640.1 L1145.4,640.2 L1146.0,639.9 L1146.5,639.5 L1147.1,638.3 L1147.6,637.8 L1148.1,636.9 L1148.6,636.5 L1149.1,635.5 L1149.6,635.3 L1150.0,633.9 L1150.5,633.0 L1150.9,632.5 L1151.4,632.2 L1151.8,631.0 L1152.2,630.2 L1152.6,629.5 L1153.0,628.5 L1153.4,627.9 L1153.7,627.1 L1154.1,626.1 L1154.5,625.0 L1154.8,624.5 L1155.1,623.7 L1155.5,622.9 L1155.8,621.8 L1156.1,621.0 L1156.4,620.3 L1156.7,619.4 L1157.0,618.5 L1157.3,617.7 L1157.5,616.8 L1157.8,616.0 L1158.1,615.1 L1158.3,614.2 L1158.5,613.4 L1158.8,612.5 L1159.0,611.6 L1159.2,610.8 L1159.4,609.9 L1159.6,609.0 L1159.8,608.1 L1160.0,607.3 L1160.2,606.4 L1160.3,605.5 L1160.5,604.6 L1160.7,603.7 L1160.9,602.8 L1161.0,602.0 L1161.2,601.1 L1161.4,600.2 L1161.5,599.3 L1161.7,598.4 L1161.8,597.5 L1162.0,596.7 L1162.1,595.8 L1162.3,594.9 L1162.4,594.0 L1162.6,593.1 L1162.7,592.2 L1162.9,591.3 L1163.0,590.4 L1163.1,589.6 L1163.3,588.7 L1163.4,587.8 L1163.5,586.9 L1163.7,586.0 L1163.8,585.1 L1163.9,584.2 L1164.0,583.3 L1164.2,582.4 L1164.3,581.6 L1164.4,580.7 L1164.5,579.8 L1164.6,578.9 L1164.8,578.0 L1164.9,577.1 L1165.0,576.2 L1165.1,575.3 L1165.2,574.4 L1165.3,573.5 L1165.4,572.6 L1165.5,571.7 L1165.7,570.9 L1165.8,570.0 L1165.9,569.1 L1166.0,568.2 L1166.1,567.3 L1166.2,566.4 L1166.3,565.5 L1166.3,564.6 L1166.4,563.7 L1166.5,562.8 L1166.6,561.9 L1166.7,561.0 L1166.8,560.1 L1166.9,559.2 L1167.0,558.3 L1167.0,557.4 L1167.1,556.5 L1167.2,555.7 L1167.3,554.8 L1167.3,553.9 L1167.4,553.0 L1167.5,552.1 L1167.6,551.2 L1167.6,550.3 L1167.7,549.4 L1167.8,548.5 L1167.8,547.6 L1167.9,546.7 L1168.0,545.8 L1168.0,544.9 L1168.1,544.0 L1168.2,543.1 L1168.2,542.2 L1168.3,541.3 L1168.4,540.4 L1168.4,539.5 L1168.5,538.6 L1168.6,537.7 L1168.6,536.8 L1168.7,535.9 L1168.7,535.0 L1168.8,534.1 L1168.9,533.2 L1168.9,532.3 L1169.0,531.4 L1169.0,530.6 L1169.1,529.7 L1169.1,528.8 L1169.2,527.9 L1169.3,527.0 L1169.3,526.1 L1169.4,525.2 L1169.4,524.3 L1169.5,523.4 L1169.5,522.5 L1169.6,521.6 L1169.6,520.7 L1169.7,519.8 L1169.8,518.9 L1169.8,518.0 L1169.9,517.1 L1169.9,516.2 L1170.0,515.3 L1170.0,514.4 L1170.1,513.5 L1170.1,512.6 L1170.2,511.7 L1170.2,510.8 L1170.3,509.9 L1170.3,509.0 L1170.4,508.1 L1170.4,507.2 L1170.5,506.3 L1170.5,505.4 L1170.6,504.5 L1170.6,503.6 L1170.7,502.7 L1170.7,501.8 L1170.8,500.9 L1170.8,500.0 L1170.9,499.1 L1170.9,498.2 L1171.0,497.4 L1171.0,496.5 L1171.1,495.6 L1171.1,494.7 L1171.1,493.8 L1171.2,492.9 L1171.2,492.0 L1171.3,491.1 L1171.3,490.2 L1171.4,489.3 L1171.4,488.4 L1171.5,487.5 L1171.5,486.6 L1171.5,485.7 L1171.6,484.8 L1171.6,483.9 L1171.7,483.0 L1171.7,482.1 L1171.8,481.2 L1171.8,480.3 L1171.8,479.4 L1171.9,478.5 L1171.9,477.6 L1172.0,476.7 L1172.0,475.8 L1172.0,474.9 L1172.1,474.0 L1172.1,473.1 L1172.2,472.2 L1172.2,471.3 L1172.2,470.4 L1172.3,469.5 L1172.3,468.6 L1172.4,467.7 L1172.4,466.8 L1172.4,465.9 L1172.5,465.0 L1172.5,464.1 L1172.5,463.2 L1172.6,462.3 L1172.6,461.4 L1172.6,460.5 L1172.7,459.6 L1172.7,458.7 L1172.7,457.8 L1172.8,456.9 L1172.8,456.0 L1172.8,455.1 L1172.9,454.2 L1172.9,453.4 L1172.9,452.5 L1173.0,451.6 L1173.0,450.7 L1173.0,449.8 L1173.1,448.9 L1173.1,448.0 L1173.1,447.1 L1173.1,446.2 L1173.2,445.3 L1173.2,444.4 L1173.2,443.5 L1173.3,442.6 L1173.3,441.7 L1173.3,440.8 L1173.3,439.9 L1173.4,439.0 L1173.4,438.1 L1173.4,437.2 L1173.5,436.3 L1173.5,435.4 L1173.5,434.5 L1173.5,433.6 L1173.6,432.7 L1173.6,431.8 L1173.6,430.9 L1173.7,430.0 L1173.7,429.1 L1173.7,428.2 L1173.7,427.3 L1173.8,426.4 L1173.8,425.5 L1173.8,424.6 L1173.9,423.7 L1173.9,422.8 L1173.9,421.9 L1173.9,421.0 L1174.0,420.1 L1174.0,419.2 L1174.0,418.3 L1174.1,417.4 L1174.1,416.5 L1174.1,415.6 L1174.1,414.7 L1174.2,413.8 L1174.2,412.9 L1174.2,412.0 L1174.3,411.1 L1174.3,410.2 L1174.3,409.3 L1174.4,408.4 L1174.4,407.5 L1174.4,406.6 L1174.4,405.7 L1174.5,404.8 L1174.5,403.9 L1174.5,403.0 L1174.6,402.1 L1174.6,401.2 L1174.6,400.3 L1174.7,399.5 L1174.7,398.6 L1174.7,397.7 L1174.7,396.8 L1174.8,395.9 L1174.8,395.0 L1174.8,394.1 L1174.9,393.2 L1174.9,392.3 L1174.9,391.4 L1175.0,390.5 L1175.0,389.6 L1175.0,388.7 L1175.1,387.8 L1175.1,386.9 L1175.1,386.0 L1175.1,385.1 L1175.2,384.2 L1175.2,383.3 L1175.2,382.4 L1175.3,381.5 L1175.3,380.6 L1175.3,379.7 L1175.4,378.8 L1175.4,377.9 L1175.4,377.0 L1175.5,376.1 L1175.5,375.2 L1175.5,374.3 L1175.5,373.4 L1175.6,372.5 L1175.6,371.6 L1175.6,370.7 L1175.7,369.8 L1175.7,368.9 L1175.7,368.0 L1175.8,367.1 L1175.8,366.2 L1175.8,365.3 L1175.9,364.4 L1175.9,363.5 L1175.9,362.6 L1175.9,361.7 L1176.0,360.8 L1176.0,359.9 L1176.0,359.0 L1176.1,358.1 L1176.1,357.2 L1176.1,356.3 L1176.2,355.4 L1176.2,354.5 L1176.2,353.6 L1176.3,352.7 L1176.3,351.8 L1176.3,350.9 L1176.3,350.0 L1176.4,349.1 L1176.4,348.2 L1176.4,347.3 L1176.5,346.5 L1176.5,345.6 L1176.5,344.7 L1176.6,343.8 L1176.6,342.9 L1176.6,342.0 L1176.7,341.1 L1176.7,340.2 L1176.7,339.3 L1176.8,338.4 L1176.8,337.5 L1176.8,336.6 L1176.9,335.7 L1176.9,334.8 L1176.9,333.9 L1177.0,333.0 L1177.0,332.1 L1177.0,331.2 L1177.1,330.3 L1177.1,329.4 L1177.1,328.5 L1177.2,327.6 L1177.2,326.7 L1177.2,325.8 L1177.3,324.9 L1177.3,324.0 L1177.3,323.1 L1177.4,322.2 L1177.4,321.3 L1177.4,320.4 L1177.5,319.5 L1177.5,318.6 L1177.5,317.7 L1177.6,316.8 L1177.6,315.9 L1177.6,315.0 L1177.7,314.1 L1177.7,313.2 L1177.7,312.3 L1177.8,311.4 L1177.8,310.5 L1177.8,309.6 L1177.9,308.7 L1177.9,307.8 L1177.9,306.9 L1178.0,306.0 L1178.0,305.1 L1178.0,304.2 L1178.1,303.3 L1178.1,302.4 L1178.1,301.5 L1178.2,300.6 L1178.2,299.7 L1178.2,298.8 L1178.2,297.9 L1178.3,297.0 L1178.3,296.1 L1178.3,295.3 L1178.4,294.4 L1178.4,293.5 L1178.4,292.6 L1178.5,291.7 L1178.5,290.8 L1178.5,289.9 L1178.6,289.0 L1178.6,288.1 L1178.6,287.2 L1178.7,286.3 L1178.7,285.4 L1178.7,284.5 L1178.7,283.6 L1178.8,282.7 L1178.8,281.8 L1178.8,280.9 L1178.9,280.0 L1178.9,279.1 L1178.9,278.2 L1178.9,277.3 L1179.0,276.4 L1179.0,275.5 L1179.0,274.6 L1179.1,273.7 L1179.1,272.8 L1179.1,271.9 L1179.1,271.0 L1179.2,270.1 L1179.2,269.2 L1179.2,268.3 L1179.2,267.4 L1179.3,266.5 L1179.3,265.6 L1179.3,264.7 L1179.4,263.8 L1179.4,262.9 L1179.4,262.0 L1179.4,261.1 L1179.5,260.2 L1179.5,259.3 L1179.5,258.4 L1179.5,257.5 L1179.5,256.6 L1179.6,255.7 L1179.6,254.8 L1179.6,253.9 L1179.6,253.0 L1179.6,252.1 L1179.7,251.2 L1179.7,250.3 L1179.7,249.4 L1179.7,248.5 L1179.7,247.6 L1179.8,246.7 L1179.8,245.8 L1179.8,244.9 L1179.8,244.0 L1179.8,243.1 L1179.8,242.2 L1179.8,241.3 L1179.9,240.4 L1179.9,239.5 L1179.9,238.6 L1179.9,237.7 L1179.9,236.8 L1179.9,236.0 L1179.9,235.1 L1179.9,234.2 L1180.0,233.3 L1180.0,232.4 L1180.0,231.5 L1180.0,230.6 L1180.0,229.7 L1180.0,228.8 L1180.0,227.9 L1180.0,227.0 L1180.1,226.1 L1180.1,225.2 L1180.1,224.3 L1180.1,223.4 L1180.1,222.5 L1180.1,221.6 L1180.1,220.7 L1180.1,219.8 L1180.2,218.9 L1180.2,218.0 L1180.2,217.1 L1180.2,216.2 L1180.2,215.3 L1180.2,214.4 L1180.2,213.5 L1180.2,212.6 L1180.2,211.7 L1180.2,210.8 L1180.3,209.9 L1180.3,209.0 L1180.3,208.1 L1180.3,207.2 L1180.3,206.3 L1180.3,205.4 L1180.3,204.5 L1180.3,203.6 L1180.3,202.7 L1180.3,201.8 L1180.3,200.9 L1180.3,200.0 M1201.8,200.0 L1201.8,200.9 L1201.8,201.8 L1201.8,202.7 L1201.8,203.6 L1201.8,204.5 L1201.8,205.4 L1201.8,206.3 L1201.8,207.2 L1201.8,208.1 L1201.8,209.0 L1201.8,209.9 L1201.8,210.8 L1201.8,211.7 L1201.8,212.6 L1201.8,213.5 L1201.8,214.4 L1201.8,215.3 L1201.8,216.2 L1201.8,217.1 L1201.8,218.0 L1201.9,218.9 L1201.9,219.8 L1201.9,220.7 L1201.9,221.6 L1201.9,222.5 L1201.9,223.4 L1201.9,224.3 L1201.9,225.2 L1201.9,226.1 L1201.9,227.0 L1201.9,227.9 L1201.9,228.8 L1201.9,229.7 L1201.9,230.6 L1201.9,231.5 L1201.9,232.4 L1201.9,233.3 L1201.9,234.2 L1201.9,235.1 L1201.9,236.0 L1202.0,236.9 L1202.0,237.8 L1202.0,238.7 L1202.0,239.6 L1202.0,240.5 L1202.0,241.4 L1202.0,242.3 L1202.0,243.2 L1202.0,244.1 L1202.0,245.0 L1202.0,245.9 L1202.0,246.8 L1202.0,247.7 L1202.0,248.6 L1202.1,249.5 L1202.1,250.4 L1202.1,251.3 L1202.1,252.2 L1202.1,253.1 L1202.1,254.0 L1202.2,254.9 L1202.2,255.8 L1202.2,256.7 L1202.2,257.6 L1202.2,258.5 L1202.3,259.4 L1202.3,260.3 L1202.3,261.2 L1202.3,262.1 L1202.4,263.0 L1202.4,263.9 L1202.4,264.8 L1202.4,265.7 L1202.5,266.6 L1202.5,267.5 L1202.5,268.4 L1202.5,269.3 L1202.6,270.2 L1202.6,271.1 L1202.6,272.0 L1202.7,272.9 L1202.7,273.8 L1202.7,274.7 L1202.7,275.6 L1202.8,276.5 L1202.8,277.4 L1202.8,278.3 L1202.9,279.2 L1202.9,280.1 L1202.9,281.0 L1203.0,281.9 L1203.0,282.8 L1203.0,283.7 L1203.1,284.6 L1203.1,285.5 L1203.1,286.4 L1203.2,287.3 L1203.2,288.2 L1203.2,289.1 L1203.3,290.0 L1203.3,290.8 L1203.3,291.7 L1203.4,292.6 L1203.4,293.5 L1203.4,294.4 L1203.5,295.3 L1203.5,296.2 L1203.5,297.1 L1203.6,298.0 L1203.6,298.9 L1203.6,299.8 L1203.7,300.7 L1203.7,301.6 L1203.7,302.5 L1203.8,303.4 L1203.8,304.3 L1203.8,305.2 L1203.9,306.1 L1203.9,307.0 L1203.9,307.9 L1204.0,308.8 L1204.0,309.7 L1204.0,310.6 L1204.1,311.5 L1204.1,312.4 L1204.2,313.3 L1204.2,314.2 L1204.2,315.1 L1204.3,316.0 L1204.3,316.9 L1204.3,317.8 L1204.4,318.7 L1204.4,319.6 L1204.4,320.5 L1204.5,321.4 L1204.5,322.3 L1204.5,323.2 L1204.6,324.1 L1204.6,325.0 L1204.6,325.9 L1204.7,326.8 L1204.7,327.7 L1204.7,328.6 L1204.8,329.5 L1204.8,330.4 L1204.8,331.3 L1204.9,332.2 L1204.9,333.1 L1204.9,334.0 L1205.0,334.9 L1205.0,335.8 L1205.0,336.7 L1205.1,337.6 L1205.1,338.5 L1205.1,339.4 L1205.2,340.3 L1205.2,341.2 L1205.2,342.1 L1205.2,343.0 L1205.3,343.9 L1205.3,344.8 L1205.3,345.7 L1205.3,346.6 L1205.4,347.5 L1205.4,348.4 L1205.4,349.3 L1205.5,350.2 L1205.5,351.1 L1205.5,352.0 L1205.5,352.9 L1205.6,353.8 L1205.6,354.7 L1205.6,355.6 L1205.6,356.5 L1205.7,357.4 L1205.7,358.3 L1205.7,359.2 L1205.7,360.1 L1205.8,361.0 L1205.8,361.9 L1205.8,362.8 L1205.8,363.7 L1205.9,364.6 L1205.9,365.5 L1205.9,366.4 L1205.9,367.3 L1206.0,368.2 L1206.0,369.1 L1206.0,370.0 L1206.0,370.9 L1206.1,371.8 L1206.1,372.7 L1206.1,373.6 L1206.1,374.5 L1206.2,375.4 L1206.2,376.3 L1206.2,377.2 L1206.2,378.1 L1206.3,379.0 L1206.3,379.9 L1206.3,380.8 L1206.3,381.7 L1206.4,382.6 L1206.4,383.5 L1206.4,384.4 L1206.4,385.3 L1206.5,386.2 L1206.5,387.1 L1206.5,388.0 L1206.5,388.9 L1206.6,389.8 L1206.6,390.7 L1206.6,391.6 L1206.6,392.5 L1206.7,393.4 L1206.7,394.3 L1206.7,395.2 L1206.7,396.1 L1206.8,397.0 L1206.8,397.9 L1206.8,398.8 L1206.9,399.7 L1206.9,400.6 L1206.9,401.5 L1206.9,402.4 L1207.0,403.3 L1207.0,404.1 L1207.0,405.0 L1207.1,405.9 L1207.1,406.8 L1207.1,407.7 L1207.2,408.6 L1207.2,409.5 L1207.2,410.4 L1207.2,411.3 L1207.3,412.2 L1207.3,413.1 L1207.3,414.0 L1207.4,414.9 L1207.4,415.8 L1207.4,416.7 L1207.5,417.6 L1207.5,418.5 L1207.5,419.4 L1207.6,420.3 L1207.6,421.2 L1207.6,422.1 L1207.7,423.0 L1207.7,423.9 L1207.7,424.8 L1207.8,425.7 L1207.8,426.6 L1207.8,427.5 L1207.9,428.4 L1207.9,429.3 L1208.0,430.2 L1208.0,431.1 L1208.0,432.0 L1208.1,432.9 L1208.1,433.8 L1208.1,434.7 L1208.2,435.6 L1208.2,436.5 L1208.2,437.4 L1208.3,438.3 L1208.3,439.2 L1208.4,440.1 L1208.4,441.0 L1208.4,441.9 L1208.5,442.8 L1208.5,443.7 L1208.5,444.6 L1208.6,445.5 L1208.6,446.4 L1208.7,447.3 L1208.7,448.2 L1208.7,449.1 L1208.8,450.0 L1208.8,450.9 L1208.8,451.8 L1208.9,452.7 L1208.9,453.6 L1209.0,454.5 L1209.0,455.4 L1209.0,456.3 L1209.1,457.2 L1209.1,458.1 L1209.2,459.0 L1209.2,459.9 L1209.2,460.8 L1209.3,461.7 L1209.3,462.6 L1209.4,463.5 L1209.4,464.4 L1209.4,465.3 L1209.5,466.2 L1209.5,467.1 L1209.6,468.0 L1209.6,468.9 L1209.6,469.8 L1209.7,470.7 L1209.7,471.6 L1209.8,472.5 L1209.8,473.4 L1209.8,474.3 L1209.9,475.2 L1209.9,476.1 L1210.0,477.0 L1210.0,477.9 L1210.0,478.8 L1210.1,479.7 L1210.1,480.6 L1210.2,481.5 L1210.2,482.4 L1210.3,483.3 L1210.3,484.2 L1210.3,485.1 L1210.4,486.0 L1210.4,486.9 L1210.5,487.7 L1210.5,488.6 L1210.6,489.5 L1210.6,490.4 L1210.6,491.3 L1210.7,492.2 L1210.7,493.1 L1210.8,494.0 L1210.8,494.9 L1210.9,495.8 L1210.9,496.7 L1211.0,497.6 L1211.0,498.5 L1211.0,499.4 L1211.1,500.3 L1211.1,501.2 L1211.2,502.1 L1211.2,503.0 L1211.3,503.9 L1211.3,504.8 L1211.4,505.7 L1211.4,506.6 L1211.5,507.5 L1211.5,508.4 L1211.5,509.3 L1211.6,510.2 L1211.6,511.1 L1211.7,512.0 L1211.7,512.9 L1211.8,513.8 L1211.8,514.7 L1211.9,515.6 L1211.9,516.5 L1212.0,517.4 L1212.0,518.3 L1212.1,519.2 L1212.1,520.1 L1212.2,521.0 L1212.2,521.9 L1212.3,522.8 L1212.3,523.7 L1212.4,524.6 L1212.4,525.5 L1212.4,526.4 L1212.5,527.3 L1212.5,528.2 L1212.6,529.1 L1212.6,530.0 L1212.7,530.9 L1212.7,531.8 L1212.8,532.7 L1212.8,533.6 L1212.9,534.5 L1212.9,535.4 L1213.0,536.3 L1213.0,537.2 L1213.1,538.1 L1213.1,539.0 L1213.2,539.9 L1213.2,540.8 L1213.3,541.7 L1213.3,542.6 L1213.4,543.5 L1213.4,544.4 L1213.5,545.3 L1213.5,546.2 L1213.6,547.0 L1213.6,547.9 L1213.7,548.8 L1213.7,549.7 L1213.8,550.6 L1213.8,551.5 L1213.9,552.4 L1213.9,553.3 L1214.0,554.2 L1214.1,555.1 L1214.1,556.0 L1214.2,556.9 L1214.2,557.8 L1214.3,558.7 L1214.4,559.6 L1214.4,560.5 L1214.5,561.4 L1214.6,562.3 L1214.7,563.2 L1214.7,564.1 L1214.8,565.0 L1214.9,565.9 L1215.0,566.8 L1215.1,567.7 L1215.2,568.6 L1215.2,569.5 L1215.3,570.4 L1215.4,571.3 L1215.5,572.2 L1215.6,573.1 L1215.7,574.0 L1215.8,574.8 L1215.9,575.7 L1216.0,576.6 L1216.1,577.5 L1216.2,578.4 L1216.3,579.3 L1216.4,580.2 L1216.5,581.1 L1216.6,582.0 L1216.7,582.9 L1216.8,583.8 L1216.9,584.7 L1217.0,585.6 L1217.1,586.5 L1217.2,587.4 L1217.3,588.3 L1217.4,589.2 L1217.5,590.0 L1217.6,590.9 L1217.7,591.8 L1217.8,592.7 L1217.9,593.6 L1218.0,594.5 L1218.1,595.4 L1218.2,596.3 L1218.2,597.2 L1218.3,598.1 L1218.4,599.0 L1218.5,599.9 L1218.6,600.8 L1218.7,601.7 L1218.8,602.6 L1218.9,603.5 L1219.0,604.4 L1219.1,605.3 L1219.2,606.2 L1219.3,607.0 L1219.4,607.9 L1219.5,608.8 L1219.6,609.7 L1219.7,610.6 L1219.8,611.5 L1219.9,612.4 L1220.0,613.3 L1220.1,614.2 L1220.2,615.1 L1220.4,616.0 L1220.5,616.9 L1220.7,617.8 L1220.8,618.6 L1221.0,619.5 L1221.1,620.4 L1221.3,621.3 L1221.5,622.2 L1221.7,623.1 L1221.9,623.9 L1222.1,624.8 L1222.3,625.7 L1222.6,626.5 L1222.8,627.4 L1223.1,628.3 L1223.4,629.1 L1223.7,630.1 L1224.0,631.0 L1224.3,631.5 L1224.7,632.4 L1225.0,633.1 L1225.4,634.1 L1225.8,634.6 L1226.1,635.5 L1226.5,636.5 L1226.8,637.4 L1227.2,638.0 L1227.5,638.9 L1227.9,640.1 L1228.3,640.7 L1228.6,641.7 L1229.0,642.6 L1229.4,643.2 L1229.7,643.9 L1230.1,645.1 L1230.5,645.3 L1230.9,646.4 L1231.4,646.8 L1231.8,648.5 L1232.2,648.7 L1232.7,650.4 L1233.2,650.3 L1233.6,651.0 L1234.1,651.1 L1234.6,651.8 L1235.1,653.1 L1235.6,654.4 L1236.1,654.6 L1236.6,655.7 L1237.1,657.0 L1237.6,657.4 L1238.1,657.7 L1238.6,658.7 L1239.1,659.2 L1239.7,659.7 L1240.2,660.9 L1240.7,660.3 L1241.3,662.7 L1241.9,662.8 L1242.4,663.0 L1243.0,664.4 L1243.6,665.0 L1244.1,666.2 L1244.7,666.8 L1245.3,666.9 L1245.9,667.8 L1246.6,668.7 L1247.4,669.3 L1248.2,669.1 L1249.0,669.1 L1249.9,669.0 L1250.7,669.9 L1251.6,670.1 L1252.4,670.1 L1253.3,669.3 L1254.2,670.5 L1255.1,670.6 L1256.0,671.0 L1256.9,670.8 L1257.8,670.6 L1258.6,670.4 L1259.4,670.3 L1260.2,669.1 L1261.0,669.2 L1261.8,668.4 L1262.7,668.6 L1263.6,668.3 L1264.5,668.3 L1265.4,668.8 L1266.3,668.7 L1267.2,669.2 L1268.1,668.0 L1269.0,668.7 L1269.8,668.3 L1270.7,669.4 L1271.6,669.1 L1272.5,668.9 L1273.4,669.7 L1274.3,669.4 L1275.2,669.8 L1276.0,669.8 L1276.9,670.8 L1277.8,670.4 L1278.6,671.3 L1279.4,670.8 L1280.2,671.6 L1281.0,671.5 L1281.7,673.1 L1282.4,673.1 L1283.1,673.2 L1283.8,674.7 L1284.6,675.3 L1285.4,675.2 L1286.2,675.1 L1287.0,675.9 L1287.9,676.8 L1288.7,675.8 L1289.6,675.7 L1290.5,677.0 L1291.3,676.5 L1292.2,676.7 L1293.0,677.9 L1293.9,678.2 L1294.7,678.7 L1295.6,678.7 L1296.5,679.1 L1297.3,679.2 L1298.2,680.0 L1299.1,679.0 L1300.0,678.9 L1300.9,679.8 L1301.8,679.2 L1302.7,678.8 L1303.6,678.8 L1304.5,678.3 L1305.4,678.1 L1306.2,677.6 L1307.1,677.9 L1307.9,679.5 L1308.7,679.4 L1309.6,679.7 L1310.4,680.2 L1311.2,681.1 L1312.0,681.8 L1312.7,681.5 L1313.5,681.6 L1314.3,682.3 L1315.1,682.7 L1316.0,683.4 L1316.8,683.4 L1317.7,683.9 L1318.6,683.1 L1319.4,684.3 L1320.3,685.4 L1321.2,685.0 L1321.9,685.0 L1322.7,685.8 L1323.4,686.6 L1324.1,686.8 L1324.7,687.7 L1325.4,687.0 L1326.1,688.6 L1326.8,689.2 L1327.6,689.7 L1328.4,689.8 L1329.3,690.0 L1330.2,690.4 L1331.1,689.7 L1332.0,690.2 L1332.8,690.4 L1333.7,690.8 L1334.6,690.7 L1335.5,690.6 L1336.4,691.5 L1337.3,691.6 L1338.2,691.6 L1339.1,691.9 L1339.9,692.0 L1340.8,692.7 L1341.7,692.1 L1342.6,692.0 L1343.5,692.8 L1344.4,692.8 L1345.1,692.5 L1345.7,691.7 L1346.1,690.5 L1346.5,690.1 L1346.9,688.7 L1347.3,687.9 L1347.8,687.6 L1348.4,686.3 L1349.1,686.6 L1349.8,685.1 L1350.5,685.1 L1351.4,684.6 L1352.2,684.2 L1353.1,683.4 L1354.0,684.4 L1354.9,684.5 L1355.6,685.0 L1356.1,685.5 L1356.6,685.9 L1357.1,686.8 L1357.6,687.0 L1358.1,689.4 L1358.6,689.2 L1359.1,690.6 L1359.6,690.8 L1360.1,692.1 L1360.5,692.1 L1361.0,692.9 L1361.4,693.6 L1361.9,694.6 L1362.4,695.0 L1362.9,695.4 L1363.5,697.5 L1364.2,698.1 L1365.0,697.7 L1365.8,699.0 L1366.6,697.6 L1367.4,699.3 L1368.2,700.5 L1369.1,700.9 L1369.9,700.6 L1370.8,701.2 L1371.6,701.0 L1372.5,701.9 L1373.3,701.2 L1374.1,700.5 L1374.9,702.5 L1375.8,702.4 L1376.6,702.7 L1377.4,703.3 L1378.3,703.8 L1379.2,702.9 L1380.1,703.7 L1381.0,703.5 L1381.9,703.7 L1382.8,704.3 L1383.7,703.7 L1384.6,703.3 L1385.5,703.7 L1386.4,703.6 L1387.3,703.7 L1388.2,704.1 L1389.1,703.6 L1389.9,703.2 L1390.8,703.0 L1391.6,702.4 L1392.4,703.4 L1393.1,702.5 L1393.9,700.9 L1394.7,701.3 L1395.5,701.5 L1396.2,699.5 L1397.0,699.7 L1397.7,700.2 L1398.4,699.0 L1399.1,698.5 L1399.8,697.1 L1400.4,697.5 L1401.1,696.4 L1401.7,696.0 L1402.3,694.2 L1402.8,693.8 L1403.4,692.9 L1404.0,692.9 L1404.5,691.5 L1405.1,691.2 L1405.7,691.3 L1406.3,690.4 L1406.9,689.1 L1407.5,689.0 L1408.1,687.8 L1408.8,687.8 L1409.4,686.1 L1410.0,686.4 L1410.6,686.1 L1411.2,684.4 L1411.9,684.8 L1412.6,684.4 L1413.4,684.0 L1414.2,683.4 L1415.1,682.9 L1416.0,682.8 L1416.9,682.1 L1417.8,683.4 L1418.7,682.5 L1419.6,683.1 L1420.5,683.0 L1421.3,683.1 L1422.0,683.1 L1422.6,684.5 L1423.2,684.9 L1423.8,685.0 L1424.4,686.9 L1425.0,687.0 L1425.6,687.3 L1426.1,688.1 L1426.7,689.5 L1427.2,689.6 L1427.7,690.4 L1428.3,690.5 L1428.8,691.8 L1429.3,692.4 L1429.8,693.8 L1430.3,694.5 L1430.8,695.2 L1431.4,694.6 L1431.9,696.3 L1432.5,697.4 L1433.1,697.4 L1433.7,698.1 L1434.3,698.9 L1434.9,698.9 L1435.5,700.2 L1436.2,700.9 L1436.8,701.6 L1437.5,702.0 L1438.3,702.5 L1439.0,702.7 L1439.8,704.3 L1440.6,704.2 L1441.4,704.4 L1442.2,704.4 L1443.1,705.5 L1443.9,704.8 L1444.8,706.1 L1445.6,706.5 L1446.5,706.5 L1447.4,705.8 L1448.2,706.1 L1449.1,707.6 L1450.0,706.6 L1450.9,707.5 L1451.8,707.1 L1452.7,707.2 L1453.5,707.6 L1454.4,708.2 L1455.3,708.0 L1456.2,708.5 L1457.1,707.3 L1458.0,707.6 L1458.9,708.5 L1459.8,708.1 L1460.7,708.2 L1461.6,707.9 L1462.5,708.5 L1463.4,708.6 L1464.3,709.1 L1465.2,708.8 L1466.1,708.1 L1467.0,708.0 L1467.9,709.5 L1468.8,708.6 L1469.7,708.6 L1470.6,708.9 L1471.5,709.3 L1472.4,709.7 L1473.3,709.5 L1474.2,709.2 L1475.1,709.3 L1475.9,709.2 L1476.8,709.7 L1477.7,709.6 L1478.6,710.0 L1479.5,709.6 L1480.4,709.9 L1481.3,710.2 L1482.2,709.9 L1483.1,710.1 L1484.0,710.7 L1484.9,710.7 L1485.8,710.7 L1486.7,710.8 L1487.5,711.2 L1488.4,710.0 L1489.3,711.6 L1490.2,711.6 L1491.1,712.8 L1491.9,711.4 L1492.8,713.0 L1493.6,712.5 L1494.5,712.6 L1495.3,713.3 L1496.2,713.4 L1497.0,713.1 L1497.9,714.3 L1498.7,714.7 L1499.6,714.1 L1500.5,715.3 L1501.4,715.2 L1502.3,715.5 L1503.2,715.6 L1504.0,715.4 L1504.9,716.5 L1505.8,715.8 L1506.7,715.2 L1507.6,716.5 L1508.5,715.5 L1509.4,716.6 L1510.3,716.5 L1511.2,715.6 L1512.0,716.0 L1512.9,717.9 L1513.8,716.4 L1514.7,715.5 L1515.6,716.2 L1516.5,716.6 L1517.4,717.3 L1518.3,716.2 L1519.2,717.1 L1520.1,717.2 L1521.0,717.1 L1521.9,717.6 L1522.8,716.8 L1523.7,715.9 L1524.6,716.6 L1525.5,716.1 L1526.4,716.3 L1527.3,716.6 L1528.2,715.1 L1529.1,716.3 L1530.0,716.3 L1530.9,715.5 L1531.8,715.0 L1532.7,716.5 L1533.6,716.2 L1534.5,714.8 L1535.4,715.1 L1536.2,714.9 L1537.1,715.1 L1538.0,714.5 L1538.9,715.3 L1539.8,715.0 L1540.7,715.2 L1541.6,714.6 L1542.5,715.3 L1543.4,714.0 L1544.3,714.8 L1545.2,714.8 L1546.1,714.6 L1547.0,714.7 L1547.9,714.3 L1548.8,713.8 L1549.7,714.4 L1550.6,714.7 L1551.5,713.4 L1552.4,715.4 L1553.3,713.8 L1554.2,714.9 L1555.1,714.0 L1556.0,714.9 L1556.9,714.2 L1557.8,714.8 L1558.7,714.8 L1559.6,714.9 L1560.5,715.0 L1561.4,714.8 L1562.3,714.6 L1563.2,715.5 L1564.1,714.7 L1565.0,715.0 L1565.9,715.3 L1566.8,715.0 L1567.7,715.3 L1568.6,715.5 L1569.5,715.4 L1570.4,715.2 L1571.3,715.0 L1572.2,715.2 L1573.1,715.4 L1574.0,714.5 L1574.9,714.8 L1575.8,715.1 L1576.7,715.3 L1577.6,715.6 L1578.5,715.3 L1579.4,714.9 L1580.3,714.5 L1581.2,715.2 L1582.1,714.8 L1583.0,714.7 L1583.9,715.6 L1584.8,714.8 L1585.7,714.8 L1586.6,714.9 L1587.5,713.6 L1588.3,715.8 L1589.2,715.0 L1590.1,715.1 L1591.0,714.0 L1591.9,713.9 L1592.7,714.2 L1593.6,713.5 L1594.5,713.5 L1595.4,712.9 L1596.3,712.4 L1597.1,713.1 L1598.0,712.7 L1598.9,712.3 L1599.8,711.7 L1600.7,713.0 L1601.6,711.6 L1602.4,710.7 L1603.3,711.7 L1604.2,710.2 L1605.1,711.7 L1605.9,710.6 L1606.8,710.7 L1607.7,710.5 L1608.6,710.1 L1609.5,709.5 L1610.4,710.2 L1611.2,710.1 L1612.1,709.5 L1613.0,710.4 L1613.9,710.2 L1614.8,709.5 L1615.7,709.9 L1616.6,709.2 L1617.5,708.8 L1618.4,710.5 L1619.3,710.2 L1620.2,710.9 L1621.1,710.4 L1622.0,710.5 L1622.9,710.9 L1623.7,711.1 L1624.6,711.4 L1625.5,710.9 L1626.4,711.8 L1627.3,710.5 L1628.2,711.8 L1629.1,712.8 L1630.0,712.8 L1630.8,712.7 L1631.7,711.9 L1632.6,712.7 L1633.5,712.1 L1634.4,713.2 L1635.3,712.7 L1636.2,712.6 L1637.0,713.3 L1637.9,713.7 L1638.8,712.6 L1639.7,713.2 L1640.6,713.5 L1641.5,713.4 L1642.4,712.9 L1643.3,713.4 L1644.2,713.1 L1645.1,713.8 L1646.0,713.6 L1646.9,714.0 L1647.8,712.7 L1648.7,712.5 L1649.5,712.8 L1650.4,713.1 L1651.3,712.3 L1652.1,711.8 L1653.0,710.9 L1653.8,711.5 L1654.7,711.5 L1655.6,711.6 L1656.4,710.1 L1657.3,710.8 L1658.1,710.4 L1659.0,711.1 L1659.9,710.4 L1660.7,708.7 L1661.6,709.0 L1662.5,708.9 L1663.3,708.4 L1664.2,708.3 L1665.1,707.7 L1665.9,707.8 L1666.8,707.5 L1667.7,707.4 L1668.5,707.1 L1669.4,707.1 L1670.3,706.9 L1671.1,706.4 L1672.0,706.1 L1672.9,705.3 L1673.7,705.6 L1674.6,705.9 L1675.5,705.1 L1676.3,705.0 L1677.2,705.0 L1678.1,704.5 L1678.9,703.9 L1679.8,704.0 L1680.6,703.5 L1681.5,703.2 L1682.4,703.4 L1683.2,703.0 L1684.1,702.3 L1684.9,702.5 L1685.8,702.5 L1686.6,701.9 L1687.5,701.4 L1688.4,702.4 L1689.2,701.3 L1690.1,700.6 L1690.9,701.0 L1691.8,700.9 L1692.6,699.1 L1693.5,699.0 L1694.3,699.3 L1695.2,699.5 L1696.0,698.3 L1696.9,699.2 L1697.7,698.3 L1698.6,698.6 L1699.4,697.5 L1700.3,697.5 L1701.1,697.3 L1702.0,696.3 L1702.8,695.7 L1703.7,695.9 L1704.5,695.0 L1705.4,694.8 L1706.2,695.2 L1707.1,695.2 L1707.9,695.2 L1708.7,695.2 L1709.6,693.9 L1710.4,693.3 L1711.3,694.2 L1712.1,693.1 L1713.0,692.8 L1713.8,691.5 L1714.7,691.4 L1715.5,691.9 L1716.3,691.1 L1717.2,691.7 L1718.0,690.4 L1718.8,691.2 L1719.7,689.5 L1720.5,689.0 L1721.3,689.2 L1722.1,688.7 L1722.9,688.3 L1723.7,688.5 L1724.5,688.3 L1725.3,686.7 L1726.0,687.3 L1726.8,686.9 L1727.5,686.5 L1728.2,685.2 L1728.9,684.6 L1729.6,684.3 L1730.3,684.0 L1730.9,682.8 L1731.6,681.7 L1732.2,681.9 L1732.9,681.2 L1733.5,680.4 L1734.2,678.9 L1734.9,678.2 L1735.6,678.2 L1736.3,678.2 L1737.0,678.0 L1737.7,676.8 L1738.4,675.8 L1739.1,675.4 L1739.8,675.3 L1740.5,675.2 L1741.2,673.5 L1742.0,673.5 L1742.7,673.0 L1743.5,672.7 L1744.3,672.4 L1745.2,671.6 L1746.0,672.3 L1746.9,672.2 L1747.8,671.9 L1748.7,671.4 L1749.5,671.4 L1750.4,671.0 L1751.3,670.6 L1752.2,669.3 L1753.1,670.1 L1754.0,670.2 L1754.9,669.6 L1755.8,670.3 L1756.7,669.8 L1757.6,668.9 L1758.4,669.9 L1759.3,668.8 L1760.2,669.4 L1761.1,668.5 L1762.0,668.2 L1762.8,668.8 L1763.7,668.2 L1764.6,668.1 L1765.5,667.9 L1766.3,668.1 L1767.2,668.7 L1768.1,667.6 L1769.0,667.5 L1769.8,667.2 L1770.7,667.9 L1771.6,666.9 L1772.5,666.1 L1773.3,665.9 L1774.2,666.7 L1775.1,665.7 L1775.9,666.4 L1776.8,664.7 L1777.7,665.4 L1778.6,664.8 L1779.4,664.6 L1780.3,664.3 L1781.2,664.4 L1782.0,663.6 L1782.9,663.5 L1783.7,662.8 L1784.6,662.8 L1785.5,663.1 L1786.3,663.1 L1787.2,662.6 L1788.0,663.2 L1788.9,661.5"/>
<path d="M1025.7,783.8 L1026.6,785.3 L1027.4,784.5 L1028.3,785.4 L1029.2,785.2 L1030.1,784.9 L1031.0,784.5 L1031.9,785.5 L1032.8,785.2 L1033.7,786.5 L1034.6,785.1 L1035.5,785.4 L1036.4,785.1 L1037.3,784.9 L1038.2,785.7 L1039.1,785.6 L1039.9,784.1 L1040.8,784.3 L1041.6,784.2 L1042.5,783.5 L1043.3,784.1 L1044.1,783.3 L1045.0,782.8 L1045.8,782.9 L1046.7,782.7 L1047.6,782.0 L1048.4,781.9 L1049.3,782.1 L1050.2,781.9 L1051.0,781.1 L1051.9,781.7 L1052.8,780.4 L1053.7,780.8 L1054.5,781.2 L1055.4,781.6 L1056.3,780.6 L1057.2,780.2 L1058.1,781.2 L1059.0,780.5 L1059.9,779.7 L1060.8,779.6 L1061.7,778.5 L1062.6,779.9 L1063.5,779.2 L1064.4,779.8 L1065.3,778.8 L1066.2,779.3 L1067.0,780.3 L1067.9,780.3 L1068.8,781.5 L1069.7,780.6 L1070.6,781.2 L1071.5,780.7 L1072.4,780.5 L1073.3,780.6 L1074.2,780.8 L1075.1,781.2 L1076.0,781.8 L1076.9,780.4 L1077.8,779.8 L1078.7,780.3 L1079.6,779.2 L1080.5,780.0 L1081.3,778.8 L1082.2,778.7 L1083.1,779.9 L1084.0,779.7 L1084.9,779.1 L1085.8,779.0 L1086.6,778.8 L1087.5,778.5 L1088.4,777.6 L1089.2,777.8 L1090.1,776.5 L1090.9,776.8 L1091.8,776.8 L1092.7,776.7 L1093.5,776.8 L1094.4,776.1 L1095.3,775.7 L1096.1,775.7 L1097.0,775.4 L1097.8,775.0 L1098.7,775.7 L1099.6,775.0 L1100.4,775.1 L1101.3,773.9 L1102.1,773.8 L1103.0,773.6 L1103.9,773.2 L1104.7,773.2 L1105.6,772.7 L1106.4,772.8 L1107.3,773.1 L1108.1,771.8 L1109.0,771.9 L1109.8,771.9 L1110.7,772.2 L1111.5,770.7 L1112.4,771.0 L1113.3,770.4 L1114.1,770.6 L1114.9,770.5 L1115.8,769.1 L1116.6,769.0 L1117.4,769.1 L1118.3,768.6 L1119.1,767.1 L1119.9,769.1 L1120.7,767.1 L1121.4,766.7 L1122.1,766.4 L1122.9,766.2 L1123.6,765.4 L1124.3,765.3 L1125.0,764.1 L1125.6,763.4 L1126.3,762.6 L1127.0,762.3 L1127.6,762.3 L1128.3,761.2 L1129.0,761.1 L1129.7,760.0 L1130.4,760.2 L1131.0,758.7 L1131.7,757.0 L1132.3,757.1 L1133.0,756.6 L1133.6,756.0 L1134.2,755.7 L1134.8,754.7 L1135.5,753.7 L1136.1,754.0 L1136.8,752.7 L1137.4,753.0 L1138.1,751.7 L1138.8,751.3 L1139.6,750.4 L1140.3,749.8 L1141.2,750.2 L1142.0,749.3 L1142.9,748.5 L1143.7,749.1 L1144.6,748.8 L1145.5,748.4 L1146.3,748.6 L1147.1,747.3 L1147.9,747.7 L1148.6,746.9 L1149.3,746.3 L1149.9,745.6 L1150.4,744.7 L1151.0,744.0 L1151.4,743.6 L1151.9,742.9 L1152.4,742.4 L1152.8,740.9 L1153.2,740.7 L1153.7,740.1 L1154.1,738.2 L1154.5,738.4 L1154.8,737.2 L1155.2,736.3 L1155.5,735.4 L1155.9,734.7 L1156.2,733.5 L1156.5,732.9 L1156.8,732.0 L1157.1,731.3 L1157.4,730.1 L1157.7,729.2 L1158.0,728.8 L1158.4,727.6 L1158.7,727.0 L1159.0,726.1 L1159.4,725.1 L1159.7,724.1 L1160.1,723.8 L1160.4,722.9 L1160.7,721.8 L1161.1,721.3 L1161.4,720.2 L1161.7,719.5 L1162.1,718.4 L1162.4,717.7 L1162.7,717.0 L1163.0,715.9 L1163.3,715.3 L1163.6,714.2 L1163.9,713.6 L1164.2,712.6 L1164.5,711.8 L1164.8,710.9 L1165.1,710.1 L1165.3,709.3 L1165.6,708.4 L1165.8,707.5 L1166.1,706.7 L1166.3,705.8 L1166.5,704.9 L1166.7,704.1 L1166.9,703.2 L1167.1,702.3 L1167.3,701.4 L1167.5,700.5 L1167.7,699.7 L1167.8,698.8 L1168.0,697.9 L1168.1,697.0 L1168.3,696.1 L1168.4,695.2 L1168.6,694.3 L1168.7,693.4 L1168.8,692.5 L1169.0,691.7 L1169.1,690.8 L1169.2,689.9 L1169.3,689.0 L1169.5,688.1 L1169.6,687.2 L1169.7,686.3 L1169.8,685.4 L1169.9,684.5 L1170.1,683.6 L1170.2,682.7 L1170.3,681.9 L1170.4,681.0 L1170.6,680.1 L1170.7,679.2 L1170.8,678.3 L1170.9,677.4 L1171.1,676.5 L1171.2,675.6 L1171.3,674.7 L1171.4,673.8 L1171.5,672.9 L1171.7,672.1 L1171.8,671.2 L1171.9,670.3 L1172.0,669.4 L1172.1,668.5 L1172.2,667.6 L1172.3,666.7 L1172.5,665.8 L1172.6,664.9 L1172.7,664.0 L1172.8,663.1 L1172.9,662.2 L1173.0,661.3 L1173.1,660.4 L1173.2,659.5 L1173.3,658.7 L1173.4,657.8 L1173.5,656.9 L1173.6,656.0 L1173.7,655.1 L1173.8,654.2 L1173.9,653.3 L1174.0,652.4 L1174.0,651.5 L1174.1,650.6 L1174.2,649.7 L1174.3,648.8 L1174.4,647.9 L1174.4,647.0 L1174.5,646.1 L1174.6,645.2 L1174.7,644.3 L1174.7,643.4 L1174.8,642.5 L1174.9,641.6 L1174.9,640.7 L1175.0,639.8 L1175.1,638.9 L1175.1,638.0 L1175.2,637.1 L1175.2,636.2 L1175.3,635.3 L1175.4,634.5 L1175.4,633.6 L1175.5,632.7 L1175.5,631.8 L1175.6,630.9 L1175.6,630.0 L1175.7,629.1 L1175.7,628.2 L1175.8,627.3 L1175.9,626.4 L1175.9,625.5 L1176.0,624.6 L1176.0,623.7 L1176.1,622.8 L1176.1,621.9 L1176.2,621.0 L1176.2,620.1 L1176.3,619.2 L1176.3,618.3 L1176.4,617.4 L1176.4,616.5 L1176.5,615.6 L1176.5,614.7 L1176.6,613.8 L1176.6,612.9 L1176.7,612.0 L1176.7,611.1 L1176.8,610.2 L1176.8,609.3 L1176.8,608.4 L1176.9,607.5 L1176.9,606.6 L1177.0,605.7 L1177.0,604.8 L1177.1,603.9 L1177.1,603.0 L1177.2,602.1 L1177.2,601.2 L1177.3,600.3 L1177.3,599.4 L1177.4,598.5 L1177.4,597.6 L1177.5,596.7 L1177.5,595.8 L1177.6,594.9 L1177.6,594.0 L1177.7,593.1 L1177.7,592.2 L1177.8,591.3 L1177.8,590.4 L1177.9,589.5 L1177.9,588.6 L1178.0,587.7 L1178.0,586.8 L1178.1,585.9 L1178.2,585.0 L1178.2,584.1 L1178.3,583.2 L1178.3,582.3 L1178.4,581.5 L1178.4,580.6 L1178.5,579.7 L1178.5,578.8 L1178.6,577.9 L1178.6,577.0 L1178.7,576.1 L1178.7,575.2 L1178.7,574.3 L1178.8,573.4 L1178.8,572.5 L1178.9,571.6 L1178.9,570.7 L1179.0,569.8 L1179.0,568.9 L1179.0,568.0 L1179.1,567.1 L1179.1,566.2 L1179.1,565.3 L1179.2,564.4 L1179.2,563.5 L1179.2,562.6 L1179.2,561.7 L1179.3,560.8 L1179.3,559.9 L1179.3,559.0 L1179.4,558.1 L1179.4,557.2 L1179.4,556.3 L1179.4,555.4 L1179.4,554.5 L1179.5,553.6 L1179.5,552.7 L1179.5,551.8 L1179.5,550.9 L1179.6,550.0 L1179.6,549.1 L1179.6,548.2 L1179.6,547.3 L1179.6,546.4 L1179.7,545.5 L1179.7,544.6 L1179.7,543.7 L1179.7,542.8 L1179.7,541.9 L1179.7,541.0 L1179.8,540.1 L1179.8,539.2 L1179.8,538.3 L1179.8,537.4 L1179.8,536.5 L1179.8,535.6 L1179.9,534.7 L1179.9,533.8 L1179.9,532.9 L1179.9,532.0 L1179.9,531.1 L1179.9,530.2 L1180.0,529.3 L1180.0,528.4 L1180.0,527.5 L1180.0,526.6 L1180.0,525.7 L1180.0,524.8 L1180.0,523.9 L1180.1,523.0 L1180.1,522.1 L1180.1,521.2 L1180.1,520.3 L1180.1,519.4 L1180.1,518.5 L1180.1,517.6 L1180.2,516.7 L1180.2,515.8 L1180.2,514.9 L1180.2,514.0 L1180.2,513.1 L1180.2,512.2 L1180.2,511.3 L1180.2,510.4 L1180.3,509.5 L1180.3,508.6 L1180.3,507.7 L1180.3,506.8 L1180.3,505.9 L1180.3,505.0 L1180.3,504.1 L1180.3,503.2 L1180.4,502.3 L1180.4,501.4 L1180.4,500.5 L1180.4,499.6 L1180.4,498.7 L1180.4,497.8 L1180.4,496.9 L1180.4,496.0 L1180.5,495.1 L1180.5,494.2 L1180.5,493.3 L1180.5,492.4 L1180.5,491.5 L1180.5,490.6 L1180.5,489.7 L1180.5,488.8 L1180.5,487.9 L1180.6,487.0 L1180.6,486.1 L1180.6,485.2 L1180.6,484.3 L1180.6,483.4 L1180.6,482.5 L1180.6,481.6 L1180.6,480.7 L1180.6,479.8 L1180.7,478.9 L1180.7,478.0 L1180.7,477.1 L1180.7,476.2 L1180.7,475.3 L1180.7,474.4 L1180.7,473.5 L1180.7,472.6 L1180.7,471.7 L1180.8,470.8 L1180.8,469.9 L1180.8,469.0 L1180.8,468.1 L1180.8,467.2 L1180.8,466.3 L1180.8,465.4 L1180.8,464.5 L1180.8,463.6 L1180.8,462.7 L1180.9,461.8 L1180.9,460.9 L1180.9,460.0 L1180.9,459.1 L1180.9,458.2 L1180.9,457.3 L1180.9,456.4 L1180.9,455.5 L1180.9,454.6 L1181.0,453.7 L1181.0,452.8 L1181.0,451.9 L1181.0,451.0 L1181.0,450.1 L1181.0,449.2 L1181.0,448.3 L1181.0,447.4 L1181.0,446.5 L1181.1,445.6 L1181.1,444.7 L1181.1,443.8 L1181.1,442.9 L1181.1,442.0 L1181.1,441.1 L1181.1,440.2 L1181.1,439.3 L1181.1,438.4 L1181.1,437.5 L1181.2,436.6 L1181.2,435.7 L1181.2,434.8 L1181.2,433.9 L1181.2,433.0 L1181.2,432.1 L1181.2,431.2 L1181.2,430.3 L1181.2,429.4 L1181.2,428.5 L1181.3,427.6 L1181.3,426.7 L1181.3,425.8 L1181.3,424.9 L1181.3,424.0 L1181.3,423.1 L1181.3,422.2 L1181.3,421.3 L1181.3,420.4 L1181.3,419.5 L1181.3,418.6 L1181.4,417.7 L1181.4,416.8 L1181.4,415.9 L1181.4,415.0 L1181.4,414.1 L1181.4,413.2 L1181.4,412.3 L1181.4,411.4 L1181.4,410.5 L1181.4,409.6 L1181.4,408.7 L1181.5,407.8 L1181.5,406.9 L1181.5,406.0 L1181.5,405.1 L1181.5,404.2 L1181.5,403.3 L1181.5,402.4 L1181.5,401.5 L1181.5,400.6 L1181.5,399.7 L1181.5,398.8 L1181.5,397.9 L1181.6,397.0 L1181.6,396.1 L1181.6,395.2 L1181.6,394.3 L1181.6,393.4 L1181.6,392.5 L1181.6,391.6 L1181.6,390.7 L1181.6,389.8 L1181.6,388.9 L1181.6,388.0 L1181.7,387.1 L1181.7,386.2 L1181.7,385.3 L1181.7,384.4 L1181.7,383.5 L1181.7,382.6 L1181.7,381.7 L1181.7,380.8 L1181.7,379.9 L1181.7,379.0 L1181.7,378.1 L1181.7,377.2 L1181.8,376.3 L1181.8,375.4 L1181.8,374.5 L1181.8,373.6 L1181.8,372.7 L1181.8,371.8 L1181.8,370.9 L1181.8,370.0 L1181.8,369.1 L1181.8,368.2 L1181.8,367.3 L1181.8,366.4 L1181.9,365.5 L1181.9,364.6 L1181.9,363.7 L1181.9,362.8 L1181.9,361.9 L1181.9,361.1 L1181.9,360.2 L1181.9,359.3 L1181.9,358.4 L1181.9,357.5 L1181.9,356.6 L1181.9,355.7 L1182.0,354.8 L1182.0,353.9 L1182.0,353.0 L1182.0,352.1 L1182.0,351.2 L1182.0,350.3 L1182.0,349.4 L1182.0,348.5 L1182.0,347.6 L1182.0,346.7 L1182.0,345.8 L1182.1,344.9 L1182.1,344.0 L1182.1,343.1 L1182.1,342.2 L1182.1,341.3 L1182.1,340.4 L1182.1,339.5 L1182.1,338.6 L1182.1,337.7 L1182.1,336.8 L1182.1,335.9 L1182.1,335.0 L1182.2,334.1 L1182.2,333.2 L1182.2,332.3 L1182.2,331.4 L1182.2,330.5 L1182.2,329.6 L1182.2,328.7 L1182.2,327.8 L1182.2,326.9 L1182.2,326.0 L1182.2,325.1 L1182.3,324.2 L1182.3,323.3 L1182.3,322.4 L1182.3,321.5 L1182.3,320.6 L1182.3,319.7 L1182.3,318.8 L1182.3,317.9 L1182.3,317.0 L1182.3,316.1 L1182.3,315.2 L1182.4,314.3 L1182.4,313.4 L1182.4,312.5 L1182.4,311.6 L1182.4,310.7 L1182.4,309.8 L1182.4,308.9 L1182.4,308.0 L1182.4,307.1 L1182.4,306.2 L1182.4,305.3 L1182.4,304.4 L1182.5,303.5 L1182.5,302.6 L1182.5,301.7 L1182.5,300.8 L1182.5,299.9 L1182.5,299.0 L1182.5,298.1 L1182.5,297.2 L1182.5,296.3 L1182.5,295.4 L1182.5,294.5 L1182.6,293.6 L1182.6,292.7 L1182.6,291.8 L1182.6,290.9 L1182.6,290.0 L1182.6,289.1 L1182.6,288.2 L1182.6,287.3 L1182.6,286.4 L1182.6,285.5 L1182.6,284.6 L1182.7,283.7 L1182.7,282.8 L1182.7,281.9 L1182.7,281.0 L1182.7,280.1 L1182.7,279.2 L1182.7,278.3 L1182.7,277.4 L1182.7,276.5 L1182.7,275.6 L1182.7,274.7 L1182.7,273.8 L1182.8,272.9 L1182.8,272.0 L1182.8,271.1 L1182.8,270.2 L1182.8,269.3 L1182.8,268.4 L1182.8,267.5 L1182.8,266.6 L1182.8,265.7 L1182.8,264.8 L1182.8,263.9 L1182.8,263.0 L1182.8,262.1 L1182.9,261.2 L1182.9,260.3 L1182.9,259.4 L1182.9,258.5 L1182.9,257.6 L1182.9,256.7 L1182.9,255.8 L1182.9,254.9 L1182.9,254.0 L1182.9,253.1 L1182.9,252.2 L1182.9,251.3 L1182.9,250.4 L1183.0,249.5 L1183.0,248.6 L1183.0,247.7 L1183.0,246.8 L1183.0,245.9 L1183.0,245.0 L1183.0,244.1 L1183.0,243.2 L1183.0,242.3 L1183.0,241.4 L1183.0,240.5 L1183.0,239.6 L1183.0,238.7 L1183.0,237.8 L1183.1,236.9 L1183.1,236.0 L1183.1,235.1 L1183.1,234.2 L1183.1,233.3 L1183.1,232.4 L1183.1,231.5 L1183.1,230.6 L1183.1,229.7 L1183.1,228.8 L1183.1,227.9 L1183.1,227.0 L1183.1,226.1 L1183.1,225.2 L1183.1,224.3 L1183.2,223.4 L1183.2,222.5 L1183.2,221.6 L1183.2,220.7 L1183.2,219.8 L1183.2,218.9 L1183.2,218.0 L1183.2,217.1 L1183.2,216.2 L1183.2,215.3 L1183.2,214.4 L1183.2,213.5 L1183.2,212.6 L1183.2,211.7 L1183.2,210.8 L1183.2,209.9 L1183.3,209.0 L1183.3,208.1 L1183.3,207.2 L1183.3,206.3 L1183.3,205.4 L1183.3,204.5 L1183.3,203.6 L1183.3,202.7 L1183.3,201.8 L1183.3,200.9 L1183.3,200.0 M1200.5,200.0 L1200.5,200.9 L1200.5,201.8 L1200.5,202.7 L1200.5,203.6 L1200.5,204.5 L1200.5,205.4 L1200.5,206.3 L1200.5,207.2 L1200.5,208.1 L1200.5,209.0 L1200.5,209.9 L1200.5,210.8 L1200.5,211.7 L1200.5,212.6 L1200.5,213.5 L1200.5,214.4 L1200.5,215.3 L1200.5,216.2 L1200.6,217.1 L1200.6,218.0 L1200.6,218.9 L1200.6,219.8 L1200.6,220.7 L1200.6,221.6 L1200.6,222.5 L1200.6,223.4 L1200.6,224.3 L1200.6,225.2 L1200.6,226.1 L1200.6,227.0 L1200.6,227.9 L1200.6,228.8 L1200.6,229.7 L1200.6,230.6 L1200.6,231.5 L1200.6,232.4 L1200.6,233.3 L1200.6,234.2 L1200.6,235.1 L1200.7,236.0 L1200.7,236.9 L1200.7,237.8 L1200.7,238.7 L1200.7,239.6 L1200.7,240.5 L1200.7,241.4 L1200.7,242.3 L1200.7,243.2 L1200.7,244.1 L1200.7,245.0 L1200.7,245.9 L1200.7,246.8 L1200.7,247.7 L1200.7,248.6 L1200.7,249.5 L1200.7,250.4 L1200.8,251.3 L1200.8,252.2 L1200.8,253.1 L1200.8,254.0 L1200.8,254.9 L1200.8,255.8 L1200.8,256.7 L1200.8,257.6 L1200.8,258.5 L1200.8,259.4 L1200.9,260.3 L1200.9,261.2 L1200.9,262.1 L1200.9,263.0 L1200.9,263.9 L1200.9,264.8 L1200.9,265.7 L1200.9,266.6 L1200.9,267.5 L1201.0,268.4 L1201.0,269.3 L1201.0,270.2 L1201.0,271.1 L1201.0,272.0 L1201.0,272.9 L1201.0,273.8 L1201.1,274.7 L1201.1,275.6 L1201.1,276.5 L1201.1,277.4 L1201.1,278.3 L1201.1,279.2 L1201.1,280.1 L1201.2,281.0 L1201.2,281.9 L1201.2,282.8 L1201.2,283.7 L1201.2,284.6 L1201.2,285.5 L1201.2,286.4 L1201.3,287.3 L1201.3,288.2 L1201.3,289.1 L1201.3,290.0 L1201.3,290.9 L1201.3,291.8 L1201.3,292.7 L1201.4,293.6 L1201.4,294.5 L1201.4,295.4 L1201.4,296.3 L1201.4,297.2 L1201.4,298.1 L1201.5,299.0 L1201.5,299.9 L1201.5,300.8 L1201.5,301.7 L1201.5,302.6 L1201.5,303.5 L1201.6,304.4 L1201.6,305.3 L1201.6,306.2 L1201.6,307.1 L1201.6,308.0 L1201.6,308.9 L1201.7,309.8 L1201.7,310.7 L1201.7,311.6 L1201.7,312.5 L1201.7,313.4 L1201.7,314.3 L1201.8,315.2 L1201.8,316.1 L1201.8,317.0 L1201.8,317.9 L1201.8,318.8 L1201.8,319.7 L1201.9,320.6 L1201.9,321.5 L1201.9,322.4 L1201.9,323.3 L1201.9,324.2 L1201.9,325.1 L1202.0,326.0 L1202.0,326.9 L1202.0,327.8 L1202.0,328.7 L1202.0,329.6 L1202.1,330.5 L1202.1,331.4 L1202.1,332.3 L1202.1,333.2 L1202.1,334.1 L1202.1,335.0 L1202.2,335.9 L1202.2,336.8 L1202.2,337.7 L1202.2,338.6 L1202.2,339.5 L1202.3,340.4 L1202.3,341.3 L1202.3,342.2 L1202.3,343.1 L1202.3,344.0 L1202.3,344.9 L1202.4,345.8 L1202.4,346.7 L1202.4,347.6 L1202.4,348.5 L1202.4,349.4 L1202.5,350.3 L1202.5,351.2 L1202.5,352.1 L1202.5,353.0 L1202.5,353.9 L1202.5,354.8 L1202.6,355.7 L1202.6,356.6 L1202.6,357.5 L1202.6,358.4 L1202.6,359.3 L1202.7,360.2 L1202.7,361.1 L1202.7,362.0 L1202.7,362.9 L1202.7,363.8 L1202.8,364.7 L1202.8,365.6 L1202.8,366.5 L1202.8,367.4 L1202.8,368.3 L1202.8,369.2 L1202.9,370.1 L1202.9,371.0 L1202.9,371.9 L1202.9,372.8 L1202.9,373.7 L1203.0,374.6 L1203.0,375.5 L1203.0,376.4 L1203.0,377.3 L1203.0,378.2 L1203.1,379.0 L1203.1,379.9 L1203.1,380.8 L1203.1,381.7 L1203.1,382.6 L1203.2,383.5 L1203.2,384.4 L1203.2,385.3 L1203.2,386.2 L1203.2,387.1 L1203.2,388.0 L1203.3,388.9 L1203.3,389.8 L1203.3,390.7 L1203.3,391.6 L1203.3,392.5 L1203.4,393.4 L1203.4,394.3 L1203.4,395.2 L1203.4,396.1 L1203.4,397.0 L1203.5,397.9 L1203.5,398.8 L1203.5,399.7 L1203.5,400.6 L1203.5,401.5 L1203.6,402.4 L1203.6,403.3 L1203.6,404.2 L1203.6,405.1 L1203.6,406.0 L1203.6,406.9 L1203.7,407.8 L1203.7,408.7 L1203.7,409.6 L1203.7,410.5 L1203.7,411.4 L1203.8,412.3 L1203.8,413.2 L1203.8,414.1 L1203.8,415.0 L1203.8,415.9 L1203.9,416.8 L1203.9,417.7 L1203.9,418.6 L1203.9,419.5 L1203.9,420.4 L1204.0,421.3 L1204.0,422.2 L1204.0,423.1 L1204.0,424.0 L1204.0,424.9 L1204.1,425.8 L1204.1,426.7 L1204.1,427.6 L1204.1,428.5 L1204.1,429.4 L1204.2,430.3 L1204.2,431.2 L1204.2,432.1 L1204.2,433.0 L1204.2,433.9 L1204.3,434.8 L1204.3,435.7 L1204.3,436.6 L1204.3,437.5 L1204.3,438.4 L1204.4,439.3 L1204.4,440.2 L1204.4,441.1 L1204.4,442.0 L1204.5,442.9 L1204.5,443.8 L1204.5,444.7 L1204.5,445.6 L1204.5,446.5 L1204.6,447.4 L1204.6,448.3 L1204.6,449.2 L1204.6,450.1 L1204.6,451.0 L1204.7,451.9 L1204.7,452.8 L1204.7,453.7 L1204.7,454.6 L1204.8,455.5 L1204.8,456.4 L1204.8,457.3 L1204.8,458.2 L1204.8,459.1 L1204.9,460.0 L1204.9,460.9 L1204.9,461.8 L1204.9,462.7 L1204.9,463.6 L1205.0,464.5 L1205.0,465.4 L1205.0,466.3 L1205.0,467.2 L1205.1,468.1 L1205.1,469.0 L1205.1,469.9 L1205.1,470.8 L1205.1,471.7 L1205.2,472.6 L1205.2,473.5 L1205.2,474.4 L1205.2,475.3 L1205.3,476.2 L1205.3,477.1 L1205.3,478.0 L1205.3,478.9 L1205.3,479.8 L1205.4,480.7 L1205.4,481.6 L1205.4,482.5 L1205.4,483.4 L1205.5,484.3 L1205.5,485.2 L1205.5,486.1 L1205.5,487.0 L1205.6,487.9 L1205.6,488.8 L1205.6,489.7 L1205.6,490.6 L1205.6,491.5 L1205.7,492.4 L1205.7,493.3 L1205.7,494.2 L1205.7,495.1 L1205.8,496.0 L1205.8,496.9 L1205.8,497.8 L1205.8,498.7 L1205.9,499.6 L1205.9,500.5 L1205.9,501.4 L1205.9,502.3 L1206.0,503.2 L1206.0,504.1 L1206.0,505.0 L1206.0,505.9 L1206.0,506.8 L1206.1,507.7 L1206.1,508.6 L1206.1,509.5 L1206.1,510.4 L1206.2,511.3 L1206.2,512.2 L1206.2,513.1 L1206.2,514.0 L1206.3,514.9 L1206.3,515.8 L1206.3,516.7 L1206.3,517.6 L1206.4,518.5 L1206.4,519.4 L1206.4,520.3 L1206.4,521.2 L1206.5,522.1 L1206.5,523.0 L1206.5,523.9 L1206.5,524.8 L1206.6,525.7 L1206.6,526.6 L1206.6,527.5 L1206.6,528.4 L1206.7,529.3 L1206.7,530.2 L1206.7,531.1 L1206.7,532.0 L1206.8,532.9 L1206.8,533.8 L1206.8,534.7 L1206.9,535.6 L1206.9,536.5 L1206.9,537.4 L1206.9,538.3 L1207.0,539.2 L1207.0,540.1 L1207.0,541.0 L1207.0,541.9 L1207.1,542.8 L1207.1,543.7 L1207.1,544.6 L1207.1,545.5 L1207.2,546.4 L1207.2,547.3 L1207.2,548.2 L1207.3,549.1 L1207.3,550.0 L1207.3,550.9 L1207.3,551.8 L1207.4,552.7 L1207.4,553.6 L1207.4,554.5 L1207.5,555.4 L1207.5,556.3 L1207.5,557.2 L1207.5,558.1 L1207.6,559.0 L1207.6,559.9 L1207.6,560.8 L1207.7,561.7 L1207.7,562.6 L1207.7,563.5 L1207.7,564.4 L1207.8,565.3 L1207.8,566.2 L1207.8,567.1 L1207.9,568.0 L1207.9,568.9 L1207.9,569.8 L1208.0,570.7 L1208.0,571.6 L1208.0,572.5 L1208.0,573.4 L1208.1,574.3 L1208.1,575.2 L1208.1,576.1 L1208.2,577.0 L1208.2,577.9 L1208.2,578.8 L1208.3,579.6 L1208.3,580.5 L1208.3,581.4 L1208.3,582.3 L1208.4,583.2 L1208.4,584.1 L1208.4,585.0 L1208.5,585.9 L1208.5,586.8 L1208.5,587.7 L1208.6,588.6 L1208.6,589.5 L1208.6,590.4 L1208.7,591.3 L1208.7,592.2 L1208.7,593.1 L1208.8,594.0 L1208.8,594.9 L1208.8,595.8 L1208.9,596.7 L1208.9,597.6 L1208.9,598.5 L1209.0,599.4 L1209.0,600.3 L1209.0,601.2 L1209.1,602.1 L1209.1,603.0 L1209.1,603.9 L1209.2,604.8 L1209.2,605.7 L1209.2,606.6 L1209.3,607.5 L1209.3,608.4 L1209.4,609.3 L1209.4,610.2 L1209.4,611.1 L1209.5,612.0 L1209.5,612.9 L1209.5,613.8 L1209.6,614.7 L1209.6,615.6 L1209.7,616.5 L1209.7,617.4 L1209.7,618.3 L1209.8,619.2 L1209.8,620.1 L1209.9,621.0 L1209.9,621.9 L1209.9,622.8 L1210.0,623.7 L1210.0,624.6 L1210.1,625.5 L1210.1,626.4 L1210.2,627.3 L1210.2,628.2 L1210.3,629.1 L1210.3,630.0 L1210.3,630.9 L1210.4,631.8 L1210.4,632.7 L1210.5,633.6 L1210.5,634.5 L1210.6,635.4 L1210.6,636.3 L1210.7,637.2 L1210.7,638.1 L1210.8,639.0 L1210.9,639.9 L1210.9,640.8 L1211.0,641.7 L1211.0,642.6 L1211.1,643.5 L1211.1,644.4 L1211.2,645.3 L1211.2,646.2 L1211.3,647.1 L1211.4,648.0 L1211.4,648.9 L1211.5,649.8 L1211.5,650.7 L1211.6,651.6 L1211.7,652.5 L1211.7,653.4 L1211.8,654.2 L1211.9,655.1 L1211.9,656.0 L1212.0,656.9 L1212.1,657.8 L1212.1,658.7 L1212.2,659.6 L1212.3,660.5 L1212.3,661.4 L1212.4,662.3 L1212.5,663.2 L1212.5,664.1 L1212.6,665.0 L1212.7,665.9 L1212.7,666.8 L1212.8,667.7 L1212.9,668.6 L1213.0,669.5 L1213.0,670.4 L1213.1,671.3 L1213.2,672.2 L1213.3,673.1 L1213.4,674.0 L1213.5,674.9 L1213.5,675.8 L1213.6,676.7 L1213.7,677.6 L1213.8,678.5 L1213.9,679.4 L1214.0,680.3 L1214.1,681.1 L1214.1,682.0 L1214.2,682.9 L1214.3,683.8 L1214.4,684.7 L1214.5,685.6 L1214.6,686.5 L1214.7,687.4 L1214.8,688.3 L1214.9,689.2 L1214.9,690.1 L1215.0,691.0 L1215.1,691.9 L1215.2,692.8 L1215.3,693.7 L1215.4,694.6 L1215.5,695.5 L1215.6,696.4 L1215.7,697.3 L1215.8,698.2 L1215.9,699.1 L1216.0,699.9 L1216.1,700.8 L1216.2,701.7 L1216.3,702.6 L1216.4,703.5 L1216.5,704.4 L1216.6,705.3 L1216.7,706.2 L1216.8,707.1 L1216.9,708.0 L1217.0,708.9 L1217.1,709.8 L1217.2,710.7 L1217.3,711.6 L1217.4,712.5 L1217.5,713.4 L1217.6,714.2 L1217.7,715.1 L1217.8,716.0 L1217.9,716.9 L1218.0,717.8 L1218.1,718.7 L1218.2,719.6 L1218.4,720.5 L1218.5,721.4 L1218.7,722.3 L1218.8,723.2 L1219.0,724.1 L1219.2,724.9 L1219.3,725.8 L1219.5,726.7 L1219.7,727.6 L1219.9,728.5 L1220.1,729.3 L1220.3,730.2 L1220.6,731.1 L1220.8,731.9 L1221.1,732.8 L1221.4,733.7 L1221.7,734.6 L1222.0,735.3 L1222.3,736.1 L1222.6,737.4 L1222.9,737.9 L1223.3,738.7 L1223.6,740.0 L1224.0,740.2 L1224.3,741.1 L1224.7,742.0 L1225.0,742.9 L1225.4,743.4 L1225.8,745.0 L1226.1,744.9 L1226.5,746.0 L1226.9,747.0 L1227.2,747.9 L1227.6,748.3 L1228.0,749.0 L1228.4,750.1 L1228.9,750.7 L1229.3,751.8 L1229.8,752.1 L1230.2,753.2 L1230.7,754.7 L1231.3,755.0 L1231.8,756.1 L1232.3,756.7 L1232.9,757.3 L1233.5,757.4 L1234.1,758.2 L1234.7,758.5 L1235.4,760.7 L1236.0,761.1 L1236.6,759.9 L1237.3,762.2 L1238.0,761.7 L1238.7,762.1 L1239.4,763.1 L1240.1,763.5 L1240.8,764.1 L1241.6,764.2 L1242.3,766.4 L1243.1,766.1 L1243.9,766.8 L1244.7,766.2 L1245.5,766.5 L1246.3,767.1 L1247.1,765.9 L1247.9,767.0 L1248.8,767.5 L1249.6,768.2 L1250.5,769.9 L1251.3,769.4 L1252.1,770.0 L1253.0,770.3 L1253.9,770.1 L1254.7,770.0 L1255.6,769.4 L1256.5,770.1 L1257.4,769.8 L1258.3,769.8 L1259.1,770.0 L1259.9,768.7 L1260.7,769.0 L1261.4,768.6 L1262.3,768.6 L1263.1,767.5 L1263.9,768.8 L1264.8,767.5 L1265.6,767.0 L1266.5,767.7 L1267.4,767.6 L1268.3,767.3 L1269.2,767.0 L1270.0,767.2 L1270.9,767.8 L1271.7,768.4 L1272.5,768.0 L1273.3,769.3 L1274.2,768.7 L1275.0,769.4 L1275.9,769.8 L1276.7,769.6 L1277.6,770.2 L1278.5,770.3 L1279.4,769.6 L1280.3,769.9 L1281.1,770.7 L1282.0,771.7 L1282.8,772.2 L1283.4,771.6 L1284.0,772.9 L1284.6,774.0 L1285.3,773.9 L1286.2,774.4 L1287.0,773.2 L1287.8,772.6 L1288.6,772.3 L1289.5,772.2 L1290.4,772.5 L1291.2,771.2 L1292.1,772.2 L1293.0,773.0 L1293.8,773.0 L1294.7,774.2 L1295.5,773.4 L1296.4,773.5 L1297.3,774.2 L1298.2,774.9 L1299.1,773.3 L1299.9,774.1 L1300.8,773.9 L1301.7,773.8 L1302.6,774.3 L1303.4,773.6 L1304.3,773.5 L1305.2,773.3 L1306.1,772.5 L1307.0,771.9 L1307.9,772.7 L1308.7,772.9 L1309.6,773.0 L1310.4,773.4 L1311.2,773.9 L1312.0,774.5 L1312.9,775.1 L1313.7,776.0 L1314.5,775.9 L1315.3,776.0 L1316.1,776.6 L1316.9,777.0 L1317.7,777.4 L1318.4,778.1 L1319.2,778.9 L1320.0,778.6 L1320.8,779.8 L1321.6,779.0 L1322.4,780.4 L1323.3,780.9 L1324.2,780.0 L1325.1,781.0 L1326.0,780.8 L1326.9,780.8 L1327.8,781.0 L1328.7,781.3 L1329.6,780.5 L1330.5,781.1 L1331.3,780.4 L1332.2,780.7 L1333.1,781.7 L1333.9,780.9 L1334.7,782.7 L1335.5,783.0 L1336.3,782.7 L1337.2,783.1 L1338.0,783.5 L1338.9,783.7 L1339.8,784.6 L1340.7,784.8 L1341.6,783.6 L1342.5,783.2 L1343.4,783.3 L1344.3,783.5 L1345.2,783.4 L1346.1,783.7 L1347.0,784.3 L1347.9,782.8 L1348.8,783.2 L1349.7,781.8 L1350.6,782.6 L1351.5,782.4 L1352.3,781.9 L1353.2,783.0 L1354.1,782.1 L1355.0,782.4 L1355.9,782.2 L1356.8,782.5 L1357.7,782.1 L1358.5,781.9 L1359.4,783.8 L1360.2,783.6 L1361.0,783.7 L1361.8,785.2 L1362.6,784.1 L1363.4,785.5 L1364.3,784.8 L1365.0,786.3 L1365.8,786.9 L1366.6,786.6 L1367.4,786.8 L1368.2,787.8 L1368.9,788.2 L1369.7,788.6 L1370.6,788.5 L1371.4,789.0 L1372.3,789.5 L1373.1,790.0 L1374.0,790.9 L1374.9,789.9 L1375.8,790.4 L1376.7,789.9 L1377.6,790.0 L1378.5,791.2 L1379.4,790.2 L1380.2,791.5 L1381.1,791.3 L1382.0,792.0 L1382.9,791.3 L1383.8,791.3 L1384.6,793.0 L1385.5,792.0 L1386.4,791.9 L1387.3,792.2 L1388.2,792.3 L1389.1,791.5 L1390.0,793.0 L1390.9,792.2 L1391.7,792.6 L1392.6,793.1 L1393.5,792.4 L1394.4,791.4 L1395.3,792.2 L1396.2,791.5 L1397.1,791.6 L1397.9,791.3 L1398.8,791.0 L1399.7,789.9 L1400.5,789.3 L1401.4,790.2 L1402.2,789.2 L1403.1,789.7 L1403.9,788.9 L1404.8,788.6 L1405.6,789.0 L1406.4,787.3 L1407.2,787.4 L1408.1,787.5 L1408.9,787.3 L1409.7,786.4 L1410.6,786.4 L1411.5,785.4 L1412.3,786.8 L1413.2,785.3 L1414.1,786.0 L1415.0,785.0 L1415.9,785.3 L1416.8,785.1 L1417.7,785.0 L1418.6,784.9 L1419.5,785.7 L1420.4,785.3 L1421.3,784.9 L1422.1,786.3 L1422.9,786.5 L1423.7,786.6 L1424.4,787.0 L1425.2,787.6 L1425.9,787.4 L1426.7,788.9 L1427.4,789.1 L1428.2,789.6 L1428.9,790.3 L1429.6,790.8 L1430.3,791.0 L1431.0,792.4 L1431.7,792.0 L1432.5,792.2 L1433.3,793.7 L1434.2,792.9 L1435.0,793.6 L1435.9,794.5 L1436.8,794.2 L1437.7,794.6 L1438.5,794.4 L1439.4,794.4 L1440.3,794.5 L1441.2,795.3 L1442.1,795.0 L1443.0,794.9 L1443.9,795.5 L1444.8,794.7 L1445.7,795.6 L1446.6,795.8 L1447.5,795.8 L1448.3,796.2 L1449.2,795.6 L1450.1,795.4 L1451.0,795.8 L1451.9,795.7 L1452.8,795.3 L1453.7,796.4 L1454.6,795.8 L1455.5,796.4 L1456.4,796.6 L1457.3,794.8 L1458.2,795.7 L1459.1,796.0 L1460.0,796.6 L1460.9,796.0 L1461.8,796.7 L1462.7,796.6 L1463.6,796.4 L1464.5,796.5 L1465.4,795.8 L1466.3,796.0 L1467.2,796.8 L1468.1,795.9 L1469.0,796.7 L1469.9,796.7 L1470.8,796.1 L1471.7,795.9 L1472.6,797.0 L1473.5,797.1 L1474.4,797.6 L1475.3,796.9 L1476.2,797.2 L1477.1,796.2 L1478.0,796.7 L1478.9,797.4 L1479.8,796.7 L1480.7,797.3 L1481.6,797.8 L1482.5,797.0 L1483.4,796.9 L1484.3,796.8 L1485.2,797.1 L1486.1,797.4 L1487.0,797.4 L1487.9,796.9 L1488.8,797.1 L1489.7,798.2 L1490.6,798.9 L1491.5,798.2 L1492.4,798.8 L1493.3,797.2 L1494.2,797.9 L1495.1,796.8 L1496.0,798.4 L1496.9,798.2 L1497.8,797.6 L1498.7,797.5 L1499.6,797.7 L1500.5,798.4 L1501.3,798.0 L1502.2,797.9 L1503.1,797.7 L1504.0,798.4 L1504.9,798.3 L1505.8,798.4 L1506.7,797.8 L1507.6,799.1 L1508.5,797.9 L1509.4,798.6 L1510.3,798.8 L1511.2,798.5 L1512.1,798.6 L1513.0,799.4 L1513.9,798.1 L1514.8,799.3 L1515.7,797.9 L1516.6,798.4 L1517.5,798.9 L1518.4,799.5 L1519.3,800.0 L1520.2,797.9 L1521.1,798.4 L1522.0,799.2 L1522.9,799.6 L1523.8,799.2 L1524.7,800.0 L1525.6,799.1 L1526.5,798.4 L1527.4,798.1 L1528.3,798.4 L1529.2,799.0 L1530.1,798.9 L1531.0,797.3 L1531.9,798.7 L1532.8,798.7 L1533.7,798.5 L1534.6,798.6 L1535.5,797.5 L1536.4,798.4 L1537.3,796.9 L1538.2,797.4 L1539.1,798.8 L1540.0,797.4 L1540.9,797.0 L1541.8,797.8 L1542.7,798.0 L1543.6,798.6 L1544.5,797.1 L1545.4,797.7 L1546.3,796.6 L1547.2,797.3 L1548.1,797.4 L1549.0,796.7 L1549.9,797.6 L1550.7,797.1 L1551.6,797.3 L1552.5,796.9 L1553.4,796.9 L1554.3,796.7 L1555.2,796.9 L1556.1,797.2 L1557.0,796.1 L1557.9,796.9 L1558.8,797.0 L1559.7,796.6 L1560.6,796.7 L1561.5,798.3 L1562.4,797.3 L1563.3,797.2 L1564.2,797.4 L1565.1,798.0 L1566.0,796.3 L1566.9,796.6 L1567.8,797.1 L1568.7,797.5 L1569.6,797.4 L1570.5,797.2 L1571.4,797.2 L1572.3,797.3 L1573.2,798.2 L1574.1,797.0 L1575.0,796.9 L1575.9,797.2 L1576.8,798.0 L1577.7,798.6 L1578.6,797.5 L1579.5,797.7 L1580.4,797.4 L1581.3,798.0 L1582.2,797.6 L1583.1,798.0 L1584.0,797.1 L1584.9,796.9 L1585.8,797.5 L1586.7,796.9 L1587.6,796.9 L1588.5,797.7 L1589.4,797.0 L1590.2,797.5 L1591.1,796.2 L1592.0,796.8 L1592.9,796.6 L1593.8,795.3 L1594.7,795.6 L1595.5,794.6 L1596.4,796.3 L1597.3,795.3 L1598.2,795.0 L1599.1,794.8 L1600.0,795.8 L1600.9,794.9 L1601.8,795.2 L1602.7,794.6 L1603.6,794.4 L1604.5,794.6 L1605.4,794.3 L1606.3,794.6 L1607.1,793.6 L1608.0,794.2 L1608.9,794.2 L1609.8,793.7 L1610.7,794.0 L1611.6,794.0 L1612.5,793.3 L1613.4,793.6 L1614.3,794.3 L1615.2,792.2 L1616.1,794.0 L1617.0,794.2 L1617.9,793.9 L1618.8,794.5 L1619.7,793.8 L1620.6,794.1 L1621.5,794.4 L1622.4,793.8 L1623.3,793.0 L1624.2,794.1 L1625.1,794.7 L1626.0,794.0 L1626.9,793.9 L1627.8,794.3 L1628.7,795.7 L1629.6,794.8 L1630.5,794.6 L1631.4,794.7 L1632.3,795.1 L1633.1,794.8 L1634.0,795.2 L1634.9,794.7 L1635.8,794.9 L1636.7,795.1 L1637.6,795.7 L1638.5,794.3 L1639.4,793.9 L1640.3,795.5 L1641.2,795.2 L1642.1,794.2 L1643.0,794.8 L1643.9,794.3 L1644.8,794.4 L1645.7,793.1 L1646.6,793.9 L1647.5,794.7 L1648.4,793.4 L1649.3,793.1 L1650.2,793.7 L1651.1,793.0 L1651.9,793.8 L1652.8,792.6 L1653.7,791.9 L1654.6,793.4 L1655.5,793.1 L1656.4,793.5 L1657.3,792.3 L1658.2,792.1 L1659.1,792.1 L1659.9,792.9 L1660.8,791.5 L1661.7,791.6 L1662.6,791.6 L1663.5,791.0 L1664.3,791.4 L1665.2,791.2 L1666.1,789.4 L1667.0,791.1 L1667.9,790.0 L1668.7,790.0 L1669.6,790.5 L1670.5,789.6 L1671.4,790.2 L1672.3,790.1 L1673.1,788.9 L1674.0,789.8 L1674.9,789.5 L1675.8,788.6 L1676.7,788.8 L1677.5,788.7 L1678.4,786.9 L1679.3,787.4 L1680.2,787.5 L1681.1,786.9 L1681.9,787.5 L1682.8,786.7 L1683.7,786.9 L1684.6,786.4 L1685.5,786.9 L1686.4,786.6 L1687.2,785.8 L1688.1,785.9 L1689.0,786.2 L1689.9,785.5 L1690.7,785.9 L1691.6,785.9 L1692.5,784.7 L1693.4,784.4 L1694.3,783.9 L1695.1,784.5 L1696.0,784.0 L1696.9,784.8 L1697.8,783.7 L1698.7,784.1 L1699.5,783.7 L1700.4,783.0 L1701.3,783.1 L1702.2,783.8 L1703.0,781.7 L1703.9,783.3 L1704.8,782.2 L1705.7,782.1 L1706.6,781.6 L1707.4,781.9 L1708.3,781.5 L1709.2,781.2 L1710.1,780.9 L1711.0,779.5 L1711.8,780.9 L1712.7,780.6 L1713.6,780.8 L1714.5,780.8 L1715.3,779.8 L1716.2,780.0 L1717.1,779.6 L1717.9,779.5 L1718.8,779.6 L1719.7,779.4 L1720.5,778.7 L1721.4,777.9 L1722.2,778.7 L1723.0,778.0 L1723.9,777.8 L1724.7,776.0 L1725.5,775.6 L1726.3,775.0 L1727.1,775.7 L1727.9,775.0 L1728.7,775.7 L1729.5,774.3 L1730.3,774.4 L1731.0,773.9 L1731.8,773.1 L1732.6,772.8 L1733.4,772.2 L1734.1,771.5 L1734.9,771.3 L1735.6,770.0 L1736.3,770.6 L1737.0,769.7 L1737.7,769.5 L1738.5,767.6 L1739.3,768.0 L1740.1,767.4 L1740.9,767.0 L1741.8,766.2 L1742.7,766.5 L1743.6,766.8 L1744.5,767.1 L1745.4,766.5 L1746.3,766.0 L1747.2,766.6 L1748.1,766.3 L1749.0,766.2 L1749.9,766.6 L1750.8,766.9 L1751.7,766.0 L1752.6,766.6 L1753.5,766.8 L1754.4,766.1 L1755.3,766.3 L1756.2,765.7 L1757.0,765.6 L1757.9,765.6 L1758.8,764.9 L1759.7,764.9 L1760.6,764.4 L1761.5,764.4 L1762.3,764.3 L1763.2,764.5 L1764.1,763.6 L1765.0,763.4 L1765.8,763.9 L1766.7,763.8 L1767.6,762.9 L1768.5,762.8 L1769.4,763.0 L1770.2,763.1 L1771.1,762.8 L1772.0,761.6 L1772.9,762.2 L1773.8,761.7 L1774.7,761.9 L1775.5,761.3 L1776.4,760.8 L1777.3,761.8 L1778.2,762.2 L1779.1,762.6 L1780.0,761.3 L1780.9,761.3 L1781.8,761.0 L1782.7,760.3 L1783.5,761.2 L1784.4,761.8 L1785.3,760.9 L1786.2,759.8 L1787.1,760.5 L1788.0,760.1 L1788.9,760.3"/>
<path d="M1025.7,872.0 L1026.6,871.7 L1027.5,870.8 L1028.3,871.1 L1029.2,871.9 L1030.1,871.8 L1031.0,871.6 L1031.9,872.8 L1032.8,872.0 L1033.7,871.9 L1034.6,872.0 L1035.5,871.5 L1036.4,872.2 L1037.3,870.9 L1038.2,871.6 L1039.1,871.8 L1039.9,872.2 L1040.8,871.4 L1041.7,870.1 L1042.5,870.9 L1043.4,870.6 L1044.2,870.0 L1045.1,869.5 L1046.0,869.2 L1046.8,869.4 L1047.7,869.4 L1048.6,870.3 L1049.5,868.8 L1050.4,868.2 L1051.2,867.3 L1052.1,867.4 L1053.0,867.7 L1053.9,867.9 L1054.8,867.8 L1055.6,868.1 L1056.5,868.2 L1057.4,868.0 L1058.3,866.7 L1059.2,866.8 L1060.1,866.6 L1061.0,866.1 L1061.9,866.0 L1062.8,866.9 L1063.7,866.2 L1064.6,866.9 L1065.5,866.5 L1066.4,866.4 L1067.3,866.7 L1068.2,866.7 L1069.1,868.1 L1070.0,866.4 L1070.9,867.1 L1071.8,866.3 L1072.7,866.8 L1073.6,867.6 L1074.5,867.3 L1075.4,867.8 L1076.3,866.0 L1077.2,866.5 L1078.1,867.2 L1079.0,866.3 L1079.9,866.7 L1080.8,866.3 L1081.7,867.3 L1082.6,866.6 L1083.5,866.8 L1084.4,866.2 L1085.3,866.6 L1086.2,867.4 L1087.1,866.8 L1087.9,866.2 L1088.8,865.4 L1089.7,865.6 L1090.5,865.7 L1091.3,866.2 L1092.2,865.0 L1093.0,864.5 L1093.8,864.1 L1094.7,863.3 L1095.6,863.9 L1096.4,863.1 L1097.3,863.0 L1098.2,862.7 L1099.0,863.8 L1099.9,863.4 L1100.8,862.2 L1101.7,862.6 L1102.5,862.2 L1103.4,862.1 L1104.3,861.4 L1105.2,861.6 L1106.0,861.9 L1106.9,860.8 L1107.8,861.5 L1108.7,860.8 L1109.5,861.0 L1110.4,859.7 L1111.3,860.3 L1112.2,859.3 L1113.0,859.1 L1113.9,859.1 L1114.8,859.9 L1115.7,858.7 L1116.5,858.9 L1117.4,858.4 L1118.2,857.8 L1119.1,857.1 L1119.9,856.8 L1120.6,855.9 L1121.3,856.4 L1122.0,855.5 L1122.6,854.9 L1123.2,854.4 L1123.8,854.5 L1124.5,852.8 L1125.1,852.6 L1125.8,852.1 L1126.5,851.5 L1127.2,850.4 L1127.9,850.5 L1128.5,848.9 L1129.2,848.6 L1129.9,847.1 L1130.6,847.5 L1131.3,846.9 L1132.0,846.3 L1132.7,845.7 L1133.5,846.0 L1134.2,845.7 L1135.0,846.0 L1135.8,843.9 L1136.6,844.1 L1137.4,843.7 L1138.2,843.6 L1139.1,842.4 L1139.9,842.2 L1140.8,842.2 L1141.6,841.6 L1142.4,841.8 L1143.2,840.9 L1144.0,840.8 L1144.8,840.9 L1145.5,839.7 L1146.2,839.3 L1146.8,838.7 L1147.4,838.0 L1148.0,837.0 L1148.6,835.4 L1149.1,834.7 L1149.6,835.3 L1150.1,833.5 L1150.7,833.1 L1151.2,832.9 L1151.6,831.4 L1152.1,830.1 L1152.6,830.0 L1153.1,829.8 L1153.6,829.0 L1154.1,827.9 L1154.6,827.8 L1155.0,826.8 L1155.5,824.9 L1155.9,824.3 L1156.4,824.2 L1156.8,822.9 L1157.2,823.0 L1157.7,821.3 L1158.1,821.2 L1158.4,820.0 L1158.8,819.5 L1159.2,819.0 L1159.5,817.7 L1159.8,816.4 L1160.1,815.9 L1160.4,815.1 L1160.7,814.3 L1161.0,813.5 L1161.3,812.6 L1161.5,811.7 L1161.8,810.9 L1162.1,810.0 L1162.3,809.1 L1162.6,808.3 L1162.8,807.4 L1163.1,806.6 L1163.4,805.7 L1163.7,804.9 L1164.0,803.9 L1164.3,803.3 L1164.6,802.2 L1164.9,801.3 L1165.2,800.7 L1165.5,799.8 L1165.8,799.0 L1166.1,798.1 L1166.3,797.2 L1166.6,796.3 L1166.8,795.5 L1167.1,794.6 L1167.3,793.7 L1167.5,792.9 L1167.7,792.0 L1167.9,791.1 L1168.1,790.2 L1168.2,789.3 L1168.4,788.4 L1168.6,787.6 L1168.7,786.7 L1168.9,785.8 L1169.0,784.9 L1169.2,784.0 L1169.3,783.1 L1169.4,782.2 L1169.6,781.3 L1169.7,780.5 L1169.8,779.6 L1170.0,778.7 L1170.1,777.8 L1170.2,776.9 L1170.3,776.0 L1170.5,775.1 L1170.6,774.2 L1170.7,773.3 L1170.8,772.4 L1170.9,771.6 L1171.0,770.7 L1171.2,769.8 L1171.3,768.9 L1171.4,768.0 L1171.5,767.1 L1171.6,766.2 L1171.7,765.3 L1171.8,764.4 L1171.9,763.5 L1172.0,762.6 L1172.2,761.7 L1172.3,760.8 L1172.4,759.9 L1172.5,759.1 L1172.6,758.2 L1172.7,757.3 L1172.8,756.4 L1172.9,755.5 L1173.0,754.6 L1173.1,753.7 L1173.2,752.8 L1173.3,751.9 L1173.4,751.0 L1173.4,750.1 L1173.5,749.2 L1173.6,748.3 L1173.7,747.4 L1173.8,746.5 L1173.9,745.6 L1174.0,744.7 L1174.1,743.9 L1174.2,743.0 L1174.2,742.1 L1174.3,741.2 L1174.4,740.3 L1174.5,739.4 L1174.6,738.5 L1174.7,737.6 L1174.7,736.7 L1174.8,735.8 L1174.9,734.9 L1175.0,734.0 L1175.0,733.1 L1175.1,732.2 L1175.2,731.3 L1175.3,730.4 L1175.3,729.5 L1175.4,728.6 L1175.5,727.7 L1175.5,726.8 L1175.6,725.9 L1175.7,725.0 L1175.7,724.1 L1175.8,723.2 L1175.9,722.3 L1175.9,721.4 L1176.0,720.6 L1176.1,719.7 L1176.1,718.8 L1176.2,717.9 L1176.2,717.0 L1176.3,716.1 L1176.4,715.2 L1176.4,714.3 L1176.5,713.4 L1176.5,712.5 L1176.6,711.6 L1176.7,710.7 L1176.7,709.8 L1176.8,708.9 L1176.8,708.0 L1176.9,707.1 L1176.9,706.2 L1177.0,705.3 L1177.0,704.4 L1177.1,703.5 L1177.2,702.6 L1177.2,701.7 L1177.3,700.8 L1177.3,699.9 L1177.4,699.0 L1177.4,698.1 L1177.5,697.2 L1177.5,696.3 L1177.6,695.4 L1177.6,694.5 L1177.7,693.6 L1177.7,692.7 L1177.7,691.8 L1177.8,690.9 L1177.8,690.0 L1177.9,689.1 L1177.9,688.2 L1178.0,687.3 L1178.0,686.4 L1178.1,685.5 L1178.1,684.6 L1178.2,683.7 L1178.2,682.8 L1178.2,681.9 L1178.3,681.0 L1178.3,680.1 L1178.4,679.3 L1178.4,678.4 L1178.5,677.5 L1178.5,676.6 L1178.5,675.7 L1178.6,674.8 L1178.6,673.9 L1178.7,673.0 L1178.7,672.1 L1178.7,671.2 L1178.8,670.3 L1178.8,669.4 L1178.8,668.5 L1178.9,667.6 L1178.9,666.7 L1179.0,665.8 L1179.0,664.9 L1179.0,664.0 L1179.1,663.1 L1179.1,662.2 L1179.1,661.3 L1179.2,660.4 L1179.2,659.5 L1179.2,658.6 L1179.3,657.7 L1179.3,656.8 L1179.3,655.9 L1179.4,655.0 L1179.4,654.1 L1179.4,653.2 L1179.5,652.3 L1179.5,651.4 L1179.5,650.5 L1179.6,649.6 L1179.6,648.7 L1179.6,647.8 L1179.6,646.9 L1179.7,646.0 L1179.7,645.1 L1179.7,644.2 L1179.8,643.3 L1179.8,642.4 L1179.8,641.5 L1179.9,640.6 L1179.9,639.7 L1179.9,638.8 L1179.9,637.9 L1180.0,637.0 L1180.0,636.1 L1180.0,635.2 L1180.1,634.3 L1180.1,633.4 L1180.1,632.5 L1180.1,631.6 L1180.2,630.7 L1180.2,629.8 L1180.2,628.9 L1180.3,628.0 L1180.3,627.1 L1180.3,626.2 L1180.3,625.3 L1180.4,624.4 L1180.4,623.5 L1180.4,622.6 L1180.5,621.7 L1180.5,620.8 L1180.5,619.9 L1180.5,619.0 L1180.6,618.1 L1180.6,617.2 L1180.6,616.3 L1180.7,615.4 L1180.7,614.5 L1180.7,613.6 L1180.7,612.7 L1180.8,611.8 L1180.8,610.9 L1180.8,610.0 L1180.8,609.1 L1180.9,608.3 L1180.9,607.4 L1180.9,606.5 L1181.0,605.6 L1181.0,604.7 L1181.0,603.8 L1181.0,602.9 L1181.1,602.0 L1181.1,601.1 L1181.1,600.2 L1181.2,599.3 L1181.2,598.4 L1181.2,597.5 L1181.2,596.6 L1181.3,595.7 L1181.3,594.8 L1181.3,593.9 L1181.4,593.0 L1181.4,592.1 L1181.4,591.2 L1181.5,590.3 L1181.5,589.4 L1181.5,588.5 L1181.6,587.6 L1181.6,586.7 L1181.6,585.8 L1181.7,584.9 L1181.7,584.0 L1181.7,583.1 L1181.8,582.2 L1181.8,581.3 L1181.8,580.4 L1181.9,579.5 L1181.9,578.6 L1181.9,577.7 L1182.0,576.8 L1182.0,575.9 L1182.0,575.0 L1182.0,574.1 L1182.1,573.2 L1182.1,572.3 L1182.1,571.4 L1182.2,570.5 L1182.2,569.6 L1182.2,568.7 L1182.2,567.8 L1182.2,566.9 L1182.3,566.0 L1182.3,565.1 L1182.3,564.2 L1182.3,563.3 L1182.4,562.4 L1182.4,561.5 L1182.4,560.6 L1182.4,559.7 L1182.4,558.8 L1182.4,557.9 L1182.5,557.0 L1182.5,556.1 L1182.5,555.2 L1182.5,554.3 L1182.5,553.4 L1182.5,552.5 L1182.5,551.6 L1182.6,550.7 L1182.6,549.8 L1182.6,548.9 L1182.6,548.0 L1182.6,547.1 L1182.6,546.2 L1182.6,545.3 L1182.7,544.4 L1182.7,543.5 L1182.7,542.6 L1182.7,541.7 L1182.7,540.8 L1182.7,539.9 L1182.7,539.0 L1182.7,538.1 L1182.8,537.2 L1182.8,536.3 L1182.8,535.4 L1182.8,534.5 L1182.8,533.6 L1182.8,532.7 L1182.8,531.8 L1182.8,530.9 L1182.9,530.0 L1182.9,529.1 L1182.9,528.2 L1182.9,527.3 L1182.9,526.4 L1182.9,525.5 L1182.9,524.6 L1182.9,523.7 L1182.9,522.8 L1182.9,521.9 L1183.0,521.0 L1183.0,520.1 L1183.0,519.2 L1183.0,518.3 L1183.0,517.4 L1183.0,516.5 L1183.0,515.7 L1183.0,514.8 L1183.0,513.9 L1183.0,513.0 L1183.1,512.1 L1183.1,511.2 L1183.1,510.3 L1183.1,509.4 L1183.1,508.5 L1183.1,507.6 L1183.1,506.7 L1183.1,505.8 L1183.1,504.9 L1183.1,504.0 L1183.1,503.1 L1183.2,502.2 L1183.2,501.3 L1183.2,500.4 L1183.2,499.5 L1183.2,498.6 L1183.2,497.7 L1183.2,496.8 L1183.2,495.9 L1183.2,495.0 L1183.2,494.1 L1183.2,493.2 L1183.2,492.3 L1183.3,491.4 L1183.3,490.5 L1183.3,489.6 L1183.3,488.7 L1183.3,487.8 L1183.3,486.9 L1183.3,486.0 L1183.3,485.1 L1183.3,484.2 L1183.3,483.3 L1183.3,482.4 L1183.3,481.5 L1183.4,480.6 L1183.4,479.7 L1183.4,478.8 L1183.4,477.9 L1183.4,477.0 L1183.4,476.1 L1183.4,475.2 L1183.4,474.3 L1183.4,473.4 L1183.4,472.5 L1183.4,471.6 L1183.4,470.7 L1183.4,469.8 L1183.5,468.9 L1183.5,468.0 L1183.5,467.1 L1183.5,466.2 L1183.5,465.3 L1183.5,464.4 L1183.5,463.5 L1183.5,462.6 L1183.5,461.7 L1183.5,460.8 L1183.5,459.9 L1183.5,459.0 L1183.5,458.1 L1183.6,457.2 L1183.6,456.3 L1183.6,455.4 L1183.6,454.5 L1183.6,453.6 L1183.6,452.7 L1183.6,451.8 L1183.6,450.9 L1183.6,450.0 L1183.6,449.1 L1183.6,448.2 L1183.6,447.3 L1183.6,446.4 L1183.6,445.5 L1183.7,444.6 L1183.7,443.7 L1183.7,442.8 L1183.7,441.9 L1183.7,441.0 L1183.7,440.1 L1183.7,439.2 L1183.7,438.3 L1183.7,437.4 L1183.7,436.5 L1183.7,435.6 L1183.7,434.7 L1183.7,433.8 L1183.7,432.9 L1183.8,432.0 L1183.8,431.1 L1183.8,430.2 L1183.8,429.3 L1183.8,428.4 L1183.8,427.5 L1183.8,426.6 L1183.8,425.7 L1183.8,424.8 L1183.8,423.9 L1183.8,423.0 L1183.8,422.1 L1183.8,421.2 L1183.8,420.3 L1183.8,419.4 L1183.9,418.5 L1183.9,417.6 L1183.9,416.7 L1183.9,415.8 L1183.9,414.9 L1183.9,414.0 L1183.9,413.1 L1183.9,412.2 L1183.9,411.3 L1183.9,410.4 L1183.9,409.5 L1183.9,408.6 L1183.9,407.7 L1183.9,406.8 L1184.0,405.9 L1184.0,405.0 L1184.0,404.1 L1184.0,403.2 L1184.0,402.3 L1184.0,401.4 L1184.0,400.5 L1184.0,399.6 L1184.0,398.7 L1184.0,397.8 L1184.0,396.9 L1184.0,396.0 L1184.0,395.1 L1184.0,394.2 L1184.1,393.3 L1184.1,392.4 L1184.1,391.5 L1184.1,390.7 L1184.1,389.8 L1184.1,388.9 L1184.1,388.0 L1184.1,387.1 L1184.1,386.2 L1184.1,385.3 L1184.1,384.4 L1184.1,383.5 L1184.1,382.6 L1184.1,381.7 L1184.1,380.8 L1184.1,379.9 L1184.2,379.0 L1184.2,378.1 L1184.2,377.2 L1184.2,376.3 L1184.2,375.4 L1184.2,374.5 L1184.2,373.6 L1184.2,372.7 L1184.2,371.8 L1184.2,370.9 L1184.2,370.0 L1184.2,369.1 L1184.2,368.2 L1184.2,367.3 L1184.2,366.4 L1184.2,365.5 L1184.3,364.6 L1184.3,363.7 L1184.3,362.8 L1184.3,361.9 L1184.3,361.0 L1184.3,360.1 L1184.3,359.2 L1184.3,358.3 L1184.3,357.4 L1184.3,356.5 L1184.3,355.6 L1184.3,354.7 L1184.3,353.8 L1184.3,352.9 L1184.3,352.0 L1184.3,351.1 L1184.3,350.2 L1184.4,349.3 L1184.4,348.4 L1184.4,347.5 L1184.4,346.6 L1184.4,345.7 L1184.4,344.8 L1184.4,343.9 L1184.4,343.0 L1184.4,342.1 L1184.4,341.2 L1184.4,340.3 L1184.4,339.4 L1184.4,338.5 L1184.4,337.6 L1184.4,336.7 L1184.4,335.8 L1184.4,334.9 L1184.5,334.0 L1184.5,333.1 L1184.5,332.2 L1184.5,331.3 L1184.5,330.4 L1184.5,329.5 L1184.5,328.6 L1184.5,327.7 L1184.5,326.8 L1184.5,325.9 L1184.5,325.0 L1184.5,324.1 L1184.5,323.2 L1184.5,322.3 L1184.5,321.4 L1184.5,320.5 L1184.5,319.6 L1184.5,318.7 L1184.6,317.8 L1184.6,316.9 L1184.6,316.0 L1184.6,315.1 L1184.6,314.2 L1184.6,313.3 L1184.6,312.4 L1184.6,311.5 L1184.6,310.6 L1184.6,309.7 L1184.6,308.8 L1184.6,307.9 L1184.6,307.0 L1184.6,306.1 L1184.6,305.2 L1184.6,304.3 L1184.6,303.4 L1184.6,302.5 L1184.6,301.6 L1184.7,300.7 L1184.7,299.8 L1184.7,298.9 L1184.7,298.0 L1184.7,297.1 L1184.7,296.2 L1184.7,295.3 L1184.7,294.4 L1184.7,293.5 L1184.7,292.6 L1184.7,291.7 L1184.7,290.8 L1184.7,289.9 L1184.7,289.0 L1184.7,288.1 L1184.7,287.2 L1184.7,286.3 L1184.7,285.4 L1184.8,284.5 L1184.8,283.6 L1184.8,282.7 L1184.8,281.8 L1184.8,280.9 L1184.8,280.0 L1184.8,279.1 L1184.8,278.2 L1184.8,277.3 L1184.8,276.4 L1184.8,275.5 L1184.8,274.6 L1184.8,273.7 L1184.8,272.8 L1184.8,271.9 L1184.8,271.0 L1184.8,270.1 L1184.8,269.2 L1184.8,268.3 L1184.9,267.4 L1184.9,266.5 L1184.9,265.6 L1184.9,264.7 L1184.9,263.8 L1184.9,263.0 L1184.9,262.1 L1184.9,261.2 L1184.9,260.3 L1184.9,259.4 L1184.9,258.5 L1184.9,257.6 L1184.9,256.7 L1184.9,255.8 L1184.9,254.9 L1184.9,254.0 L1184.9,253.1 L1184.9,252.2 L1185.0,251.3 L1185.0,250.4 L1185.0,249.5 L1185.0,248.6 L1185.0,247.7 L1185.0,246.8 L1185.0,245.9 L1185.0,245.0 L1185.0,244.1 L1185.0,243.2 L1185.0,242.3 L1185.0,241.4 L1185.0,240.5 L1185.0,239.6 L1185.0,238.7 L1185.0,237.8 L1185.0,236.9 L1185.1,236.0 L1185.1,235.1 L1185.1,234.2 L1185.1,233.3 L1185.1,232.4 L1185.1,231.5 L1185.1,230.6 L1185.1,229.7 L1185.1,228.8 L1185.1,227.9 L1185.1,227.0 L1185.1,226.1 L1185.1,225.2 L1185.1,224.3 L1185.1,223.4 L1185.1,222.5 L1185.2,221.6 L1185.2,220.7 L1185.2,219.8 L1185.2,218.9 L1185.2,218.0 L1185.2,217.1 L1185.2,216.2 L1185.2,215.3 L1185.2,214.4 L1185.2,213.5 L1185.2,212.6 L1185.2,211.7 L1185.2,210.8 L1185.2,209.9 L1185.2,209.0 L1185.2,208.1 L1185.2,207.2 L1185.3,206.3 L1185.3,205.4 L1185.3,204.5 L1185.3,203.6 L1185.3,202.7 L1185.3,201.8 L1185.3,200.9 L1185.3,200.0 M1199.2,200.0 L1199.2,200.9 L1199.2,201.8 L1199.2,202.7 L1199.2,203.6 L1199.2,204.5 L1199.2,205.4 L1199.2,206.3 L1199.2,207.2 L1199.2,208.1 L1199.2,209.0 L1199.2,209.9 L1199.2,210.8 L1199.2,211.7 L1199.2,212.6 L1199.2,213.5 L1199.2,214.4 L1199.2,215.3 L1199.2,216.2 L1199.3,217.1 L1199.3,218.0 L1199.3,218.9 L1199.3,219.8 L1199.3,220.7 L1199.3,221.6 L1199.3,222.5 L1199.3,223.4 L1199.3,224.3 L1199.3,225.2 L1199.3,226.1 L1199.3,227.0 L1199.3,227.9 L1199.3,228.8 L1199.3,229.7 L1199.3,230.6 L1199.3,231.5 L1199.3,232.4 L1199.3,233.3 L1199.3,234.2 L1199.3,235.1 L1199.4,236.0 L1199.4,236.9 L1199.4,237.8 L1199.4,238.7 L1199.4,239.6 L1199.4,240.5 L1199.4,241.4 L1199.4,242.3 L1199.4,243.2 L1199.4,244.1 L1199.4,245.0 L1199.4,245.9 L1199.4,246.8 L1199.4,247.7 L1199.4,248.6 L1199.4,249.5 L1199.4,250.4 L1199.5,251.3 L1199.5,252.2 L1199.5,253.1 L1199.5,254.0 L1199.5,254.9 L1199.5,255.8 L1199.5,256.7 L1199.5,257.6 L1199.5,258.5 L1199.5,259.4 L1199.5,260.3 L1199.6,261.2 L1199.6,262.1 L1199.6,263.0 L1199.6,263.9 L1199.6,264.8 L1199.6,265.7 L1199.6,266.6 L1199.6,267.5 L1199.6,268.3 L1199.7,269.2 L1199.7,270.1 L1199.7,271.0 L1199.7,271.9 L1199.7,272.8 L1199.7,273.7 L1199.7,274.6 L1199.7,275.5 L1199.7,276.4 L1199.8,277.3 L1199.8,278.2 L1199.8,279.1 L1199.8,280.0 L1199.8,280.9 L1199.8,281.8 L1199.8,282.7 L1199.8,283.6 L1199.9,284.5 L1199.9,285.4 L1199.9,286.3 L1199.9,287.2 L1199.9,288.1 L1199.9,289.0 L1199.9,289.9 L1200.0,290.8 L1200.0,291.7 L1200.0,292.6 L1200.0,293.5 L1200.0,294.4 L1200.0,295.3 L1200.0,296.2 L1200.0,297.1 L1200.1,298.0 L1200.1,298.9 L1200.1,299.8 L1200.1,300.7 L1200.1,301.6 L1200.1,302.5 L1200.1,303.4 L1200.2,304.3 L1200.2,305.2 L1200.2,306.1 L1200.2,307.0 L1200.2,307.9 L1200.2,308.8 L1200.2,309.7 L1200.3,310.6 L1200.3,311.5 L1200.3,312.4 L1200.3,313.3 L1200.3,314.2 L1200.3,315.1 L1200.4,316.0 L1200.4,316.9 L1200.4,317.8 L1200.4,318.7 L1200.4,319.6 L1200.4,320.5 L1200.4,321.4 L1200.5,322.3 L1200.5,323.2 L1200.5,324.1 L1200.5,325.0 L1200.5,325.9 L1200.5,326.8 L1200.5,327.7 L1200.6,328.6 L1200.6,329.5 L1200.6,330.4 L1200.6,331.3 L1200.6,332.2 L1200.6,333.1 L1200.7,334.0 L1200.7,334.9 L1200.7,335.8 L1200.7,336.7 L1200.7,337.6 L1200.7,338.5 L1200.7,339.4 L1200.8,340.3 L1200.8,341.2 L1200.8,342.1 L1200.8,343.0 L1200.8,343.9 L1200.8,344.8 L1200.9,345.7 L1200.9,346.6 L1200.9,347.5 L1200.9,348.4 L1200.9,349.3 L1200.9,350.2 L1201.0,351.1 L1201.0,352.0 L1201.0,352.9 L1201.0,353.8 L1201.0,354.7 L1201.0,355.6 L1201.0,356.5 L1201.1,357.4 L1201.1,358.3 L1201.1,359.2 L1201.1,360.1 L1201.1,361.0 L1201.1,361.9 L1201.2,362.8 L1201.2,363.7 L1201.2,364.6 L1201.2,365.5 L1201.2,366.4 L1201.2,367.3 L1201.3,368.2 L1201.3,369.1 L1201.3,370.0 L1201.3,370.9 L1201.3,371.8 L1201.3,372.7 L1201.3,373.6 L1201.4,374.5 L1201.4,375.4 L1201.4,376.3 L1201.4,377.2 L1201.4,378.1 L1201.4,379.0 L1201.5,379.9 L1201.5,380.8 L1201.5,381.7 L1201.5,382.6 L1201.5,383.5 L1201.5,384.4 L1201.5,385.3 L1201.6,386.2 L1201.6,387.0 L1201.6,387.9 L1201.6,388.8 L1201.6,389.7 L1201.6,390.6 L1201.7,391.5 L1201.7,392.4 L1201.7,393.3 L1201.7,394.2 L1201.7,395.1 L1201.7,396.0 L1201.7,396.9 L1201.8,397.8 L1201.8,398.7 L1201.8,399.6 L1201.8,400.5 L1201.8,401.4 L1201.8,402.3 L1201.9,403.2 L1201.9,404.1 L1201.9,405.0 L1201.9,405.9 L1201.9,406.8 L1201.9,407.7 L1201.9,408.6 L1202.0,409.5 L1202.0,410.4 L1202.0,411.3 L1202.0,412.2 L1202.0,413.1 L1202.0,414.0 L1202.1,414.9 L1202.1,415.8 L1202.1,416.7 L1202.1,417.6 L1202.1,418.5 L1202.1,419.4 L1202.1,420.3 L1202.2,421.2 L1202.2,422.1 L1202.2,423.0 L1202.2,423.9 L1202.2,424.8 L1202.2,425.7 L1202.3,426.6 L1202.3,427.5 L1202.3,428.4 L1202.3,429.3 L1202.3,430.2 L1202.3,431.1 L1202.4,432.0 L1202.4,432.9 L1202.4,433.8 L1202.4,434.7 L1202.4,435.6 L1202.4,436.5 L1202.5,437.4 L1202.5,438.3 L1202.5,439.2 L1202.5,440.1 L1202.5,441.0 L1202.5,441.9 L1202.5,442.8 L1202.6,443.7 L1202.6,444.6 L1202.6,445.5 L1202.6,446.4 L1202.6,447.3 L1202.6,448.2 L1202.7,449.1 L1202.7,450.0 L1202.7,450.9 L1202.7,451.8 L1202.7,452.7 L1202.7,453.6 L1202.8,454.5 L1202.8,455.4 L1202.8,456.3 L1202.8,457.2 L1202.8,458.1 L1202.8,459.0 L1202.9,459.9 L1202.9,460.8 L1202.9,461.7 L1202.9,462.6 L1202.9,463.5 L1202.9,464.4 L1203.0,465.3 L1203.0,466.2 L1203.0,467.1 L1203.0,468.0 L1203.0,468.9 L1203.0,469.8 L1203.1,470.7 L1203.1,471.6 L1203.1,472.5 L1203.1,473.4 L1203.1,474.3 L1203.1,475.2 L1203.2,476.1 L1203.2,477.0 L1203.2,477.9 L1203.2,478.8 L1203.2,479.7 L1203.2,480.6 L1203.3,481.5 L1203.3,482.4 L1203.3,483.3 L1203.3,484.2 L1203.3,485.1 L1203.3,486.0 L1203.4,486.9 L1203.4,487.8 L1203.4,488.7 L1203.4,489.6 L1203.4,490.5 L1203.4,491.4 L1203.5,492.3 L1203.5,493.2 L1203.5,494.1 L1203.5,495.0 L1203.5,495.9 L1203.5,496.8 L1203.6,497.7 L1203.6,498.6 L1203.6,499.5 L1203.6,500.4 L1203.6,501.2 L1203.7,502.1 L1203.7,503.0 L1203.7,503.9 L1203.7,504.8 L1203.7,505.7 L1203.7,506.6 L1203.8,507.5 L1203.8,508.4 L1203.8,509.3 L1203.8,510.2 L1203.8,511.1 L1203.8,512.0 L1203.9,512.9 L1203.9,513.8 L1203.9,514.7 L1203.9,515.6 L1203.9,516.5 L1203.9,517.4 L1204.0,518.3 L1204.0,519.2 L1204.0,520.1 L1204.0,521.0 L1204.0,521.9 L1204.1,522.8 L1204.1,523.7 L1204.1,524.6 L1204.1,525.5 L1204.1,526.4 L1204.1,527.3 L1204.2,528.2 L1204.2,529.1 L1204.2,530.0 L1204.2,530.9 L1204.2,531.8 L1204.2,532.7 L1204.3,533.6 L1204.3,534.5 L1204.3,535.4 L1204.3,536.3 L1204.3,537.2 L1204.4,538.1 L1204.4,539.0 L1204.4,539.9 L1204.4,540.8 L1204.4,541.7 L1204.4,542.6 L1204.5,543.5 L1204.5,544.4 L1204.5,545.3 L1204.5,546.2 L1204.5,547.1 L1204.6,548.0 L1204.6,548.9 L1204.6,549.8 L1204.6,550.7 L1204.6,551.6 L1204.6,552.5 L1204.7,553.4 L1204.7,554.3 L1204.7,555.2 L1204.7,556.1 L1204.7,557.0 L1204.8,557.9 L1204.8,558.8 L1204.8,559.7 L1204.8,560.6 L1204.8,561.5 L1204.8,562.4 L1204.9,563.3 L1204.9,564.2 L1204.9,565.1 L1204.9,566.0 L1204.9,566.9 L1205.0,567.8 L1205.0,568.7 L1205.0,569.6 L1205.0,570.5 L1205.0,571.4 L1205.1,572.3 L1205.1,573.2 L1205.1,574.1 L1205.1,575.0 L1205.1,575.9 L1205.1,576.8 L1205.2,577.7 L1205.2,578.6 L1205.2,579.5 L1205.2,580.4 L1205.2,581.3 L1205.3,582.2 L1205.3,583.1 L1205.3,584.0 L1205.3,584.9 L1205.3,585.8 L1205.3,586.7 L1205.4,587.6 L1205.4,588.5 L1205.4,589.4 L1205.4,590.3 L1205.4,591.2 L1205.5,592.1 L1205.5,593.0 L1205.5,593.9 L1205.5,594.8 L1205.5,595.7 L1205.6,596.6 L1205.6,597.5 L1205.6,598.4 L1205.6,599.3 L1205.6,600.2 L1205.6,601.1 L1205.7,602.0 L1205.7,602.9 L1205.7,603.8 L1205.7,604.7 L1205.7,605.6 L1205.8,606.5 L1205.8,607.4 L1205.8,608.3 L1205.8,609.2 L1205.8,610.1 L1205.9,610.9 L1205.9,611.8 L1205.9,612.7 L1205.9,613.6 L1205.9,614.5 L1206.0,615.4 L1206.0,616.3 L1206.0,617.2 L1206.0,618.1 L1206.0,619.0 L1206.1,619.9 L1206.1,620.8 L1206.1,621.7 L1206.1,622.6 L1206.1,623.5 L1206.2,624.4 L1206.2,625.3 L1206.2,626.2 L1206.2,627.1 L1206.2,628.0 L1206.3,628.9 L1206.3,629.8 L1206.3,630.7 L1206.3,631.6 L1206.3,632.5 L1206.4,633.4 L1206.4,634.3 L1206.4,635.2 L1206.4,636.1 L1206.5,637.0 L1206.5,637.9 L1206.5,638.8 L1206.5,639.7 L1206.6,640.6 L1206.6,641.5 L1206.6,642.4 L1206.6,643.3 L1206.6,644.2 L1206.7,645.1 L1206.7,646.0 L1206.7,646.9 L1206.7,647.8 L1206.8,648.7 L1206.8,649.6 L1206.8,650.5 L1206.8,651.4 L1206.9,652.3 L1206.9,653.2 L1206.9,654.1 L1206.9,655.0 L1207.0,655.9 L1207.0,656.8 L1207.0,657.7 L1207.0,658.6 L1207.1,659.5 L1207.1,660.4 L1207.1,661.3 L1207.1,662.2 L1207.2,663.1 L1207.2,664.0 L1207.2,664.9 L1207.2,665.8 L1207.3,666.7 L1207.3,667.6 L1207.3,668.5 L1207.4,669.4 L1207.4,670.3 L1207.4,671.2 L1207.4,672.1 L1207.5,673.0 L1207.5,673.9 L1207.5,674.8 L1207.5,675.7 L1207.6,676.6 L1207.6,677.5 L1207.6,678.4 L1207.7,679.3 L1207.7,680.2 L1207.7,681.1 L1207.7,682.0 L1207.8,682.9 L1207.8,683.8 L1207.8,684.7 L1207.9,685.6 L1207.9,686.5 L1207.9,687.4 L1208.0,688.3 L1208.0,689.2 L1208.0,690.1 L1208.0,691.0 L1208.1,691.9 L1208.1,692.8 L1208.1,693.7 L1208.2,694.6 L1208.2,695.5 L1208.2,696.4 L1208.3,697.3 L1208.3,698.2 L1208.3,699.1 L1208.4,699.9 L1208.4,700.8 L1208.5,701.7 L1208.5,702.6 L1208.5,703.5 L1208.6,704.4 L1208.6,705.3 L1208.6,706.2 L1208.7,707.1 L1208.7,708.0 L1208.8,708.9 L1208.8,709.8 L1208.8,710.7 L1208.9,711.6 L1208.9,712.5 L1209.0,713.4 L1209.0,714.3 L1209.1,715.2 L1209.1,716.1 L1209.1,717.0 L1209.2,717.9 L1209.2,718.8 L1209.3,719.7 L1209.3,720.6 L1209.4,721.5 L1209.4,722.4 L1209.5,723.3 L1209.5,724.2 L1209.6,725.1 L1209.6,726.0 L1209.7,726.9 L1209.8,727.8 L1209.8,728.7 L1209.9,729.6 L1209.9,730.5 L1210.0,731.4 L1210.0,732.3 L1210.1,733.2 L1210.2,734.1 L1210.2,735.0 L1210.3,735.9 L1210.4,736.8 L1210.4,737.7 L1210.5,738.6 L1210.6,739.5 L1210.6,740.4 L1210.7,741.3 L1210.8,742.1 L1210.8,743.0 L1210.9,743.9 L1211.0,744.8 L1211.1,745.7 L1211.1,746.6 L1211.2,747.5 L1211.3,748.4 L1211.4,749.3 L1211.5,750.2 L1211.6,751.1 L1211.7,752.0 L1211.8,752.9 L1211.9,753.8 L1212.0,754.7 L1212.1,755.6 L1212.2,756.5 L1212.3,757.4 L1212.4,758.3 L1212.5,759.2 L1212.6,760.0 L1212.7,760.9 L1212.8,761.8 L1212.9,762.7 L1213.0,763.6 L1213.1,764.5 L1213.2,765.4 L1213.3,766.3 L1213.4,767.2 L1213.5,768.1 L1213.6,769.0 L1213.7,769.9 L1213.8,770.8 L1213.9,771.7 L1214.0,772.5 L1214.2,773.4 L1214.3,774.3 L1214.4,775.2 L1214.5,776.1 L1214.6,777.0 L1214.7,777.9 L1214.8,778.8 L1215.0,779.7 L1215.1,780.6 L1215.2,781.5 L1215.3,782.4 L1215.4,783.2 L1215.6,784.1 L1215.7,785.0 L1215.8,785.9 L1216.0,786.8 L1216.1,787.7 L1216.2,788.6 L1216.4,789.5 L1216.5,790.4 L1216.6,791.3 L1216.8,792.1 L1216.9,793.0 L1217.0,793.9 L1217.2,794.8 L1217.3,795.7 L1217.4,796.6 L1217.6,797.5 L1217.7,798.4 L1217.9,799.3 L1218.0,800.1 L1218.1,801.0 L1218.3,801.9 L1218.4,802.8 L1218.6,803.7 L1218.7,804.6 L1218.9,805.5 L1219.1,806.3 L1219.2,807.2 L1219.4,808.1 L1219.6,809.0 L1219.8,809.9 L1220.0,810.8 L1220.2,811.6 L1220.4,812.5 L1220.6,813.4 L1220.8,814.2 L1221.1,815.1 L1221.3,816.0 L1221.5,816.9 L1221.8,817.7 L1222.0,818.6 L1222.2,819.5 L1222.5,820.3 L1222.8,821.2 L1223.0,822.0 L1223.3,822.9 L1223.6,823.8 L1223.8,824.6 L1224.1,825.3 L1224.4,826.4 L1224.7,827.1 L1225.0,828.0 L1225.3,828.8 L1225.6,829.7 L1226.0,830.5 L1226.3,831.5 L1226.6,832.5 L1227.0,833.1 L1227.4,834.0 L1227.8,834.6 L1228.2,835.0 L1228.6,836.0 L1229.1,837.4 L1229.5,837.8 L1230.0,838.3 L1230.5,839.3 L1231.1,840.7 L1231.6,840.9 L1232.2,841.5 L1232.8,842.6 L1233.4,842.5 L1234.0,842.7 L1234.6,844.0 L1235.3,844.5 L1236.0,845.5 L1236.7,845.7 L1237.4,846.4 L1238.1,846.9 L1238.9,847.0 L1239.6,847.5 L1240.3,847.8 L1241.1,849.2 L1241.8,849.4 L1242.6,849.9 L1243.4,850.6 L1244.2,851.0 L1245.0,850.2 L1245.8,851.5 L1246.5,851.1 L1247.3,853.4 L1248.0,852.5 L1248.8,854.1 L1249.6,853.6 L1250.3,854.3 L1251.2,854.4 L1252.0,854.3 L1252.9,856.1 L1253.8,854.5 L1254.7,854.9 L1255.6,854.5 L1256.5,854.6 L1257.3,855.2 L1258.2,853.8 L1259.1,854.5 L1260.0,854.2 L1260.9,854.5 L1261.8,854.2 L1262.7,853.8 L1263.6,854.9 L1264.5,854.5 L1265.4,854.4 L1266.3,854.5 L1267.2,854.3 L1268.1,854.7 L1269.0,854.3 L1269.9,854.0 L1270.8,853.8 L1271.7,853.0 L1272.6,853.5 L1273.5,854.1 L1274.3,854.4 L1275.1,854.5 L1275.8,856.3 L1276.5,856.4 L1277.2,856.1 L1277.8,857.3 L1278.5,856.9 L1279.3,858.0 L1280.1,858.1 L1280.9,857.9 L1281.7,859.7 L1282.5,858.7 L1283.3,860.4 L1284.1,860.6 L1284.9,861.3 L1285.8,861.6 L1286.7,861.4 L1287.6,859.6 L1288.5,860.6 L1289.4,862.5 L1290.3,861.6 L1291.2,860.6 L1292.1,861.8 L1293.0,861.8 L1293.9,861.3 L1294.7,861.7 L1295.6,862.3 L1296.4,863.0 L1297.2,862.2 L1298.1,862.9 L1299.0,862.3 L1299.9,863.5 L1300.8,862.9 L1301.6,861.6 L1302.5,862.9 L1303.4,862.6 L1304.2,862.8 L1305.1,861.8 L1306.0,860.6 L1306.9,860.7 L1307.8,862.3 L1308.6,861.9 L1309.5,861.6 L1310.3,862.7 L1311.1,862.8 L1311.9,864.0 L1312.8,864.1 L1313.6,863.5 L1314.4,864.5 L1315.3,865.3 L1316.1,864.8 L1316.9,865.3 L1317.7,865.2 L1318.6,866.5 L1319.4,865.8 L1320.3,866.9 L1321.1,867.5 L1322.0,867.6 L1322.9,868.1 L1323.8,868.0 L1324.7,868.3 L1325.5,868.5 L1326.4,868.7 L1327.3,869.5 L1328.2,868.0 L1329.1,869.0 L1330.0,868.2 L1330.9,868.4 L1331.8,868.5 L1332.7,869.1 L1333.5,868.6 L1334.4,868.8 L1335.3,869.1 L1336.2,869.5 L1337.1,870.8 L1338.0,870.0 L1338.8,869.8 L1339.7,870.0 L1340.6,869.6 L1341.5,869.6 L1342.4,870.1 L1343.3,870.3 L1344.2,869.7 L1345.1,869.6 L1346.0,870.1 L1346.9,869.0 L1347.8,869.3 L1348.7,870.0 L1349.6,870.7 L1350.4,869.2 L1351.1,869.6 L1351.8,868.2 L1352.5,866.7 L1353.3,868.2 L1354.2,867.6 L1355.1,866.7 L1356.0,866.6 L1356.9,867.5 L1357.8,866.8 L1358.7,867.1 L1359.6,866.9 L1360.5,866.5 L1361.4,866.5 L1362.3,867.1 L1363.2,867.8 L1364.1,866.9 L1364.9,866.4 L1365.8,867.4 L1366.7,866.9 L1367.5,868.0 L1368.3,868.5 L1369.2,868.4 L1370.0,868.7 L1370.8,868.7 L1371.7,869.5 L1372.5,869.9 L1373.4,869.8 L1374.2,869.8 L1375.0,869.9 L1375.8,870.0 L1376.7,871.3 L1377.5,872.2 L1378.4,871.4 L1379.3,872.5 L1380.2,872.5 L1381.1,872.8 L1382.0,872.9 L1382.9,872.5 L1383.8,873.3 L1384.7,872.7 L1385.6,872.0 L1386.5,872.5 L1387.4,872.7 L1388.3,873.1 L1389.2,872.7 L1390.1,872.7 L1390.9,872.0 L1391.8,872.2 L1392.7,872.5 L1393.6,871.0 L1394.4,871.9 L1395.2,871.5 L1396.1,870.5 L1396.9,870.5 L1397.7,870.4 L1398.5,870.1 L1399.3,869.8 L1400.1,868.7 L1400.9,868.7 L1401.7,867.7 L1402.5,866.8 L1403.3,867.6 L1404.0,866.8 L1404.8,865.4 L1405.5,866.0 L1406.3,865.4 L1407.0,864.5 L1407.8,862.5 L1408.6,863.6 L1409.3,863.0 L1410.2,863.2 L1411.0,862.4 L1411.8,861.8 L1412.7,862.1 L1413.5,861.9 L1414.3,861.7 L1415.2,861.2 L1416.0,859.7 L1416.9,860.3 L1417.8,860.6 L1418.7,859.7 L1419.6,860.2 L1420.4,860.6 L1421.3,861.7 L1422.0,861.5 L1422.8,863.0 L1423.6,863.2 L1424.3,864.1 L1425.0,863.9 L1425.6,864.7 L1426.2,864.5 L1426.8,865.5 L1427.4,866.6 L1428.1,867.1 L1428.7,868.0 L1429.5,868.4 L1430.3,868.5 L1431.1,867.4 L1432.0,869.5 L1432.9,868.7 L1433.8,870.0 L1434.6,869.2 L1435.5,870.1 L1436.4,870.2 L1437.3,869.5 L1438.2,869.6 L1439.1,869.2 L1440.0,869.8 L1440.9,870.1 L1441.8,870.0 L1442.7,869.8 L1443.6,869.4 L1444.5,870.2 L1445.4,870.7 L1446.3,871.5 L1447.2,870.2 L1448.1,869.9 L1449.0,870.9 L1449.9,870.8 L1450.8,871.6 L1451.7,871.5 L1452.6,871.2 L1453.5,871.2 L1454.4,871.3 L1455.3,871.7 L1456.1,872.1 L1457.0,870.4 L1457.9,871.5 L1458.8,872.1 L1459.7,871.2 L1460.6,871.0 L1461.5,872.1 L1462.4,871.5 L1463.3,871.8 L1464.2,872.4 L1465.1,872.9 L1466.0,871.6 L1466.9,872.6 L1467.8,872.0 L1468.7,871.6 L1469.6,872.2 L1470.5,871.8 L1471.4,872.1 L1472.3,873.4 L1473.2,872.7 L1474.1,872.9 L1475.0,873.5 L1475.9,872.1 L1476.8,873.9 L1477.7,873.3 L1478.6,873.2 L1479.5,872.8 L1480.3,873.8 L1481.2,873.2 L1482.1,873.2 L1483.0,873.0 L1483.9,874.5 L1484.8,873.5 L1485.7,873.8 L1486.6,874.5 L1487.5,874.7 L1488.4,875.2 L1489.3,874.1 L1490.2,873.8 L1491.1,874.1 L1492.0,874.0 L1492.9,874.2 L1493.8,874.2 L1494.7,874.9 L1495.6,875.2 L1496.5,875.1 L1497.4,873.8 L1498.3,873.9 L1499.2,875.4 L1500.1,874.4 L1501.0,875.5 L1501.9,874.5 L1502.8,874.9 L1503.7,876.4 L1504.6,875.2 L1505.5,874.8 L1506.4,876.1 L1507.3,874.9 L1508.2,874.6 L1509.1,875.4 L1510.0,875.7 L1510.8,875.3 L1511.7,875.8 L1512.6,875.6 L1513.5,875.6 L1514.4,875.1 L1515.3,874.7 L1516.2,874.5 L1517.1,874.9 L1518.0,874.7 L1518.9,875.0 L1519.8,874.2 L1520.7,874.0 L1521.6,876.2 L1522.5,875.6 L1523.4,874.7 L1524.3,875.3 L1525.2,875.1 L1526.1,874.6 L1527.0,873.9 L1527.9,874.9 L1528.8,874.3 L1529.7,873.3 L1530.6,874.3 L1531.5,873.7 L1532.4,874.9 L1533.3,872.7 L1534.2,874.1 L1535.1,873.2 L1536.0,873.7 L1536.9,872.6 L1537.8,873.5 L1538.7,873.1 L1539.6,872.4 L1540.5,873.5 L1541.4,873.4 L1542.3,872.8 L1543.2,873.8 L1544.1,872.9 L1545.0,873.0 L1545.9,873.7 L1546.8,872.5 L1547.7,873.2 L1548.6,873.5 L1549.4,872.2 L1550.3,873.8 L1551.2,873.3 L1552.1,872.7 L1553.0,874.0 L1553.9,873.2 L1554.8,872.8 L1555.7,872.7 L1556.6,873.4 L1557.5,873.1 L1558.4,873.3 L1559.3,873.3 L1560.2,872.9 L1561.1,873.0 L1562.0,872.9 L1562.9,873.2 L1563.8,873.0 L1564.7,872.4 L1565.6,872.7 L1566.5,872.5 L1567.4,873.0 L1568.3,873.7 L1569.2,872.9 L1570.1,873.5 L1571.0,872.1 L1571.9,873.1 L1572.8,873.6 L1573.7,872.6 L1574.6,873.2 L1575.5,873.0 L1576.4,873.1 L1577.3,873.0 L1578.2,875.1 L1579.1,872.4 L1580.0,873.2 L1580.9,872.6 L1581.8,873.0 L1582.7,873.0 L1583.6,873.1 L1584.5,872.7 L1585.4,872.7 L1586.3,872.3 L1587.2,872.1 L1588.0,871.7 L1588.9,871.5 L1589.8,871.9 L1590.7,871.6 L1591.5,869.9 L1592.4,870.4 L1593.3,869.6 L1594.1,870.9 L1595.0,869.6 L1595.9,870.8 L1596.8,869.7 L1597.7,869.4 L1598.5,870.2 L1599.4,868.2 L1600.3,869.8 L1601.2,869.4 L1602.1,868.6 L1603.0,867.8 L1603.9,867.8 L1604.7,868.2 L1605.6,867.2 L1606.5,867.8 L1607.4,868.1 L1608.3,867.0 L1609.2,867.0 L1610.1,868.1 L1611.0,867.5 L1611.9,867.3 L1612.8,867.6 L1613.7,866.8 L1614.6,867.5 L1615.5,867.8 L1616.4,868.5 L1617.3,868.2 L1618.2,867.1 L1619.1,868.6 L1620.0,867.7 L1620.9,868.1 L1621.8,868.7 L1622.7,868.7 L1623.5,868.1 L1624.4,867.7 L1625.3,868.9 L1626.2,868.6 L1627.1,868.9 L1628.0,869.0 L1628.9,868.8 L1629.8,869.9 L1630.7,869.0 L1631.6,869.5 L1632.5,869.4 L1633.4,868.7 L1634.3,869.2 L1635.2,868.9 L1636.1,868.9 L1637.0,869.2 L1637.9,868.9 L1638.8,868.4 L1639.7,869.5 L1640.6,868.6 L1641.4,869.4 L1642.3,868.4 L1643.2,868.3 L1644.1,867.7 L1644.9,866.9 L1645.8,867.3 L1646.6,867.1 L1647.5,866.9 L1648.4,865.7 L1649.2,866.5 L1650.1,866.0 L1650.9,865.7 L1651.8,866.0 L1652.6,865.7 L1653.5,864.3 L1654.3,863.9 L1655.2,864.2 L1656.1,863.9 L1656.9,863.8 L1657.8,863.4 L1658.6,864.1 L1659.5,863.1 L1660.3,862.6 L1661.2,861.9 L1662.0,862.5 L1662.9,861.5 L1663.7,861.7 L1664.6,861.7 L1665.4,860.8 L1666.2,861.0 L1667.1,860.8 L1667.9,859.7 L1668.8,858.9 L1669.6,858.3 L1670.4,858.4 L1671.3,858.2 L1672.1,858.2 L1673.0,858.3 L1673.8,857.9 L1674.7,857.3 L1675.5,857.7 L1676.4,856.9 L1677.2,857.9 L1678.1,856.4 L1678.9,856.4 L1679.8,855.2 L1680.6,855.6 L1681.5,855.2 L1682.3,854.8 L1683.1,854.4 L1683.9,854.5 L1684.7,854.1 L1685.5,852.7 L1686.2,851.9 L1686.9,851.6 L1687.6,851.1 L1688.3,851.1 L1689.0,849.4 L1689.7,848.8 L1690.3,848.8 L1690.9,847.6 L1691.5,847.1 L1692.1,846.2 L1692.7,846.5 L1693.3,845.2 L1693.8,844.0 L1694.3,843.9 L1694.8,843.3 L1695.3,842.7 L1695.7,841.5 L1696.2,841.2 L1696.7,840.1 L1697.1,839.8 L1697.6,838.4 L1698.1,838.3 L1698.6,837.7 L1699.0,836.8 L1699.5,835.0 L1699.9,834.8 L1700.3,834.0 L1700.8,833.1 L1701.2,832.5 L1701.7,832.2 L1702.1,831.1 L1702.6,830.5 L1703.1,828.8 L1703.6,829.2 L1704.2,828.5 L1704.7,826.7 L1705.3,826.3 L1705.9,824.9 L1706.5,825.0 L1707.1,824.5 L1707.8,825.0 L1708.5,823.2 L1709.3,823.0 L1710.1,822.6 L1710.9,822.8 L1711.8,821.7 L1712.7,821.9 L1713.6,821.6 L1714.3,822.8 L1715.1,822.8 L1715.8,823.2 L1716.6,823.9 L1717.3,824.4 L1717.9,825.3 L1718.5,826.5 L1719.1,827.5 L1719.7,828.7 L1720.3,828.3 L1721.0,829.1 L1721.6,830.0 L1722.2,829.5 L1722.8,830.8 L1723.4,831.5 L1724.0,833.0 L1724.6,833.0 L1725.4,832.7 L1726.1,832.5 L1726.9,834.2 L1727.7,833.8 L1728.5,834.4 L1729.4,834.5 L1730.3,835.2 L1731.2,834.8 L1732.0,835.9 L1732.8,834.5 L1733.6,834.4 L1734.4,832.5 L1735.2,833.5 L1736.0,832.0 L1736.8,832.1 L1737.6,831.7 L1738.5,832.0 L1739.3,831.2 L1740.2,831.4 L1741.1,830.7 L1741.9,830.9 L1742.8,831.2 L1743.7,831.1 L1744.6,829.6 L1745.5,829.9 L1746.4,830.0 L1747.3,829.5 L1748.2,830.8 L1749.0,829.7 L1749.9,829.8 L1750.8,830.0 L1751.7,830.3 L1752.6,829.5 L1753.5,829.5 L1754.4,830.4 L1755.3,831.0 L1756.2,830.0 L1757.1,830.4 L1758.0,830.0 L1758.9,829.8 L1759.8,829.9 L1760.6,829.1 L1761.5,829.4 L1762.3,829.5 L1763.1,828.7 L1764.0,828.8 L1764.8,828.3 L1765.6,827.3 L1766.4,826.6 L1767.2,826.6 L1768.0,826.0 L1768.8,825.5 L1769.6,824.7 L1770.5,826.0 L1771.3,825.2 L1772.1,825.7 L1773.0,824.2 L1773.8,824.2 L1774.6,823.8 L1775.4,822.2 L1776.3,822.9 L1777.1,823.3 L1777.9,822.4 L1778.8,822.5 L1779.6,821.8 L1780.5,821.5 L1781.3,821.0 L1782.2,820.8 L1783.1,819.9 L1784.0,819.6 L1784.9,821.0 L1785.8,819.7 L1786.7,819.7 L1787.5,820.6 L1788.2,821.3 L1788.8,821.7 L1789.3,822.8"/>
<path d="M1025.7,956.5 L1026.6,956.8 L1027.5,956.7 L1028.4,956.6 L1029.3,956.7 L1030.2,956.8 L1031.1,956.5 L1032.0,956.4 L1032.9,956.5 L1033.8,956.6 L1034.7,956.5 L1035.6,955.2 L1036.5,955.5 L1037.4,955.6 L1038.2,954.8 L1039.0,955.1 L1039.8,955.3 L1040.6,954.0 L1041.4,953.7 L1042.2,954.2 L1043.0,953.0 L1043.9,952.7 L1044.7,952.6 L1045.5,952.0 L1046.3,951.9 L1047.1,951.6 L1048.0,950.4 L1048.8,951.0 L1049.6,950.6 L1050.5,950.9 L1051.4,950.4 L1052.3,949.7 L1053.2,950.5 L1054.1,949.6 L1055.0,949.3 L1055.8,949.4 L1056.7,949.3 L1057.6,949.1 L1058.5,949.5 L1059.4,949.0 L1060.3,948.9 L1061.2,950.2 L1062.1,948.4 L1063.0,949.5 L1063.9,948.9 L1064.8,948.3 L1065.7,948.3 L1066.6,947.6 L1067.5,948.2 L1068.4,949.1 L1069.3,947.0 L1070.2,948.6 L1071.1,948.5 L1072.0,947.7 L1072.9,948.0 L1073.8,948.9 L1074.7,947.9 L1075.6,948.0 L1076.5,947.6 L1077.4,947.8 L1078.3,948.0 L1079.1,948.0 L1080.0,947.1 L1080.9,947.9 L1081.8,947.7 L1082.7,946.6 L1083.6,947.1 L1084.4,945.9 L1085.3,946.4 L1086.1,945.8 L1087.0,945.4 L1087.8,945.6 L1088.6,945.3 L1089.5,944.7 L1090.4,944.4 L1091.3,944.8 L1092.1,944.2 L1093.0,945.3 L1093.9,942.8 L1094.8,944.5 L1095.7,944.5 L1096.6,944.0 L1097.5,943.0 L1098.4,944.2 L1099.3,943.8 L1100.2,944.0 L1101.1,944.2 L1102.0,943.7 L1102.9,943.8 L1103.7,944.7 L1104.5,944.5 L1105.3,944.9 L1106.2,945.6 L1107.0,945.9 L1107.9,946.4 L1108.8,946.5 L1109.6,945.5 L1110.2,944.5 L1110.9,945.1 L1111.5,944.7 L1112.3,943.4 L1113.1,941.9 L1114.0,942.0 L1114.9,942.8 L1115.8,942.0 L1116.7,943.4 L1117.6,943.1 L1118.5,943.4 L1119.4,943.3 L1120.3,943.0 L1121.2,942.4 L1122.0,941.8 L1122.7,942.9 L1123.3,941.9 L1123.9,940.0 L1124.4,940.5 L1125.0,939.6 L1125.6,939.2 L1126.2,938.6 L1126.8,938.5 L1127.6,936.2 L1128.3,936.0 L1129.0,936.3 L1129.8,934.9 L1130.6,935.1 L1131.3,934.7 L1132.1,933.5 L1132.9,933.2 L1133.7,933.3 L1134.5,932.1 L1135.2,931.5 L1136.1,932.3 L1136.9,931.2 L1137.7,931.2 L1138.5,931.5 L1139.4,931.0 L1140.2,931.2 L1141.1,930.2 L1141.9,929.7 L1142.7,928.8 L1143.5,928.5 L1144.3,926.9 L1145.1,928.7 L1145.8,927.1 L1146.5,926.4 L1147.1,925.3 L1147.8,925.0 L1148.4,924.4 L1149.0,923.4 L1149.6,923.3 L1150.1,922.3 L1150.7,921.6 L1151.3,920.1 L1151.8,919.8 L1152.4,920.0 L1152.9,918.8 L1153.4,917.6 L1154.0,917.3 L1154.5,917.7 L1154.9,916.8 L1155.4,915.4 L1155.9,915.0 L1156.4,913.7 L1156.8,913.3 L1157.2,912.4 L1157.7,911.4 L1158.1,910.5 L1158.5,909.9 L1158.9,908.7 L1159.2,908.6 L1159.6,907.5 L1160.0,906.3 L1160.3,905.5 L1160.7,904.5 L1161.1,903.9 L1161.4,903.4 L1161.7,902.2 L1162.1,901.5 L1162.4,900.8 L1162.8,899.9 L1163.1,899.2 L1163.4,898.3 L1163.7,897.9 L1164.1,896.6 L1164.4,896.0 L1164.7,894.9 L1165.0,894.2 L1165.3,893.4 L1165.6,892.5 L1165.9,891.4 L1166.2,890.8 L1166.4,889.9 L1166.7,889.0 L1167.0,888.2 L1167.2,887.3 L1167.5,886.4 L1167.7,885.6 L1168.0,884.7 L1168.2,883.8 L1168.4,883.0 L1168.7,882.1 L1168.9,881.2 L1169.1,880.4 L1169.3,879.5 L1169.6,878.6 L1169.8,877.7 L1170.1,876.9 L1170.3,876.0 L1170.5,875.1 L1170.7,874.3 L1170.8,873.4 L1171.0,872.5 L1171.1,871.6 L1171.2,870.7 L1171.3,869.8 L1171.4,868.9 L1171.5,868.0 L1171.6,867.1 L1171.7,866.2 L1171.8,865.3 L1171.9,864.4 L1172.0,863.5 L1172.1,862.6 L1172.1,861.7 L1172.2,860.9 L1172.3,860.0 L1172.4,859.1 L1172.5,858.2 L1172.5,857.3 L1172.6,856.4 L1172.7,855.5 L1172.8,854.6 L1172.9,853.7 L1172.9,852.8 L1173.0,851.9 L1173.1,851.0 L1173.2,850.1 L1173.3,849.2 L1173.4,848.3 L1173.5,847.4 L1173.5,846.5 L1173.6,845.6 L1173.7,844.7 L1173.8,843.8 L1173.9,842.9 L1174.0,842.0 L1174.1,841.1 L1174.2,840.3 L1174.2,839.4 L1174.3,838.5 L1174.4,837.6 L1174.5,836.7 L1174.6,835.8 L1174.6,834.9 L1174.7,834.0 L1174.8,833.1 L1174.9,832.2 L1174.9,831.3 L1175.0,830.4 L1175.1,829.5 L1175.1,828.6 L1175.2,827.7 L1175.3,826.8 L1175.3,825.9 L1175.4,825.0 L1175.5,824.1 L1175.5,823.2 L1175.6,822.3 L1175.7,821.4 L1175.7,820.5 L1175.8,819.6 L1175.8,818.7 L1175.9,817.8 L1175.9,816.9 L1176.0,816.0 L1176.1,815.1 L1176.1,814.2 L1176.2,813.3 L1176.2,812.4 L1176.3,811.5 L1176.3,810.6 L1176.4,809.7 L1176.5,808.9 L1176.5,808.0 L1176.6,807.1 L1176.6,806.2 L1176.7,805.3 L1176.7,804.4 L1176.8,803.5 L1176.8,802.6 L1176.9,801.7 L1177.0,800.8 L1177.0,799.9 L1177.1,799.0 L1177.1,798.1 L1177.2,797.2 L1177.2,796.3 L1177.3,795.4 L1177.3,794.5 L1177.4,793.6 L1177.4,792.7 L1177.5,791.8 L1177.5,790.9 L1177.6,790.0 L1177.7,789.1 L1177.7,788.2 L1177.8,787.3 L1177.8,786.4 L1177.9,785.5 L1177.9,784.6 L1178.0,783.7 L1178.0,782.8 L1178.1,781.9 L1178.1,781.0 L1178.2,780.1 L1178.2,779.2 L1178.3,778.3 L1178.3,777.4 L1178.4,776.5 L1178.4,775.6 L1178.5,774.7 L1178.5,773.8 L1178.5,772.9 L1178.6,772.0 L1178.6,771.1 L1178.7,770.2 L1178.7,769.3 L1178.8,768.4 L1178.8,767.5 L1178.9,766.6 L1178.9,765.7 L1179.0,764.8 L1179.0,763.9 L1179.0,763.0 L1179.1,762.1 L1179.1,761.2 L1179.2,760.4 L1179.2,759.5 L1179.3,758.6 L1179.3,757.7 L1179.3,756.8 L1179.4,755.9 L1179.4,755.0 L1179.5,754.1 L1179.5,753.2 L1179.5,752.3 L1179.6,751.4 L1179.6,750.5 L1179.7,749.6 L1179.7,748.7 L1179.8,747.8 L1179.8,746.9 L1179.8,746.0 L1179.9,745.1 L1179.9,744.2 L1180.0,743.3 L1180.0,742.4 L1180.0,741.5 L1180.1,740.6 L1180.1,739.7 L1180.2,738.8 L1180.2,737.9 L1180.2,737.0 L1180.3,736.1 L1180.3,735.2 L1180.4,734.3 L1180.4,733.4 L1180.4,732.5 L1180.5,731.6 L1180.5,730.7 L1180.6,729.8 L1180.6,728.9 L1180.7,728.0 L1180.7,727.1 L1180.7,726.2 L1180.8,725.3 L1180.8,724.4 L1180.9,723.5 L1180.9,722.6 L1180.9,721.7 L1181.0,720.8 L1181.0,719.9 L1181.0,719.0 L1181.1,718.1 L1181.1,717.2 L1181.1,716.3 L1181.2,715.4 L1181.2,714.5 L1181.2,713.6 L1181.3,712.7 L1181.3,711.8 L1181.3,710.9 L1181.4,710.0 L1181.4,709.1 L1181.4,708.2 L1181.5,707.3 L1181.5,706.4 L1181.5,705.5 L1181.6,704.6 L1181.6,703.7 L1181.6,702.8 L1181.6,701.9 L1181.7,701.0 L1181.7,700.1 L1181.7,699.2 L1181.7,698.3 L1181.8,697.4 L1181.8,696.5 L1181.8,695.6 L1181.9,694.7 L1181.9,693.8 L1181.9,692.9 L1181.9,692.0 L1182.0,691.1 L1182.0,690.2 L1182.0,689.3 L1182.0,688.4 L1182.1,687.5 L1182.1,686.6 L1182.1,685.7 L1182.1,684.8 L1182.2,683.9 L1182.2,683.0 L1182.2,682.1 L1182.2,681.2 L1182.3,680.3 L1182.3,679.4 L1182.3,678.5 L1182.3,677.7 L1182.4,676.8 L1182.4,675.9 L1182.4,675.0 L1182.4,674.1 L1182.4,673.2 L1182.5,672.3 L1182.5,671.4 L1182.5,670.5 L1182.5,669.6 L1182.6,668.7 L1182.6,667.8 L1182.6,666.9 L1182.6,666.0 L1182.6,665.1 L1182.7,664.2 L1182.7,663.3 L1182.7,662.4 L1182.7,661.5 L1182.8,660.6 L1182.8,659.7 L1182.8,658.8 L1182.8,657.9 L1182.8,657.0 L1182.9,656.1 L1182.9,655.2 L1182.9,654.3 L1182.9,653.4 L1182.9,652.5 L1183.0,651.6 L1183.0,650.7 L1183.0,649.8 L1183.0,648.9 L1183.0,648.0 L1183.1,647.1 L1183.1,646.2 L1183.1,645.3 L1183.1,644.4 L1183.1,643.5 L1183.2,642.6 L1183.2,641.7 L1183.2,640.8 L1183.2,639.9 L1183.2,639.0 L1183.3,638.1 L1183.3,637.2 L1183.3,636.3 L1183.3,635.4 L1183.3,634.5 L1183.3,633.6 L1183.4,632.7 L1183.4,631.8 L1183.4,630.9 L1183.4,630.0 L1183.4,629.1 L1183.5,628.2 L1183.5,627.3 L1183.5,626.4 L1183.5,625.5 L1183.5,624.6 L1183.5,623.7 L1183.6,622.8 L1183.6,621.9 L1183.6,621.0 L1183.6,620.1 L1183.6,619.2 L1183.6,618.3 L1183.7,617.4 L1183.7,616.5 L1183.7,615.6 L1183.7,614.7 L1183.7,613.8 L1183.7,612.9 L1183.8,612.0 L1183.8,611.1 L1183.8,610.2 L1183.8,609.3 L1183.8,608.4 L1183.8,607.5 L1183.9,606.6 L1183.9,605.7 L1183.9,604.8 L1183.9,603.9 L1183.9,603.0 L1183.9,602.1 L1183.9,601.2 L1184.0,600.3 L1184.0,599.4 L1184.0,598.5 L1184.0,597.6 L1184.0,596.7 L1184.0,595.8 L1184.1,594.9 L1184.1,594.0 L1184.1,593.1 L1184.1,592.2 L1184.1,591.3 L1184.1,590.4 L1184.1,589.5 L1184.2,588.6 L1184.2,587.7 L1184.2,586.8 L1184.2,585.9 L1184.2,585.0 L1184.2,584.1 L1184.3,583.2 L1184.3,582.3 L1184.3,581.4 L1184.3,580.5 L1184.3,579.6 L1184.3,578.7 L1184.3,577.8 L1184.4,576.9 L1184.4,576.0 L1184.4,575.1 L1184.4,574.2 L1184.4,573.3 L1184.4,572.4 L1184.4,571.5 L1184.4,570.6 L1184.5,569.7 L1184.5,568.8 L1184.5,567.9 L1184.5,567.0 L1184.5,566.1 L1184.5,565.2 L1184.5,564.3 L1184.6,563.4 L1184.6,562.5 L1184.6,561.6 L1184.6,560.7 L1184.6,559.8 L1184.6,558.9 L1184.6,558.0 L1184.6,557.1 L1184.7,556.2 L1184.7,555.3 L1184.7,554.4 L1184.7,553.5 L1184.7,552.6 L1184.7,551.7 L1184.7,550.8 L1184.7,549.9 L1184.7,549.0 L1184.8,548.1 L1184.8,547.2 L1184.8,546.3 L1184.8,545.4 L1184.8,544.5 L1184.8,543.6 L1184.8,542.7 L1184.8,541.8 L1184.8,540.9 L1184.8,540.0 L1184.9,539.1 L1184.9,538.2 L1184.9,537.3 L1184.9,536.4 L1184.9,535.5 L1184.9,534.6 L1184.9,533.7 L1184.9,532.8 L1184.9,531.9 L1185.0,531.0 L1185.0,530.1 L1185.0,529.2 L1185.0,528.3 L1185.0,527.4 L1185.0,526.5 L1185.0,525.6 L1185.0,524.7 L1185.0,523.8 L1185.0,522.9 L1185.1,522.0 L1185.1,521.1 L1185.1,520.2 L1185.1,519.3 L1185.1,518.4 L1185.1,517.5 L1185.1,516.6 L1185.1,515.7 L1185.1,514.8 L1185.1,513.9 L1185.2,513.1 L1185.2,512.2 L1185.2,511.3 L1185.2,510.4 L1185.2,509.5 L1185.2,508.6 L1185.2,507.7 L1185.2,506.8 L1185.2,505.9 L1185.2,505.0 L1185.2,504.1 L1185.3,503.2 L1185.3,502.3 L1185.3,501.4 L1185.3,500.5 L1185.3,499.6 L1185.3,498.7 L1185.3,497.8 L1185.3,496.9 L1185.3,496.0 L1185.3,495.1 L1185.3,494.2 L1185.4,493.3 L1185.4,492.4 L1185.4,491.5 L1185.4,490.6 L1185.4,489.7 L1185.4,488.8 L1185.4,487.9 L1185.4,487.0 L1185.4,486.1 L1185.4,485.2 L1185.4,484.3 L1185.5,483.4 L1185.5,482.5 L1185.5,481.6 L1185.5,480.7 L1185.5,479.8 L1185.5,478.9 L1185.5,478.0 L1185.5,477.1 L1185.5,476.2 L1185.5,475.3 L1185.5,474.4 L1185.6,473.5 L1185.6,472.6 L1185.6,471.7 L1185.6,470.8 L1185.6,469.9 L1185.6,469.0 L1185.6,468.1 L1185.6,467.2 L1185.6,466.3 L1185.6,465.4 L1185.6,464.5 L1185.6,463.6 L1185.7,462.7 L1185.7,461.8 L1185.7,460.9 L1185.7,460.0 L1185.7,459.1 L1185.7,458.2 L1185.7,457.3 L1185.7,456.4 L1185.7,455.5 L1185.7,454.6 L1185.7,453.7 L1185.7,452.8 L1185.8,451.9 L1185.8,451.0 L1185.8,450.1 L1185.8,449.2 L1185.8,448.3 L1185.8,447.4 L1185.8,446.5 L1185.8,445.6 L1185.8,444.7 L1185.8,443.8 L1185.8,442.9 L1185.8,442.0 L1185.9,441.1 L1185.9,440.2 L1185.9,439.3 L1185.9,438.4 L1185.9,437.5 L1185.9,436.6 L1185.9,435.7 L1185.9,434.8 L1185.9,433.9 L1185.9,433.0 L1185.9,432.1 L1185.9,431.2 L1185.9,430.3 L1186.0,429.4 L1186.0,428.5 L1186.0,427.6 L1186.0,426.7 L1186.0,425.8 L1186.0,424.9 L1186.0,424.0 L1186.0,423.1 L1186.0,422.2 L1186.0,421.3 L1186.0,420.4 L1186.0,419.5 L1186.0,418.6 L1186.1,417.7 L1186.1,416.8 L1186.1,415.9 L1186.1,415.0 L1186.1,414.1 L1186.1,413.2 L1186.1,412.3 L1186.1,411.4 L1186.1,410.5 L1186.1,409.6 L1186.1,408.7 L1186.1,407.8 L1186.1,406.9 L1186.2,406.0 L1186.2,405.1 L1186.2,404.2 L1186.2,403.3 L1186.2,402.4 L1186.2,401.5 L1186.2,400.6 L1186.2,399.7 L1186.2,398.8 L1186.2,397.9 L1186.2,397.0 L1186.2,396.1 L1186.2,395.2 L1186.2,394.3 L1186.3,393.4 L1186.3,392.5 L1186.3,391.6 L1186.3,390.7 L1186.3,389.8 L1186.3,388.9 L1186.3,388.0 L1186.3,387.1 L1186.3,386.2 L1186.3,385.3 L1186.3,384.4 L1186.3,383.5 L1186.3,382.6 L1186.3,381.7 L1186.3,380.8 L1186.4,379.9 L1186.4,379.0 L1186.4,378.1 L1186.4,377.2 L1186.4,376.3 L1186.4,375.4 L1186.4,374.5 L1186.4,373.6 L1186.4,372.7 L1186.4,371.8 L1186.4,370.9 L1186.4,370.0 L1186.4,369.1 L1186.4,368.2 L1186.4,367.3 L1186.4,366.4 L1186.5,365.5 L1186.5,364.6 L1186.5,363.7 L1186.5,362.8 L1186.5,361.9 L1186.5,361.0 L1186.5,360.1 L1186.5,359.2 L1186.5,358.3 L1186.5,357.4 L1186.5,356.5 L1186.5,355.6 L1186.5,354.7 L1186.5,353.8 L1186.5,352.9 L1186.5,352.0 L1186.6,351.1 L1186.6,350.2 L1186.6,349.3 L1186.6,348.4 L1186.6,347.5 L1186.6,346.6 L1186.6,345.7 L1186.6,344.8 L1186.6,343.9 L1186.6,343.0 L1186.6,342.1 L1186.6,341.2 L1186.6,340.3 L1186.6,339.4 L1186.6,338.5 L1186.6,337.6 L1186.7,336.7 L1186.7,335.8 L1186.7,334.9 L1186.7,334.0 L1186.7,333.1 L1186.7,332.2 L1186.7,331.3 L1186.7,330.4 L1186.7,329.5 L1186.7,328.6 L1186.7,327.7 L1186.7,326.8 L1186.7,325.9 L1186.7,325.0 L1186.7,324.1 L1186.7,323.2 L1186.7,322.3 L1186.7,321.4 L1186.8,320.5 L1186.8,319.6 L1186.8,318.7 L1186.8,317.8 L1186.8,316.9 L1186.8,316.0 L1186.8,315.1 L1186.8,314.2 L1186.8,313.3 L1186.8,312.4 L1186.8,311.5 L1186.8,310.6 L1186.8,309.7 L1186.8,308.8 L1186.8,307.9 L1186.8,307.1 L1186.8,306.2 L1186.9,305.3 L1186.9,304.4 L1186.9,303.5 L1186.9,302.6 L1186.9,301.7 L1186.9,300.8 L1186.9,299.9 L1186.9,299.0 L1186.9,298.1 L1186.9,297.2 L1186.9,296.3 L1186.9,295.4 L1186.9,294.5 L1186.9,293.6 L1186.9,292.7 L1186.9,291.8 L1186.9,290.9 L1186.9,290.0 L1186.9,289.1 L1187.0,288.2 L1187.0,287.3 L1187.0,286.4 L1187.0,285.5 L1187.0,284.6 L1187.0,283.7 L1187.0,282.8 L1187.0,281.9 L1187.0,281.0 L1187.0,280.1 L1187.0,279.2 L1187.0,278.3 L1187.0,277.4 L1187.0,276.5 L1187.0,275.6 L1187.0,274.7 L1187.0,273.8 L1187.0,272.9 L1187.0,272.0 L1187.1,271.1 L1187.1,270.2 L1187.1,269.3 L1187.1,268.4 L1187.1,267.5 L1187.1,266.6 L1187.1,265.7 L1187.1,264.8 L1187.1,263.9 L1187.1,263.0 L1187.1,262.1 L1187.1,261.2 L1187.1,260.3 L1187.1,259.4 L1187.1,258.5 L1187.1,257.6 L1187.1,256.7 L1187.1,255.8 L1187.1,254.9 L1187.1,254.0 L1187.2,253.1 L1187.2,252.2 L1187.2,251.3 L1187.2,250.4 L1187.2,249.5 L1187.2,248.6 L1187.2,247.7 L1187.2,246.8 L1187.2,245.9 L1187.2,245.0 L1187.2,244.1 L1187.2,243.2 L1187.2,242.3 L1187.2,241.4 L1187.2,240.5 L1187.2,239.6 L1187.2,238.7 L1187.2,237.8 L1187.2,236.9 L1187.2,236.0 L1187.2,235.1 L1187.2,234.2 L1187.3,233.3 L1187.3,232.4 L1187.3,231.5 L1187.3,230.6 L1187.3,229.7 L1187.3,228.8 L1187.3,227.9 L1187.3,227.0 L1187.3,226.1 L1187.3,225.2 L1187.3,224.3 L1187.3,223.4 L1187.3,222.5 L1187.3,221.6 L1187.3,220.7 L1187.3,219.8 L1187.3,218.9 L1187.3,218.0 L1187.3,217.1 L1187.3,216.2 L1187.3,215.3 L1187.3,214.4 L1187.3,213.5 L1187.4,212.6 L1187.4,211.7 L1187.4,210.8 L1187.4,209.9 L1187.4,209.0 L1187.4,208.1 L1187.4,207.2 L1187.4,206.3 L1187.4,205.4 L1187.4,204.5 L1187.4,203.6 L1187.4,202.7 L1187.4,201.8 L1187.4,200.9 L1187.4,200.0 M1198.0,200.0 L1198.0,200.9 L1198.0,201.8 L1198.0,202.7 L1198.0,203.6 L1198.0,204.5 L1198.0,205.4 L1198.0,206.3 L1198.0,207.2 L1198.0,208.1 L1198.0,209.0 L1198.0,209.9 L1198.0,210.8 L1198.0,211.7 L1198.0,212.6 L1198.0,213.5 L1198.0,214.4 L1198.0,215.3 L1198.0,216.2 L1198.0,217.1 L1198.0,218.0 L1198.0,218.9 L1198.0,219.8 L1198.0,220.7 L1198.0,221.6 L1198.0,222.5 L1198.0,223.4 L1198.0,224.3 L1198.0,225.2 L1198.0,226.1 L1198.1,227.0 L1198.1,227.9 L1198.1,228.8 L1198.1,229.7 L1198.1,230.6 L1198.1,231.5 L1198.1,232.4 L1198.1,233.3 L1198.1,234.2 L1198.1,235.1 L1198.1,236.0 L1198.1,236.9 L1198.1,237.8 L1198.1,238.7 L1198.1,239.6 L1198.1,240.5 L1198.1,241.4 L1198.1,242.3 L1198.1,243.2 L1198.1,244.1 L1198.1,245.0 L1198.1,245.9 L1198.1,246.8 L1198.1,247.7 L1198.1,248.6 L1198.1,249.5 L1198.1,250.4 L1198.1,251.3 L1198.1,252.2 L1198.1,253.1 L1198.2,254.0 L1198.2,254.9 L1198.2,255.8 L1198.2,256.7 L1198.2,257.6 L1198.2,258.5 L1198.2,259.4 L1198.2,260.3 L1198.2,261.2 L1198.2,262.1 L1198.2,263.0 L1198.2,263.9 L1198.2,264.8 L1198.2,265.7 L1198.3,266.6 L1198.3,267.5 L1198.3,268.4 L1198.3,269.3 L1198.3,270.2 L1198.3,271.1 L1198.3,272.0 L1198.3,272.9 L1198.3,273.8 L1198.3,274.7 L1198.3,275.6 L1198.4,276.5 L1198.4,277.4 L1198.4,278.3 L1198.4,279.2 L1198.4,280.1 L1198.4,281.0 L1198.4,281.9 L1198.4,282.8 L1198.4,283.7 L1198.4,284.6 L1198.5,285.5 L1198.5,286.4 L1198.5,287.3 L1198.5,288.2 L1198.5,289.1 L1198.5,290.0 L1198.5,290.9 L1198.5,291.8 L1198.5,292.7 L1198.6,293.6 L1198.6,294.5 L1198.6,295.4 L1198.6,296.3 L1198.6,297.2 L1198.6,298.1 L1198.6,299.0 L1198.6,299.9 L1198.6,300.8 L1198.7,301.7 L1198.7,302.6 L1198.7,303.5 L1198.7,304.4 L1198.7,305.3 L1198.7,306.2 L1198.7,307.1 L1198.7,308.0 L1198.7,308.9 L1198.8,309.8 L1198.8,310.7 L1198.8,311.6 L1198.8,312.5 L1198.8,313.4 L1198.8,314.3 L1198.8,315.2 L1198.8,316.1 L1198.9,317.0 L1198.9,317.9 L1198.9,318.8 L1198.9,319.7 L1198.9,320.6 L1198.9,321.5 L1198.9,322.4 L1198.9,323.3 L1199.0,324.2 L1199.0,325.1 L1199.0,326.0 L1199.0,326.9 L1199.0,327.8 L1199.0,328.7 L1199.0,329.6 L1199.0,330.5 L1199.1,331.4 L1199.1,332.3 L1199.1,333.2 L1199.1,334.1 L1199.1,335.0 L1199.1,335.9 L1199.1,336.8 L1199.1,337.7 L1199.2,338.6 L1199.2,339.5 L1199.2,340.4 L1199.2,341.3 L1199.2,342.2 L1199.2,343.1 L1199.2,344.0 L1199.2,344.9 L1199.3,345.8 L1199.3,346.7 L1199.3,347.6 L1199.3,348.5 L1199.3,349.4 L1199.3,350.3 L1199.3,351.2 L1199.3,352.1 L1199.4,353.0 L1199.4,353.9 L1199.4,354.8 L1199.4,355.7 L1199.4,356.6 L1199.4,357.5 L1199.4,358.4 L1199.4,359.3 L1199.5,360.2 L1199.5,361.1 L1199.5,362.0 L1199.5,362.9 L1199.5,363.8 L1199.5,364.7 L1199.5,365.6 L1199.5,366.5 L1199.6,367.4 L1199.6,368.3 L1199.6,369.2 L1199.6,370.1 L1199.6,371.0 L1199.6,371.9 L1199.6,372.8 L1199.6,373.7 L1199.7,374.6 L1199.7,375.5 L1199.7,376.4 L1199.7,377.3 L1199.7,378.2 L1199.7,379.1 L1199.7,380.0 L1199.7,380.9 L1199.8,381.8 L1199.8,382.7 L1199.8,383.6 L1199.8,384.5 L1199.8,385.4 L1199.8,386.3 L1199.8,387.2 L1199.8,388.1 L1199.9,389.0 L1199.9,389.9 L1199.9,390.8 L1199.9,391.7 L1199.9,392.6 L1199.9,393.5 L1199.9,394.4 L1199.9,395.3 L1199.9,396.2 L1200.0,397.1 L1200.0,398.0 L1200.0,398.9 L1200.0,399.8 L1200.0,400.7 L1200.0,401.6 L1200.0,402.5 L1200.0,403.4 L1200.1,404.3 L1200.1,405.2 L1200.1,406.1 L1200.1,407.0 L1200.1,407.9 L1200.1,408.8 L1200.1,409.7 L1200.1,410.6 L1200.1,411.5 L1200.2,412.4 L1200.2,413.3 L1200.2,414.2 L1200.2,415.1 L1200.2,416.0 L1200.2,416.9 L1200.2,417.8 L1200.2,418.7 L1200.2,419.6 L1200.3,420.5 L1200.3,421.4 L1200.3,422.3 L1200.3,423.2 L1200.3,424.1 L1200.3,425.0 L1200.3,425.9 L1200.3,426.7 L1200.4,427.6 L1200.4,428.5 L1200.4,429.4 L1200.4,430.3 L1200.4,431.2 L1200.4,432.1 L1200.4,433.0 L1200.4,433.9 L1200.4,434.8 L1200.5,435.7 L1200.5,436.6 L1200.5,437.5 L1200.5,438.4 L1200.5,439.3 L1200.5,440.2 L1200.5,441.1 L1200.5,442.0 L1200.5,442.9 L1200.6,443.8 L1200.6,444.7 L1200.6,445.6 L1200.6,446.5 L1200.6,447.4 L1200.6,448.3 L1200.6,449.2 L1200.6,450.1 L1200.6,451.0 L1200.7,451.9 L1200.7,452.8 L1200.7,453.7 L1200.7,454.6 L1200.7,455.5 L1200.7,456.4 L1200.7,457.3 L1200.7,458.2 L1200.8,459.1 L1200.8,460.0 L1200.8,460.9 L1200.8,461.8 L1200.8,462.7 L1200.8,463.6 L1200.8,464.5 L1200.8,465.4 L1200.8,466.3 L1200.9,467.2 L1200.9,468.1 L1200.9,469.0 L1200.9,469.9 L1200.9,470.8 L1200.9,471.7 L1200.9,472.6 L1200.9,473.5 L1200.9,474.4 L1201.0,475.3 L1201.0,476.2 L1201.0,477.1 L1201.0,478.0 L1201.0,478.9 L1201.0,479.8 L1201.0,480.7 L1201.0,481.6 L1201.1,482.5 L1201.1,483.4 L1201.1,484.3 L1201.1,485.2 L1201.1,486.1 L1201.1,487.0 L1201.1,487.9 L1201.1,488.8 L1201.2,489.7 L1201.2,490.6 L1201.2,491.5 L1201.2,492.4 L1201.2,493.3 L1201.2,494.2 L1201.2,495.1 L1201.2,496.0 L1201.2,496.9 L1201.3,497.8 L1201.3,498.7 L1201.3,499.6 L1201.3,500.5 L1201.3,501.4 L1201.3,502.3 L1201.3,503.2 L1201.3,504.1 L1201.4,505.0 L1201.4,505.9 L1201.4,506.8 L1201.4,507.7 L1201.4,508.6 L1201.4,509.5 L1201.4,510.4 L1201.4,511.3 L1201.5,512.2 L1201.5,513.1 L1201.5,514.0 L1201.5,514.9 L1201.5,515.8 L1201.5,516.7 L1201.5,517.6 L1201.6,518.5 L1201.6,519.4 L1201.6,520.3 L1201.6,521.2 L1201.6,522.1 L1201.6,523.0 L1201.6,523.9 L1201.6,524.8 L1201.7,525.7 L1201.7,526.6 L1201.7,527.5 L1201.7,528.4 L1201.7,529.3 L1201.7,530.2 L1201.7,531.1 L1201.8,532.0 L1201.8,532.9 L1201.8,533.8 L1201.8,534.7 L1201.8,535.6 L1201.8,536.5 L1201.8,537.4 L1201.8,538.3 L1201.9,539.2 L1201.9,540.1 L1201.9,541.0 L1201.9,541.9 L1201.9,542.8 L1201.9,543.7 L1201.9,544.6 L1202.0,545.5 L1202.0,546.4 L1202.0,547.3 L1202.0,548.2 L1202.0,549.1 L1202.0,550.0 L1202.0,550.9 L1202.1,551.8 L1202.1,552.7 L1202.1,553.6 L1202.1,554.5 L1202.1,555.4 L1202.1,556.3 L1202.2,557.2 L1202.2,558.1 L1202.2,559.0 L1202.2,559.9 L1202.2,560.8 L1202.2,561.7 L1202.2,562.6 L1202.3,563.5 L1202.3,564.4 L1202.3,565.3 L1202.3,566.2 L1202.3,567.1 L1202.3,568.0 L1202.4,568.9 L1202.4,569.8 L1202.4,570.7 L1202.4,571.6 L1202.4,572.5 L1202.4,573.4 L1202.5,574.3 L1202.5,575.2 L1202.5,576.1 L1202.5,577.0 L1202.5,577.9 L1202.5,578.8 L1202.6,579.7 L1202.6,580.6 L1202.6,581.5 L1202.6,582.4 L1202.6,583.3 L1202.6,584.2 L1202.7,585.1 L1202.7,586.0 L1202.7,586.9 L1202.7,587.8 L1202.7,588.7 L1202.7,589.6 L1202.8,590.5 L1202.8,591.4 L1202.8,592.3 L1202.8,593.2 L1202.8,594.1 L1202.8,595.0 L1202.9,595.9 L1202.9,596.8 L1202.9,597.7 L1202.9,598.6 L1202.9,599.5 L1203.0,600.4 L1203.0,601.3 L1203.0,602.2 L1203.0,603.1 L1203.0,604.0 L1203.0,604.9 L1203.1,605.8 L1203.1,606.7 L1203.1,607.6 L1203.1,608.5 L1203.1,609.4 L1203.2,610.3 L1203.2,611.2 L1203.2,612.1 L1203.2,613.0 L1203.2,613.9 L1203.3,614.8 L1203.3,615.7 L1203.3,616.6 L1203.3,617.5 L1203.3,618.4 L1203.4,619.3 L1203.4,620.2 L1203.4,621.1 L1203.4,622.0 L1203.4,622.9 L1203.4,623.8 L1203.5,624.7 L1203.5,625.6 L1203.5,626.5 L1203.5,627.4 L1203.5,628.3 L1203.6,629.2 L1203.6,630.1 L1203.6,631.0 L1203.6,631.9 L1203.6,632.8 L1203.7,633.7 L1203.7,634.6 L1203.7,635.5 L1203.7,636.4 L1203.7,637.3 L1203.8,638.2 L1203.8,639.1 L1203.8,640.0 L1203.8,640.9 L1203.8,641.8 L1203.9,642.7 L1203.9,643.6 L1203.9,644.5 L1203.9,645.4 L1203.9,646.3 L1204.0,647.2 L1204.0,648.1 L1204.0,649.0 L1204.0,649.9 L1204.1,650.8 L1204.1,651.7 L1204.1,652.6 L1204.1,653.5 L1204.1,654.4 L1204.2,655.3 L1204.2,656.2 L1204.2,657.1 L1204.2,658.0 L1204.2,658.9 L1204.3,659.8 L1204.3,660.7 L1204.3,661.6 L1204.3,662.5 L1204.3,663.4 L1204.4,664.3 L1204.4,665.2 L1204.4,666.1 L1204.4,667.0 L1204.4,667.9 L1204.5,668.8 L1204.5,669.7 L1204.5,670.6 L1204.5,671.5 L1204.6,672.4 L1204.6,673.3 L1204.6,674.2 L1204.6,675.1 L1204.6,676.0 L1204.7,676.9 L1204.7,677.8 L1204.7,678.7 L1204.7,679.6 L1204.7,680.5 L1204.8,681.4 L1204.8,682.3 L1204.8,683.2 L1204.8,684.1 L1204.9,685.0 L1204.9,685.9 L1204.9,686.8 L1204.9,687.7 L1204.9,688.6 L1205.0,689.5 L1205.0,690.4 L1205.0,691.3 L1205.0,692.2 L1205.0,693.1 L1205.1,694.0 L1205.1,694.9 L1205.1,695.8 L1205.1,696.7 L1205.2,697.6 L1205.2,698.5 L1205.2,699.4 L1205.2,700.3 L1205.2,701.2 L1205.3,702.1 L1205.3,703.0 L1205.3,703.9 L1205.3,704.8 L1205.4,705.7 L1205.4,706.6 L1205.4,707.5 L1205.4,708.4 L1205.4,709.3 L1205.5,710.2 L1205.5,711.1 L1205.5,712.0 L1205.5,712.9 L1205.5,713.8 L1205.6,714.7 L1205.6,715.6 L1205.6,716.5 L1205.6,717.4 L1205.7,718.3 L1205.7,719.2 L1205.7,720.1 L1205.7,721.0 L1205.7,721.9 L1205.8,722.8 L1205.8,723.7 L1205.8,724.6 L1205.8,725.4 L1205.9,726.3 L1205.9,727.2 L1205.9,728.1 L1205.9,729.0 L1205.9,729.9 L1206.0,730.8 L1206.0,731.7 L1206.0,732.6 L1206.0,733.5 L1206.0,734.4 L1206.1,735.3 L1206.1,736.2 L1206.1,737.1 L1206.1,738.0 L1206.1,738.9 L1206.2,739.8 L1206.2,740.7 L1206.2,741.6 L1206.2,742.5 L1206.2,743.4 L1206.3,744.3 L1206.3,745.2 L1206.3,746.1 L1206.3,747.0 L1206.3,747.9 L1206.3,748.8 L1206.4,749.7 L1206.4,750.6 L1206.4,751.5 L1206.4,752.4 L1206.4,753.3 L1206.5,754.2 L1206.5,755.1 L1206.5,756.0 L1206.5,756.9 L1206.5,757.8 L1206.6,758.7 L1206.6,759.6 L1206.6,760.5 L1206.6,761.4 L1206.6,762.3 L1206.7,763.2 L1206.7,764.1 L1206.7,765.0 L1206.7,765.9 L1206.8,766.8 L1206.8,767.7 L1206.8,768.6 L1206.8,769.5 L1206.8,770.4 L1206.9,771.3 L1206.9,772.2 L1206.9,773.1 L1206.9,774.0 L1207.0,774.9 L1207.0,775.8 L1207.0,776.7 L1207.0,777.6 L1207.1,778.5 L1207.1,779.4 L1207.1,780.3 L1207.1,781.2 L1207.2,782.1 L1207.2,783.0 L1207.2,783.9 L1207.2,784.8 L1207.3,785.7 L1207.3,786.6 L1207.3,787.5 L1207.4,788.4 L1207.4,789.3 L1207.4,790.2 L1207.5,791.1 L1207.5,792.0 L1207.5,792.9 L1207.5,793.8 L1207.6,794.7 L1207.6,795.6 L1207.7,796.5 L1207.7,797.4 L1207.7,798.3 L1207.8,799.2 L1207.8,800.1 L1207.8,801.0 L1207.9,801.9 L1207.9,802.8 L1208.0,803.7 L1208.0,804.6 L1208.1,805.5 L1208.1,806.4 L1208.2,807.3 L1208.2,808.2 L1208.3,809.1 L1208.3,810.0 L1208.4,810.9 L1208.4,811.8 L1208.5,812.7 L1208.6,813.6 L1208.6,814.5 L1208.7,815.4 L1208.8,816.3 L1208.8,817.2 L1208.9,818.1 L1209.0,819.0 L1209.0,819.9 L1209.1,820.8 L1209.2,821.7 L1209.2,822.6 L1209.3,823.5 L1209.4,824.4 L1209.5,825.2 L1209.6,826.1 L1209.6,827.0 L1209.7,827.9 L1209.8,828.8 L1209.9,829.7 L1210.0,830.6 L1210.0,831.5 L1210.1,832.4 L1210.2,833.3 L1210.3,834.2 L1210.4,835.1 L1210.5,836.0 L1210.5,836.9 L1210.6,837.8 L1210.7,838.7 L1210.8,839.6 L1210.9,840.5 L1211.0,841.4 L1211.0,842.3 L1211.1,843.2 L1211.2,844.1 L1211.3,845.0 L1211.4,845.9 L1211.5,846.8 L1211.6,847.6 L1211.7,848.5 L1211.8,849.4 L1211.9,850.3 L1212.0,851.2 L1212.1,852.1 L1212.2,853.0 L1212.3,853.9 L1212.4,854.8 L1212.5,855.7 L1212.6,856.6 L1212.7,857.5 L1212.8,858.4 L1212.9,859.3 L1213.0,860.2 L1213.1,861.1 L1213.2,861.9 L1213.3,862.8 L1213.5,863.7 L1213.6,864.6 L1213.7,865.5 L1213.8,866.4 L1213.9,867.3 L1214.0,868.2 L1214.1,869.1 L1214.3,870.0 L1214.4,870.9 L1214.5,871.8 L1214.6,872.7 L1214.7,873.6 L1214.8,874.4 L1215.0,875.3 L1215.1,876.2 L1215.2,877.1 L1215.3,878.0 L1215.5,878.9 L1215.6,879.8 L1215.7,880.7 L1215.9,881.6 L1216.0,882.5 L1216.1,883.4 L1216.3,884.2 L1216.4,885.1 L1216.5,886.0 L1216.7,886.9 L1216.8,887.8 L1217.0,888.7 L1217.1,889.6 L1217.3,890.5 L1217.4,891.3 L1217.6,892.2 L1217.7,893.1 L1217.9,894.0 L1218.1,894.9 L1218.2,895.8 L1218.4,896.7 L1218.6,897.5 L1218.7,898.4 L1218.9,899.3 L1219.1,900.2 L1219.3,901.1 L1219.4,902.0 L1219.6,902.8 L1219.8,903.7 L1220.0,904.6 L1220.2,905.5 L1220.4,906.3 L1220.6,907.2 L1220.8,908.1 L1221.0,909.0 L1221.2,909.9 L1221.4,910.7 L1221.6,911.6 L1221.9,912.5 L1222.1,913.3 L1222.3,914.2 L1222.6,915.1 L1222.8,915.9 L1223.1,916.8 L1223.3,917.7 L1223.6,918.6 L1223.9,919.4 L1224.2,920.1 L1224.5,921.0 L1224.8,922.1 L1225.1,923.0 L1225.4,923.4 L1225.7,924.4 L1226.1,925.6 L1226.4,926.1 L1226.8,927.1 L1227.2,927.8 L1227.7,928.8 L1228.1,929.6 L1228.6,930.3 L1229.1,930.8 L1229.6,931.6 L1230.1,933.1 L1230.7,932.7 L1231.2,933.2 L1231.8,933.9 L1232.5,935.6 L1233.1,935.0 L1233.8,936.8 L1234.5,936.1 L1235.2,937.5 L1235.9,938.0 L1236.7,938.1 L1237.5,938.9 L1238.2,940.3 L1239.0,940.3 L1239.8,941.0 L1240.6,941.0 L1241.4,941.6 L1242.2,941.7 L1243.0,941.7 L1243.8,942.7 L1244.6,943.7 L1245.4,943.4 L1246.2,943.9 L1247.1,944.1 L1247.9,944.9 L1248.8,943.7 L1249.7,945.2 L1250.6,944.0 L1251.5,944.4 L1252.3,945.0 L1253.2,944.3 L1254.1,945.3 L1255.0,945.3 L1255.9,945.5 L1256.8,945.0 L1257.7,944.9 L1258.6,945.5 L1259.5,945.0 L1260.4,945.5 L1261.3,946.6 L1262.2,945.9 L1263.1,945.6 L1264.0,945.7 L1264.9,946.3 L1265.8,945.3 L1266.7,944.8 L1267.6,945.9 L1268.5,946.1 L1269.4,946.2 L1270.3,946.2 L1271.2,945.7 L1272.0,946.6 L1272.9,947.9 L1273.8,947.0 L1274.6,947.8 L1275.5,947.5 L1276.3,948.2 L1277.1,948.8 L1277.9,949.4 L1278.7,949.6 L1279.4,949.8 L1280.1,950.5 L1280.8,950.5 L1281.6,952.2 L1282.4,951.8 L1283.3,951.9 L1284.2,951.8 L1285.1,952.5 L1286.0,952.5 L1286.9,952.3 L1287.8,952.6 L1288.7,951.2 L1289.6,952.6 L1290.5,952.5 L1291.4,951.6 L1292.3,952.0 L1293.2,953.0 L1294.0,952.2 L1294.9,953.3 L1295.8,951.9 L1296.7,953.2 L1297.6,952.7 L1298.5,952.7 L1299.4,953.5 L1300.3,953.5 L1301.2,952.3 L1302.1,952.2 L1303.0,953.1 L1303.8,952.3 L1304.7,952.7 L1305.6,952.2 L1306.5,952.6 L1307.3,952.4 L1308.2,951.3 L1309.1,952.3 L1310.0,952.0 L1310.8,952.3 L1311.6,952.8 L1312.4,953.3 L1313.2,952.2 L1314.1,954.1 L1314.9,954.0 L1315.8,955.2 L1316.7,955.8 L1317.6,955.0 L1318.5,955.1 L1319.4,955.6 L1320.2,955.0 L1321.1,956.1 L1322.0,955.8 L1322.9,955.4 L1323.8,955.0 L1324.6,956.5 L1325.5,956.5 L1326.4,957.3 L1327.2,956.2 L1328.1,957.8 L1328.9,957.6 L1329.8,957.6 L1330.6,958.4 L1331.5,959.2 L1332.3,958.5 L1333.2,959.0 L1334.1,958.6 L1334.9,959.6 L1335.8,959.4 L1336.7,960.1 L1337.5,960.6 L1338.4,960.6 L1339.3,960.9 L1340.1,961.7 L1341.0,960.5 L1341.9,960.5 L1342.8,961.6 L1343.7,961.3 L1344.6,960.6 L1345.5,961.6 L1346.4,962.2 L1347.2,960.5 L1348.1,961.3 L1349.0,960.6 L1349.9,961.6 L1350.8,961.1 L1351.7,960.7 L1352.6,961.0 L1353.5,959.9 L1354.4,960.6 L1355.3,960.6 L1356.1,960.3 L1357.0,962.1 L1357.9,961.2 L1358.8,961.3 L1359.7,961.3 L1360.6,962.1 L1361.5,961.5 L1362.4,961.8 L1363.3,961.5 L1364.2,961.2 L1365.1,960.8 L1366.0,961.0 L1366.9,960.4 L1367.8,961.6 L1368.7,962.4 L1369.6,962.8 L1370.5,962.7 L1371.4,961.8 L1372.3,961.4 L1373.2,962.0 L1374.1,961.4 L1375.0,961.7 L1375.9,961.4 L1376.8,961.5 L1377.7,960.7 L1378.6,961.5 L1379.5,960.8 L1380.4,962.1 L1381.3,961.1 L1382.2,961.1 L1383.1,960.7 L1384.0,960.7 L1384.9,961.2 L1385.8,961.8 L1386.7,961.1 L1387.6,960.8 L1388.5,960.3 L1389.3,960.6 L1390.2,961.6 L1391.1,960.0 L1392.0,960.4 L1392.9,960.0 L1393.7,960.0 L1394.6,959.1 L1395.4,958.1 L1396.2,958.1 L1397.0,957.7 L1397.8,957.4 L1398.6,956.2 L1399.4,957.0 L1400.2,956.1 L1401.1,957.3 L1401.9,956.7 L1402.8,956.2 L1403.6,955.8 L1404.4,954.9 L1405.3,955.4 L1406.1,954.5 L1407.0,954.3 L1407.8,953.7 L1408.7,953.2 L1409.5,953.4 L1410.4,952.1 L1411.2,951.7 L1412.1,952.2 L1412.9,951.5 L1413.8,951.6 L1414.7,951.3 L1415.6,952.7 L1416.5,951.5 L1417.4,952.3 L1418.3,952.8 L1419.2,951.3 L1420.1,953.0 L1421.0,952.6 L1421.8,953.2 L1422.6,953.7 L1423.4,953.4 L1424.0,954.1 L1424.6,955.7 L1425.2,955.8 L1425.7,956.2 L1426.3,957.9 L1426.9,957.8 L1427.5,959.4 L1428.2,960.1 L1429.1,960.2 L1429.9,961.0 L1430.8,960.6 L1431.6,960.4 L1432.5,960.5 L1433.4,960.7 L1434.3,961.0 L1435.2,961.1 L1436.1,962.2 L1436.9,961.2 L1437.8,961.4 L1438.7,962.1 L1439.6,961.3 L1440.5,962.1 L1441.4,962.1 L1442.3,961.3 L1443.2,961.2 L1444.1,961.7 L1445.0,961.8 L1445.9,961.5 L1446.8,961.2 L1447.7,960.9 L1448.6,961.6 L1449.5,962.2 L1450.4,962.1 L1451.3,961.7 L1452.2,962.8 L1453.1,961.7 L1454.0,962.2 L1454.9,962.0 L1455.8,961.8 L1456.7,962.6 L1457.6,962.1 L1458.5,962.1 L1459.4,962.1 L1460.3,962.7 L1461.2,962.5 L1462.1,962.4 L1463.0,962.2 L1463.9,962.9 L1464.8,962.4 L1465.7,961.7 L1466.6,962.0 L1467.5,962.9 L1468.4,962.2 L1469.3,962.7 L1470.2,962.7 L1471.1,961.9 L1472.0,963.1 L1472.9,963.3 L1473.8,963.0 L1474.7,963.6 L1475.6,963.1 L1476.5,963.8 L1477.4,962.5 L1478.3,963.2 L1479.2,962.9 L1480.1,963.0 L1481.0,964.2 L1481.9,964.2 L1482.8,963.6 L1483.7,963.3 L1484.6,964.2 L1485.5,963.4 L1486.4,963.5 L1487.3,963.5 L1488.2,964.2 L1489.1,964.0 L1490.0,963.4 L1490.9,963.8 L1491.8,964.3 L1492.7,964.3 L1493.6,964.9 L1494.4,964.4 L1495.3,964.5 L1496.2,964.2 L1497.1,964.3 L1498.0,964.9 L1498.9,964.5 L1499.8,964.7 L1500.7,964.1 L1501.6,963.6 L1502.5,964.1 L1503.4,964.6 L1504.3,965.3 L1505.2,964.9 L1506.1,964.7 L1507.0,965.0 L1507.9,965.0 L1508.8,965.0 L1509.7,965.3 L1510.6,965.0 L1511.5,964.3 L1512.4,964.2 L1513.3,964.5 L1514.2,965.4 L1515.1,965.7 L1516.0,964.9 L1516.9,965.9 L1517.8,965.2 L1518.7,965.0 L1519.6,965.1 L1520.5,965.3 L1521.4,964.8 L1522.3,965.1 L1523.2,964.9 L1524.1,963.7 L1525.0,964.6 L1525.9,965.3 L1526.8,964.9 L1527.7,964.3 L1528.6,964.6 L1529.5,964.7 L1530.4,964.1 L1531.3,964.5 L1532.2,964.1 L1533.1,963.5 L1534.0,964.0 L1534.8,962.9 L1535.7,963.5 L1536.6,962.8 L1537.5,963.9 L1538.4,962.4 L1539.3,963.3 L1540.2,963.3 L1541.1,963.0 L1542.0,961.9 L1542.9,961.7 L1543.8,963.1 L1544.7,962.3 L1545.6,962.3 L1546.5,962.6 L1547.4,962.2 L1548.3,962.2 L1549.2,962.3 L1550.1,962.4 L1551.0,961.4 L1551.9,962.3 L1552.8,962.6 L1553.7,962.0 L1554.6,962.1 L1555.5,962.8 L1556.4,962.0 L1557.3,962.8 L1558.2,963.0 L1559.1,963.1 L1560.0,962.9 L1560.9,962.2 L1561.8,962.1 L1562.7,963.1 L1563.6,962.5 L1564.5,963.5 L1565.4,963.1 L1566.3,962.7 L1567.2,962.6 L1568.1,962.4 L1569.0,962.6 L1569.9,962.2 L1570.8,962.4 L1571.7,962.7 L1572.6,962.7 L1573.5,962.5 L1574.4,961.8 L1575.3,961.8 L1576.2,962.0 L1577.1,961.6 L1578.0,962.0 L1578.9,962.2 L1579.8,961.9 L1580.7,962.4 L1581.6,962.2 L1582.5,961.7 L1583.4,962.4 L1584.3,961.7 L1585.2,962.2 L1586.0,961.4 L1586.9,961.7 L1587.8,962.1 L1588.7,961.1 L1589.6,961.6 L1590.5,962.0 L1591.3,961.5 L1592.2,960.3 L1593.1,961.1 L1593.9,961.2 L1594.8,960.3 L1595.7,960.5 L1596.5,960.2 L1597.4,958.5 L1598.3,959.1 L1599.1,958.7 L1600.0,958.2 L1600.8,957.7 L1601.7,957.9 L1602.5,958.6 L1603.3,956.9 L1604.1,957.2 L1604.9,956.0 L1605.8,956.2 L1606.6,955.8 L1607.4,954.5 L1608.2,954.0 L1609.0,954.8 L1609.9,954.3 L1610.7,954.4 L1611.6,954.6 L1612.5,953.5 L1613.4,954.0 L1614.3,953.4 L1615.1,952.7 L1616.0,952.7 L1616.9,953.0 L1617.8,952.3 L1618.7,952.4 L1619.6,953.2 L1620.5,952.1 L1621.4,952.6 L1622.3,952.7 L1623.1,952.4 L1624.0,953.1 L1624.7,953.2 L1625.5,953.3 L1626.2,954.7 L1627.0,955.3 L1627.8,954.8 L1628.5,956.3 L1629.3,956.4 L1630.0,956.2 L1630.7,957.1 L1631.4,958.3 L1632.2,957.5 L1633.0,959.0 L1633.8,959.3 L1634.7,959.8 L1635.6,958.7 L1636.5,959.8 L1637.4,959.7 L1638.3,958.8 L1639.2,959.2 L1640.1,958.9 L1641.0,958.1 L1641.8,959.0 L1642.7,958.4 L1643.6,957.7 L1644.5,958.4 L1645.4,958.0 L1646.3,958.1 L1647.2,958.0 L1648.0,957.4 L1648.9,957.0 L1649.8,958.1 L1650.7,958.0 L1651.5,956.6 L1652.4,957.0 L1653.3,956.4 L1654.1,955.8 L1654.9,955.7 L1655.8,955.0 L1656.6,956.0 L1657.4,954.1 L1658.2,954.1 L1659.0,952.7 L1659.9,953.3 L1660.7,952.3 L1661.5,951.1 L1662.4,952.0 L1663.2,952.2 L1664.1,951.3 L1664.9,951.5 L1665.8,951.1 L1666.7,951.1 L1667.6,949.9 L1668.5,951.0 L1669.4,950.1 L1670.3,950.2 L1671.1,950.1 L1672.0,949.9 L1672.9,950.4 L1673.8,949.5 L1674.7,949.8 L1675.6,951.2 L1676.5,950.6 L1677.4,950.0 L1678.3,949.7 L1679.2,950.0 L1680.0,949.1 L1680.9,948.6 L1681.8,948.8 L1682.7,948.4 L1683.5,948.5 L1684.4,947.3 L1685.2,947.6 L1686.1,947.3 L1686.9,947.5 L1687.8,946.9 L1688.6,946.5 L1689.5,945.8 L1690.3,946.9 L1691.2,945.8 L1692.0,945.7 L1692.9,945.1 L1693.7,944.9 L1694.6,944.3 L1695.5,944.9 L1696.3,944.5 L1697.2,943.6 L1698.1,944.0 L1698.9,943.0 L1699.8,942.4 L1700.6,942.7 L1701.5,943.3 L1702.4,942.4 L1703.2,941.4 L1704.1,942.4 L1705.0,941.9 L1705.8,941.4 L1706.7,941.4 L1707.6,940.4 L1708.4,940.6 L1709.3,940.7 L1710.1,939.8 L1711.0,939.6 L1711.9,940.0 L1712.7,940.4 L1713.6,938.1 L1714.4,938.7 L1715.2,937.5 L1716.1,937.9 L1716.9,937.0 L1717.8,937.2 L1718.6,936.3 L1719.4,936.5 L1720.3,935.7 L1721.1,936.5 L1721.9,935.4 L1722.7,935.1 L1723.6,934.5 L1724.4,934.3 L1725.2,933.6 L1726.0,933.6 L1726.7,932.4 L1727.5,933.1 L1728.3,932.0 L1729.0,931.3 L1729.7,931.2 L1730.4,930.5 L1731.1,930.3 L1731.8,928.8 L1732.5,928.3 L1733.2,927.6 L1734.0,926.4 L1734.7,926.7 L1735.4,925.8 L1736.0,926.1 L1736.7,924.3 L1737.4,924.9 L1738.1,924.6 L1738.8,922.8 L1739.6,923.5 L1740.5,922.9 L1741.4,923.3 L1742.3,923.0 L1743.2,922.2 L1744.1,923.2 L1744.9,924.5 L1745.8,924.2 L1746.7,923.9 L1747.6,924.0 L1748.5,924.1 L1749.4,924.3 L1750.3,924.1 L1751.2,923.6 L1752.0,924.1 L1752.9,923.8 L1753.8,922.9 L1754.7,922.8 L1755.6,922.3 L1756.4,922.6 L1757.3,921.7 L1758.2,922.6 L1759.1,923.6 L1760.0,922.4 L1760.9,921.7 L1761.8,921.2 L1762.6,920.4 L1763.5,920.2 L1764.4,920.7 L1765.3,920.7 L1766.2,921.3 L1767.0,920.1 L1767.9,920.1 L1768.8,919.7 L1769.7,920.1 L1770.5,919.3 L1771.4,919.5 L1772.2,919.3 L1773.0,919.4 L1773.9,918.7 L1774.7,918.1 L1775.5,917.8 L1776.3,918.0 L1777.1,917.0 L1777.9,917.3 L1778.7,916.5 L1779.6,915.6 L1780.5,915.7 L1781.3,915.0 L1782.2,915.4 L1783.1,915.8 L1784.0,915.4 L1784.9,915.9 L1785.8,914.4 L1786.7,915.8 L1787.6,916.0 L1788.5,915.3 L1789.3,916.4"/>
</g>
<g stroke="#151515" stroke-width="2.65" fill="none" stroke-linecap="round" stroke-linejoin="round">
<path d="M956.1,1001.7 H1846.6"/>
<path d="M956.1,1001.7 V1013.5"/>
<path d="M1000.6,1001.7 V1010.4000000000001"/>
<path d="M1045.1,1001.7 V1010.4000000000001"/>
<path d="M1089.6,1001.7 V1010.4000000000001"/>
<path d="M1134.2,1001.7 V1013.5"/>
<path d="M1178.7,1001.7 V1010.4000000000001"/>
<path d="M1223.2,1001.7 V1010.4000000000001"/>
<path d="M1267.7,1001.7 V1010.4000000000001"/>
<path d="M1312.3,1001.7 V1013.5"/>
<path d="M1356.8,1001.7 V1010.4000000000001"/>
<path d="M1401.3,1001.7 V1010.4000000000001"/>
<path d="M1445.8,1001.7 V1010.4000000000001"/>
<path d="M1490.4,1001.7 V1013.5"/>
<path d="M1534.9,1001.7 V1010.4000000000001"/>
<path d="M1579.4,1001.7 V1010.4000000000001"/>
<path d="M1623.9,1001.7 V1010.4000000000001"/>
<path d="M1668.5,1001.7 V1013.5"/>
<path d="M1713.0,1001.7 V1010.4000000000001"/>
<path d="M1757.5,1001.7 V1010.4000000000001"/>
<path d="M1802.0,1001.7 V1010.4000000000001"/>
<path d="M1846.6,1001.7 V1013.5"/>
</g>
<g font-family='"Liberation Sans", sans-serif' font-size="43.5" text-anchor="middle" fill="#000">
<text x="956.1" y="1067.7">200</text>
<text x="1134.2" y="1067.7">400</text>
<text x="1312.3" y="1067.7">600</text>
<text x="1490.4" y="1067.7">800</text>
<text x="1668.5" y="1067.7">1000</text>
<text x="1846.6" y="1067.7">1200</text>
</g>
<text x="1225.9" y="1128.7" font-family='"Liberation Sans", sans-serif' font-size="46.7" fill="#000">Raman shift / cm<tspan font-size="29.7" dy="-13.8">−1</tspan></text>
<g font-family='"Liberation Sans", sans-serif' font-size="47" fill="#000">
<text transform="translate(1206.3,240) rotate(-90)">F<tspan font-size="30" dy="11.3">2g</tspan><tspan dy="-11.3"> CeO</tspan><tspan font-size="30" dy="11.3">2</tspan></text>
<text transform="translate(1373.7,586.5) rotate(-90)">PdO</text>
<text transform="translate(1634.6,586) rotate(-90)"><tspan font-family='"Liberation Serif", serif' font-style="italic">ν</tspan><tspan dx="1.5"> C-CH</tspan><tspan font-size="30" dy="11.3" dx="0.8">3</tspan></text>
<text transform="translate(1728.4,586) rotate(-90)"><tspan font-family='"Liberation Serif", serif' font-style="italic">ν</tspan><tspan font-size="30" dy="11.3" dx="1.6">1</tspan><tspan dy="-11.3" dx="1.8"> NO</tspan><tspan font-size="30" dy="11.3">3</tspan></text>
</g>
<text x="1418.3" y="674.9" font-family='"Liberation Sans", sans-serif' font-size="59" text-anchor="middle" fill="#000">*</text>
<g fill="#fff"><rect x="786.03" y="1063.45" width="8.63" height="5.25"/><rect x="798.49" y="1063.45" width="8.29" height="5.25"/><g transform="translate(156,152.8) rotate(-90)"><rect x="18.51" y="-4.56" width="9.36" height="5.56"/><rect x="32.08" y="-4.56" width="8.99" height="5.56"/></g><g transform="translate(156,152.8) rotate(-90)"><rect x="41.49" y="-4.56" width="9.36" height="5.56"/><rect x="55.07" y="-4.56" width="8.99" height="5.56"/></g><g transform="translate(156,152.8) rotate(-90)"><rect x="64.46" y="-4.56" width="9.36" height="5.56"/><rect x="78.04" y="-4.56" width="8.99" height="5.56"/></g><g transform="translate(419,246.9) rotate(-90)"><rect x="45.03" y="-4.56" width="9.36" height="5.56"/><rect x="58.60" y="-4.56" width="8.99" height="5.56"/></g><g transform="translate(419,246.9) rotate(-90)"><rect x="68.01" y="-4.56" width="9.36" height="5.56"/><rect x="81.58" y="-4.56" width="8.99" height="5.56"/></g><g transform="translate(599,384.0) rotate(-90)"><rect x="71.56" y="-4.56" width="9.36" height="5.56"/><rect x="85.13" y="-4.56" width="8.99" height="5.56"/></g><g transform="translate(790,404.0) rotate(-90)"><rect x="45.03" y="-4.56" width="9.36" height="5.56"/><rect x="58.60" y="-4.56" width="8.99" height="5.56"/></g><g transform="translate(790,404.0) rotate(-90)"><rect x="68.01" y="-4.56" width="9.36" height="5.56"/><rect x="81.58" y="-4.56" width="8.99" height="5.56"/></g><rect x="1622.42" y="1063.45" width="8.63" height="5.25"/><rect x="1634.89" y="1063.45" width="8.29" height="5.25"/><rect x="1800.52" y="1063.45" width="8.63" height="5.25"/><rect x="1812.99" y="1063.45" width="8.29" height="5.25"/><rect x="1594.74" y="1111.68" width="6.21" height="4.22"/><rect x="1603.57" y="1111.68" width="5.97" height="4.22"/><g transform="translate(1728.4,586) rotate(-90)"><rect x="23.76" y="8.06" width="6.26" height="4.24"/><rect x="32.67" y="8.06" width="6.02" height="4.24"/></g></g>
</svg>
</body></html>
